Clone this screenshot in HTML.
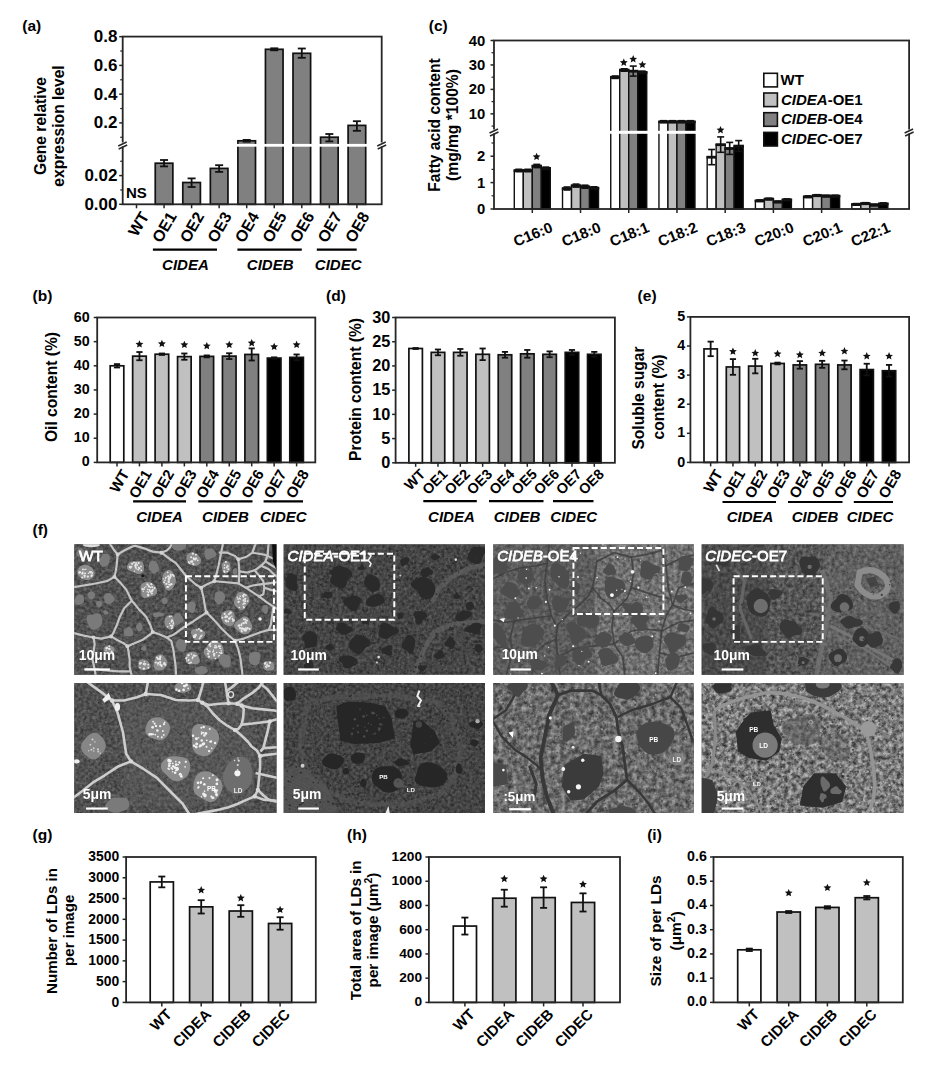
<!DOCTYPE html>
<html><head><meta charset="utf-8"><style>
html,body{margin:0;padding:0;background:#fff;width:934px;height:1067px;overflow:hidden;}
svg{display:block;font-family:"Liberation Sans",sans-serif;}
</style></head><body>
<svg width="934" height="1067" viewBox="0 0 934 1067" font-family="Liberation Sans, sans-serif">
<rect x="0" y="0" width="934" height="1067" fill="#fff"/>
<text x="22.30" y="31.40" font-size="15.5" font-weight="bold" text-anchor="start" fill="#000" >(a)</text>
<rect x="155.25" y="163.20" width="17.60" height="41.10" fill="#808080" stroke="#111" stroke-width="1.7" />
<line x1="164.05" y1="160.00" x2="164.05" y2="166.40" stroke="#111" stroke-width="1.8" />
<line x1="160.05" y1="160.00" x2="168.05" y2="160.00" stroke="#111" stroke-width="1.8" />
<line x1="160.05" y1="166.40" x2="168.05" y2="166.40" stroke="#111" stroke-width="1.8" />
<rect x="182.80" y="182.50" width="17.60" height="21.80" fill="#808080" stroke="#111" stroke-width="1.7" />
<line x1="191.60" y1="178.40" x2="191.60" y2="187.00" stroke="#111" stroke-width="1.8" />
<line x1="187.60" y1="178.40" x2="195.60" y2="178.40" stroke="#111" stroke-width="1.8" />
<line x1="187.60" y1="187.00" x2="195.60" y2="187.00" stroke="#111" stroke-width="1.8" />
<rect x="210.35" y="168.40" width="17.60" height="35.90" fill="#808080" stroke="#111" stroke-width="1.7" />
<line x1="219.15" y1="165.20" x2="219.15" y2="171.90" stroke="#111" stroke-width="1.8" />
<line x1="215.15" y1="165.20" x2="223.15" y2="165.20" stroke="#111" stroke-width="1.8" />
<line x1="215.15" y1="171.90" x2="223.15" y2="171.90" stroke="#111" stroke-width="1.8" />
<rect x="237.90" y="140.80" width="17.60" height="63.50" fill="#808080" stroke="#111" stroke-width="1.7" />
<line x1="246.70" y1="139.90" x2="246.70" y2="141.70" stroke="#111" stroke-width="1.8" />
<line x1="242.70" y1="139.90" x2="250.70" y2="139.90" stroke="#111" stroke-width="1.8" />
<line x1="242.70" y1="141.70" x2="250.70" y2="141.70" stroke="#111" stroke-width="1.8" />
<rect x="265.45" y="49.30" width="17.60" height="155.00" fill="#808080" stroke="#111" stroke-width="1.7" />
<line x1="274.25" y1="48.30" x2="274.25" y2="50.30" stroke="#111" stroke-width="1.8" />
<line x1="270.25" y1="48.30" x2="278.25" y2="48.30" stroke="#111" stroke-width="1.8" />
<line x1="270.25" y1="50.30" x2="278.25" y2="50.30" stroke="#111" stroke-width="1.8" />
<rect x="293.00" y="53.30" width="17.60" height="151.00" fill="#808080" stroke="#111" stroke-width="1.7" />
<line x1="301.80" y1="48.50" x2="301.80" y2="57.80" stroke="#111" stroke-width="1.8" />
<line x1="297.80" y1="48.50" x2="305.80" y2="48.50" stroke="#111" stroke-width="1.8" />
<line x1="297.80" y1="57.80" x2="305.80" y2="57.80" stroke="#111" stroke-width="1.8" />
<rect x="320.55" y="137.20" width="17.60" height="67.10" fill="#808080" stroke="#111" stroke-width="1.7" />
<line x1="329.35" y1="134.00" x2="329.35" y2="141.40" stroke="#111" stroke-width="1.8" />
<line x1="325.35" y1="134.00" x2="333.35" y2="134.00" stroke="#111" stroke-width="1.8" />
<line x1="325.35" y1="141.40" x2="333.35" y2="141.40" stroke="#111" stroke-width="1.8" />
<rect x="348.10" y="125.40" width="17.60" height="78.90" fill="#808080" stroke="#111" stroke-width="1.7" />
<line x1="356.90" y1="121.20" x2="356.90" y2="130.80" stroke="#111" stroke-width="1.8" />
<line x1="352.90" y1="121.20" x2="360.90" y2="121.20" stroke="#111" stroke-width="1.8" />
<line x1="352.90" y1="130.80" x2="360.90" y2="130.80" stroke="#111" stroke-width="1.8" />
<rect x="124.70" y="143.90" width="255.00" height="2.80" fill="#fff" stroke="none" stroke-width="0" />
<rect x="122.70" y="36.60" width="259.00" height="167.70" fill="none" stroke="#262626" stroke-width="1.8" />
<line x1="119.20" y1="36.65" x2="122.70" y2="36.65" stroke="#262626" stroke-width="1.5" />
<text x="117.50" y="36.65" font-size="17" font-weight="bold" text-anchor="end" fill="#000" dominant-baseline="central" >0.8</text>
<line x1="119.20" y1="65.40" x2="122.70" y2="65.40" stroke="#262626" stroke-width="1.5" />
<text x="117.50" y="65.40" font-size="17" font-weight="bold" text-anchor="end" fill="#000" dominant-baseline="central" >0.6</text>
<line x1="119.20" y1="94.15" x2="122.70" y2="94.15" stroke="#262626" stroke-width="1.5" />
<text x="117.50" y="94.15" font-size="17" font-weight="bold" text-anchor="end" fill="#000" dominant-baseline="central" >0.4</text>
<line x1="119.20" y1="122.90" x2="122.70" y2="122.90" stroke="#262626" stroke-width="1.5" />
<text x="117.50" y="122.90" font-size="17" font-weight="bold" text-anchor="end" fill="#000" dominant-baseline="central" >0.2</text>
<line x1="119.20" y1="175.60" x2="122.70" y2="175.60" stroke="#262626" stroke-width="1.5" />
<text x="117.50" y="175.60" font-size="17" font-weight="bold" text-anchor="end" fill="#000" dominant-baseline="central" >0.02</text>
<line x1="119.20" y1="204.30" x2="122.70" y2="204.30" stroke="#262626" stroke-width="1.5" />
<text x="117.50" y="204.30" font-size="17" font-weight="bold" text-anchor="end" fill="#000" dominant-baseline="central" >0.00</text>
<line x1="120.20" y1="51.03" x2="122.70" y2="51.03" stroke="#262626" stroke-width="1.2" />
<line x1="120.20" y1="79.78" x2="122.70" y2="79.78" stroke="#262626" stroke-width="1.2" />
<line x1="120.20" y1="108.53" x2="122.70" y2="108.53" stroke="#262626" stroke-width="1.2" />
<line x1="120.20" y1="137.28" x2="122.70" y2="137.28" stroke="#262626" stroke-width="1.2" />
<line x1="120.20" y1="161.25" x2="122.70" y2="161.25" stroke="#262626" stroke-width="1.2" />
<line x1="120.20" y1="189.95" x2="122.70" y2="189.95" stroke="#262626" stroke-width="1.2" />
<rect x="117.70" y="142.50" width="10" height="4" fill="#fff"/>
<line x1="118.20" y1="146.00" x2="126.70" y2="142.00" stroke="#262626" stroke-width="1.4" />
<line x1="118.70" y1="149.00" x2="127.20" y2="145.00" stroke="#262626" stroke-width="1.4" />
<rect x="376.70" y="142.50" width="10" height="4" fill="#fff"/>
<line x1="377.20" y1="146.00" x2="385.70" y2="142.00" stroke="#262626" stroke-width="1.4" />
<line x1="377.70" y1="149.00" x2="386.20" y2="145.00" stroke="#262626" stroke-width="1.4" />
<line x1="136.50" y1="204.30" x2="136.50" y2="208.30" stroke="#262626" stroke-width="1.5" />
<line x1="164.05" y1="204.30" x2="164.05" y2="208.30" stroke="#262626" stroke-width="1.5" />
<line x1="191.60" y1="204.30" x2="191.60" y2="208.30" stroke="#262626" stroke-width="1.5" />
<line x1="219.15" y1="204.30" x2="219.15" y2="208.30" stroke="#262626" stroke-width="1.5" />
<line x1="246.70" y1="204.30" x2="246.70" y2="208.30" stroke="#262626" stroke-width="1.5" />
<line x1="274.25" y1="204.30" x2="274.25" y2="208.30" stroke="#262626" stroke-width="1.5" />
<line x1="301.80" y1="204.30" x2="301.80" y2="208.30" stroke="#262626" stroke-width="1.5" />
<line x1="329.35" y1="204.30" x2="329.35" y2="208.30" stroke="#262626" stroke-width="1.5" />
<line x1="356.90" y1="204.30" x2="356.90" y2="208.30" stroke="#262626" stroke-width="1.5" />
<text x="126.00" y="197.60" font-size="15" font-weight="bold" text-anchor="start" fill="#000" >NS</text>
<text x="144.80" y="213.30" font-size="16" font-weight="bold" text-anchor="end" fill="#000" dominant-baseline="central" transform="rotate(-60 144.80 213.30)" >WT</text>
<text x="172.35" y="213.30" font-size="16" font-weight="bold" text-anchor="end" fill="#000" dominant-baseline="central" transform="rotate(-60 172.35 213.30)" >OE1</text>
<text x="199.90" y="213.30" font-size="16" font-weight="bold" text-anchor="end" fill="#000" dominant-baseline="central" transform="rotate(-60 199.90 213.30)" >OE2</text>
<text x="227.45" y="213.30" font-size="16" font-weight="bold" text-anchor="end" fill="#000" dominant-baseline="central" transform="rotate(-60 227.45 213.30)" >OE3</text>
<text x="255.00" y="213.30" font-size="16" font-weight="bold" text-anchor="end" fill="#000" dominant-baseline="central" transform="rotate(-60 255.00 213.30)" >OE4</text>
<text x="282.55" y="213.30" font-size="16" font-weight="bold" text-anchor="end" fill="#000" dominant-baseline="central" transform="rotate(-60 282.55 213.30)" >OE5</text>
<text x="310.10" y="213.30" font-size="16" font-weight="bold" text-anchor="end" fill="#000" dominant-baseline="central" transform="rotate(-60 310.10 213.30)" >OE6</text>
<text x="337.65" y="213.30" font-size="16" font-weight="bold" text-anchor="end" fill="#000" dominant-baseline="central" transform="rotate(-60 337.65 213.30)" >OE7</text>
<text x="365.20" y="213.30" font-size="16" font-weight="bold" text-anchor="end" fill="#000" dominant-baseline="central" transform="rotate(-60 365.20 213.30)" >OE8</text>
<line x1="152.90" y1="249.60" x2="217.00" y2="249.60" stroke="#000" stroke-width="2.2" />
<line x1="237.40" y1="249.60" x2="301.80" y2="249.60" stroke="#000" stroke-width="2.2" />
<line x1="316.80" y1="249.60" x2="356.70" y2="249.60" stroke="#000" stroke-width="2.2" />
<text x="185.40" y="270.00" font-size="15" font-weight="bold" font-style="italic" text-anchor="middle" fill="#000" >CIDEA</text>
<text x="270.20" y="270.00" font-size="15" font-weight="bold" font-style="italic" text-anchor="middle" fill="#000" >CIDEB</text>
<text x="338.20" y="270.00" font-size="15" font-weight="bold" font-style="italic" text-anchor="middle" fill="#000" >CIDEC</text>
<text x="40.60" y="126.00" font-size="15.6" font-weight="bold" text-anchor="middle" fill="#000" dominant-baseline="central" transform="rotate(-90 40.60 126.00)" >Gene relative</text>
<text x="58.40" y="126.00" font-size="15.6" font-weight="bold" text-anchor="middle" fill="#000" dominant-baseline="central" transform="rotate(-90 58.40 126.00)" >expression level</text>
<text x="428.80" y="31.20" font-size="15.5" font-weight="bold" text-anchor="start" fill="#000" >(c)</text>
<rect x="514.30" y="170.50" width="9.00" height="38.50" fill="#fff" stroke="#111" stroke-width="1.4" />
<line x1="518.80" y1="169.30" x2="518.80" y2="171.70" stroke="#111" stroke-width="1.6" />
<line x1="515.30" y1="169.30" x2="522.30" y2="169.30" stroke="#111" stroke-width="1.6" />
<line x1="515.30" y1="171.70" x2="522.30" y2="171.70" stroke="#111" stroke-width="1.6" />
<rect x="513.60" y="169.20" width="10.40" height="2.80" fill="#111" stroke="none" stroke-width="0" />
<rect x="523.30" y="170.50" width="9.00" height="38.50" fill="#c0c0c0" stroke="#111" stroke-width="1.4" />
<line x1="527.80" y1="169.30" x2="527.80" y2="171.70" stroke="#111" stroke-width="1.6" />
<line x1="524.30" y1="169.30" x2="531.30" y2="169.30" stroke="#111" stroke-width="1.6" />
<line x1="524.30" y1="171.70" x2="531.30" y2="171.70" stroke="#111" stroke-width="1.6" />
<rect x="522.60" y="169.20" width="10.40" height="2.80" fill="#111" stroke="none" stroke-width="0" />
<rect x="532.30" y="166.00" width="9.00" height="43.00" fill="#808080" stroke="#111" stroke-width="1.4" />
<line x1="536.80" y1="164.40" x2="536.80" y2="167.60" stroke="#111" stroke-width="1.6" />
<line x1="533.30" y1="164.40" x2="540.30" y2="164.40" stroke="#111" stroke-width="1.6" />
<line x1="533.30" y1="167.60" x2="540.30" y2="167.60" stroke="#111" stroke-width="1.6" />
<rect x="531.60" y="164.70" width="10.40" height="2.80" fill="#111" stroke="none" stroke-width="0" />
<rect x="541.30" y="168.30" width="9.00" height="40.70" fill="#000" stroke="#111" stroke-width="1.4" />
<line x1="545.80" y1="167.10" x2="545.80" y2="169.50" stroke="#111" stroke-width="1.6" />
<line x1="542.30" y1="167.10" x2="549.30" y2="167.10" stroke="#111" stroke-width="1.6" />
<line x1="542.30" y1="169.50" x2="549.30" y2="169.50" stroke="#111" stroke-width="1.6" />
<rect x="540.60" y="167.00" width="10.40" height="2.80" fill="#111" stroke="none" stroke-width="0" />
<rect x="562.52" y="188.50" width="9.00" height="20.50" fill="#fff" stroke="#111" stroke-width="1.4" />
<line x1="567.02" y1="187.00" x2="567.02" y2="190.00" stroke="#111" stroke-width="1.6" />
<line x1="563.52" y1="187.00" x2="570.52" y2="187.00" stroke="#111" stroke-width="1.6" />
<line x1="563.52" y1="190.00" x2="570.52" y2="190.00" stroke="#111" stroke-width="1.6" />
<rect x="561.82" y="187.20" width="10.40" height="2.80" fill="#111" stroke="none" stroke-width="0" />
<rect x="571.52" y="185.60" width="9.00" height="23.40" fill="#c0c0c0" stroke="#111" stroke-width="1.4" />
<line x1="576.02" y1="184.10" x2="576.02" y2="187.10" stroke="#111" stroke-width="1.6" />
<line x1="572.52" y1="184.10" x2="579.52" y2="184.10" stroke="#111" stroke-width="1.6" />
<line x1="572.52" y1="187.10" x2="579.52" y2="187.10" stroke="#111" stroke-width="1.6" />
<rect x="570.82" y="184.30" width="10.40" height="2.80" fill="#111" stroke="none" stroke-width="0" />
<rect x="580.52" y="186.70" width="9.00" height="22.30" fill="#808080" stroke="#111" stroke-width="1.4" />
<line x1="585.02" y1="185.20" x2="585.02" y2="188.20" stroke="#111" stroke-width="1.6" />
<line x1="581.52" y1="185.20" x2="588.52" y2="185.20" stroke="#111" stroke-width="1.6" />
<line x1="581.52" y1="188.20" x2="588.52" y2="188.20" stroke="#111" stroke-width="1.6" />
<rect x="579.82" y="185.40" width="10.40" height="2.80" fill="#111" stroke="none" stroke-width="0" />
<rect x="589.52" y="188.00" width="9.00" height="21.00" fill="#000" stroke="#111" stroke-width="1.4" />
<line x1="594.02" y1="186.80" x2="594.02" y2="189.20" stroke="#111" stroke-width="1.6" />
<line x1="590.52" y1="186.80" x2="597.52" y2="186.80" stroke="#111" stroke-width="1.6" />
<line x1="590.52" y1="189.20" x2="597.52" y2="189.20" stroke="#111" stroke-width="1.6" />
<rect x="588.82" y="186.70" width="10.40" height="2.80" fill="#111" stroke="none" stroke-width="0" />
<rect x="610.74" y="77.20" width="9.00" height="131.80" fill="#fff" stroke="#111" stroke-width="1.4" />
<line x1="615.24" y1="76.00" x2="615.24" y2="78.40" stroke="#111" stroke-width="1.6" />
<line x1="611.74" y1="76.00" x2="618.74" y2="76.00" stroke="#111" stroke-width="1.6" />
<line x1="611.74" y1="78.40" x2="618.74" y2="78.40" stroke="#111" stroke-width="1.6" />
<rect x="610.04" y="75.90" width="10.40" height="2.80" fill="#111" stroke="none" stroke-width="0" />
<rect x="619.74" y="70.00" width="9.00" height="139.00" fill="#c0c0c0" stroke="#111" stroke-width="1.4" />
<line x1="624.24" y1="68.80" x2="624.24" y2="71.20" stroke="#111" stroke-width="1.6" />
<line x1="620.74" y1="68.80" x2="627.74" y2="68.80" stroke="#111" stroke-width="1.6" />
<line x1="620.74" y1="71.20" x2="627.74" y2="71.20" stroke="#111" stroke-width="1.6" />
<rect x="619.04" y="68.70" width="10.40" height="2.80" fill="#111" stroke="none" stroke-width="0" />
<rect x="628.74" y="71.10" width="9.00" height="137.90" fill="#808080" stroke="#111" stroke-width="1.4" />
<line x1="633.24" y1="66.10" x2="633.24" y2="76.10" stroke="#111" stroke-width="1.6" />
<line x1="629.74" y1="66.10" x2="636.74" y2="66.10" stroke="#111" stroke-width="1.6" />
<line x1="629.74" y1="76.10" x2="636.74" y2="76.10" stroke="#111" stroke-width="1.6" />
<rect x="628.04" y="69.80" width="10.40" height="2.80" fill="#111" stroke="none" stroke-width="0" />
<rect x="637.74" y="72.30" width="9.00" height="136.70" fill="#000" stroke="#111" stroke-width="1.4" />
<line x1="642.24" y1="71.10" x2="642.24" y2="73.50" stroke="#111" stroke-width="1.6" />
<line x1="638.74" y1="71.10" x2="645.74" y2="71.10" stroke="#111" stroke-width="1.6" />
<line x1="638.74" y1="73.50" x2="645.74" y2="73.50" stroke="#111" stroke-width="1.6" />
<rect x="637.04" y="71.00" width="10.40" height="2.80" fill="#111" stroke="none" stroke-width="0" />
<rect x="658.96" y="121.70" width="9.00" height="87.30" fill="#fff" stroke="#111" stroke-width="1.4" />
<line x1="663.46" y1="120.70" x2="663.46" y2="122.70" stroke="#111" stroke-width="1.6" />
<line x1="659.96" y1="120.70" x2="666.96" y2="120.70" stroke="#111" stroke-width="1.6" />
<line x1="659.96" y1="122.70" x2="666.96" y2="122.70" stroke="#111" stroke-width="1.6" />
<rect x="658.26" y="120.40" width="10.40" height="2.80" fill="#111" stroke="none" stroke-width="0" />
<rect x="667.96" y="121.70" width="9.00" height="87.30" fill="#c0c0c0" stroke="#111" stroke-width="1.4" />
<line x1="672.46" y1="120.70" x2="672.46" y2="122.70" stroke="#111" stroke-width="1.6" />
<line x1="668.96" y1="120.70" x2="675.96" y2="120.70" stroke="#111" stroke-width="1.6" />
<line x1="668.96" y1="122.70" x2="675.96" y2="122.70" stroke="#111" stroke-width="1.6" />
<rect x="667.26" y="120.40" width="10.40" height="2.80" fill="#111" stroke="none" stroke-width="0" />
<rect x="676.96" y="121.70" width="9.00" height="87.30" fill="#808080" stroke="#111" stroke-width="1.4" />
<line x1="681.46" y1="120.70" x2="681.46" y2="122.70" stroke="#111" stroke-width="1.6" />
<line x1="677.96" y1="120.70" x2="684.96" y2="120.70" stroke="#111" stroke-width="1.6" />
<line x1="677.96" y1="122.70" x2="684.96" y2="122.70" stroke="#111" stroke-width="1.6" />
<rect x="676.26" y="120.40" width="10.40" height="2.80" fill="#111" stroke="none" stroke-width="0" />
<rect x="685.96" y="121.70" width="9.00" height="87.30" fill="#000" stroke="#111" stroke-width="1.4" />
<line x1="690.46" y1="120.70" x2="690.46" y2="122.70" stroke="#111" stroke-width="1.6" />
<line x1="686.96" y1="120.70" x2="693.96" y2="120.70" stroke="#111" stroke-width="1.6" />
<line x1="686.96" y1="122.70" x2="693.96" y2="122.70" stroke="#111" stroke-width="1.6" />
<rect x="685.26" y="120.40" width="10.40" height="2.80" fill="#111" stroke="none" stroke-width="0" />
<rect x="707.18" y="157.10" width="9.00" height="51.90" fill="#fff" stroke="#111" stroke-width="1.4" />
<line x1="711.68" y1="149.50" x2="711.68" y2="164.70" stroke="#111" stroke-width="1.6" />
<line x1="708.18" y1="149.50" x2="715.18" y2="149.50" stroke="#111" stroke-width="1.6" />
<line x1="708.18" y1="164.70" x2="715.18" y2="164.70" stroke="#111" stroke-width="1.6" />
<rect x="706.48" y="155.80" width="10.40" height="2.80" fill="#111" stroke="none" stroke-width="0" />
<rect x="716.18" y="144.60" width="9.00" height="64.40" fill="#c0c0c0" stroke="#111" stroke-width="1.4" />
<line x1="720.68" y1="136.90" x2="720.68" y2="152.30" stroke="#111" stroke-width="1.6" />
<line x1="717.18" y1="136.90" x2="724.18" y2="136.90" stroke="#111" stroke-width="1.6" />
<line x1="717.18" y1="152.30" x2="724.18" y2="152.30" stroke="#111" stroke-width="1.6" />
<rect x="715.48" y="143.30" width="10.40" height="2.80" fill="#111" stroke="none" stroke-width="0" />
<rect x="725.18" y="148.40" width="9.00" height="60.60" fill="#808080" stroke="#111" stroke-width="1.4" />
<line x1="729.68" y1="142.40" x2="729.68" y2="154.40" stroke="#111" stroke-width="1.6" />
<line x1="726.18" y1="142.40" x2="733.18" y2="142.40" stroke="#111" stroke-width="1.6" />
<line x1="726.18" y1="154.40" x2="733.18" y2="154.40" stroke="#111" stroke-width="1.6" />
<rect x="724.48" y="147.10" width="10.40" height="2.80" fill="#111" stroke="none" stroke-width="0" />
<rect x="734.18" y="146.00" width="9.00" height="63.00" fill="#000" stroke="#111" stroke-width="1.4" />
<line x1="738.68" y1="140.60" x2="738.68" y2="151.40" stroke="#111" stroke-width="1.6" />
<line x1="735.18" y1="140.60" x2="742.18" y2="140.60" stroke="#111" stroke-width="1.6" />
<line x1="735.18" y1="151.40" x2="742.18" y2="151.40" stroke="#111" stroke-width="1.6" />
<rect x="733.48" y="144.70" width="10.40" height="2.80" fill="#111" stroke="none" stroke-width="0" />
<rect x="755.40" y="200.70" width="9.00" height="8.30" fill="#fff" stroke="#111" stroke-width="1.4" />
<line x1="759.90" y1="199.90" x2="759.90" y2="201.50" stroke="#111" stroke-width="1.6" />
<line x1="756.40" y1="199.90" x2="763.40" y2="199.90" stroke="#111" stroke-width="1.6" />
<line x1="756.40" y1="201.50" x2="763.40" y2="201.50" stroke="#111" stroke-width="1.6" />
<rect x="754.70" y="199.40" width="10.40" height="2.80" fill="#111" stroke="none" stroke-width="0" />
<rect x="764.40" y="199.00" width="9.00" height="10.00" fill="#c0c0c0" stroke="#111" stroke-width="1.4" />
<line x1="768.90" y1="198.20" x2="768.90" y2="199.80" stroke="#111" stroke-width="1.6" />
<line x1="765.40" y1="198.20" x2="772.40" y2="198.20" stroke="#111" stroke-width="1.6" />
<line x1="765.40" y1="199.80" x2="772.40" y2="199.80" stroke="#111" stroke-width="1.6" />
<rect x="763.70" y="197.70" width="10.40" height="2.80" fill="#111" stroke="none" stroke-width="0" />
<rect x="773.40" y="201.80" width="9.00" height="7.20" fill="#808080" stroke="#111" stroke-width="1.4" />
<line x1="777.90" y1="201.00" x2="777.90" y2="202.60" stroke="#111" stroke-width="1.6" />
<line x1="774.40" y1="201.00" x2="781.40" y2="201.00" stroke="#111" stroke-width="1.6" />
<line x1="774.40" y1="202.60" x2="781.40" y2="202.60" stroke="#111" stroke-width="1.6" />
<rect x="772.70" y="200.50" width="10.40" height="2.80" fill="#111" stroke="none" stroke-width="0" />
<rect x="782.40" y="199.70" width="9.00" height="9.30" fill="#000" stroke="#111" stroke-width="1.4" />
<line x1="786.90" y1="198.90" x2="786.90" y2="200.50" stroke="#111" stroke-width="1.6" />
<line x1="783.40" y1="198.90" x2="790.40" y2="198.90" stroke="#111" stroke-width="1.6" />
<line x1="783.40" y1="200.50" x2="790.40" y2="200.50" stroke="#111" stroke-width="1.6" />
<rect x="781.70" y="198.40" width="10.40" height="2.80" fill="#111" stroke="none" stroke-width="0" />
<rect x="803.62" y="196.70" width="9.00" height="12.30" fill="#fff" stroke="#111" stroke-width="1.4" />
<line x1="808.12" y1="195.90" x2="808.12" y2="197.50" stroke="#111" stroke-width="1.6" />
<line x1="804.62" y1="195.90" x2="811.62" y2="195.90" stroke="#111" stroke-width="1.6" />
<line x1="804.62" y1="197.50" x2="811.62" y2="197.50" stroke="#111" stroke-width="1.6" />
<rect x="802.92" y="195.40" width="10.40" height="2.80" fill="#111" stroke="none" stroke-width="0" />
<rect x="812.62" y="195.50" width="9.00" height="13.50" fill="#c0c0c0" stroke="#111" stroke-width="1.4" />
<line x1="817.12" y1="194.70" x2="817.12" y2="196.30" stroke="#111" stroke-width="1.6" />
<line x1="813.62" y1="194.70" x2="820.62" y2="194.70" stroke="#111" stroke-width="1.6" />
<line x1="813.62" y1="196.30" x2="820.62" y2="196.30" stroke="#111" stroke-width="1.6" />
<rect x="811.92" y="194.20" width="10.40" height="2.80" fill="#111" stroke="none" stroke-width="0" />
<rect x="821.62" y="196.00" width="9.00" height="13.00" fill="#808080" stroke="#111" stroke-width="1.4" />
<line x1="826.12" y1="195.20" x2="826.12" y2="196.80" stroke="#111" stroke-width="1.6" />
<line x1="822.62" y1="195.20" x2="829.62" y2="195.20" stroke="#111" stroke-width="1.6" />
<line x1="822.62" y1="196.80" x2="829.62" y2="196.80" stroke="#111" stroke-width="1.6" />
<rect x="820.92" y="194.70" width="10.40" height="2.80" fill="#111" stroke="none" stroke-width="0" />
<rect x="830.62" y="196.00" width="9.00" height="13.00" fill="#000" stroke="#111" stroke-width="1.4" />
<line x1="835.12" y1="195.20" x2="835.12" y2="196.80" stroke="#111" stroke-width="1.6" />
<line x1="831.62" y1="195.20" x2="838.62" y2="195.20" stroke="#111" stroke-width="1.6" />
<line x1="831.62" y1="196.80" x2="838.62" y2="196.80" stroke="#111" stroke-width="1.6" />
<rect x="829.92" y="194.70" width="10.40" height="2.80" fill="#111" stroke="none" stroke-width="0" />
<rect x="851.84" y="204.40" width="9.00" height="4.60" fill="#fff" stroke="#111" stroke-width="1.4" />
<line x1="856.34" y1="203.60" x2="856.34" y2="205.20" stroke="#111" stroke-width="1.6" />
<line x1="852.84" y1="203.60" x2="859.84" y2="203.60" stroke="#111" stroke-width="1.6" />
<line x1="852.84" y1="205.20" x2="859.84" y2="205.20" stroke="#111" stroke-width="1.6" />
<rect x="851.14" y="203.10" width="10.40" height="2.80" fill="#111" stroke="none" stroke-width="0" />
<rect x="860.84" y="203.50" width="9.00" height="5.50" fill="#c0c0c0" stroke="#111" stroke-width="1.4" />
<line x1="865.34" y1="202.70" x2="865.34" y2="204.30" stroke="#111" stroke-width="1.6" />
<line x1="861.84" y1="202.70" x2="868.84" y2="202.70" stroke="#111" stroke-width="1.6" />
<line x1="861.84" y1="204.30" x2="868.84" y2="204.30" stroke="#111" stroke-width="1.6" />
<rect x="860.14" y="202.20" width="10.40" height="2.80" fill="#111" stroke="none" stroke-width="0" />
<rect x="869.84" y="204.90" width="9.00" height="4.10" fill="#808080" stroke="#111" stroke-width="1.4" />
<line x1="874.34" y1="204.10" x2="874.34" y2="205.70" stroke="#111" stroke-width="1.6" />
<line x1="870.84" y1="204.10" x2="877.84" y2="204.10" stroke="#111" stroke-width="1.6" />
<line x1="870.84" y1="205.70" x2="877.84" y2="205.70" stroke="#111" stroke-width="1.6" />
<rect x="869.14" y="203.60" width="10.40" height="2.80" fill="#111" stroke="none" stroke-width="0" />
<rect x="878.84" y="203.70" width="9.00" height="5.30" fill="#000" stroke="#111" stroke-width="1.4" />
<line x1="883.34" y1="202.90" x2="883.34" y2="204.50" stroke="#111" stroke-width="1.6" />
<line x1="879.84" y1="202.90" x2="886.84" y2="202.90" stroke="#111" stroke-width="1.6" />
<line x1="879.84" y1="204.50" x2="886.84" y2="204.50" stroke="#111" stroke-width="1.6" />
<rect x="878.14" y="202.40" width="10.40" height="2.80" fill="#111" stroke="none" stroke-width="0" />
<rect x="496.00" y="130.80" width="411.10" height="3.00" fill="#fff" stroke="none" stroke-width="0" />
<rect x="494.00" y="40.50" width="415.10" height="168.50" fill="none" stroke="#262626" stroke-width="1.8" />
<line x1="490.50" y1="40.50" x2="494.00" y2="40.50" stroke="#262626" stroke-width="1.5" />
<text x="485.20" y="40.50" font-size="14.8" font-weight="bold" text-anchor="end" fill="#000" dominant-baseline="central" >40</text>
<line x1="490.50" y1="64.95" x2="494.00" y2="64.95" stroke="#262626" stroke-width="1.5" />
<text x="485.20" y="64.95" font-size="14.8" font-weight="bold" text-anchor="end" fill="#000" dominant-baseline="central" >30</text>
<line x1="490.50" y1="89.40" x2="494.00" y2="89.40" stroke="#262626" stroke-width="1.5" />
<text x="485.20" y="89.40" font-size="14.8" font-weight="bold" text-anchor="end" fill="#000" dominant-baseline="central" >20</text>
<line x1="490.50" y1="113.85" x2="494.00" y2="113.85" stroke="#262626" stroke-width="1.5" />
<text x="485.20" y="113.85" font-size="14.8" font-weight="bold" text-anchor="end" fill="#000" dominant-baseline="central" >10</text>
<line x1="490.50" y1="156.20" x2="494.00" y2="156.20" stroke="#262626" stroke-width="1.5" />
<text x="485.20" y="156.20" font-size="14.8" font-weight="bold" text-anchor="end" fill="#000" dominant-baseline="central" >2</text>
<line x1="490.50" y1="182.60" x2="494.00" y2="182.60" stroke="#262626" stroke-width="1.5" />
<text x="485.20" y="182.60" font-size="14.8" font-weight="bold" text-anchor="end" fill="#000" dominant-baseline="central" >1</text>
<line x1="490.50" y1="209.00" x2="494.00" y2="209.00" stroke="#262626" stroke-width="1.5" />
<text x="485.20" y="209.00" font-size="14.8" font-weight="bold" text-anchor="end" fill="#000" dominant-baseline="central" >0</text>
<line x1="491.50" y1="52.73" x2="494.00" y2="52.73" stroke="#262626" stroke-width="1.2" />
<line x1="491.50" y1="77.17" x2="494.00" y2="77.17" stroke="#262626" stroke-width="1.2" />
<line x1="491.50" y1="101.62" x2="494.00" y2="101.62" stroke="#262626" stroke-width="1.2" />
<line x1="491.50" y1="126.07" x2="494.00" y2="126.07" stroke="#262626" stroke-width="1.2" />
<line x1="491.50" y1="143.00" x2="494.00" y2="143.00" stroke="#262626" stroke-width="1.2" />
<line x1="491.50" y1="169.40" x2="494.00" y2="169.40" stroke="#262626" stroke-width="1.2" />
<line x1="491.50" y1="195.80" x2="494.00" y2="195.80" stroke="#262626" stroke-width="1.2" />
<rect x="489.00" y="129.50" width="10" height="4" fill="#fff"/>
<line x1="489.50" y1="133.00" x2="498.00" y2="129.00" stroke="#262626" stroke-width="1.4" />
<line x1="490.00" y1="136.00" x2="498.50" y2="132.00" stroke="#262626" stroke-width="1.4" />
<rect x="904.10" y="129.50" width="10" height="4" fill="#fff"/>
<line x1="904.60" y1="133.00" x2="913.10" y2="129.00" stroke="#262626" stroke-width="1.4" />
<line x1="905.10" y1="136.00" x2="913.60" y2="132.00" stroke="#262626" stroke-width="1.4" />
<line x1="532.30" y1="209.00" x2="532.30" y2="213.00" stroke="#262626" stroke-width="1.5" />
<line x1="580.52" y1="209.00" x2="580.52" y2="213.00" stroke="#262626" stroke-width="1.5" />
<line x1="628.74" y1="209.00" x2="628.74" y2="213.00" stroke="#262626" stroke-width="1.5" />
<line x1="676.96" y1="209.00" x2="676.96" y2="213.00" stroke="#262626" stroke-width="1.5" />
<line x1="725.18" y1="209.00" x2="725.18" y2="213.00" stroke="#262626" stroke-width="1.5" />
<line x1="773.40" y1="209.00" x2="773.40" y2="213.00" stroke="#262626" stroke-width="1.5" />
<line x1="821.62" y1="209.00" x2="821.62" y2="213.00" stroke="#262626" stroke-width="1.5" />
<line x1="869.84" y1="209.00" x2="869.84" y2="213.00" stroke="#262626" stroke-width="1.5" />
<polygon points="536.60,152.70 535.48,155.26 532.70,155.53 534.79,157.39 534.19,160.12 536.60,158.70 539.01,160.12 538.41,157.39 540.50,155.53 537.72,155.26" fill="#111"/>
<polygon points="623.80,58.50 622.68,61.06 619.90,61.33 621.99,63.19 621.39,65.92 623.80,64.50 626.21,65.92 625.61,63.19 627.70,61.33 624.92,61.06" fill="#111"/>
<polygon points="633.20,55.10 632.08,57.66 629.30,57.93 631.39,59.79 630.79,62.52 633.20,61.10 635.61,62.52 635.01,59.79 637.10,57.93 634.32,57.66" fill="#111"/>
<polygon points="642.40,60.70 641.28,63.26 638.50,63.53 640.59,65.39 639.99,68.12 642.40,66.70 644.81,68.12 644.21,65.39 646.30,63.53 643.52,63.26" fill="#111"/>
<polygon points="720.50,126.00 719.38,128.56 716.60,128.83 718.69,130.69 718.09,133.42 720.50,132.00 722.91,133.42 722.31,130.69 724.40,128.83 721.62,128.56" fill="#111"/>
<text x="532.80" y="234.00" font-size="15" font-weight="bold" text-anchor="middle" fill="#000" dominant-baseline="central" transform="rotate(-22 532.80 234.00)" >C16:0</text>
<text x="581.02" y="234.00" font-size="15" font-weight="bold" text-anchor="middle" fill="#000" dominant-baseline="central" transform="rotate(-22 581.02 234.00)" >C18:0</text>
<text x="629.24" y="234.00" font-size="15" font-weight="bold" text-anchor="middle" fill="#000" dominant-baseline="central" transform="rotate(-22 629.24 234.00)" >C18:1</text>
<text x="677.46" y="234.00" font-size="15" font-weight="bold" text-anchor="middle" fill="#000" dominant-baseline="central" transform="rotate(-22 677.46 234.00)" >C18:2</text>
<text x="725.68" y="234.00" font-size="15" font-weight="bold" text-anchor="middle" fill="#000" dominant-baseline="central" transform="rotate(-22 725.68 234.00)" >C18:3</text>
<text x="773.90" y="234.00" font-size="15" font-weight="bold" text-anchor="middle" fill="#000" dominant-baseline="central" transform="rotate(-22 773.90 234.00)" >C20:0</text>
<text x="822.12" y="234.00" font-size="15" font-weight="bold" text-anchor="middle" fill="#000" dominant-baseline="central" transform="rotate(-22 822.12 234.00)" >C20:1</text>
<text x="870.34" y="234.00" font-size="15" font-weight="bold" text-anchor="middle" fill="#000" dominant-baseline="central" transform="rotate(-22 870.34 234.00)" >C22:1</text>
<rect x="763.80" y="73.30" width="13.60" height="13.60" fill="#fff" stroke="#111" stroke-width="1.6" />
<text x="780.50" y="85.00" font-size="15" font-weight="bold" text-anchor="start" fill="#000" >WT</text>
<rect x="763.80" y="93.00" width="13.60" height="13.60" fill="#c0c0c0" stroke="#111" stroke-width="1.6" />
<text x="781" y="104.70" font-size="15" font-weight="bold" fill="#000"><tspan font-style="italic">CIDEA</tspan>-OE1</text>
<rect x="763.80" y="112.70" width="13.60" height="13.60" fill="#808080" stroke="#111" stroke-width="1.6" />
<text x="781" y="124.40" font-size="15" font-weight="bold" fill="#000"><tspan font-style="italic">CIDEB</tspan>-OE4</text>
<rect x="763.80" y="132.40" width="13.60" height="13.60" fill="#000" stroke="#111" stroke-width="1.6" />
<text x="781" y="144.10" font-size="15" font-weight="bold" fill="#000"><tspan font-style="italic">CIDEC</tspan>-OE7</text>
<text x="434.40" y="125.00" font-size="15.6" font-weight="bold" text-anchor="middle" fill="#000" dominant-baseline="central" transform="rotate(-90 434.40 125.00)" >Fatty acid content</text>
<text x="452.60" y="125.00" font-size="15.6" font-weight="bold" text-anchor="middle" fill="#000" dominant-baseline="central" transform="rotate(-90 452.60 125.00)" >(mg/mg *100%)</text>
<text x="32.50" y="300.50" font-size="15.5" font-weight="bold" text-anchor="start" fill="#000" >(b)</text>
<rect x="110.20" y="365.80" width="13.60" height="96.60" fill="#fff" stroke="#111" stroke-width="1.7" />
<line x1="117.00" y1="364.11" x2="117.00" y2="367.49" stroke="#111" stroke-width="1.8" />
<line x1="113.90" y1="364.11" x2="120.10" y2="364.11" stroke="#111" stroke-width="1.8" />
<line x1="113.90" y1="367.49" x2="120.10" y2="367.49" stroke="#111" stroke-width="1.8" />
<rect x="132.65" y="356.14" width="13.60" height="106.26" fill="#c0c0c0" stroke="#111" stroke-width="1.7" />
<line x1="139.45" y1="352.03" x2="139.45" y2="360.25" stroke="#111" stroke-width="1.8" />
<line x1="136.35" y1="352.03" x2="142.55" y2="352.03" stroke="#111" stroke-width="1.8" />
<line x1="136.35" y1="360.25" x2="142.55" y2="360.25" stroke="#111" stroke-width="1.8" />
<polygon points="139.45,340.20 138.33,342.76 135.55,343.03 137.64,344.89 137.04,347.62 139.45,346.20 141.86,347.62 141.26,344.89 143.35,343.03 140.57,342.76" fill="#111"/>
<rect x="155.10" y="354.21" width="13.60" height="108.19" fill="#c0c0c0" stroke="#111" stroke-width="1.7" />
<line x1="161.90" y1="353.48" x2="161.90" y2="354.93" stroke="#111" stroke-width="1.8" />
<line x1="158.80" y1="353.48" x2="165.00" y2="353.48" stroke="#111" stroke-width="1.8" />
<line x1="158.80" y1="354.93" x2="165.00" y2="354.93" stroke="#111" stroke-width="1.8" />
<polygon points="161.90,339.70 160.78,342.26 158.00,342.53 160.09,344.39 159.49,347.12 161.90,345.70 164.31,347.12 163.71,344.39 165.80,342.53 163.02,342.26" fill="#111"/>
<rect x="177.55" y="356.62" width="13.60" height="105.78" fill="#c0c0c0" stroke="#111" stroke-width="1.7" />
<line x1="184.35" y1="353.48" x2="184.35" y2="359.76" stroke="#111" stroke-width="1.8" />
<line x1="181.25" y1="353.48" x2="187.45" y2="353.48" stroke="#111" stroke-width="1.8" />
<line x1="181.25" y1="359.76" x2="187.45" y2="359.76" stroke="#111" stroke-width="1.8" />
<polygon points="184.35,340.70 183.23,343.26 180.45,343.53 182.54,345.39 181.94,348.12 184.35,346.70 186.76,348.12 186.16,345.39 188.25,343.53 185.47,343.26" fill="#111"/>
<rect x="200.00" y="356.38" width="13.60" height="106.02" fill="#808080" stroke="#111" stroke-width="1.7" />
<line x1="206.80" y1="355.42" x2="206.80" y2="357.35" stroke="#111" stroke-width="1.8" />
<line x1="203.70" y1="355.42" x2="209.90" y2="355.42" stroke="#111" stroke-width="1.8" />
<line x1="203.70" y1="357.35" x2="209.90" y2="357.35" stroke="#111" stroke-width="1.8" />
<polygon points="206.80,341.90 205.68,344.46 202.90,344.73 204.99,346.59 204.39,349.32 206.80,347.90 209.21,349.32 208.61,346.59 210.70,344.73 207.92,344.46" fill="#111"/>
<rect x="222.45" y="356.14" width="13.60" height="106.26" fill="#808080" stroke="#111" stroke-width="1.7" />
<line x1="229.25" y1="353.24" x2="229.25" y2="359.04" stroke="#111" stroke-width="1.8" />
<line x1="226.15" y1="353.24" x2="232.35" y2="353.24" stroke="#111" stroke-width="1.8" />
<line x1="226.15" y1="359.04" x2="232.35" y2="359.04" stroke="#111" stroke-width="1.8" />
<polygon points="229.25,340.70 228.13,343.26 225.35,343.53 227.44,345.39 226.84,348.12 229.25,346.70 231.66,348.12 231.06,345.39 233.15,343.53 230.37,343.26" fill="#111"/>
<rect x="244.90" y="354.45" width="13.60" height="107.95" fill="#808080" stroke="#111" stroke-width="1.7" />
<line x1="251.70" y1="348.41" x2="251.70" y2="360.49" stroke="#111" stroke-width="1.8" />
<line x1="248.60" y1="348.41" x2="254.80" y2="348.41" stroke="#111" stroke-width="1.8" />
<line x1="248.60" y1="360.49" x2="254.80" y2="360.49" stroke="#111" stroke-width="1.8" />
<polygon points="251.70,339.00 250.58,341.56 247.80,341.83 249.89,343.69 249.29,346.42 251.70,345.00 254.11,346.42 253.51,343.69 255.60,341.83 252.82,341.56" fill="#111"/>
<rect x="267.35" y="358.07" width="13.60" height="104.33" fill="#000" stroke="#111" stroke-width="1.7" />
<line x1="274.15" y1="357.35" x2="274.15" y2="358.80" stroke="#111" stroke-width="1.8" />
<line x1="271.05" y1="357.35" x2="277.25" y2="357.35" stroke="#111" stroke-width="1.8" />
<line x1="271.05" y1="358.80" x2="277.25" y2="358.80" stroke="#111" stroke-width="1.8" />
<polygon points="274.15,342.70 273.03,345.26 270.25,345.53 272.34,347.39 271.74,350.12 274.15,348.70 276.56,350.12 275.96,347.39 278.05,345.53 275.27,345.26" fill="#111"/>
<rect x="289.80" y="357.35" width="13.60" height="105.05" fill="#000" stroke="#111" stroke-width="1.7" />
<line x1="296.60" y1="354.45" x2="296.60" y2="360.25" stroke="#111" stroke-width="1.8" />
<line x1="293.50" y1="354.45" x2="299.70" y2="354.45" stroke="#111" stroke-width="1.8" />
<line x1="293.50" y1="360.25" x2="299.70" y2="360.25" stroke="#111" stroke-width="1.8" />
<polygon points="296.60,340.70 295.48,343.26 292.70,343.53 294.79,345.39 294.19,348.12 296.60,346.70 299.01,348.12 298.41,345.39 300.50,343.53 297.72,343.26" fill="#111"/>
<rect x="97.20" y="317.50" width="218.10" height="144.90" fill="none" stroke="#262626" stroke-width="1.8" />
<line x1="93.70" y1="462.40" x2="97.20" y2="462.40" stroke="#262626" stroke-width="1.5" />
<text x="89.60" y="461.40" font-size="14.3" font-weight="bold" text-anchor="end" fill="#000" dominant-baseline="central" >0</text>
<line x1="93.70" y1="438.25" x2="97.20" y2="438.25" stroke="#262626" stroke-width="1.5" />
<text x="89.60" y="437.25" font-size="14.3" font-weight="bold" text-anchor="end" fill="#000" dominant-baseline="central" >10</text>
<line x1="93.70" y1="414.10" x2="97.20" y2="414.10" stroke="#262626" stroke-width="1.5" />
<text x="89.60" y="413.10" font-size="14.3" font-weight="bold" text-anchor="end" fill="#000" dominant-baseline="central" >20</text>
<line x1="93.70" y1="389.95" x2="97.20" y2="389.95" stroke="#262626" stroke-width="1.5" />
<text x="89.60" y="388.95" font-size="14.3" font-weight="bold" text-anchor="end" fill="#000" dominant-baseline="central" >30</text>
<line x1="93.70" y1="365.80" x2="97.20" y2="365.80" stroke="#262626" stroke-width="1.5" />
<text x="89.60" y="364.80" font-size="14.3" font-weight="bold" text-anchor="end" fill="#000" dominant-baseline="central" >40</text>
<line x1="93.70" y1="341.65" x2="97.20" y2="341.65" stroke="#262626" stroke-width="1.5" />
<text x="89.60" y="340.65" font-size="14.3" font-weight="bold" text-anchor="end" fill="#000" dominant-baseline="central" >50</text>
<line x1="93.70" y1="317.50" x2="97.20" y2="317.50" stroke="#262626" stroke-width="1.5" />
<text x="89.60" y="316.50" font-size="14.3" font-weight="bold" text-anchor="end" fill="#000" dominant-baseline="central" >60</text>
<line x1="117.00" y1="462.40" x2="117.00" y2="466.40" stroke="#262626" stroke-width="1.5" />
<line x1="139.45" y1="462.40" x2="139.45" y2="466.40" stroke="#262626" stroke-width="1.5" />
<line x1="161.90" y1="462.40" x2="161.90" y2="466.40" stroke="#262626" stroke-width="1.5" />
<line x1="184.35" y1="462.40" x2="184.35" y2="466.40" stroke="#262626" stroke-width="1.5" />
<line x1="206.80" y1="462.40" x2="206.80" y2="466.40" stroke="#262626" stroke-width="1.5" />
<line x1="229.25" y1="462.40" x2="229.25" y2="466.40" stroke="#262626" stroke-width="1.5" />
<line x1="251.70" y1="462.40" x2="251.70" y2="466.40" stroke="#262626" stroke-width="1.5" />
<line x1="274.15" y1="462.40" x2="274.15" y2="466.40" stroke="#262626" stroke-width="1.5" />
<line x1="296.60" y1="462.40" x2="296.60" y2="466.40" stroke="#262626" stroke-width="1.5" />
<text x="125.00" y="470.70" font-size="15" font-weight="bold" text-anchor="end" fill="#000" dominant-baseline="central" transform="rotate(-60 125.00 470.70)" >WT</text>
<text x="147.45" y="470.70" font-size="15" font-weight="bold" text-anchor="end" fill="#000" dominant-baseline="central" transform="rotate(-60 147.45 470.70)" >OE1</text>
<text x="169.90" y="470.70" font-size="15" font-weight="bold" text-anchor="end" fill="#000" dominant-baseline="central" transform="rotate(-60 169.90 470.70)" >OE2</text>
<text x="192.35" y="470.70" font-size="15" font-weight="bold" text-anchor="end" fill="#000" dominant-baseline="central" transform="rotate(-60 192.35 470.70)" >OE3</text>
<text x="214.80" y="470.70" font-size="15" font-weight="bold" text-anchor="end" fill="#000" dominant-baseline="central" transform="rotate(-60 214.80 470.70)" >OE4</text>
<text x="237.25" y="470.70" font-size="15" font-weight="bold" text-anchor="end" fill="#000" dominant-baseline="central" transform="rotate(-60 237.25 470.70)" >OE5</text>
<text x="259.70" y="470.70" font-size="15" font-weight="bold" text-anchor="end" fill="#000" dominant-baseline="central" transform="rotate(-60 259.70 470.70)" >OE6</text>
<text x="282.15" y="470.70" font-size="15" font-weight="bold" text-anchor="end" fill="#000" dominant-baseline="central" transform="rotate(-60 282.15 470.70)" >OE7</text>
<text x="304.60" y="470.70" font-size="15" font-weight="bold" text-anchor="end" fill="#000" dominant-baseline="central" transform="rotate(-60 304.60 470.70)" >OE8</text>
<line x1="133.10" y1="501.40" x2="186.00" y2="501.40" stroke="#000" stroke-width="2.2" />
<line x1="198.30" y1="501.40" x2="252.50" y2="501.40" stroke="#000" stroke-width="2.2" />
<line x1="263.60" y1="501.40" x2="303.00" y2="501.40" stroke="#000" stroke-width="2.2" />
<text x="159.50" y="521.70" font-size="15" font-weight="bold" font-style="italic" text-anchor="middle" fill="#000" >CIDEA</text>
<text x="225.40" y="521.70" font-size="15" font-weight="bold" font-style="italic" text-anchor="middle" fill="#000" >CIDEB</text>
<text x="283.30" y="521.70" font-size="15" font-weight="bold" font-style="italic" text-anchor="middle" fill="#000" >CIDEC</text>
<text x="51.70" y="387.00" font-size="15.6" font-weight="bold" text-anchor="middle" fill="#000" dominant-baseline="central" transform="rotate(-90 51.70 387.00)" >Oil content (%)</text>
<text x="326.00" y="300.50" font-size="15.5" font-weight="bold" text-anchor="start" fill="#000" >(d)</text>
<rect x="408.90" y="348.50" width="13.50" height="114.30" fill="#fff" stroke="#111" stroke-width="1.7" />
<line x1="415.65" y1="348.01" x2="415.65" y2="348.98" stroke="#111" stroke-width="1.8" />
<line x1="412.55" y1="348.01" x2="418.75" y2="348.01" stroke="#111" stroke-width="1.8" />
<line x1="412.55" y1="348.98" x2="418.75" y2="348.98" stroke="#111" stroke-width="1.8" />
<rect x="431.23" y="352.37" width="13.50" height="110.43" fill="#c0c0c0" stroke="#111" stroke-width="1.7" />
<line x1="437.98" y1="349.47" x2="437.98" y2="355.28" stroke="#111" stroke-width="1.8" />
<line x1="434.88" y1="349.47" x2="441.08" y2="349.47" stroke="#111" stroke-width="1.8" />
<line x1="434.88" y1="355.28" x2="441.08" y2="355.28" stroke="#111" stroke-width="1.8" />
<rect x="453.56" y="352.37" width="13.50" height="110.43" fill="#c0c0c0" stroke="#111" stroke-width="1.7" />
<line x1="460.31" y1="348.98" x2="460.31" y2="355.76" stroke="#111" stroke-width="1.8" />
<line x1="457.21" y1="348.98" x2="463.41" y2="348.98" stroke="#111" stroke-width="1.8" />
<line x1="457.21" y1="355.76" x2="463.41" y2="355.76" stroke="#111" stroke-width="1.8" />
<rect x="475.89" y="354.31" width="13.50" height="108.49" fill="#c0c0c0" stroke="#111" stroke-width="1.7" />
<line x1="482.64" y1="348.50" x2="482.64" y2="360.12" stroke="#111" stroke-width="1.8" />
<line x1="479.54" y1="348.50" x2="485.74" y2="348.50" stroke="#111" stroke-width="1.8" />
<line x1="479.54" y1="360.12" x2="485.74" y2="360.12" stroke="#111" stroke-width="1.8" />
<rect x="498.22" y="354.79" width="13.50" height="108.01" fill="#808080" stroke="#111" stroke-width="1.7" />
<line x1="504.97" y1="351.89" x2="504.97" y2="357.70" stroke="#111" stroke-width="1.8" />
<line x1="501.87" y1="351.89" x2="508.07" y2="351.89" stroke="#111" stroke-width="1.8" />
<line x1="501.87" y1="357.70" x2="508.07" y2="357.70" stroke="#111" stroke-width="1.8" />
<rect x="520.55" y="353.82" width="13.50" height="108.98" fill="#808080" stroke="#111" stroke-width="1.7" />
<line x1="527.30" y1="349.95" x2="527.30" y2="357.70" stroke="#111" stroke-width="1.8" />
<line x1="524.20" y1="349.95" x2="530.40" y2="349.95" stroke="#111" stroke-width="1.8" />
<line x1="524.20" y1="357.70" x2="530.40" y2="357.70" stroke="#111" stroke-width="1.8" />
<rect x="542.88" y="354.31" width="13.50" height="108.49" fill="#808080" stroke="#111" stroke-width="1.7" />
<line x1="549.63" y1="351.40" x2="549.63" y2="357.22" stroke="#111" stroke-width="1.8" />
<line x1="546.53" y1="351.40" x2="552.73" y2="351.40" stroke="#111" stroke-width="1.8" />
<line x1="546.53" y1="357.22" x2="552.73" y2="357.22" stroke="#111" stroke-width="1.8" />
<rect x="565.21" y="352.37" width="13.50" height="110.43" fill="#000" stroke="#111" stroke-width="1.7" />
<line x1="571.96" y1="349.95" x2="571.96" y2="354.79" stroke="#111" stroke-width="1.8" />
<line x1="568.86" y1="349.95" x2="575.06" y2="349.95" stroke="#111" stroke-width="1.8" />
<line x1="568.86" y1="354.79" x2="575.06" y2="354.79" stroke="#111" stroke-width="1.8" />
<rect x="587.54" y="354.31" width="13.50" height="108.49" fill="#000" stroke="#111" stroke-width="1.7" />
<line x1="594.29" y1="351.89" x2="594.29" y2="356.73" stroke="#111" stroke-width="1.8" />
<line x1="591.19" y1="351.89" x2="597.39" y2="351.89" stroke="#111" stroke-width="1.8" />
<line x1="591.19" y1="356.73" x2="597.39" y2="356.73" stroke="#111" stroke-width="1.8" />
<rect x="395.60" y="317.50" width="219.30" height="145.30" fill="none" stroke="#262626" stroke-width="1.8" />
<line x1="392.10" y1="462.80" x2="395.60" y2="462.80" stroke="#262626" stroke-width="1.5" />
<text x="390.30" y="462.10" font-size="16.3" font-weight="bold" text-anchor="end" fill="#000" dominant-baseline="central" >0</text>
<line x1="392.10" y1="438.58" x2="395.60" y2="438.58" stroke="#262626" stroke-width="1.5" />
<text x="390.30" y="437.88" font-size="16.3" font-weight="bold" text-anchor="end" fill="#000" dominant-baseline="central" >5</text>
<line x1="392.10" y1="414.37" x2="395.60" y2="414.37" stroke="#262626" stroke-width="1.5" />
<text x="390.30" y="413.67" font-size="16.3" font-weight="bold" text-anchor="end" fill="#000" dominant-baseline="central" >10</text>
<line x1="392.10" y1="390.15" x2="395.60" y2="390.15" stroke="#262626" stroke-width="1.5" />
<text x="390.30" y="389.45" font-size="16.3" font-weight="bold" text-anchor="end" fill="#000" dominant-baseline="central" >15</text>
<line x1="392.10" y1="365.93" x2="395.60" y2="365.93" stroke="#262626" stroke-width="1.5" />
<text x="390.30" y="365.23" font-size="16.3" font-weight="bold" text-anchor="end" fill="#000" dominant-baseline="central" >20</text>
<line x1="392.10" y1="341.72" x2="395.60" y2="341.72" stroke="#262626" stroke-width="1.5" />
<text x="390.30" y="341.02" font-size="16.3" font-weight="bold" text-anchor="end" fill="#000" dominant-baseline="central" >25</text>
<line x1="392.10" y1="317.50" x2="395.60" y2="317.50" stroke="#262626" stroke-width="1.5" />
<text x="390.30" y="316.80" font-size="16.3" font-weight="bold" text-anchor="end" fill="#000" dominant-baseline="central" >30</text>
<line x1="415.65" y1="462.80" x2="415.65" y2="466.80" stroke="#262626" stroke-width="1.5" />
<line x1="437.98" y1="462.80" x2="437.98" y2="466.80" stroke="#262626" stroke-width="1.5" />
<line x1="460.31" y1="462.80" x2="460.31" y2="466.80" stroke="#262626" stroke-width="1.5" />
<line x1="482.64" y1="462.80" x2="482.64" y2="466.80" stroke="#262626" stroke-width="1.5" />
<line x1="504.97" y1="462.80" x2="504.97" y2="466.80" stroke="#262626" stroke-width="1.5" />
<line x1="527.30" y1="462.80" x2="527.30" y2="466.80" stroke="#262626" stroke-width="1.5" />
<line x1="549.63" y1="462.80" x2="549.63" y2="466.80" stroke="#262626" stroke-width="1.5" />
<line x1="571.96" y1="462.80" x2="571.96" y2="466.80" stroke="#262626" stroke-width="1.5" />
<line x1="594.29" y1="462.80" x2="594.29" y2="466.80" stroke="#262626" stroke-width="1.5" />
<text x="422.65" y="471.60" font-size="14.4" font-weight="bold" text-anchor="end" fill="#000" dominant-baseline="central" transform="rotate(-45 422.65 471.60)" >WT</text>
<text x="444.98" y="471.60" font-size="14.4" font-weight="bold" text-anchor="end" fill="#000" dominant-baseline="central" transform="rotate(-45 444.98 471.60)" >OE1</text>
<text x="467.31" y="471.60" font-size="14.4" font-weight="bold" text-anchor="end" fill="#000" dominant-baseline="central" transform="rotate(-45 467.31 471.60)" >OE2</text>
<text x="489.64" y="471.60" font-size="14.4" font-weight="bold" text-anchor="end" fill="#000" dominant-baseline="central" transform="rotate(-45 489.64 471.60)" >OE3</text>
<text x="511.97" y="471.60" font-size="14.4" font-weight="bold" text-anchor="end" fill="#000" dominant-baseline="central" transform="rotate(-45 511.97 471.60)" >OE4</text>
<text x="534.30" y="471.60" font-size="14.4" font-weight="bold" text-anchor="end" fill="#000" dominant-baseline="central" transform="rotate(-45 534.30 471.60)" >OE5</text>
<text x="556.63" y="471.60" font-size="14.4" font-weight="bold" text-anchor="end" fill="#000" dominant-baseline="central" transform="rotate(-45 556.63 471.60)" >OE6</text>
<text x="578.96" y="471.60" font-size="14.4" font-weight="bold" text-anchor="end" fill="#000" dominant-baseline="central" transform="rotate(-45 578.96 471.60)" >OE7</text>
<text x="601.29" y="471.60" font-size="14.4" font-weight="bold" text-anchor="end" fill="#000" dominant-baseline="central" transform="rotate(-45 601.29 471.60)" >OE8</text>
<line x1="423.30" y1="501.20" x2="476.80" y2="501.20" stroke="#000" stroke-width="2.2" />
<line x1="489.00" y1="501.20" x2="543.50" y2="501.20" stroke="#000" stroke-width="2.2" />
<line x1="553.00" y1="501.20" x2="593.50" y2="501.20" stroke="#000" stroke-width="2.2" />
<text x="451.40" y="521.50" font-size="15" font-weight="bold" font-style="italic" text-anchor="middle" fill="#000" >CIDEA</text>
<text x="517.00" y="521.50" font-size="15" font-weight="bold" font-style="italic" text-anchor="middle" fill="#000" >CIDEB</text>
<text x="573.70" y="521.50" font-size="15" font-weight="bold" font-style="italic" text-anchor="middle" fill="#000" >CIDEC</text>
<text x="355.40" y="389.50" font-size="15.6" font-weight="bold" text-anchor="middle" fill="#000" dominant-baseline="central" transform="rotate(-90 355.40 389.50)" >Protein content (%)</text>
<text x="637.60" y="300.50" font-size="15.5" font-weight="bold" text-anchor="start" fill="#000" >(e)</text>
<rect x="704.00" y="348.91" width="13.30" height="113.49" fill="#fff" stroke="#111" stroke-width="1.7" />
<line x1="710.65" y1="341.63" x2="710.65" y2="356.18" stroke="#111" stroke-width="1.8" />
<line x1="707.55" y1="341.63" x2="713.75" y2="341.63" stroke="#111" stroke-width="1.8" />
<line x1="707.55" y1="356.18" x2="713.75" y2="356.18" stroke="#111" stroke-width="1.8" />
<rect x="726.30" y="366.95" width="13.30" height="95.45" fill="#c0c0c0" stroke="#111" stroke-width="1.7" />
<line x1="732.95" y1="359.09" x2="732.95" y2="374.81" stroke="#111" stroke-width="1.8" />
<line x1="729.85" y1="359.09" x2="736.05" y2="359.09" stroke="#111" stroke-width="1.8" />
<line x1="729.85" y1="374.81" x2="736.05" y2="374.81" stroke="#111" stroke-width="1.8" />
<polygon points="732.95,347.40 731.83,349.96 729.05,350.23 731.14,352.09 730.54,354.82 732.95,353.40 735.36,354.82 734.76,352.09 736.85,350.23 734.07,349.96" fill="#111"/>
<rect x="748.60" y="366.08" width="13.30" height="96.32" fill="#c0c0c0" stroke="#111" stroke-width="1.7" />
<line x1="755.25" y1="358.80" x2="755.25" y2="373.35" stroke="#111" stroke-width="1.8" />
<line x1="752.15" y1="358.80" x2="758.35" y2="358.80" stroke="#111" stroke-width="1.8" />
<line x1="752.15" y1="373.35" x2="758.35" y2="373.35" stroke="#111" stroke-width="1.8" />
<polygon points="755.25,349.10 754.13,351.66 751.35,351.93 753.44,353.79 752.84,356.52 755.25,355.10 757.66,356.52 757.06,353.79 759.15,351.93 756.37,351.66" fill="#111"/>
<rect x="770.90" y="363.46" width="13.30" height="98.94" fill="#c0c0c0" stroke="#111" stroke-width="1.7" />
<line x1="777.55" y1="362.59" x2="777.55" y2="364.33" stroke="#111" stroke-width="1.8" />
<line x1="774.45" y1="362.59" x2="780.65" y2="362.59" stroke="#111" stroke-width="1.8" />
<line x1="774.45" y1="364.33" x2="780.65" y2="364.33" stroke="#111" stroke-width="1.8" />
<polygon points="777.55,349.80 776.43,352.36 773.65,352.63 775.74,354.49 775.14,357.22 777.55,355.80 779.96,357.22 779.36,354.49 781.45,352.63 778.67,352.36" fill="#111"/>
<rect x="793.20" y="364.91" width="13.30" height="97.49" fill="#808080" stroke="#111" stroke-width="1.7" />
<line x1="799.85" y1="361.13" x2="799.85" y2="368.70" stroke="#111" stroke-width="1.8" />
<line x1="796.75" y1="361.13" x2="802.95" y2="361.13" stroke="#111" stroke-width="1.8" />
<line x1="796.75" y1="368.70" x2="802.95" y2="368.70" stroke="#111" stroke-width="1.8" />
<polygon points="799.85,350.80 798.73,353.36 795.95,353.63 798.04,355.49 797.44,358.22 799.85,356.80 802.26,358.22 801.66,355.49 803.75,353.63 800.97,353.36" fill="#111"/>
<rect x="815.50" y="364.33" width="13.30" height="98.07" fill="#808080" stroke="#111" stroke-width="1.7" />
<line x1="822.15" y1="360.84" x2="822.15" y2="367.82" stroke="#111" stroke-width="1.8" />
<line x1="819.05" y1="360.84" x2="825.25" y2="360.84" stroke="#111" stroke-width="1.8" />
<line x1="819.05" y1="367.82" x2="825.25" y2="367.82" stroke="#111" stroke-width="1.8" />
<polygon points="822.15,349.10 821.03,351.66 818.25,351.93 820.34,353.79 819.74,356.52 822.15,355.10 824.56,356.52 823.96,353.79 826.05,351.93 823.27,351.66" fill="#111"/>
<rect x="837.80" y="364.91" width="13.30" height="97.49" fill="#808080" stroke="#111" stroke-width="1.7" />
<line x1="844.45" y1="360.55" x2="844.45" y2="369.28" stroke="#111" stroke-width="1.8" />
<line x1="841.35" y1="360.55" x2="847.55" y2="360.55" stroke="#111" stroke-width="1.8" />
<line x1="841.35" y1="369.28" x2="847.55" y2="369.28" stroke="#111" stroke-width="1.8" />
<polygon points="844.45,347.10 843.33,349.66 840.55,349.93 842.64,351.79 842.04,354.52 844.45,353.10 846.86,354.52 846.26,351.79 848.35,349.93 845.57,349.66" fill="#111"/>
<rect x="860.10" y="369.57" width="13.30" height="92.83" fill="#000" stroke="#111" stroke-width="1.7" />
<line x1="866.75" y1="363.75" x2="866.75" y2="375.39" stroke="#111" stroke-width="1.8" />
<line x1="863.65" y1="363.75" x2="869.85" y2="363.75" stroke="#111" stroke-width="1.8" />
<line x1="863.65" y1="375.39" x2="869.85" y2="375.39" stroke="#111" stroke-width="1.8" />
<polygon points="866.75,352.10 865.63,354.66 862.85,354.93 864.94,356.79 864.34,359.52 866.75,358.10 869.16,359.52 868.56,356.79 870.65,354.93 867.87,354.66" fill="#111"/>
<rect x="882.40" y="370.73" width="13.30" height="91.67" fill="#000" stroke="#111" stroke-width="1.7" />
<line x1="889.05" y1="364.91" x2="889.05" y2="376.55" stroke="#111" stroke-width="1.8" />
<line x1="885.95" y1="364.91" x2="892.15" y2="364.91" stroke="#111" stroke-width="1.8" />
<line x1="885.95" y1="376.55" x2="892.15" y2="376.55" stroke="#111" stroke-width="1.8" />
<polygon points="889.05,352.10 887.93,354.66 885.15,354.93 887.24,356.79 886.64,359.52 889.05,358.10 891.46,359.52 890.86,356.79 892.95,354.93 890.17,354.66" fill="#111"/>
<rect x="690.40" y="316.90" width="218.70" height="145.50" fill="none" stroke="#262626" stroke-width="1.8" />
<line x1="686.90" y1="462.40" x2="690.40" y2="462.40" stroke="#262626" stroke-width="1.5" />
<text x="685.30" y="461.50" font-size="14.3" font-weight="bold" text-anchor="end" fill="#000" dominant-baseline="central" >0</text>
<line x1="686.90" y1="433.30" x2="690.40" y2="433.30" stroke="#262626" stroke-width="1.5" />
<text x="685.30" y="432.40" font-size="14.3" font-weight="bold" text-anchor="end" fill="#000" dominant-baseline="central" >1</text>
<line x1="686.90" y1="404.20" x2="690.40" y2="404.20" stroke="#262626" stroke-width="1.5" />
<text x="685.30" y="403.30" font-size="14.3" font-weight="bold" text-anchor="end" fill="#000" dominant-baseline="central" >2</text>
<line x1="686.90" y1="375.10" x2="690.40" y2="375.10" stroke="#262626" stroke-width="1.5" />
<text x="685.30" y="374.20" font-size="14.3" font-weight="bold" text-anchor="end" fill="#000" dominant-baseline="central" >3</text>
<line x1="686.90" y1="346.00" x2="690.40" y2="346.00" stroke="#262626" stroke-width="1.5" />
<text x="685.30" y="345.10" font-size="14.3" font-weight="bold" text-anchor="end" fill="#000" dominant-baseline="central" >4</text>
<line x1="686.90" y1="316.90" x2="690.40" y2="316.90" stroke="#262626" stroke-width="1.5" />
<text x="685.30" y="316.00" font-size="14.3" font-weight="bold" text-anchor="end" fill="#000" dominant-baseline="central" >5</text>
<line x1="710.65" y1="462.40" x2="710.65" y2="466.40" stroke="#262626" stroke-width="1.5" />
<line x1="732.95" y1="462.40" x2="732.95" y2="466.40" stroke="#262626" stroke-width="1.5" />
<line x1="755.25" y1="462.40" x2="755.25" y2="466.40" stroke="#262626" stroke-width="1.5" />
<line x1="777.55" y1="462.40" x2="777.55" y2="466.40" stroke="#262626" stroke-width="1.5" />
<line x1="799.85" y1="462.40" x2="799.85" y2="466.40" stroke="#262626" stroke-width="1.5" />
<line x1="822.15" y1="462.40" x2="822.15" y2="466.40" stroke="#262626" stroke-width="1.5" />
<line x1="844.45" y1="462.40" x2="844.45" y2="466.40" stroke="#262626" stroke-width="1.5" />
<line x1="866.75" y1="462.40" x2="866.75" y2="466.40" stroke="#262626" stroke-width="1.5" />
<line x1="889.05" y1="462.40" x2="889.05" y2="466.40" stroke="#262626" stroke-width="1.5" />
<text x="718.65" y="470.70" font-size="15" font-weight="bold" text-anchor="end" fill="#000" dominant-baseline="central" transform="rotate(-60 718.65 470.70)" >WT</text>
<text x="740.95" y="470.70" font-size="15" font-weight="bold" text-anchor="end" fill="#000" dominant-baseline="central" transform="rotate(-60 740.95 470.70)" >OE1</text>
<text x="763.25" y="470.70" font-size="15" font-weight="bold" text-anchor="end" fill="#000" dominant-baseline="central" transform="rotate(-60 763.25 470.70)" >OE2</text>
<text x="785.55" y="470.70" font-size="15" font-weight="bold" text-anchor="end" fill="#000" dominant-baseline="central" transform="rotate(-60 785.55 470.70)" >OE3</text>
<text x="807.85" y="470.70" font-size="15" font-weight="bold" text-anchor="end" fill="#000" dominant-baseline="central" transform="rotate(-60 807.85 470.70)" >OE4</text>
<text x="830.15" y="470.70" font-size="15" font-weight="bold" text-anchor="end" fill="#000" dominant-baseline="central" transform="rotate(-60 830.15 470.70)" >OE5</text>
<text x="852.45" y="470.70" font-size="15" font-weight="bold" text-anchor="end" fill="#000" dominant-baseline="central" transform="rotate(-60 852.45 470.70)" >OE6</text>
<text x="874.75" y="470.70" font-size="15" font-weight="bold" text-anchor="end" fill="#000" dominant-baseline="central" transform="rotate(-60 874.75 470.70)" >OE7</text>
<text x="897.05" y="470.70" font-size="15" font-weight="bold" text-anchor="end" fill="#000" dominant-baseline="central" transform="rotate(-60 897.05 470.70)" >OE8</text>
<line x1="722.50" y1="502.00" x2="776.00" y2="502.00" stroke="#000" stroke-width="2.2" />
<line x1="788.00" y1="502.00" x2="842.50" y2="502.00" stroke="#000" stroke-width="2.2" />
<line x1="853.80" y1="502.00" x2="893.00" y2="502.00" stroke="#000" stroke-width="2.2" />
<text x="750.00" y="522.30" font-size="15" font-weight="bold" font-style="italic" text-anchor="middle" fill="#000" >CIDEA</text>
<text x="815.00" y="522.30" font-size="15" font-weight="bold" font-style="italic" text-anchor="middle" fill="#000" >CIDEB</text>
<text x="870.00" y="522.30" font-size="15" font-weight="bold" font-style="italic" text-anchor="middle" fill="#000" >CIDEC</text>
<text x="638.50" y="398.00" font-size="15.6" font-weight="bold" text-anchor="middle" fill="#000" dominant-baseline="central" transform="rotate(-90 638.50 398.00)" >Soluble sugar</text>
<text x="658.70" y="397.00" font-size="15.6" font-weight="bold" text-anchor="middle" fill="#000" dominant-baseline="central" transform="rotate(-90 658.70 397.00)" >content (%)</text>
<text x="32.50" y="840.00" font-size="15.5" font-weight="bold" text-anchor="start" fill="#000" >(g)</text>
<rect x="150.20" y="881.93" width="23.20" height="120.47" fill="#fff" stroke="#111" stroke-width="1.7" />
<line x1="161.80" y1="876.53" x2="161.80" y2="887.33" stroke="#111" stroke-width="1.8" />
<line x1="158.30" y1="876.53" x2="165.30" y2="876.53" stroke="#111" stroke-width="1.8" />
<line x1="158.30" y1="887.33" x2="165.30" y2="887.33" stroke="#111" stroke-width="1.8" />
<rect x="189.60" y="906.85" width="23.20" height="95.55" fill="#c0c0c0" stroke="#111" stroke-width="1.7" />
<line x1="201.20" y1="900.20" x2="201.20" y2="913.50" stroke="#111" stroke-width="1.8" />
<line x1="197.70" y1="900.20" x2="204.70" y2="900.20" stroke="#111" stroke-width="1.8" />
<line x1="197.70" y1="913.50" x2="204.70" y2="913.50" stroke="#111" stroke-width="1.8" />
<polygon points="201.20,886.10 200.08,888.66 197.30,888.93 199.39,890.79 198.79,893.52 201.20,892.10 203.61,893.52 203.01,890.79 205.10,888.93 202.32,888.66" fill="#111"/>
<rect x="229.20" y="911.01" width="23.20" height="91.39" fill="#c0c0c0" stroke="#111" stroke-width="1.7" />
<line x1="240.80" y1="905.19" x2="240.80" y2="916.82" stroke="#111" stroke-width="1.8" />
<line x1="237.30" y1="905.19" x2="244.30" y2="905.19" stroke="#111" stroke-width="1.8" />
<line x1="237.30" y1="916.82" x2="244.30" y2="916.82" stroke="#111" stroke-width="1.8" />
<polygon points="240.80,894.00 239.68,896.56 236.90,896.83 238.99,898.69 238.39,901.42 240.80,900.00 243.21,901.42 242.61,898.69 244.70,896.83 241.92,896.56" fill="#111"/>
<rect x="268.50" y="923.47" width="23.20" height="78.93" fill="#c0c0c0" stroke="#111" stroke-width="1.7" />
<line x1="280.10" y1="917.24" x2="280.10" y2="929.70" stroke="#111" stroke-width="1.8" />
<line x1="276.60" y1="917.24" x2="283.60" y2="917.24" stroke="#111" stroke-width="1.8" />
<line x1="276.60" y1="929.70" x2="283.60" y2="929.70" stroke="#111" stroke-width="1.8" />
<polygon points="280.10,905.70 278.98,908.26 276.20,908.53 278.29,910.39 277.69,913.12 280.10,911.70 282.51,913.12 281.91,910.39 284.00,908.53 281.22,908.26" fill="#111"/>
<rect x="126.10" y="857.00" width="189.70" height="145.40" fill="none" stroke="#262626" stroke-width="1.8" />
<line x1="122.60" y1="1002.40" x2="126.10" y2="1002.40" stroke="#262626" stroke-width="1.5" />
<text x="119.20" y="1001.80" font-size="13.9" font-weight="bold" text-anchor="end" fill="#000" dominant-baseline="central" >0</text>
<line x1="122.60" y1="981.63" x2="126.10" y2="981.63" stroke="#262626" stroke-width="1.5" />
<text x="119.20" y="981.03" font-size="13.9" font-weight="bold" text-anchor="end" fill="#000" dominant-baseline="central" >500</text>
<line x1="122.60" y1="960.86" x2="126.10" y2="960.86" stroke="#262626" stroke-width="1.5" />
<text x="119.20" y="960.26" font-size="13.9" font-weight="bold" text-anchor="end" fill="#000" dominant-baseline="central" >1000</text>
<line x1="122.60" y1="940.09" x2="126.10" y2="940.09" stroke="#262626" stroke-width="1.5" />
<text x="119.20" y="939.49" font-size="13.9" font-weight="bold" text-anchor="end" fill="#000" dominant-baseline="central" >1500</text>
<line x1="122.60" y1="919.31" x2="126.10" y2="919.31" stroke="#262626" stroke-width="1.5" />
<text x="119.20" y="918.71" font-size="13.9" font-weight="bold" text-anchor="end" fill="#000" dominant-baseline="central" >2000</text>
<line x1="122.60" y1="898.54" x2="126.10" y2="898.54" stroke="#262626" stroke-width="1.5" />
<text x="119.20" y="897.94" font-size="13.9" font-weight="bold" text-anchor="end" fill="#000" dominant-baseline="central" >2500</text>
<line x1="122.60" y1="877.77" x2="126.10" y2="877.77" stroke="#262626" stroke-width="1.5" />
<text x="119.20" y="877.17" font-size="13.9" font-weight="bold" text-anchor="end" fill="#000" dominant-baseline="central" >3000</text>
<line x1="122.60" y1="857.00" x2="126.10" y2="857.00" stroke="#262626" stroke-width="1.5" />
<text x="119.20" y="856.40" font-size="13.9" font-weight="bold" text-anchor="end" fill="#000" dominant-baseline="central" >3500</text>
<line x1="161.80" y1="1002.40" x2="161.80" y2="1006.40" stroke="#262626" stroke-width="1.5" />
<line x1="201.20" y1="1002.40" x2="201.20" y2="1006.40" stroke="#262626" stroke-width="1.5" />
<line x1="240.80" y1="1002.40" x2="240.80" y2="1006.40" stroke="#262626" stroke-width="1.5" />
<line x1="280.10" y1="1002.40" x2="280.10" y2="1006.40" stroke="#262626" stroke-width="1.5" />
<text x="168.80" y="1011.40" font-size="15" font-weight="bold" text-anchor="end" fill="#000" dominant-baseline="central" transform="rotate(-45 168.80 1011.40)" >WT</text>
<text x="208.20" y="1011.40" font-size="15" font-weight="bold" text-anchor="end" fill="#000" dominant-baseline="central" transform="rotate(-45 208.20 1011.40)" >CIDEA</text>
<text x="247.80" y="1011.40" font-size="15" font-weight="bold" text-anchor="end" fill="#000" dominant-baseline="central" transform="rotate(-45 247.80 1011.40)" >CIDEB</text>
<text x="287.10" y="1011.40" font-size="15" font-weight="bold" text-anchor="end" fill="#000" dominant-baseline="central" transform="rotate(-45 287.10 1011.40)" >CIDEC</text>
<text x="51.70" y="931.00" font-size="15.1" font-weight="bold" text-anchor="middle" fill="#000" dominant-baseline="central" transform="rotate(-90 51.70 931.00)" >Number of LDs in</text>
<text x="68.30" y="930.30" font-size="15.1" font-weight="bold" text-anchor="middle" fill="#000" dominant-baseline="central" transform="rotate(-90 68.30 930.30)" >per image</text>
<text x="347.00" y="840.00" font-size="15.5" font-weight="bold" text-anchor="start" fill="#000" >(h)</text>
<rect x="453.30" y="926.07" width="23.20" height="76.33" fill="#fff" stroke="#111" stroke-width="1.7" />
<line x1="464.90" y1="917.58" x2="464.90" y2="934.55" stroke="#111" stroke-width="1.8" />
<line x1="461.40" y1="917.58" x2="468.40" y2="917.58" stroke="#111" stroke-width="1.8" />
<line x1="461.40" y1="934.55" x2="468.40" y2="934.55" stroke="#111" stroke-width="1.8" />
<rect x="492.70" y="898.20" width="23.20" height="104.20" fill="#c0c0c0" stroke="#111" stroke-width="1.7" />
<line x1="504.30" y1="889.72" x2="504.30" y2="906.68" stroke="#111" stroke-width="1.8" />
<line x1="500.80" y1="889.72" x2="507.80" y2="889.72" stroke="#111" stroke-width="1.8" />
<line x1="500.80" y1="906.68" x2="507.80" y2="906.68" stroke="#111" stroke-width="1.8" />
<polygon points="504.30,874.80 503.18,877.36 500.40,877.63 502.49,879.49 501.89,882.22 504.30,880.80 506.71,882.22 506.11,879.49 508.20,877.63 505.42,877.36" fill="#111"/>
<rect x="532.00" y="897.59" width="23.20" height="104.81" fill="#c0c0c0" stroke="#111" stroke-width="1.7" />
<line x1="543.60" y1="887.29" x2="543.60" y2="907.89" stroke="#111" stroke-width="1.8" />
<line x1="540.10" y1="887.29" x2="547.10" y2="887.29" stroke="#111" stroke-width="1.8" />
<line x1="540.10" y1="907.89" x2="547.10" y2="907.89" stroke="#111" stroke-width="1.8" />
<polygon points="543.60,874.80 542.48,877.36 539.70,877.63 541.79,879.49 541.19,882.22 543.60,880.80 546.01,882.22 545.41,879.49 547.50,877.63 544.72,877.36" fill="#111"/>
<rect x="571.40" y="902.44" width="23.20" height="99.96" fill="#c0c0c0" stroke="#111" stroke-width="1.7" />
<line x1="583.00" y1="893.35" x2="583.00" y2="911.52" stroke="#111" stroke-width="1.8" />
<line x1="579.50" y1="893.35" x2="586.50" y2="893.35" stroke="#111" stroke-width="1.8" />
<line x1="579.50" y1="911.52" x2="586.50" y2="911.52" stroke="#111" stroke-width="1.8" />
<polygon points="583.00,880.30 581.88,882.86 579.10,883.13 581.19,884.99 580.59,887.72 583.00,886.30 585.41,887.72 584.81,884.99 586.90,883.13 584.12,882.86" fill="#111"/>
<rect x="428.90" y="857.00" width="191.10" height="145.40" fill="none" stroke="#262626" stroke-width="1.8" />
<line x1="425.40" y1="1002.40" x2="428.90" y2="1002.40" stroke="#262626" stroke-width="1.5" />
<text x="422.00" y="1001.80" font-size="13.7" font-weight="bold" text-anchor="end" fill="#000" dominant-baseline="central" >0</text>
<line x1="425.40" y1="978.17" x2="428.90" y2="978.17" stroke="#262626" stroke-width="1.5" />
<text x="422.00" y="977.57" font-size="13.7" font-weight="bold" text-anchor="end" fill="#000" dominant-baseline="central" >200</text>
<line x1="425.40" y1="953.93" x2="428.90" y2="953.93" stroke="#262626" stroke-width="1.5" />
<text x="422.00" y="953.33" font-size="13.7" font-weight="bold" text-anchor="end" fill="#000" dominant-baseline="central" >400</text>
<line x1="425.40" y1="929.70" x2="428.90" y2="929.70" stroke="#262626" stroke-width="1.5" />
<text x="422.00" y="929.10" font-size="13.7" font-weight="bold" text-anchor="end" fill="#000" dominant-baseline="central" >600</text>
<line x1="425.40" y1="905.47" x2="428.90" y2="905.47" stroke="#262626" stroke-width="1.5" />
<text x="422.00" y="904.87" font-size="13.7" font-weight="bold" text-anchor="end" fill="#000" dominant-baseline="central" >800</text>
<line x1="425.40" y1="881.23" x2="428.90" y2="881.23" stroke="#262626" stroke-width="1.5" />
<text x="422.00" y="880.63" font-size="13.7" font-weight="bold" text-anchor="end" fill="#000" dominant-baseline="central" >1000</text>
<line x1="425.40" y1="857.00" x2="428.90" y2="857.00" stroke="#262626" stroke-width="1.5" />
<text x="422.00" y="856.40" font-size="13.7" font-weight="bold" text-anchor="end" fill="#000" dominant-baseline="central" >1200</text>
<line x1="464.90" y1="1002.40" x2="464.90" y2="1006.40" stroke="#262626" stroke-width="1.5" />
<line x1="504.30" y1="1002.40" x2="504.30" y2="1006.40" stroke="#262626" stroke-width="1.5" />
<line x1="543.60" y1="1002.40" x2="543.60" y2="1006.40" stroke="#262626" stroke-width="1.5" />
<line x1="583.00" y1="1002.40" x2="583.00" y2="1006.40" stroke="#262626" stroke-width="1.5" />
<text x="471.90" y="1011.40" font-size="15" font-weight="bold" text-anchor="end" fill="#000" dominant-baseline="central" transform="rotate(-45 471.90 1011.40)" >WT</text>
<text x="511.30" y="1011.40" font-size="15" font-weight="bold" text-anchor="end" fill="#000" dominant-baseline="central" transform="rotate(-45 511.30 1011.40)" >CIDEA</text>
<text x="550.60" y="1011.40" font-size="15" font-weight="bold" text-anchor="end" fill="#000" dominant-baseline="central" transform="rotate(-45 550.60 1011.40)" >CIDEB</text>
<text x="590.00" y="1011.40" font-size="15" font-weight="bold" text-anchor="end" fill="#000" dominant-baseline="central" transform="rotate(-45 590.00 1011.40)" >CIDEC</text>
<text x="355.90" y="930.30" font-size="15.2" font-weight="bold" text-anchor="middle" fill="#000" dominant-baseline="central" transform="rotate(-90 355.90 930.30)" >Total area of LDs in</text>
<text x="372.30" y="930.00" font-size="15.2" font-weight="bold" text-anchor="middle" fill="#000" dominant-baseline="central" transform="rotate(-90 372.30 930.00)" >per image (μm<tspan dy="-4.6" font-size="10.5">2</tspan><tspan dy="4.6">)</tspan></text>
<text x="647.20" y="840.00" font-size="15.5" font-weight="bold" text-anchor="start" fill="#000" >(i)</text>
<rect x="737.70" y="949.81" width="23.20" height="52.59" fill="#fff" stroke="#111" stroke-width="1.7" />
<line x1="749.30" y1="948.60" x2="749.30" y2="951.03" stroke="#111" stroke-width="1.8" />
<line x1="745.80" y1="948.60" x2="752.80" y2="948.60" stroke="#111" stroke-width="1.8" />
<line x1="745.80" y1="951.03" x2="752.80" y2="951.03" stroke="#111" stroke-width="1.8" />
<rect x="777.10" y="912.01" width="23.20" height="90.39" fill="#c0c0c0" stroke="#111" stroke-width="1.7" />
<line x1="788.70" y1="911.04" x2="788.70" y2="912.98" stroke="#111" stroke-width="1.8" />
<line x1="785.20" y1="911.04" x2="792.20" y2="911.04" stroke="#111" stroke-width="1.8" />
<line x1="785.20" y1="912.98" x2="792.20" y2="912.98" stroke="#111" stroke-width="1.8" />
<polygon points="788.70,888.90 787.58,891.46 784.80,891.73 786.89,893.59 786.29,896.32 788.70,894.90 791.11,896.32 790.51,893.59 792.60,891.73 789.82,891.46" fill="#111"/>
<rect x="815.80" y="907.41" width="23.20" height="94.99" fill="#c0c0c0" stroke="#111" stroke-width="1.7" />
<line x1="827.40" y1="906.19" x2="827.40" y2="908.62" stroke="#111" stroke-width="1.8" />
<line x1="823.90" y1="906.19" x2="830.90" y2="906.19" stroke="#111" stroke-width="1.8" />
<line x1="823.90" y1="908.62" x2="830.90" y2="908.62" stroke="#111" stroke-width="1.8" />
<polygon points="827.40,883.70 826.28,886.26 823.50,886.53 825.59,888.39 824.99,891.12 827.40,889.70 829.81,891.12 829.21,888.39 831.30,886.53 828.52,886.26" fill="#111"/>
<rect x="855.20" y="897.71" width="23.20" height="104.69" fill="#c0c0c0" stroke="#111" stroke-width="1.7" />
<line x1="866.80" y1="896.02" x2="866.80" y2="899.41" stroke="#111" stroke-width="1.8" />
<line x1="863.30" y1="896.02" x2="870.30" y2="896.02" stroke="#111" stroke-width="1.8" />
<line x1="863.30" y1="899.41" x2="870.30" y2="899.41" stroke="#111" stroke-width="1.8" />
<polygon points="866.80,878.60 865.68,881.16 862.90,881.43 864.99,883.29 864.39,886.02 866.80,884.60 869.21,886.02 868.61,883.29 870.70,881.43 867.92,881.16" fill="#111"/>
<rect x="713.50" y="857.00" width="189.30" height="145.40" fill="none" stroke="#262626" stroke-width="1.8" />
<line x1="710.00" y1="1002.40" x2="713.50" y2="1002.40" stroke="#262626" stroke-width="1.5" />
<text x="706.80" y="1001.40" font-size="14.2" font-weight="bold" text-anchor="end" fill="#000" dominant-baseline="central" >0.0</text>
<line x1="710.00" y1="978.17" x2="713.50" y2="978.17" stroke="#262626" stroke-width="1.5" />
<text x="706.80" y="977.17" font-size="14.2" font-weight="bold" text-anchor="end" fill="#000" dominant-baseline="central" >0.1</text>
<line x1="710.00" y1="953.93" x2="713.50" y2="953.93" stroke="#262626" stroke-width="1.5" />
<text x="706.80" y="952.93" font-size="14.2" font-weight="bold" text-anchor="end" fill="#000" dominant-baseline="central" >0.2</text>
<line x1="710.00" y1="929.70" x2="713.50" y2="929.70" stroke="#262626" stroke-width="1.5" />
<text x="706.80" y="928.70" font-size="14.2" font-weight="bold" text-anchor="end" fill="#000" dominant-baseline="central" >0.3</text>
<line x1="710.00" y1="905.47" x2="713.50" y2="905.47" stroke="#262626" stroke-width="1.5" />
<text x="706.80" y="904.47" font-size="14.2" font-weight="bold" text-anchor="end" fill="#000" dominant-baseline="central" >0.4</text>
<line x1="710.00" y1="881.23" x2="713.50" y2="881.23" stroke="#262626" stroke-width="1.5" />
<text x="706.80" y="880.23" font-size="14.2" font-weight="bold" text-anchor="end" fill="#000" dominant-baseline="central" >0.5</text>
<line x1="710.00" y1="857.00" x2="713.50" y2="857.00" stroke="#262626" stroke-width="1.5" />
<text x="706.80" y="856.00" font-size="14.2" font-weight="bold" text-anchor="end" fill="#000" dominant-baseline="central" >0.6</text>
<line x1="749.30" y1="1002.40" x2="749.30" y2="1006.40" stroke="#262626" stroke-width="1.5" />
<line x1="788.70" y1="1002.40" x2="788.70" y2="1006.40" stroke="#262626" stroke-width="1.5" />
<line x1="827.40" y1="1002.40" x2="827.40" y2="1006.40" stroke="#262626" stroke-width="1.5" />
<line x1="866.80" y1="1002.40" x2="866.80" y2="1006.40" stroke="#262626" stroke-width="1.5" />
<text x="756.30" y="1011.40" font-size="15" font-weight="bold" text-anchor="end" fill="#000" dominant-baseline="central" transform="rotate(-45 756.30 1011.40)" >WT</text>
<text x="795.70" y="1011.40" font-size="15" font-weight="bold" text-anchor="end" fill="#000" dominant-baseline="central" transform="rotate(-45 795.70 1011.40)" >CIDEA</text>
<text x="834.40" y="1011.40" font-size="15" font-weight="bold" text-anchor="end" fill="#000" dominant-baseline="central" transform="rotate(-45 834.40 1011.40)" >CIDEB</text>
<text x="873.80" y="1011.40" font-size="15" font-weight="bold" text-anchor="end" fill="#000" dominant-baseline="central" transform="rotate(-45 873.80 1011.40)" >CIDEC</text>
<text x="655.10" y="931.00" font-size="15.4" font-weight="bold" text-anchor="middle" fill="#000" dominant-baseline="central" transform="rotate(-90 655.10 931.00)" >Size of per LDs</text>
<text x="675.70" y="930.80" font-size="15.4" font-weight="bold" text-anchor="middle" fill="#000" dominant-baseline="central" transform="rotate(-90 675.70 930.80)" >(μm<tspan dy="-4.6" font-size="10.5">2</tspan><tspan dy="4.6">)</tspan></text>
<text x="32.50" y="534.70" font-size="15.5" font-weight="bold" text-anchor="start" fill="#000" >(f)</text>
<rect x="74.30" y="544.30" width="202.20" height="130.50" fill="#5e5e5e" stroke="none" stroke-width="0" />
<rect x="74.30" y="683.10" width="202.20" height="129.90" fill="#5a5a5a" stroke="none" stroke-width="0" />
<rect x="283.70" y="544.30" width="201.30" height="130.50" fill="#4a4a4a" stroke="none" stroke-width="0" />
<rect x="283.70" y="683.10" width="201.30" height="129.90" fill="#4c4c4c" stroke="none" stroke-width="0" />
<rect x="493.30" y="544.30" width="200.50" height="130.50" fill="#5a5a5a" stroke="none" stroke-width="0" />
<rect x="493.30" y="683.10" width="200.50" height="129.90" fill="#6a6a6a" stroke="none" stroke-width="0" />
<rect x="701.70" y="544.30" width="201.90" height="130.50" fill="#555" stroke="none" stroke-width="0" />
<rect x="701.70" y="683.10" width="201.90" height="129.90" fill="#6e6e6e" stroke="none" stroke-width="0" />
<defs>
<clipPath id="cl_wt_t"><rect x="74.3" y="544.3" width="202.20" height="130.50"/></clipPath>
<clipPath id="cl_wt_b"><rect x="74.3" y="683.1" width="202.20" height="129.90"/></clipPath>
<clipPath id="cl_a_t"><rect x="283.7" y="544.5" width="201.30" height="130.00"/></clipPath>
<clipPath id="cl_a_b"><rect x="283.7" y="683.1" width="201.30" height="129.90"/></clipPath>
<clipPath id="cl_b_t"><rect x="493.3" y="544.5" width="200.50" height="130.30"/></clipPath>
<clipPath id="cl_b_b"><rect x="493.3" y="683.1" width="200.50" height="129.90"/></clipPath>
<clipPath id="cl_c_t"><rect x="701.7" y="544.5" width="201.90" height="130.30"/></clipPath>
<clipPath id="cl_c_b"><rect x="701.7" y="683.3" width="201.90" height="129.70"/></clipPath>
<filter id="grain" x="0" y="0" width="100%" height="100%"><feTurbulence type="fractalNoise" baseFrequency="0.9" numOctaves="2" seed="3"/><feColorMatrix type="matrix" values="0 0 0 0 0  0 0 0 0 0  0 0 0 0 0  0 0 0 -1.6 0.95"/></filter>
<filter id="grain2" x="0" y="0" width="100%" height="100%"><feTurbulence type="fractalNoise" baseFrequency="0.55" numOctaves="2" seed="9"/><feColorMatrix type="matrix" values="0 0 0 0 0  0 0 0 0 0  0 0 0 0 0  0 0 0 -2.2 1.2"/></filter>
<filter id="soft" x="0" y="0" width="934" height="1067" filterUnits="userSpaceOnUse"><feGaussianBlur stdDeviation="0.55"/></filter>
<filter id="blur1"><feGaussianBlur stdDeviation="1.2"/></filter>
<filter id="blur2"><feGaussianBlur stdDeviation="3"/></filter>
</defs>
<g clip-path="url(#cl_wt_t)"><g filter="url(#soft)">
<g transform="translate(74,544) scale(0.21734,0.21746)">
<filter id="nz1" x="0" y="0" width="934" height="607" filterUnits="userSpaceOnUse" primitiveUnits="userSpaceOnUse" color-interpolation-filters="sRGB"><feTurbulence type="fractalNoise" baseFrequency="0.07" numOctaves="3" seed="11"/><feColorMatrix type="matrix" values="0.32 0 0 0 0.154  0.32 0 0 0 0.154  0.32 0 0 0 0.154  0 0 0 0 1"/></filter>
<rect x="0" y="0" width="934" height="607" filter="url(#nz1)" opacity="1.0"/>
<circle cx="302.5" cy="91.6" r="4.0" fill="#3a3a3a"/>
<circle cx="67.7" cy="325.3" r="3.1" fill="#3a3a3a"/>
<circle cx="54.2" cy="308.0" r="2.1" fill="#3a3a3a"/>
<circle cx="405.0" cy="42.4" r="2.3" fill="#3a3a3a"/>
<circle cx="396.5" cy="501.9" r="2.4" fill="#3a3a3a"/>
<circle cx="208.5" cy="380.9" r="4.8" fill="#3a3a3a"/>
<circle cx="539.0" cy="240.8" r="4.9" fill="#3a3a3a"/>
<circle cx="43.5" cy="521.1" r="2.9" fill="#3a3a3a"/>
<circle cx="134.7" cy="71.5" r="2.9" fill="#3a3a3a"/>
<circle cx="762.3" cy="109.7" r="3.7" fill="#3a3a3a"/>
<circle cx="596.7" cy="226.0" r="3.6" fill="#3a3a3a"/>
<circle cx="58.6" cy="36.2" r="2.6" fill="#3a3a3a"/>
<circle cx="635.5" cy="259.5" r="2.9" fill="#3a3a3a"/>
<circle cx="546.9" cy="275.1" r="2.9" fill="#3a3a3a"/>
<circle cx="742.0" cy="424.3" r="2.7" fill="#3a3a3a"/>
<circle cx="536.5" cy="318.8" r="4.6" fill="#3a3a3a"/>
<circle cx="681.3" cy="174.8" r="4.9" fill="#3a3a3a"/>
<circle cx="110.3" cy="253.8" r="4.3" fill="#3a3a3a"/>
<circle cx="142.0" cy="296.8" r="2.1" fill="#3a3a3a"/>
<circle cx="624.1" cy="464.1" r="3.7" fill="#3a3a3a"/>
<circle cx="817.7" cy="190.4" r="4.1" fill="#3a3a3a"/>
<circle cx="555.1" cy="352.0" r="3.4" fill="#3a3a3a"/>
<circle cx="784.5" cy="573.4" r="3.4" fill="#3a3a3a"/>
<circle cx="620.3" cy="36.8" r="4.1" fill="#3a3a3a"/>
<circle cx="604.4" cy="602.8" r="4.5" fill="#3a3a3a"/>
<circle cx="265.8" cy="234.2" r="4.0" fill="#3a3a3a"/>
<circle cx="21.1" cy="280.2" r="2.5" fill="#3a3a3a"/>
<circle cx="109.4" cy="35.8" r="4.3" fill="#3a3a3a"/>
<circle cx="120.8" cy="150.3" r="3.2" fill="#3a3a3a"/>
<circle cx="813.9" cy="48.9" r="3.3" fill="#3a3a3a"/>
<circle cx="513.2" cy="536.2" r="4.5" fill="#3a3a3a"/>
<circle cx="807.0" cy="169.0" r="3.2" fill="#3a3a3a"/>
<circle cx="335.1" cy="536.7" r="4.9" fill="#3a3a3a"/>
<circle cx="141.0" cy="107.0" r="2.7" fill="#3a3a3a"/>
<circle cx="217.9" cy="294.4" r="3.8" fill="#3a3a3a"/>
<circle cx="245.4" cy="2.5" r="3.3" fill="#3a3a3a"/>
<circle cx="344.9" cy="343.8" r="4.9" fill="#3a3a3a"/>
<circle cx="644.9" cy="312.9" r="3.9" fill="#3a3a3a"/>
<circle cx="631.6" cy="32.8" r="4.7" fill="#3a3a3a"/>
<circle cx="728.5" cy="530.8" r="4.4" fill="#3a3a3a"/>
<circle cx="366.5" cy="242.2" r="2.3" fill="#3a3a3a"/>
<circle cx="592.4" cy="37.8" r="2.2" fill="#3a3a3a"/>
<circle cx="195.0" cy="98.5" r="3.0" fill="#3a3a3a"/>
<circle cx="49.1" cy="0.1" r="2.5" fill="#3a3a3a"/>
<circle cx="94.8" cy="220.7" r="2.1" fill="#3a3a3a"/>
<circle cx="816.6" cy="372.7" r="2.4" fill="#3a3a3a"/>
<circle cx="235.6" cy="210.9" r="3.1" fill="#3a3a3a"/>
<circle cx="114.7" cy="515.3" r="5.0" fill="#3a3a3a"/>
<circle cx="435.2" cy="293.7" r="2.3" fill="#3a3a3a"/>
<circle cx="95.4" cy="208.0" r="2.8" fill="#3a3a3a"/>
<circle cx="774.2" cy="98.0" r="2.1" fill="#3a3a3a"/>
<circle cx="888.2" cy="320.7" r="2.4" fill="#3a3a3a"/>
<circle cx="507.3" cy="16.4" r="3.6" fill="#3a3a3a"/>
<circle cx="913.9" cy="524.0" r="4.1" fill="#3a3a3a"/>
<circle cx="243.9" cy="222.6" r="2.5" fill="#3a3a3a"/>
<circle cx="721.0" cy="323.3" r="4.3" fill="#3a3a3a"/>
<circle cx="307.9" cy="135.4" r="4.4" fill="#3a3a3a"/>
<circle cx="919.9" cy="517.5" r="4.4" fill="#3a3a3a"/>
<circle cx="764.3" cy="449.1" r="2.7" fill="#3a3a3a"/>
<circle cx="483.5" cy="215.8" r="2.1" fill="#3a3a3a"/>
<circle cx="26.1" cy="169.6" r="2.8" fill="#3a3a3a"/>
<circle cx="646.8" cy="580.6" r="3.3" fill="#3a3a3a"/>
<circle cx="875.2" cy="599.7" r="4.9" fill="#3a3a3a"/>
<circle cx="340.6" cy="133.8" r="2.7" fill="#3a3a3a"/>
<circle cx="183.7" cy="124.1" r="3.9" fill="#3a3a3a"/>
<circle cx="840.9" cy="510.1" r="3.4" fill="#3a3a3a"/>
<circle cx="609.9" cy="485.4" r="2.3" fill="#3a3a3a"/>
<circle cx="617.0" cy="552.2" r="4.3" fill="#3a3a3a"/>
<circle cx="700.6" cy="290.2" r="2.5" fill="#3a3a3a"/>
<circle cx="737.1" cy="201.8" r="4.4" fill="#3a3a3a"/>
<circle cx="907.5" cy="240.3" r="3.2" fill="#3a3a3a"/>
<circle cx="884.3" cy="440.0" r="2.5" fill="#3a3a3a"/>
<circle cx="118.7" cy="91.7" r="4.7" fill="#3a3a3a"/>
<circle cx="753.3" cy="88.7" r="4.5" fill="#3a3a3a"/>
<circle cx="915.6" cy="399.0" r="3.1" fill="#3a3a3a"/>
<circle cx="512.4" cy="79.5" r="2.0" fill="#3a3a3a"/>
<circle cx="906.8" cy="394.4" r="3.6" fill="#3a3a3a"/>
<circle cx="872.0" cy="263.3" r="4.6" fill="#3a3a3a"/>
<circle cx="771.6" cy="128.1" r="2.8" fill="#3a3a3a"/>
<circle cx="273.6" cy="146.0" r="3.8" fill="#3a3a3a"/>
<circle cx="242.2" cy="254.3" r="2.4" fill="#3a3a3a"/>
<circle cx="850.0" cy="214.7" r="3.4" fill="#3a3a3a"/>
<circle cx="544.8" cy="548.9" r="3.3" fill="#3a3a3a"/>
<circle cx="857.2" cy="304.5" r="3.6" fill="#3a3a3a"/>
<circle cx="489.0" cy="11.4" r="3.3" fill="#3a3a3a"/>
<circle cx="171.0" cy="2.4" r="4.4" fill="#3a3a3a"/>
<circle cx="161.0" cy="287.4" r="4.2" fill="#3a3a3a"/>
<circle cx="519.7" cy="197.9" r="3.6" fill="#3a3a3a"/>
<circle cx="518.8" cy="476.1" r="2.3" fill="#3a3a3a"/>
<circle cx="523.3" cy="150.8" r="2.8" fill="#3a3a3a"/>
<circle cx="721.3" cy="308.2" r="3.7" fill="#3a3a3a"/>
<circle cx="709.8" cy="553.9" r="3.3" fill="#3a3a3a"/>
<circle cx="572.1" cy="306.9" r="3.5" fill="#3a3a3a"/>
<circle cx="647.0" cy="274.6" r="3.6" fill="#3a3a3a"/>
<circle cx="446.5" cy="571.5" r="4.1" fill="#3a3a3a"/>
<circle cx="818.7" cy="571.9" r="2.8" fill="#3a3a3a"/>
<circle cx="522.6" cy="572.6" r="4.5" fill="#3a3a3a"/>
<circle cx="128.1" cy="73.8" r="3.3" fill="#3a3a3a"/>
<circle cx="67.8" cy="146.1" r="2.2" fill="#3a3a3a"/>
<circle cx="625.3" cy="475.8" r="4.7" fill="#3a3a3a"/>
<circle cx="144.3" cy="434.7" r="4.0" fill="#3a3a3a"/>
<circle cx="133.5" cy="535.9" r="4.9" fill="#3a3a3a"/>
<circle cx="205.1" cy="578.2" r="3.2" fill="#3a3a3a"/>
<circle cx="455.1" cy="600.9" r="4.5" fill="#3a3a3a"/>
<circle cx="150.8" cy="261.9" r="3.5" fill="#3a3a3a"/>
<circle cx="316.7" cy="118.8" r="3.0" fill="#3a3a3a"/>
<circle cx="674.5" cy="11.8" r="3.7" fill="#3a3a3a"/>
<circle cx="411.4" cy="11.0" r="3.0" fill="#3a3a3a"/>
<circle cx="582.7" cy="310.9" r="2.2" fill="#3a3a3a"/>
<circle cx="920.1" cy="478.5" r="4.9" fill="#3a3a3a"/>
<circle cx="97.9" cy="161.2" r="2.1" fill="#3a3a3a"/>
<circle cx="727.6" cy="164.2" r="2.4" fill="#3a3a3a"/>
<circle cx="394.4" cy="553.2" r="4.5" fill="#3a3a3a"/>
<circle cx="241.5" cy="90.7" r="4.8" fill="#3a3a3a"/>
<circle cx="532.9" cy="425.2" r="2.3" fill="#3a3a3a"/>
<circle cx="53.7" cy="417.7" r="3.3" fill="#3a3a3a"/>
<circle cx="67.6" cy="569.6" r="3.9" fill="#3a3a3a"/>
<circle cx="748.7" cy="50.8" r="4.6" fill="#3a3a3a"/>
<circle cx="62.2" cy="523.7" r="3.4" fill="#3a3a3a"/>
<circle cx="316.8" cy="335.7" r="4.8" fill="#3a3a3a"/>
<polyline points="166,0 186,30 201,48 196,100 191,131 186,151 151,171 126,176 75,186 30,193 0,198" fill="none" stroke="#c4c4c4" stroke-width="10" stroke-linejoin="round" stroke-linecap="round" />
<polyline points="201,48 231,30 266,13 281,8 322,20 362,35 402,40 427,30 442,15 450,0" fill="none" stroke="#c4c4c4" stroke-width="10" stroke-linejoin="round" stroke-linecap="round" />
<polyline points="402,40 442,70 469,88 515,146 560,186 585,201 595,241 605,301 610,315" fill="none" stroke="#c4c4c4" stroke-width="10" stroke-linejoin="round" stroke-linecap="round" />
<polyline points="585,201 610,186 645,171 700,176 756,181 791,201 821,221 851,241 891,271 922,291 934,298" fill="none" stroke="#c4c4c4" stroke-width="10" stroke-linejoin="round" stroke-linecap="round" />
<polyline points="645,171 655,141 665,100 675,50 685,0" fill="none" stroke="#c4c4c4" stroke-width="10" stroke-linejoin="round" stroke-linecap="round" />
<polyline points="670,40 705,40 741,55 756,70" fill="none" stroke="#c4c4c4" stroke-width="10" stroke-linejoin="round" stroke-linecap="round" />
<polyline points="756,70 761,126 758,181" fill="none" stroke="#c4c4c4" stroke-width="10" stroke-linejoin="round" stroke-linecap="round" />
<polyline points="756,70 791,60 821,40 831,10 836,0" fill="none" stroke="#c4c4c4" stroke-width="10" stroke-linejoin="round" stroke-linecap="round" />
<polyline points="821,40 851,45 881,50 912,65 934,75" fill="none" stroke="#c4c4c4" stroke-width="10" stroke-linejoin="round" stroke-linecap="round" />
<polyline points="761,126 796,131 831,121 861,100 881,80 891,50 895,0" fill="none" stroke="#c4c4c4" stroke-width="10" stroke-linejoin="round" stroke-linecap="round" />
<polyline points="831,121 856,151 871,171 876,201 871,231 851,241" fill="none" stroke="#c4c4c4" stroke-width="10" stroke-linejoin="round" stroke-linecap="round" />
<polyline points="791,201 821,191 856,186 896,181 934,176" fill="none" stroke="#c4c4c4" stroke-width="10" stroke-linejoin="round" stroke-linecap="round" />
<polyline points="876,201 906,211 934,218" fill="none" stroke="#c4c4c4" stroke-width="10" stroke-linejoin="round" stroke-linecap="round" />
<polyline points="881,80 912,100 934,112" fill="none" stroke="#c4c4c4" stroke-width="10" stroke-linejoin="round" stroke-linecap="round" />
<polyline points="861,100 896,116 922,141 934,150" fill="none" stroke="#c4c4c4" stroke-width="10" stroke-linejoin="round" stroke-linecap="round" />
<polyline points="186,151 216,181 241,211 256,241 266,261 284,282 302,304" fill="none" stroke="#c4c4c4" stroke-width="10" stroke-linejoin="round" stroke-linecap="round" />
<polyline points="266,261 248,278 231,295 211,335 196,375 181,410 171,425" fill="none" stroke="#c4c4c4" stroke-width="10" stroke-linejoin="round" stroke-linecap="round" />
<polyline points="0,410 40,420 90,430 126,435 171,425 196,440 226,455 246,470 251,495 256,531 256,566 266,607" fill="none" stroke="#c4c4c4" stroke-width="10" stroke-linejoin="round" stroke-linecap="round" />
<polyline points="90,430 95,460 90,495 85,531 95,576 100,607" fill="none" stroke="#c4c4c4" stroke-width="10" stroke-linejoin="round" stroke-linecap="round" />
<polyline points="246,470 281,455 317,440 352,415 362,405" fill="none" stroke="#c4c4c4" stroke-width="10" stroke-linejoin="round" stroke-linecap="round" />
<polyline points="302,304 318,320 332,335 352,375 362,405 392,415 427,430 447,445 457,485 462,521 467,556 470,607" fill="none" stroke="#c4c4c4" stroke-width="10" stroke-linejoin="round" stroke-linecap="round" />
<polyline points="50,576 100,576 151,581 201,586 256,586" fill="none" stroke="#c4c4c4" stroke-width="10" stroke-linejoin="round" stroke-linecap="round" />
<polyline points="427,430 452,420 469,410" fill="none" stroke="#c4c4c4" stroke-width="10" stroke-linejoin="round" stroke-linecap="round" />
<polyline points="469,410 509,380 550,355 595,325 610,315" fill="none" stroke="#c4c4c4" stroke-width="10" stroke-linejoin="round" stroke-linecap="round" />
<polyline points="610,315 645,350 680,390 711,420 741,445 756,485 766,526 771,566 776,607" fill="none" stroke="#c4c4c4" stroke-width="10" stroke-linejoin="round" stroke-linecap="round" />
<polyline points="741,445 781,435 821,420 861,405 896,395 906,370 911,335 916,295" fill="none" stroke="#c4c4c4" stroke-width="10" stroke-linejoin="round" stroke-linecap="round" />
<polyline points="896,395 934,395" fill="none" stroke="#c4c4c4" stroke-width="10" stroke-linejoin="round" stroke-linecap="round" />
<circle cx="201" cy="48" r="9" fill="#d2d2d2"/>
<circle cx="186" cy="151" r="9" fill="#d2d2d2"/>
<circle cx="402" cy="40" r="9" fill="#d2d2d2"/>
<circle cx="585" cy="201" r="9" fill="#d2d2d2"/>
<circle cx="645" cy="171" r="9" fill="#d2d2d2"/>
<circle cx="756" cy="70" r="9" fill="#d2d2d2"/>
<circle cx="610" cy="315" r="9" fill="#d2d2d2"/>
<circle cx="741" cy="445" r="9" fill="#d2d2d2"/>
<circle cx="171" cy="425" r="9" fill="#d2d2d2"/>
<circle cx="362" cy="405" r="9" fill="#d2d2d2"/>
<circle cx="246" cy="470" r="9" fill="#d2d2d2"/>
<circle cx="90" cy="430" r="9" fill="#d2d2d2"/>
<path d="M94.3,138.9 Q93.9,145.2 90.4,150.4 Q86.9,155.7 81.5,159.1 Q76.0,162.5 69.7,164.1 Q63.3,165.8 56.6,165.4 Q49.9,165.0 43.5,162.6 Q37.2,160.2 31.5,156.4 Q25.8,152.7 21.6,147.3 Q17.3,142.0 16.0,135.7 Q14.7,129.4 16.3,123.4 Q17.8,117.5 21.0,112.3 Q24.2,107.2 29.0,103.2 Q33.8,99.2 40.2,97.4 Q46.5,95.5 53.4,95.9 Q60.3,96.2 66.8,98.7 Q73.3,101.1 78.5,105.4 Q83.7,109.7 87.2,115.1 Q90.7,120.6 92.7,126.6 Q94.7,132.6 94.3,138.9Z" fill="#8e8e8e" />
<circle cx="47.9" cy="146.2" r="4.9" fill="#e6e6e6"/>
<circle cx="49.0" cy="151.4" r="3.4" fill="#e6e6e6"/>
<circle cx="52.4" cy="134.3" r="3.6" fill="#e6e6e6"/>
<circle cx="84.0" cy="133.5" r="4.4" fill="#e6e6e6"/>
<circle cx="63.7" cy="150.0" r="5.3" fill="#e6e6e6"/>
<circle cx="79.2" cy="147.7" r="4.1" fill="#e6e6e6"/>
<circle cx="24.0" cy="131.9" r="4.0" fill="#e6e6e6"/>
<circle cx="26.8" cy="130.0" r="5.5" fill="#e6e6e6"/>
<circle cx="37.9" cy="153.7" r="4.8" fill="#e6e6e6"/>
<circle cx="40.8" cy="116.7" r="3.9" fill="#e6e6e6"/>
<circle cx="66.5" cy="134.6" r="3.2" fill="#e6e6e6"/>
<circle cx="54.0" cy="116.0" r="3.4" fill="#e6e6e6"/>
<circle cx="81.9" cy="144.8" r="5.2" fill="#e6e6e6"/>
<circle cx="46.4" cy="117.1" r="3.6" fill="#e6e6e6"/>
<circle cx="48.8" cy="150.4" r="3.4" fill="#e6e6e6"/>
<circle cx="38.6" cy="136.1" r="5.4" fill="#e6e6e6"/>
<circle cx="79.8" cy="127.2" r="3.6" fill="#e6e6e6"/>
<circle cx="73.5" cy="127.5" r="3.9" fill="#e6e6e6"/>
<circle cx="76.0" cy="131.1" r="4.2" fill="#e6e6e6"/>
<circle cx="39.8" cy="130.8" r="4.3" fill="#e6e6e6"/>
<circle cx="72.5" cy="131.5" r="3.2" fill="#e6e6e6"/>
<circle cx="49.4" cy="134.6" r="3.1" fill="#e6e6e6"/>
<circle cx="49.5" cy="144.5" r="4.5" fill="#e6e6e6"/>
<path d="M164.3,69.6 Q162.7,75.0 162.2,79.5 Q161.6,84.0 160.7,88.9 Q159.7,93.9 156.5,97.1 Q153.2,100.3 149.2,101.8 Q145.2,103.3 140.8,104.4 Q136.5,105.6 132.0,104.4 Q127.5,103.1 124.1,99.3 Q120.7,95.4 118.3,90.7 Q115.9,85.9 115.3,80.5 Q114.6,75.0 116.9,70.2 Q119.2,65.5 122.1,62.2 Q124.9,58.8 127.3,55.1 Q129.6,51.4 133.2,48.5 Q136.7,45.6 141.1,45.2 Q145.4,44.7 150.2,45.4 Q154.9,46.1 159.3,49.1 Q163.7,52.2 164.7,58.2 Q165.8,64.2 164.3,69.6Z" fill="#7a7a7a" />
<path d="M321.4,100.7 Q322.1,106.0 322.4,111.6 Q322.8,117.3 320.6,123.1 Q318.4,128.9 313.0,133.2 Q307.5,137.4 300.2,138.0 Q292.8,138.5 286.6,135.4 Q280.5,132.3 276.0,129.7 Q271.5,127.1 265.3,126.1 Q259.0,125.1 252.5,121.7 Q246.1,118.2 244.3,112.1 Q242.6,106.0 244.6,100.0 Q246.6,93.9 250.6,88.9 Q254.6,83.8 261.1,81.4 Q267.5,79.1 274.0,79.3 Q280.5,79.6 286.1,78.9 Q291.8,78.2 298.8,77.7 Q305.8,77.1 311.5,80.6 Q317.1,84.0 318.9,89.7 Q320.7,95.4 321.4,100.7Z" fill="#8e8e8e" />
<circle cx="290.6" cy="96.6" r="4.3" fill="#e6e6e6"/>
<circle cx="256.5" cy="105.3" r="5.0" fill="#e6e6e6"/>
<circle cx="297.4" cy="87.6" r="5.2" fill="#e6e6e6"/>
<circle cx="275.0" cy="85.3" r="3.6" fill="#e6e6e6"/>
<circle cx="297.6" cy="107.9" r="3.9" fill="#e6e6e6"/>
<circle cx="309.3" cy="121.2" r="4.4" fill="#e6e6e6"/>
<circle cx="268.2" cy="90.5" r="4.7" fill="#e6e6e6"/>
<circle cx="284.1" cy="106.1" r="5.0" fill="#e6e6e6"/>
<circle cx="285.7" cy="86.7" r="4.3" fill="#e6e6e6"/>
<circle cx="281.5" cy="100.1" r="4.8" fill="#e6e6e6"/>
<circle cx="285.9" cy="113.4" r="3.7" fill="#e6e6e6"/>
<circle cx="284.1" cy="93.8" r="4.8" fill="#e6e6e6"/>
<circle cx="308.4" cy="103.1" r="4.0" fill="#e6e6e6"/>
<circle cx="259.5" cy="109.0" r="4.9" fill="#e6e6e6"/>
<circle cx="266.8" cy="91.4" r="3.2" fill="#e6e6e6"/>
<circle cx="295.8" cy="117.0" r="4.9" fill="#e6e6e6"/>
<circle cx="277.8" cy="125.3" r="3.0" fill="#e6e6e6"/>
<circle cx="301.5" cy="111.2" r="4.7" fill="#e6e6e6"/>
<circle cx="276.6" cy="85.1" r="3.7" fill="#e6e6e6"/>
<circle cx="264.1" cy="104.1" r="4.2" fill="#e6e6e6"/>
<path d="M389.0,100.7 Q391.2,106.0 391.2,112.4 Q391.1,118.8 388.0,123.3 Q384.9,127.9 381.3,130.4 Q377.7,133.0 374.3,135.2 Q370.8,137.3 367.1,136.8 Q363.3,136.2 360.5,132.9 Q357.6,129.6 354.9,126.9 Q352.1,124.1 348.8,120.8 Q345.5,117.4 344.0,111.7 Q342.5,106.0 343.5,100.1 Q344.5,94.1 346.7,89.0 Q348.9,83.9 352.2,80.5 Q355.5,77.1 359.4,76.5 Q363.4,75.9 366.9,76.7 Q370.5,77.5 373.8,79.1 Q377.1,80.6 379.8,83.9 Q382.4,87.1 384.7,91.3 Q386.9,95.5 389.0,100.7Z" fill="#7a7a7a" />
<path d="M468.5,164.2 Q469.6,171.7 467.3,179.5 Q465.0,187.2 460.9,193.5 Q456.8,199.8 451.8,205.2 Q446.8,210.7 440.6,213.2 Q434.5,215.8 429.0,213.0 Q423.4,210.1 420.1,203.9 Q416.9,197.8 414.7,192.0 Q412.6,186.3 410.2,180.6 Q407.9,175.0 406.6,167.7 Q405.3,160.4 406.7,152.3 Q408.1,144.1 412.1,137.1 Q416.0,130.1 421.6,125.5 Q427.1,120.8 433.3,119.5 Q439.4,118.2 444.7,121.0 Q450.1,123.7 453.5,129.1 Q457.0,134.4 459.5,139.8 Q462.1,145.2 464.8,150.9 Q467.5,156.6 468.5,164.2Z" fill="#8e8e8e" />
<circle cx="410.8" cy="160.4" r="3.3" fill="#e6e6e6"/>
<circle cx="445.3" cy="141.3" r="5.2" fill="#e6e6e6"/>
<circle cx="433.2" cy="148.4" r="5.2" fill="#e6e6e6"/>
<circle cx="432.7" cy="166.5" r="3.0" fill="#e6e6e6"/>
<circle cx="418.8" cy="167.3" r="3.8" fill="#e6e6e6"/>
<circle cx="447.1" cy="183.3" r="3.8" fill="#e6e6e6"/>
<circle cx="437.6" cy="164.7" r="4.9" fill="#e6e6e6"/>
<circle cx="442.0" cy="154.8" r="5.3" fill="#e6e6e6"/>
<circle cx="431.1" cy="130.7" r="3.7" fill="#e6e6e6"/>
<circle cx="425.2" cy="183.2" r="5.5" fill="#e6e6e6"/>
<circle cx="423.2" cy="153.8" r="4.1" fill="#e6e6e6"/>
<circle cx="436.1" cy="174.3" r="3.3" fill="#e6e6e6"/>
<circle cx="444.4" cy="148.4" r="5.3" fill="#e6e6e6"/>
<circle cx="437.1" cy="185.7" r="4.3" fill="#e6e6e6"/>
<circle cx="443.1" cy="187.7" r="5.4" fill="#e6e6e6"/>
<circle cx="455.3" cy="143.1" r="4.6" fill="#e6e6e6"/>
<circle cx="459.6" cy="146.8" r="4.4" fill="#e6e6e6"/>
<circle cx="435.8" cy="157.6" r="4.8" fill="#e6e6e6"/>
<circle cx="414.5" cy="176.1" r="4.6" fill="#e6e6e6"/>
<circle cx="435.6" cy="174.2" r="5.3" fill="#e6e6e6"/>
<circle cx="450.0" cy="184.9" r="3.9" fill="#e6e6e6"/>
<circle cx="430.1" cy="197.4" r="5.4" fill="#e6e6e6"/>
<circle cx="435.6" cy="196.9" r="3.8" fill="#e6e6e6"/>
<circle cx="421.0" cy="157.5" r="3.4" fill="#e6e6e6"/>
<path d="M380.4,204.6 Q383.3,211.0 382.9,218.4 Q382.5,225.7 377.6,231.2 Q372.7,236.8 365.7,238.4 Q358.8,240.1 353.1,241.0 Q347.4,241.8 341.4,245.0 Q335.4,248.3 327.6,248.9 Q319.7,249.6 315.0,243.6 Q310.2,237.7 310.1,230.1 Q310.1,222.6 309.4,216.8 Q308.7,211.0 307.1,204.4 Q305.5,197.7 307.8,191.0 Q310.1,184.2 316.0,180.2 Q321.9,176.3 328.7,174.8 Q335.4,173.4 341.9,174.1 Q348.4,174.8 354.0,177.7 Q359.6,180.6 364.2,184.5 Q368.9,188.5 373.1,193.3 Q377.4,198.1 380.4,204.6Z" fill="#8e8e8e" />
<circle cx="351.1" cy="221.9" r="3.2" fill="#e6e6e6"/>
<circle cx="336.7" cy="219.2" r="3.6" fill="#e6e6e6"/>
<circle cx="340.7" cy="235.3" r="5.2" fill="#e6e6e6"/>
<circle cx="342.0" cy="190.2" r="4.0" fill="#e6e6e6"/>
<circle cx="322.4" cy="208.0" r="3.8" fill="#e6e6e6"/>
<circle cx="357.7" cy="217.5" r="5.4" fill="#e6e6e6"/>
<circle cx="358.1" cy="227.3" r="4.6" fill="#e6e6e6"/>
<circle cx="351.8" cy="199.6" r="3.7" fill="#e6e6e6"/>
<circle cx="342.2" cy="231.4" r="4.1" fill="#e6e6e6"/>
<circle cx="370.5" cy="202.5" r="5.2" fill="#e6e6e6"/>
<circle cx="347.7" cy="211.8" r="4.8" fill="#e6e6e6"/>
<circle cx="359.6" cy="197.5" r="4.5" fill="#e6e6e6"/>
<circle cx="362.2" cy="211.0" r="5.3" fill="#e6e6e6"/>
<circle cx="355.7" cy="184.4" r="5.4" fill="#e6e6e6"/>
<circle cx="342.1" cy="221.7" r="3.4" fill="#e6e6e6"/>
<circle cx="315.6" cy="207.3" r="5.4" fill="#e6e6e6"/>
<circle cx="337.4" cy="185.4" r="4.9" fill="#e6e6e6"/>
<circle cx="318.9" cy="217.4" r="3.1" fill="#e6e6e6"/>
<circle cx="345.1" cy="195.7" r="5.3" fill="#e6e6e6"/>
<circle cx="331.1" cy="196.9" r="3.3" fill="#e6e6e6"/>
<circle cx="341.7" cy="236.8" r="4.7" fill="#e6e6e6"/>
<circle cx="348.5" cy="216.5" r="4.3" fill="#e6e6e6"/>
<circle cx="324.5" cy="201.0" r="3.6" fill="#e6e6e6"/>
<circle cx="339.3" cy="209.0" r="3.8" fill="#e6e6e6"/>
<path d="M45.9,251.7 Q46.2,256.0 46.1,260.4 Q46.1,264.7 44.0,268.4 Q41.9,272.1 38.5,274.0 Q35.2,276.0 31.9,277.6 Q28.6,279.2 24.9,280.0 Q21.2,280.8 17.5,279.4 Q13.8,278.0 10.5,275.5 Q7.3,272.9 4.6,269.2 Q2.0,265.5 2.1,260.7 Q2.2,256.0 4.3,252.1 Q6.3,248.3 8.0,244.8 Q9.6,241.3 11.8,237.8 Q14.0,234.4 17.6,233.0 Q21.2,231.7 25.0,231.9 Q28.7,232.1 32.7,232.6 Q36.7,233.1 40.1,235.7 Q43.4,238.4 44.5,242.9 Q45.7,247.5 45.9,251.7Z" fill="#7a7a7a" />
<path d="M97.3,232.9 Q97.5,236.0 96.5,238.8 Q95.6,241.7 94.3,244.3 Q93.0,246.9 90.9,249.1 Q88.8,251.3 86.0,252.8 Q83.2,254.2 79.9,255.0 Q76.5,255.7 73.1,254.8 Q69.7,253.9 67.8,250.8 Q65.9,247.8 65.6,244.6 Q65.3,241.3 64.8,238.7 Q64.2,236.0 63.9,233.0 Q63.6,230.0 64.9,227.3 Q66.3,224.5 68.5,222.3 Q70.8,220.1 73.7,218.4 Q76.6,216.8 80.0,216.9 Q83.4,216.9 86.2,218.7 Q89.0,220.4 91.3,222.5 Q93.5,224.7 95.3,227.2 Q97.0,229.8 97.3,232.9Z" fill="#7a7a7a" />
<path d="M186.2,246.8 Q188.3,251.0 187.0,255.5 Q185.7,260.0 182.8,263.4 Q179.9,266.9 176.6,269.7 Q173.4,272.4 169.3,273.9 Q165.3,275.4 161.0,275.6 Q156.6,275.9 152.2,275.0 Q147.7,274.1 144.5,270.8 Q141.2,267.6 140.6,263.1 Q140.0,258.7 139.6,254.8 Q139.3,251.0 138.4,246.7 Q137.5,242.4 138.8,237.9 Q140.0,233.4 143.7,230.5 Q147.4,227.5 151.9,226.1 Q156.4,224.7 160.9,225.2 Q165.4,225.8 168.9,228.6 Q172.3,231.5 174.8,234.4 Q177.4,237.2 180.8,239.9 Q184.1,242.6 186.2,246.8Z" fill="#7a7a7a" />
<path d="M130.7,273.3 Q130.6,276.0 129.7,278.3 Q128.7,280.6 127.5,282.6 Q126.3,284.6 124.9,286.8 Q123.5,289.0 121.2,290.9 Q119.0,292.8 116.0,292.8 Q113.0,292.9 110.7,291.0 Q108.5,289.1 107.1,286.8 Q105.8,284.6 104.6,282.6 Q103.3,280.6 102.3,278.3 Q101.2,276.0 101.2,273.3 Q101.2,270.6 102.5,268.2 Q103.8,265.8 106.1,264.3 Q108.4,262.9 111.0,262.4 Q113.5,261.9 116.0,261.9 Q118.5,261.8 121.1,262.2 Q123.7,262.6 126.0,264.2 Q128.3,265.7 129.5,268.2 Q130.7,270.6 130.7,273.3Z" fill="#7a7a7a" />
<path d="M431.5,258.4 Q431.9,261.0 431.4,263.5 Q430.9,266.1 429.7,268.4 Q428.6,270.7 426.5,272.3 Q424.5,273.9 422.0,274.6 Q419.5,275.3 416.9,275.8 Q414.3,276.2 411.6,275.7 Q408.8,275.2 407.1,273.0 Q405.4,270.8 404.8,268.2 Q404.3,265.6 403.6,263.3 Q402.9,261.0 402.6,258.3 Q402.4,255.7 403.8,253.4 Q405.2,251.1 407.4,249.6 Q409.6,248.1 412.0,247.0 Q414.3,245.9 417.0,245.8 Q419.7,245.7 422.0,247.0 Q424.4,248.2 426.3,249.9 Q428.2,251.6 429.7,253.7 Q431.1,255.9 431.5,258.4Z" fill="#7a7a7a" />
<path d="M582.0,65.4 Q584.4,70.0 584.5,75.4 Q584.7,80.8 582.1,86.0 Q579.5,91.2 574.4,94.9 Q569.3,98.7 562.9,100.0 Q556.5,101.4 550.2,100.4 Q544.0,99.3 538.8,96.8 Q533.7,94.2 529.8,90.8 Q525.8,87.4 523.0,83.3 Q520.2,79.3 518.5,74.7 Q516.8,70.0 516.5,64.7 Q516.3,59.5 518.4,54.1 Q520.5,48.8 525.4,44.7 Q530.2,40.7 536.8,39.2 Q543.4,37.8 549.7,39.1 Q556.1,40.4 561.0,43.4 Q565.9,46.4 569.5,49.9 Q573.2,53.3 576.4,57.0 Q579.6,60.8 582.0,65.4Z" fill="#8e8e8e" />
<circle cx="527.9" cy="85.0" r="5.2" fill="#e6e6e6"/>
<circle cx="546.8" cy="44.7" r="5.3" fill="#e6e6e6"/>
<circle cx="543.9" cy="79.6" r="5.3" fill="#e6e6e6"/>
<circle cx="549.9" cy="65.4" r="4.7" fill="#e6e6e6"/>
<circle cx="536.8" cy="80.8" r="3.8" fill="#e6e6e6"/>
<circle cx="550.8" cy="71.2" r="3.7" fill="#e6e6e6"/>
<circle cx="532.7" cy="90.0" r="3.3" fill="#e6e6e6"/>
<circle cx="563.2" cy="67.4" r="3.9" fill="#e6e6e6"/>
<circle cx="561.7" cy="49.2" r="4.1" fill="#e6e6e6"/>
<circle cx="569.5" cy="75.3" r="3.9" fill="#e6e6e6"/>
<circle cx="561.4" cy="64.6" r="3.9" fill="#e6e6e6"/>
<circle cx="554.1" cy="67.3" r="4.0" fill="#e6e6e6"/>
<circle cx="559.9" cy="49.3" r="3.1" fill="#e6e6e6"/>
<circle cx="557.3" cy="71.4" r="5.3" fill="#e6e6e6"/>
<circle cx="548.9" cy="92.0" r="5.2" fill="#e6e6e6"/>
<circle cx="541.8" cy="81.3" r="5.4" fill="#e6e6e6"/>
<circle cx="538.7" cy="61.2" r="4.8" fill="#e6e6e6"/>
<path d="M652.5,39.8 Q654.4,45.0 653.1,50.5 Q651.8,55.9 647.5,59.0 Q643.2,62.1 638.9,62.9 Q634.7,63.8 631.6,65.7 Q628.6,67.6 624.6,70.3 Q620.6,73.0 615.8,72.6 Q611.0,72.2 607.8,68.2 Q604.7,64.1 603.2,59.3 Q601.7,54.5 600.5,49.7 Q599.3,45.0 599.4,39.8 Q599.4,34.6 602.2,30.4 Q605.0,26.2 609.2,24.4 Q613.4,22.5 617.3,21.7 Q621.2,20.9 625.1,20.3 Q629.0,19.7 633.1,20.6 Q637.1,21.5 640.7,24.1 Q644.4,26.8 647.5,30.7 Q650.5,34.6 652.5,39.8Z" fill="#7a7a7a" />
<path d="M719.8,100.8 Q720.7,106.0 720.4,111.5 Q720.0,116.9 717.7,121.1 Q715.3,125.3 712.3,127.8 Q709.3,130.2 706.3,132.4 Q703.4,134.5 699.9,135.3 Q696.5,136.0 693.3,133.9 Q690.1,131.8 687.7,128.2 Q685.2,124.6 683.3,120.4 Q681.3,116.2 680.3,111.1 Q679.2,106.0 679.6,100.5 Q680.0,95.1 681.9,90.3 Q683.8,85.6 686.9,83.0 Q690.1,80.4 693.5,79.9 Q696.9,79.4 700.0,79.1 Q703.2,78.8 706.7,79.2 Q710.1,79.6 713.0,82.8 Q715.9,86.0 717.4,90.8 Q719.0,95.7 719.8,100.8Z" fill="#8e8e8e" />
<circle cx="706.5" cy="101.2" r="5.0" fill="#e6e6e6"/>
<circle cx="698.9" cy="82.9" r="4.9" fill="#e6e6e6"/>
<circle cx="692.4" cy="96.9" r="3.8" fill="#e6e6e6"/>
<circle cx="690.3" cy="123.2" r="3.2" fill="#e6e6e6"/>
<circle cx="704.8" cy="126.9" r="3.6" fill="#e6e6e6"/>
<circle cx="702.9" cy="107.9" r="4.4" fill="#e6e6e6"/>
<circle cx="692.3" cy="128.4" r="5.2" fill="#e6e6e6"/>
<circle cx="708.7" cy="105.0" r="3.2" fill="#e6e6e6"/>
<circle cx="709.9" cy="116.3" r="4.8" fill="#e6e6e6"/>
<circle cx="692.2" cy="110.0" r="4.0" fill="#e6e6e6"/>
<path d="M751.7,123.5 Q751.3,126.0 751.3,128.3 Q751.2,130.7 750.7,133.1 Q750.2,135.6 748.6,137.4 Q747.0,139.1 745.1,139.9 Q743.1,140.7 741.0,141.0 Q738.8,141.3 736.6,140.8 Q734.4,140.2 732.8,138.3 Q731.1,136.4 730.4,133.7 Q729.8,131.1 729.9,128.5 Q730.1,126.0 730.4,123.7 Q730.7,121.3 731.3,118.9 Q732.0,116.5 733.5,114.7 Q735.0,112.9 737.0,112.2 Q739.0,111.6 741.0,111.3 Q743.1,111.1 745.4,111.2 Q747.7,111.4 749.6,113.3 Q751.4,115.1 751.7,118.0 Q752.0,121.0 751.7,123.5Z" fill="#7a7a7a" />
<path d="M694.9,240.8 Q696.0,246.0 694.4,251.0 Q692.8,255.9 690.1,259.8 Q687.4,263.6 684.8,267.5 Q682.2,271.4 678.4,274.1 Q674.5,276.8 670.1,276.4 Q665.6,276.1 661.4,274.3 Q657.2,272.6 653.4,269.5 Q649.7,266.5 648.1,261.4 Q646.5,256.2 646.8,251.1 Q647.1,246.0 647.1,241.0 Q647.2,236.0 648.5,230.9 Q649.9,225.7 653.7,222.8 Q657.5,220.0 661.7,219.0 Q665.9,218.0 670.1,217.1 Q674.4,216.3 678.7,217.6 Q683.1,218.9 686.2,222.7 Q689.3,226.5 691.6,231.1 Q693.9,235.6 694.9,240.8Z" fill="#7a7a7a" />
<path d="M806.4,253.8 Q807.0,261.0 804.4,267.4 Q801.8,273.8 797.9,278.5 Q794.1,283.1 790.7,288.3 Q787.4,293.5 782.5,298.6 Q777.6,303.7 771.0,303.8 Q764.4,303.8 758.9,299.8 Q753.5,295.7 748.6,291.5 Q743.7,287.2 739.7,281.4 Q735.8,275.7 736.2,268.3 Q736.6,261.0 739.5,255.0 Q742.3,249.1 744.3,243.1 Q746.2,237.2 749.5,231.0 Q752.8,224.9 758.7,222.3 Q764.6,219.7 770.8,220.7 Q777.1,221.7 782.8,223.9 Q788.6,226.2 793.8,230.2 Q798.9,234.2 802.3,240.4 Q805.8,246.5 806.4,253.8Z" fill="#8e8e8e" />
<circle cx="780.5" cy="260.4" r="4.2" fill="#e6e6e6"/>
<circle cx="782.5" cy="232.7" r="5.3" fill="#e6e6e6"/>
<circle cx="786.6" cy="265.6" r="3.3" fill="#e6e6e6"/>
<circle cx="781.9" cy="292.1" r="4.5" fill="#e6e6e6"/>
<circle cx="787.4" cy="252.2" r="5.2" fill="#e6e6e6"/>
<circle cx="756.6" cy="266.4" r="4.9" fill="#e6e6e6"/>
<circle cx="780.1" cy="257.3" r="4.5" fill="#e6e6e6"/>
<circle cx="760.9" cy="250.1" r="3.9" fill="#e6e6e6"/>
<circle cx="779.5" cy="272.9" r="3.6" fill="#e6e6e6"/>
<circle cx="751.5" cy="245.0" r="3.5" fill="#e6e6e6"/>
<circle cx="788.0" cy="262.4" r="4.7" fill="#e6e6e6"/>
<circle cx="777.6" cy="278.4" r="3.5" fill="#e6e6e6"/>
<circle cx="777.2" cy="236.8" r="3.2" fill="#e6e6e6"/>
<circle cx="786.0" cy="273.7" r="4.4" fill="#e6e6e6"/>
<circle cx="765.2" cy="253.1" r="3.4" fill="#e6e6e6"/>
<circle cx="764.6" cy="240.5" r="3.7" fill="#e6e6e6"/>
<circle cx="760.7" cy="292.0" r="3.8" fill="#e6e6e6"/>
<circle cx="754.7" cy="252.8" r="4.0" fill="#e6e6e6"/>
<circle cx="790.5" cy="235.4" r="3.9" fill="#e6e6e6"/>
<circle cx="779.3" cy="288.4" r="3.5" fill="#e6e6e6"/>
<circle cx="799.2" cy="262.2" r="4.1" fill="#e6e6e6"/>
<circle cx="779.1" cy="241.4" r="5.2" fill="#e6e6e6"/>
<circle cx="759.4" cy="264.3" r="3.0" fill="#e6e6e6"/>
<path d="M516.6,6.6 Q516.4,10.0 515.4,13.2 Q514.5,16.3 511.9,19.2 Q509.3,22.1 505.1,24.4 Q500.9,26.7 495.5,28.3 Q490.1,29.9 483.9,30.4 Q477.6,30.9 471.4,29.7 Q465.3,28.5 460.8,25.9 Q456.3,23.3 453.8,20.0 Q451.3,16.8 450.4,13.4 Q449.4,10.0 450.3,6.6 Q451.1,3.2 454.6,0.4 Q458.1,-2.4 463.1,-4.0 Q468.2,-5.6 473.3,-6.8 Q478.4,-8.0 484.4,-9.3 Q490.3,-10.5 497.2,-10.2 Q504.1,-9.9 509.0,-7.1 Q513.9,-4.3 515.3,-0.6 Q516.7,3.2 516.6,6.6Z" fill="#7a7a7a" />
<path d="M130.2,347.8 Q130.7,355.0 129.4,361.9 Q128.2,368.8 124.5,374.3 Q120.8,379.8 116.1,383.5 Q111.3,387.3 106.1,390.4 Q100.9,393.5 94.8,394.8 Q88.7,396.1 82.8,393.4 Q77.0,390.7 73.3,385.0 Q69.7,379.3 67.3,373.4 Q64.8,367.5 61.8,361.3 Q58.8,355.0 57.6,347.0 Q56.4,338.9 60.5,332.4 Q64.6,325.9 71.8,324.6 Q79.0,323.4 84.6,323.8 Q90.3,324.3 95.3,322.1 Q100.4,320.0 107.1,318.9 Q113.8,317.8 119.4,322.1 Q124.9,326.3 127.3,333.4 Q129.7,340.6 130.2,347.8Z" fill="#7a7a7a" />
<path d="M271.0,401.6 Q272.3,405.0 272.6,409.0 Q272.9,413.0 271.6,417.0 Q270.2,421.1 266.4,423.1 Q262.6,425.2 258.5,424.6 Q254.4,424.1 251.0,423.9 Q247.7,423.8 243.8,424.1 Q239.8,424.4 236.3,422.3 Q232.8,420.3 231.1,416.6 Q229.5,412.8 228.9,408.9 Q228.2,405.0 229.2,401.2 Q230.2,397.4 233.0,394.9 Q235.9,392.3 238.5,390.1 Q241.1,387.8 244.0,384.8 Q246.9,381.8 251.2,380.9 Q255.4,380.1 258.8,382.8 Q262.3,385.5 264.2,388.9 Q266.2,392.3 267.9,395.2 Q269.7,398.2 271.0,401.6Z" fill="#7a7a7a" />
<path d="M314.7,378.8 Q315.3,382.0 315.4,385.5 Q315.5,389.0 314.1,392.0 Q312.7,395.0 310.4,396.8 Q308.2,398.5 305.9,400.2 Q303.6,401.8 300.9,402.6 Q298.2,403.3 295.9,401.3 Q293.5,399.3 292.0,396.5 Q290.5,393.8 288.6,391.4 Q286.7,389.0 285.5,385.5 Q284.3,382.0 285.6,378.6 Q286.9,375.1 289.0,373.0 Q291.0,370.9 292.6,368.4 Q294.1,366.0 296.2,363.7 Q298.3,361.3 301.1,360.9 Q303.8,360.5 306.4,362.1 Q308.9,363.6 310.7,366.4 Q312.5,369.2 313.3,372.4 Q314.1,375.6 314.7,378.8Z" fill="#7a7a7a" />
<path d="M186.9,481.3 Q187.6,485.0 186.1,488.4 Q184.7,491.9 182.6,495.0 Q180.6,498.1 177.1,500.4 Q173.7,502.6 169.4,503.1 Q165.1,503.7 161.0,503.6 Q156.9,503.5 152.8,502.8 Q148.6,502.2 145.2,500.0 Q141.8,497.9 139.7,494.8 Q137.6,491.8 136.3,488.4 Q135.0,485.0 135.6,481.4 Q136.2,477.8 139.0,475.0 Q141.8,472.1 145.2,470.0 Q148.6,467.9 152.6,466.4 Q156.6,464.9 160.9,465.4 Q165.2,465.9 168.7,467.7 Q172.2,469.4 175.9,471.0 Q179.5,472.6 182.9,475.1 Q186.3,477.6 186.9,481.3Z" fill="#8e8e8e" />
<circle cx="164.4" cy="482.9" r="4.4" fill="#e6e6e6"/>
<circle cx="161.2" cy="481.7" r="5.1" fill="#e6e6e6"/>
<circle cx="173.2" cy="493.9" r="4.4" fill="#e6e6e6"/>
<circle cx="152.8" cy="478.3" r="4.1" fill="#e6e6e6"/>
<circle cx="149.0" cy="479.5" r="4.6" fill="#e6e6e6"/>
<circle cx="147.7" cy="488.7" r="3.1" fill="#e6e6e6"/>
<circle cx="150.1" cy="476.9" r="3.6" fill="#e6e6e6"/>
<circle cx="162.6" cy="470.0" r="4.1" fill="#e6e6e6"/>
<path d="M467.2,354.1 Q469.2,360.0 468.3,366.5 Q467.4,373.0 464.2,377.6 Q460.9,382.2 457.4,385.6 Q454.0,389.0 450.1,391.7 Q446.3,394.3 442.0,394.2 Q437.7,394.0 433.9,391.4 Q430.2,388.7 426.9,385.2 Q423.6,381.6 420.9,376.9 Q418.3,372.1 417.1,366.0 Q415.8,360.0 416.3,353.6 Q416.8,347.2 419.3,341.7 Q421.8,336.3 425.8,333.4 Q429.8,330.5 433.9,329.2 Q438.0,327.9 442.1,327.2 Q446.2,326.5 450.3,328.2 Q454.4,330.0 457.4,334.2 Q460.3,338.5 462.8,343.3 Q465.3,348.1 467.2,354.1Z" fill="#8e8e8e" />
<circle cx="458.4" cy="366.0" r="3.2" fill="#e6e6e6"/>
<circle cx="440.1" cy="333.9" r="4.3" fill="#e6e6e6"/>
<circle cx="456.2" cy="367.1" r="3.9" fill="#e6e6e6"/>
<circle cx="449.5" cy="356.7" r="5.1" fill="#e6e6e6"/>
<circle cx="460.2" cy="359.4" r="5.0" fill="#e6e6e6"/>
<circle cx="449.3" cy="387.7" r="4.2" fill="#e6e6e6"/>
<circle cx="461.6" cy="352.3" r="3.4" fill="#e6e6e6"/>
<circle cx="446.9" cy="332.1" r="3.2" fill="#e6e6e6"/>
<circle cx="431.1" cy="380.8" r="3.4" fill="#e6e6e6"/>
<circle cx="450.9" cy="350.6" r="5.0" fill="#e6e6e6"/>
<circle cx="451.3" cy="376.5" r="5.3" fill="#e6e6e6"/>
<circle cx="444.8" cy="374.7" r="4.3" fill="#e6e6e6"/>
<circle cx="440.3" cy="365.2" r="3.5" fill="#e6e6e6"/>
<circle cx="452.9" cy="384.4" r="4.7" fill="#e6e6e6"/>
<path d="M350.0,552.2 Q352.9,556.0 352.9,560.7 Q352.9,565.4 349.3,569.0 Q345.7,572.6 341.3,575.0 Q336.9,577.5 332.1,579.1 Q327.2,580.8 322.0,580.7 Q316.8,580.7 311.7,579.4 Q306.7,578.1 302.3,575.4 Q298.0,572.8 296.4,568.5 Q294.9,564.2 295.8,560.1 Q296.8,556.0 296.5,552.1 Q296.3,548.2 296.4,543.2 Q296.6,538.2 300.7,534.7 Q304.7,531.1 310.6,530.6 Q316.5,530.0 321.9,530.7 Q327.2,531.3 331.9,533.2 Q336.5,535.0 339.4,538.4 Q342.3,541.8 344.8,545.1 Q347.2,548.4 350.0,552.2Z" fill="#8e8e8e" />
<circle cx="303.7" cy="550.5" r="5.2" fill="#e6e6e6"/>
<circle cx="342.1" cy="568.9" r="4.6" fill="#e6e6e6"/>
<circle cx="304.1" cy="567.7" r="3.7" fill="#e6e6e6"/>
<circle cx="341.3" cy="555.0" r="3.9" fill="#e6e6e6"/>
<circle cx="323.6" cy="541.9" r="3.4" fill="#e6e6e6"/>
<circle cx="321.8" cy="551.3" r="5.0" fill="#e6e6e6"/>
<circle cx="321.5" cy="573.0" r="5.5" fill="#e6e6e6"/>
<circle cx="304.2" cy="547.1" r="3.8" fill="#e6e6e6"/>
<circle cx="326.7" cy="556.0" r="3.4" fill="#e6e6e6"/>
<circle cx="309.5" cy="546.7" r="4.3" fill="#e6e6e6"/>
<circle cx="329.3" cy="551.3" r="3.6" fill="#e6e6e6"/>
<circle cx="319.8" cy="553.4" r="3.0" fill="#e6e6e6"/>
<path d="M428.8,538.9 Q431.2,546.0 429.3,553.4 Q427.4,560.7 423.1,565.6 Q418.8,570.4 414.7,573.9 Q410.6,577.3 406.1,579.5 Q401.7,581.6 397.0,581.9 Q392.2,582.2 386.9,581.8 Q381.7,581.4 376.2,578.3 Q370.8,575.3 368.2,568.3 Q365.5,561.3 366.4,553.6 Q367.2,546.0 368.9,539.6 Q370.6,533.2 372.8,527.3 Q375.0,521.4 378.7,516.9 Q382.4,512.4 387.1,509.6 Q391.8,506.9 397.0,506.5 Q402.3,506.2 406.9,509.3 Q411.6,512.4 415.2,517.0 Q418.8,521.6 422.6,526.7 Q426.5,531.7 428.8,538.9Z" fill="#8e8e8e" />
<circle cx="387.8" cy="548.0" r="5.3" fill="#e6e6e6"/>
<circle cx="397.4" cy="559.1" r="3.2" fill="#e6e6e6"/>
<circle cx="381.6" cy="521.8" r="5.0" fill="#e6e6e6"/>
<circle cx="386.3" cy="556.1" r="3.0" fill="#e6e6e6"/>
<circle cx="385.3" cy="525.9" r="3.9" fill="#e6e6e6"/>
<circle cx="386.6" cy="528.1" r="5.3" fill="#e6e6e6"/>
<circle cx="395.7" cy="529.1" r="5.3" fill="#e6e6e6"/>
<circle cx="414.9" cy="552.8" r="4.0" fill="#e6e6e6"/>
<circle cx="397.5" cy="554.2" r="4.9" fill="#e6e6e6"/>
<circle cx="415.9" cy="548.0" r="5.4" fill="#e6e6e6"/>
<circle cx="404.1" cy="557.8" r="4.5" fill="#e6e6e6"/>
<circle cx="376.6" cy="544.8" r="5.0" fill="#e6e6e6"/>
<circle cx="403.5" cy="562.8" r="3.8" fill="#e6e6e6"/>
<circle cx="419.9" cy="555.6" r="5.0" fill="#e6e6e6"/>
<circle cx="396.6" cy="543.4" r="5.1" fill="#e6e6e6"/>
<circle cx="396.5" cy="522.8" r="4.9" fill="#e6e6e6"/>
<circle cx="385.4" cy="550.8" r="3.3" fill="#e6e6e6"/>
<circle cx="397.6" cy="552.7" r="3.8" fill="#e6e6e6"/>
<circle cx="397.0" cy="517.7" r="5.1" fill="#e6e6e6"/>
<circle cx="393.9" cy="529.0" r="4.4" fill="#e6e6e6"/>
<path d="M333.4,477.9 Q333.5,480.0 332.9,481.9 Q332.4,483.8 331.7,485.6 Q331.0,487.5 329.7,489.3 Q328.5,491.2 326.3,491.6 Q324.1,492.0 322.2,491.1 Q320.2,490.3 318.4,489.8 Q316.6,489.4 314.3,488.9 Q312.0,488.4 310.4,486.6 Q308.8,484.8 308.8,482.4 Q308.8,480.0 309.7,477.9 Q310.7,475.9 312.2,474.5 Q313.8,473.1 315.5,472.4 Q317.2,471.7 318.7,470.6 Q320.1,469.4 322.2,468.2 Q324.3,467.0 326.6,467.5 Q329.0,467.9 330.4,469.8 Q331.9,471.7 332.6,473.8 Q333.3,475.9 333.4,477.9Z" fill="#7a7a7a" />
<path d="M158.1,313.3 Q159.0,315.0 158.9,316.9 Q158.8,318.9 157.4,320.4 Q155.9,322.0 153.9,322.7 Q151.8,323.4 149.9,324.0 Q148.0,324.6 145.9,325.0 Q143.8,325.4 141.9,324.5 Q140.0,323.6 139.0,322.1 Q138.0,320.6 137.1,319.3 Q136.1,318.0 135.1,316.5 Q134.2,315.0 134.2,313.2 Q134.3,311.4 135.1,309.7 Q135.9,307.9 137.4,306.3 Q138.9,304.7 141.3,304.4 Q143.7,304.0 145.8,305.1 Q147.9,306.2 149.3,307.3 Q150.7,308.3 152.3,308.9 Q154.0,309.4 155.6,310.5 Q157.2,311.6 158.1,313.3Z" fill="#7a7a7a" />
<path d="M413.3,322.8 Q414.4,325.0 413.8,327.3 Q413.2,329.6 409.8,331.2 Q406.5,332.8 401.9,333.2 Q397.3,333.6 393.8,333.9 Q390.4,334.3 386.5,335.5 Q382.7,336.7 377.5,336.9 Q372.4,337.1 369.1,335.3 Q365.9,333.5 365.1,331.2 Q364.4,329.0 363.5,327.0 Q362.7,325.0 362.5,322.8 Q362.3,320.7 364.7,318.8 Q367.0,316.9 370.9,315.9 Q374.8,314.9 378.9,314.5 Q383.0,314.2 387.0,314.2 Q391.0,314.2 395.0,314.6 Q399.1,315.0 402.9,316.0 Q406.8,317.0 409.5,318.8 Q412.1,320.6 413.3,322.8Z" fill="#7a7a7a" />
<path d="M739.5,334.7 Q739.7,340.0 740.0,345.5 Q740.3,351.0 739.5,357.5 Q738.6,364.0 734.3,369.4 Q730.1,374.8 723.4,376.6 Q716.8,378.3 710.3,376.8 Q703.8,375.4 698.5,372.2 Q693.2,369.1 689.4,364.7 Q685.6,360.4 683.0,355.6 Q680.3,350.8 678.2,345.4 Q676.0,340.0 675.8,333.7 Q675.6,327.5 678.8,322.0 Q682.1,316.6 687.3,313.2 Q692.5,309.7 698.2,307.4 Q703.8,305.0 710.2,304.1 Q716.5,303.1 722.7,305.2 Q728.8,307.4 732.8,312.5 Q736.7,317.6 738.1,323.4 Q739.4,329.3 739.5,334.7Z" fill="#8e8e8e" />
<circle cx="704.0" cy="334.2" r="5.3" fill="#e6e6e6"/>
<circle cx="713.0" cy="343.8" r="3.3" fill="#e6e6e6"/>
<circle cx="725.8" cy="332.5" r="3.4" fill="#e6e6e6"/>
<circle cx="716.0" cy="341.1" r="4.7" fill="#e6e6e6"/>
<circle cx="693.4" cy="321.5" r="4.8" fill="#e6e6e6"/>
<circle cx="730.9" cy="349.2" r="3.9" fill="#e6e6e6"/>
<circle cx="721.1" cy="315.5" r="5.2" fill="#e6e6e6"/>
<circle cx="735.4" cy="351.2" r="5.3" fill="#e6e6e6"/>
<circle cx="719.1" cy="336.7" r="3.5" fill="#e6e6e6"/>
<circle cx="714.2" cy="343.6" r="5.1" fill="#e6e6e6"/>
<circle cx="719.0" cy="318.1" r="5.1" fill="#e6e6e6"/>
<circle cx="699.2" cy="328.3" r="3.2" fill="#e6e6e6"/>
<circle cx="731.1" cy="354.9" r="3.5" fill="#e6e6e6"/>
<circle cx="701.9" cy="357.6" r="3.1" fill="#e6e6e6"/>
<circle cx="709.3" cy="355.8" r="4.8" fill="#e6e6e6"/>
<circle cx="698.6" cy="352.4" r="5.4" fill="#e6e6e6"/>
<circle cx="682.6" cy="339.4" r="4.5" fill="#e6e6e6"/>
<circle cx="728.8" cy="343.7" r="4.1" fill="#e6e6e6"/>
<circle cx="712.5" cy="322.7" r="4.8" fill="#e6e6e6"/>
<circle cx="696.5" cy="336.7" r="5.2" fill="#e6e6e6"/>
<path d="M817.7,368.8 Q820.7,375.0 820.8,382.2 Q820.8,389.5 817.0,395.8 Q813.2,402.0 807.4,406.4 Q801.7,410.8 794.9,413.2 Q788.1,415.5 781.2,414.5 Q774.2,413.4 768.7,409.6 Q763.2,405.9 758.2,402.1 Q753.3,398.3 747.4,393.8 Q741.5,389.4 738.1,382.2 Q734.7,375.0 737.6,367.6 Q740.6,360.3 747.0,356.1 Q753.4,351.8 758.5,348.4 Q763.6,344.9 768.8,340.0 Q774.0,335.1 781.4,332.9 Q788.8,330.7 795.5,334.5 Q802.1,338.4 805.7,344.9 Q809.2,351.3 812.0,357.0 Q814.8,362.7 817.7,368.8Z" fill="#8e8e8e" />
<circle cx="757.2" cy="376.4" r="5.0" fill="#e6e6e6"/>
<circle cx="790.6" cy="396.9" r="3.9" fill="#e6e6e6"/>
<circle cx="789.5" cy="359.9" r="5.4" fill="#e6e6e6"/>
<circle cx="777.7" cy="390.4" r="4.7" fill="#e6e6e6"/>
<circle cx="769.7" cy="375.1" r="4.6" fill="#e6e6e6"/>
<circle cx="807.4" cy="389.7" r="4.7" fill="#e6e6e6"/>
<circle cx="787.2" cy="348.8" r="3.9" fill="#e6e6e6"/>
<circle cx="763.6" cy="387.4" r="5.2" fill="#e6e6e6"/>
<circle cx="808.5" cy="391.5" r="3.1" fill="#e6e6e6"/>
<circle cx="785.7" cy="391.8" r="5.3" fill="#e6e6e6"/>
<circle cx="760.1" cy="374.8" r="5.2" fill="#e6e6e6"/>
<circle cx="783.4" cy="398.0" r="4.3" fill="#e6e6e6"/>
<circle cx="781.8" cy="345.5" r="4.6" fill="#e6e6e6"/>
<circle cx="769.7" cy="390.8" r="3.4" fill="#e6e6e6"/>
<circle cx="796.3" cy="351.9" r="4.9" fill="#e6e6e6"/>
<circle cx="791.9" cy="394.7" r="4.9" fill="#e6e6e6"/>
<circle cx="770.4" cy="369.2" r="4.2" fill="#e6e6e6"/>
<circle cx="793.4" cy="364.0" r="3.5" fill="#e6e6e6"/>
<circle cx="771.9" cy="402.0" r="5.1" fill="#e6e6e6"/>
<circle cx="788.6" cy="386.1" r="3.6" fill="#e6e6e6"/>
<circle cx="769.6" cy="396.8" r="3.4" fill="#e6e6e6"/>
<circle cx="774.0" cy="388.0" r="5.4" fill="#e6e6e6"/>
<circle cx="779.6" cy="364.2" r="5.4" fill="#e6e6e6"/>
<circle cx="797.9" cy="387.6" r="5.5" fill="#e6e6e6"/>
<circle cx="789.1" cy="347.0" r="4.1" fill="#e6e6e6"/>
<circle cx="790.0" cy="400.6" r="3.3" fill="#e6e6e6"/>
<path d="M603.4,409.2 Q605.1,415.0 602.6,420.5 Q600.1,425.9 596.0,429.7 Q592.0,433.4 587.9,436.1 Q583.8,438.9 579.3,440.7 Q574.9,442.5 569.9,443.3 Q564.9,444.1 559.7,442.9 Q554.6,441.6 551.2,437.6 Q547.7,433.7 545.9,429.0 Q544.1,424.4 541.7,419.7 Q539.2,415.0 538.0,409.0 Q536.8,402.9 540.3,398.0 Q543.9,393.1 549.7,391.5 Q555.5,389.9 560.5,389.5 Q565.4,389.0 570.0,389.0 Q574.6,389.0 579.0,390.4 Q583.4,391.8 587.9,394.0 Q592.4,396.2 597.0,399.8 Q601.7,403.5 603.4,409.2Z" fill="#8e8e8e" />
<circle cx="560.7" cy="417.2" r="4.5" fill="#e6e6e6"/>
<circle cx="551.9" cy="427.4" r="5.3" fill="#e6e6e6"/>
<circle cx="552.5" cy="423.2" r="4.9" fill="#e6e6e6"/>
<circle cx="559.3" cy="420.8" r="4.8" fill="#e6e6e6"/>
<circle cx="586.4" cy="399.6" r="4.8" fill="#e6e6e6"/>
<circle cx="582.6" cy="398.2" r="4.6" fill="#e6e6e6"/>
<circle cx="556.3" cy="419.1" r="4.6" fill="#e6e6e6"/>
<circle cx="583.5" cy="424.5" r="5.0" fill="#e6e6e6"/>
<circle cx="565.4" cy="395.3" r="3.6" fill="#e6e6e6"/>
<circle cx="554.7" cy="422.9" r="4.6" fill="#e6e6e6"/>
<circle cx="552.4" cy="426.3" r="5.3" fill="#e6e6e6"/>
<circle cx="578.4" cy="433.8" r="4.9" fill="#e6e6e6"/>
<circle cx="556.3" cy="426.5" r="5.4" fill="#e6e6e6"/>
<circle cx="588.3" cy="419.5" r="3.4" fill="#e6e6e6"/>
<circle cx="574.9" cy="390.8" r="4.3" fill="#e6e6e6"/>
<path d="M519.0,459.3 Q518.1,465.0 516.9,469.7 Q515.7,474.5 514.7,479.7 Q513.8,484.9 510.8,489.4 Q507.9,493.8 503.2,495.1 Q498.6,496.4 494.2,494.8 Q489.8,493.3 486.4,490.6 Q483.0,487.8 480.0,485.0 Q476.9,482.2 473.7,478.7 Q470.5,475.3 468.8,470.1 Q467.0,465.0 467.8,459.5 Q468.7,453.9 471.1,449.2 Q473.6,444.4 477.2,441.0 Q480.8,437.6 485.3,437.2 Q489.9,436.8 493.8,438.5 Q497.7,440.1 501.5,440.7 Q505.4,441.2 510.1,442.6 Q514.9,444.0 517.4,448.8 Q519.9,453.7 519.0,459.3Z" fill="#7a7a7a" />
<path d="M687.4,482.5 Q688.2,490.0 688.7,498.1 Q689.3,506.1 686.0,513.9 Q682.7,521.7 674.8,524.8 Q666.8,527.8 659.3,528.0 Q651.7,528.2 644.7,529.7 Q637.7,531.2 629.8,530.6 Q621.9,530.1 615.1,525.4 Q608.4,520.7 603.3,513.9 Q598.2,507.0 596.7,498.5 Q595.2,490.0 600.1,482.7 Q604.9,475.4 610.8,470.8 Q616.7,466.3 620.5,460.1 Q624.2,454.0 630.4,448.2 Q636.6,442.4 645.0,442.6 Q653.3,442.7 660.5,446.7 Q667.7,450.6 673.8,455.7 Q679.8,460.8 683.1,467.9 Q686.5,474.9 687.4,482.5Z" fill="#8e8e8e" />
<circle cx="639.4" cy="497.2" r="3.7" fill="#e6e6e6"/>
<circle cx="641.4" cy="492.6" r="4.0" fill="#e6e6e6"/>
<circle cx="616.9" cy="505.3" r="3.9" fill="#e6e6e6"/>
<circle cx="643.3" cy="508.0" r="4.9" fill="#e6e6e6"/>
<circle cx="670.8" cy="479.8" r="3.5" fill="#e6e6e6"/>
<circle cx="652.6" cy="467.3" r="3.5" fill="#e6e6e6"/>
<circle cx="668.2" cy="514.5" r="5.0" fill="#e6e6e6"/>
<circle cx="627.6" cy="470.4" r="4.4" fill="#e6e6e6"/>
<circle cx="650.6" cy="527.1" r="3.9" fill="#e6e6e6"/>
<circle cx="622.7" cy="463.5" r="5.0" fill="#e6e6e6"/>
<circle cx="624.7" cy="494.1" r="4.4" fill="#e6e6e6"/>
<circle cx="669.7" cy="514.7" r="3.9" fill="#e6e6e6"/>
<circle cx="656.7" cy="474.0" r="3.9" fill="#e6e6e6"/>
<circle cx="644.4" cy="515.0" r="3.5" fill="#e6e6e6"/>
<circle cx="677.5" cy="490.6" r="3.7" fill="#e6e6e6"/>
<circle cx="645.7" cy="511.0" r="4.2" fill="#e6e6e6"/>
<circle cx="617.5" cy="503.3" r="4.6" fill="#e6e6e6"/>
<circle cx="621.1" cy="518.0" r="5.1" fill="#e6e6e6"/>
<circle cx="677.6" cy="502.2" r="5.3" fill="#e6e6e6"/>
<circle cx="648.0" cy="476.0" r="5.1" fill="#e6e6e6"/>
<circle cx="641.9" cy="486.5" r="3.0" fill="#e6e6e6"/>
<circle cx="674.6" cy="480.7" r="3.6" fill="#e6e6e6"/>
<circle cx="656.6" cy="498.6" r="3.6" fill="#e6e6e6"/>
<circle cx="648.7" cy="467.8" r="3.4" fill="#e6e6e6"/>
<circle cx="673.0" cy="470.7" r="3.4" fill="#e6e6e6"/>
<circle cx="668.1" cy="471.1" r="5.0" fill="#e6e6e6"/>
<circle cx="627.3" cy="458.5" r="5.0" fill="#e6e6e6"/>
<circle cx="654.0" cy="475.6" r="4.7" fill="#e6e6e6"/>
<circle cx="612.7" cy="483.7" r="4.1" fill="#e6e6e6"/>
<circle cx="666.1" cy="470.8" r="3.7" fill="#e6e6e6"/>
<circle cx="646.4" cy="504.2" r="4.2" fill="#e6e6e6"/>
<circle cx="669.4" cy="499.4" r="3.4" fill="#e6e6e6"/>
<circle cx="618.0" cy="491.5" r="4.3" fill="#e6e6e6"/>
<path d="M574.7,521.7 Q576.7,526.0 578.3,531.5 Q580.0,536.9 578.1,542.7 Q576.2,548.4 570.0,551.2 Q563.8,553.9 557.2,553.6 Q550.6,553.3 545.0,553.4 Q539.3,553.6 532.9,553.5 Q526.5,553.5 521.5,550.0 Q516.5,546.5 515.2,541.1 Q514.0,535.7 513.9,530.8 Q513.8,526.0 513.6,521.1 Q513.4,516.2 515.5,511.2 Q517.6,506.3 522.1,502.5 Q526.7,498.8 532.5,496.4 Q538.4,494.0 545.0,493.8 Q551.7,493.6 557.3,496.5 Q562.9,499.4 566.1,504.0 Q569.2,508.6 571.0,513.0 Q572.7,517.4 574.7,521.7Z" fill="#8e8e8e" />
<circle cx="519.6" cy="538.2" r="3.2" fill="#e6e6e6"/>
<circle cx="529.5" cy="510.6" r="3.1" fill="#e6e6e6"/>
<circle cx="526.0" cy="512.6" r="5.3" fill="#e6e6e6"/>
<circle cx="530.7" cy="548.1" r="4.3" fill="#e6e6e6"/>
<circle cx="516.9" cy="528.3" r="3.1" fill="#e6e6e6"/>
<circle cx="540.3" cy="506.2" r="3.8" fill="#e6e6e6"/>
<circle cx="556.6" cy="514.2" r="4.2" fill="#e6e6e6"/>
<circle cx="519.2" cy="522.4" r="3.5" fill="#e6e6e6"/>
<circle cx="527.2" cy="532.6" r="4.4" fill="#e6e6e6"/>
<circle cx="552.5" cy="513.8" r="5.1" fill="#e6e6e6"/>
<circle cx="527.6" cy="536.3" r="3.7" fill="#e6e6e6"/>
<circle cx="515.6" cy="525.0" r="4.6" fill="#e6e6e6"/>
<circle cx="549.5" cy="511.8" r="3.8" fill="#e6e6e6"/>
<circle cx="538.1" cy="544.6" r="4.6" fill="#e6e6e6"/>
<circle cx="546.3" cy="521.0" r="4.8" fill="#e6e6e6"/>
<circle cx="561.5" cy="513.6" r="3.1" fill="#e6e6e6"/>
<circle cx="544.3" cy="527.9" r="3.5" fill="#e6e6e6"/>
<path d="M720.8,531.2 Q720.1,536.0 720.7,540.8 Q721.3,545.6 720.9,551.5 Q720.5,557.4 716.6,562.0 Q712.6,566.5 706.7,567.8 Q700.9,569.2 695.3,567.7 Q689.7,566.3 685.6,562.9 Q681.5,559.4 678.6,555.8 Q675.8,552.1 672.8,548.6 Q669.9,545.2 667.6,540.6 Q665.4,536.0 665.4,530.6 Q665.3,525.2 667.4,519.9 Q669.4,514.5 673.8,510.7 Q678.1,506.8 683.9,506.4 Q689.7,506.0 694.8,507.5 Q699.8,508.9 704.7,509.7 Q709.7,510.6 714.3,513.2 Q718.9,515.9 720.2,521.1 Q721.5,526.4 720.8,531.2Z" fill="#7a7a7a" />
<path d="M857.7,520.9 Q856.4,526.0 855.6,530.3 Q854.7,534.6 854.0,539.7 Q853.3,544.7 850.4,549.6 Q847.4,554.4 842.1,556.4 Q836.7,558.4 831.1,557.7 Q825.5,557.0 820.5,554.9 Q815.5,552.8 811.6,549.2 Q807.6,545.6 805.9,540.7 Q804.2,535.8 804.1,530.9 Q804.0,526.0 804.1,521.1 Q804.3,516.3 805.8,511.2 Q807.4,506.2 811.5,502.7 Q815.6,499.3 820.7,498.2 Q825.9,497.1 831.1,496.7 Q836.2,496.3 841.9,496.8 Q847.5,497.4 852.1,500.9 Q856.7,504.4 857.9,510.1 Q859.0,515.8 857.7,520.9Z" fill="#7a7a7a" />
<path d="M919.7,556.9 Q921.1,561.0 922.1,565.9 Q923.1,570.9 920.5,575.1 Q917.9,579.4 913.0,580.6 Q908.1,581.9 903.9,582.0 Q899.7,582.1 895.9,582.5 Q892.2,582.8 888.0,582.4 Q883.9,581.9 880.0,579.8 Q876.0,577.8 873.4,574.0 Q870.7,570.2 870.6,565.6 Q870.4,561.0 871.5,556.7 Q872.6,552.5 874.1,548.2 Q875.6,543.9 879.2,541.0 Q882.7,538.0 887.3,538.1 Q892.0,538.1 895.9,538.7 Q899.8,539.4 904.0,539.6 Q908.3,539.8 911.9,542.2 Q915.5,544.6 917.0,548.7 Q918.4,552.8 919.7,556.9Z" fill="#8e8e8e" />
<circle cx="886.0" cy="556.9" r="3.8" fill="#e6e6e6"/>
<circle cx="885.4" cy="566.7" r="4.1" fill="#e6e6e6"/>
<circle cx="883.1" cy="545.0" r="3.1" fill="#e6e6e6"/>
<circle cx="892.2" cy="559.3" r="3.3" fill="#e6e6e6"/>
<circle cx="902.0" cy="546.0" r="5.3" fill="#e6e6e6"/>
<circle cx="893.6" cy="561.8" r="4.0" fill="#e6e6e6"/>
<circle cx="878.8" cy="549.8" r="5.5" fill="#e6e6e6"/>
<circle cx="882.5" cy="563.1" r="3.3" fill="#e6e6e6"/>
<circle cx="890.0" cy="553.3" r="3.4" fill="#e6e6e6"/>
<circle cx="897.5" cy="561.1" r="4.7" fill="#e6e6e6"/>
<path d="M613.9,577.7 Q615.9,581.0 615.6,584.7 Q615.3,588.3 611.7,591.2 Q608.2,594.0 603.7,595.6 Q599.1,597.3 594.6,598.8 Q590.1,600.4 584.8,601.0 Q579.6,601.6 574.7,600.0 Q569.9,598.4 566.6,595.8 Q563.4,593.1 560.5,590.4 Q557.6,587.6 555.6,584.3 Q553.6,581.0 554.5,577.4 Q555.3,573.8 558.7,571.0 Q562.1,568.2 566.3,566.3 Q570.6,564.3 575.2,562.9 Q579.8,561.5 585.1,561.2 Q590.3,560.8 595.3,562.1 Q600.2,563.5 603.6,566.1 Q607.0,568.7 609.5,571.6 Q611.9,574.5 613.9,577.7Z" fill="#7a7a7a" />
<path d="M502.4,341.1 Q504.5,345.0 504.3,349.5 Q504.0,354.1 500.8,357.3 Q497.5,360.6 493.8,362.4 Q490.1,364.2 486.7,366.6 Q483.2,369.0 478.6,371.1 Q474.0,373.2 469.1,371.9 Q464.2,370.6 461.7,366.1 Q459.1,361.7 458.7,357.1 Q458.3,352.5 458.2,348.8 Q458.0,345.0 457.9,341.2 Q457.9,337.3 459.0,333.2 Q460.1,329.1 462.8,325.4 Q465.5,321.6 469.8,319.2 Q474.0,316.9 478.9,317.3 Q483.8,317.7 487.6,320.6 Q491.4,323.6 493.6,327.2 Q495.9,330.8 498.1,334.0 Q500.3,337.2 502.4,341.1Z" fill="#7a7a7a" />
<path d="M560.2,285.5 Q559.3,290.0 558.4,293.7 Q557.4,297.5 556.9,301.9 Q556.5,306.3 554.5,311.0 Q552.6,315.7 548.4,317.4 Q544.3,319.1 540.3,317.0 Q536.3,315.0 533.4,312.3 Q530.5,309.5 527.3,307.6 Q524.2,305.7 520.9,302.7 Q517.7,299.6 516.7,294.8 Q515.7,290.0 517.5,285.5 Q519.3,281.1 521.9,277.9 Q524.6,274.7 527.2,272.0 Q529.9,269.3 533.1,267.2 Q536.3,265.1 540.1,264.3 Q544.0,263.5 548.0,264.5 Q552.0,265.4 555.3,268.5 Q558.6,271.6 559.8,276.3 Q561.0,281.0 560.2,285.5Z" fill="#7a7a7a" />
<path d="M892.8,296.5 Q893.2,300.0 893.0,303.7 Q892.9,307.4 891.9,310.8 Q890.8,314.3 889.2,317.4 Q887.6,320.6 885.1,322.4 Q882.7,324.2 880.1,322.9 Q877.6,321.6 875.8,319.0 Q874.0,316.5 872.2,314.6 Q870.4,312.7 868.6,310.1 Q866.8,307.5 866.1,303.8 Q865.4,300.0 865.6,295.9 Q865.8,291.9 867.1,288.2 Q868.3,284.6 870.7,282.9 Q873.1,281.3 875.5,281.1 Q877.9,280.9 880.1,280.0 Q882.3,279.2 885.0,279.2 Q887.6,279.3 889.4,282.2 Q891.2,285.2 891.8,289.1 Q892.4,292.9 892.8,296.5Z" fill="#7a7a7a" />
<path d="M49.9,36.5 Q50.5,40.0 49.8,43.5 Q49.1,46.9 47.3,50.0 Q45.6,53.1 42.5,54.7 Q39.5,56.4 36.2,56.8 Q33.0,57.2 29.9,58.0 Q26.7,58.8 22.8,59.0 Q19.0,59.1 15.9,56.8 Q12.8,54.4 11.4,50.8 Q10.1,47.2 10.0,43.6 Q10.0,40.0 11.4,36.9 Q12.8,33.7 14.8,31.3 Q16.8,28.9 18.6,26.1 Q20.4,23.3 23.3,20.8 Q26.2,18.3 29.9,18.6 Q33.7,18.8 36.7,21.1 Q39.7,23.3 42.3,25.4 Q44.9,27.5 47.1,30.2 Q49.4,32.9 49.9,36.5Z" fill="#7a7a7a" />
<circle cx="856" cy="345" r="8" fill="#f2f2f2"/><circle cx="317" cy="146" r="7" fill="#151515"/>
<polygon points="911,0 934,0 934,125 915,80" fill="#111" />
<ellipse cx="80" cy="5" rx="40" ry="10" fill="#ddd"/>
<rect x="515" y="148" width="405" height="302" fill="none" stroke="#fff" stroke-width="9" stroke-dasharray="28,14"/>
<text x="23" y="79" font-size="71" font-weight="normal" fill="#fff" stroke="#fff" stroke-width="3.5">WT</text>
<text x="22" y="532" font-size="64" font-weight="bold" fill="#fff">10μm</text>
<line x1="50" y1="577" x2="165" y2="577" stroke="#fff" stroke-width="10"/>
</g></g></g>
<g clip-path="url(#cl_wt_b)"><g filter="url(#soft)">
<g transform="translate(74,682) scale(0.21734,0.21746)">
<filter id="nz2" x="0" y="0" width="934" height="607" filterUnits="userSpaceOnUse" primitiveUnits="userSpaceOnUse" color-interpolation-filters="sRGB"><feTurbulence type="fractalNoise" baseFrequency="0.07" numOctaves="3" seed="12"/><feColorMatrix type="matrix" values="0.32 0 0 0 0.154  0.32 0 0 0 0.154  0.32 0 0 0 0.154  0 0 0 0 1"/></filter>
<rect x="0" y="0" width="934" height="607" filter="url(#nz2)" opacity="1.0"/>
<rect x="230" y="90" width="600" height="480" fill="#6a6a6a" opacity="0.25" filter="url(#blur2)"/>
<circle cx="339.3" cy="391.4" r="3.9" fill="#383838"/>
<circle cx="390.4" cy="234.1" r="4.4" fill="#383838"/>
<circle cx="882.6" cy="476.3" r="3.7" fill="#383838"/>
<circle cx="273.1" cy="36.8" r="4.9" fill="#383838"/>
<circle cx="656.9" cy="502.2" r="3.0" fill="#383838"/>
<circle cx="565.8" cy="593.3" r="4.5" fill="#383838"/>
<circle cx="561.5" cy="187.3" r="3.3" fill="#383838"/>
<circle cx="829.5" cy="228.6" r="4.1" fill="#383838"/>
<circle cx="562.1" cy="543.9" r="4.4" fill="#383838"/>
<circle cx="264.6" cy="1.0" r="2.8" fill="#383838"/>
<circle cx="394.6" cy="356.1" r="4.4" fill="#383838"/>
<circle cx="828.9" cy="25.7" r="4.5" fill="#383838"/>
<circle cx="758.2" cy="526.4" r="3.7" fill="#383838"/>
<circle cx="255.8" cy="516.7" r="4.4" fill="#383838"/>
<circle cx="639.5" cy="554.6" r="3.0" fill="#383838"/>
<circle cx="79.4" cy="336.1" r="4.4" fill="#383838"/>
<circle cx="187.2" cy="455.4" r="4.8" fill="#383838"/>
<circle cx="218.6" cy="368.4" r="4.0" fill="#383838"/>
<circle cx="434.6" cy="125.4" r="2.8" fill="#383838"/>
<circle cx="701.6" cy="480.5" r="3.4" fill="#383838"/>
<circle cx="81.9" cy="489.6" r="4.3" fill="#383838"/>
<circle cx="217.5" cy="351.8" r="4.7" fill="#383838"/>
<circle cx="826.7" cy="316.8" r="3.4" fill="#383838"/>
<circle cx="550.4" cy="114.8" r="2.6" fill="#383838"/>
<circle cx="168.8" cy="425.5" r="3.1" fill="#383838"/>
<circle cx="527.2" cy="244.3" r="3.6" fill="#383838"/>
<circle cx="139.2" cy="27.1" r="5.0" fill="#383838"/>
<circle cx="349.4" cy="64.4" r="3.9" fill="#383838"/>
<circle cx="735.4" cy="94.8" r="3.8" fill="#383838"/>
<circle cx="322.2" cy="315.3" r="2.1" fill="#383838"/>
<circle cx="31.4" cy="601.2" r="4.6" fill="#383838"/>
<circle cx="454.2" cy="344.3" r="2.8" fill="#383838"/>
<circle cx="727.8" cy="258.6" r="4.8" fill="#383838"/>
<circle cx="716.6" cy="497.0" r="4.9" fill="#383838"/>
<circle cx="237.2" cy="23.0" r="2.6" fill="#383838"/>
<circle cx="168.8" cy="50.8" r="2.2" fill="#383838"/>
<circle cx="520.6" cy="528.5" r="3.4" fill="#383838"/>
<circle cx="884.7" cy="552.3" r="2.2" fill="#383838"/>
<circle cx="558.6" cy="241.2" r="2.4" fill="#383838"/>
<circle cx="896.0" cy="156.1" r="3.7" fill="#383838"/>
<circle cx="598.4" cy="580.5" r="4.0" fill="#383838"/>
<circle cx="367.2" cy="272.1" r="2.5" fill="#383838"/>
<circle cx="902.0" cy="602.0" r="2.7" fill="#383838"/>
<circle cx="36.1" cy="155.3" r="3.1" fill="#383838"/>
<circle cx="843.2" cy="549.1" r="4.5" fill="#383838"/>
<circle cx="43.9" cy="477.3" r="4.1" fill="#383838"/>
<circle cx="604.0" cy="598.2" r="2.2" fill="#383838"/>
<circle cx="135.2" cy="458.3" r="4.8" fill="#383838"/>
<circle cx="632.2" cy="181.4" r="3.8" fill="#383838"/>
<circle cx="707.9" cy="64.0" r="3.0" fill="#383838"/>
<circle cx="240.0" cy="75.4" r="3.4" fill="#383838"/>
<circle cx="157.5" cy="144.7" r="2.4" fill="#383838"/>
<circle cx="632.9" cy="7.7" r="4.2" fill="#383838"/>
<circle cx="182.2" cy="21.9" r="4.8" fill="#383838"/>
<circle cx="206.0" cy="566.9" r="4.6" fill="#383838"/>
<circle cx="830.1" cy="84.8" r="3.3" fill="#383838"/>
<circle cx="90.6" cy="563.8" r="4.5" fill="#383838"/>
<circle cx="586.9" cy="274.6" r="3.0" fill="#383838"/>
<circle cx="768.7" cy="289.9" r="3.9" fill="#383838"/>
<circle cx="133.3" cy="134.5" r="2.2" fill="#383838"/>
<circle cx="666.6" cy="335.9" r="2.4" fill="#383838"/>
<circle cx="813.3" cy="161.7" r="3.2" fill="#383838"/>
<circle cx="145.4" cy="164.6" r="4.5" fill="#383838"/>
<circle cx="312.4" cy="101.9" r="3.5" fill="#383838"/>
<circle cx="297.1" cy="548.2" r="2.3" fill="#383838"/>
<circle cx="914.0" cy="34.5" r="4.7" fill="#383838"/>
<circle cx="624.2" cy="128.2" r="3.4" fill="#383838"/>
<circle cx="267.3" cy="156.5" r="2.6" fill="#383838"/>
<circle cx="340.2" cy="601.5" r="5.0" fill="#383838"/>
<circle cx="864.0" cy="59.2" r="2.9" fill="#383838"/>
<circle cx="837.1" cy="34.9" r="4.2" fill="#383838"/>
<circle cx="274.2" cy="594.0" r="2.0" fill="#383838"/>
<circle cx="753.8" cy="206.9" r="2.4" fill="#383838"/>
<circle cx="1.8" cy="505.2" r="3.6" fill="#383838"/>
<circle cx="173.6" cy="264.2" r="4.7" fill="#383838"/>
<circle cx="203.9" cy="346.8" r="2.4" fill="#383838"/>
<circle cx="168.2" cy="467.7" r="4.1" fill="#383838"/>
<circle cx="183.7" cy="48.1" r="2.3" fill="#383838"/>
<circle cx="568.4" cy="300.8" r="2.8" fill="#383838"/>
<circle cx="192.4" cy="371.7" r="4.1" fill="#383838"/>
<circle cx="758.0" cy="353.8" r="2.6" fill="#383838"/>
<circle cx="61.4" cy="444.8" r="3.2" fill="#383838"/>
<circle cx="674.0" cy="33.6" r="4.4" fill="#383838"/>
<circle cx="313.1" cy="511.0" r="4.6" fill="#383838"/>
<circle cx="460.5" cy="9.4" r="4.7" fill="#383838"/>
<circle cx="445.2" cy="529.3" r="2.8" fill="#383838"/>
<circle cx="173.8" cy="504.8" r="3.1" fill="#383838"/>
<circle cx="152.7" cy="225.3" r="3.8" fill="#383838"/>
<circle cx="4.3" cy="315.5" r="3.3" fill="#383838"/>
<circle cx="481.6" cy="73.3" r="4.1" fill="#383838"/>
<circle cx="762.6" cy="525.3" r="3.0" fill="#383838"/>
<circle cx="664.2" cy="231.5" r="4.3" fill="#383838"/>
<circle cx="57.2" cy="529.8" r="4.9" fill="#383838"/>
<circle cx="462.1" cy="311.6" r="3.6" fill="#383838"/>
<circle cx="501.9" cy="12.6" r="4.9" fill="#383838"/>
<circle cx="208.9" cy="110.7" r="2.3" fill="#383838"/>
<circle cx="233.9" cy="496.0" r="2.1" fill="#383838"/>
<circle cx="90.1" cy="424.3" r="2.6" fill="#383838"/>
<circle cx="16.5" cy="363.8" r="3.7" fill="#383838"/>
<circle cx="488.4" cy="426.5" r="2.3" fill="#383838"/>
<circle cx="812.1" cy="435.3" r="2.1" fill="#383838"/>
<circle cx="114.9" cy="299.6" r="3.5" fill="#383838"/>
<circle cx="261.2" cy="74.1" r="3.2" fill="#383838"/>
<circle cx="127.9" cy="359.2" r="4.6" fill="#383838"/>
<circle cx="137.5" cy="347.7" r="4.2" fill="#383838"/>
<circle cx="153.5" cy="501.4" r="4.8" fill="#383838"/>
<circle cx="363.1" cy="255.2" r="4.5" fill="#383838"/>
<circle cx="490.9" cy="240.1" r="4.8" fill="#383838"/>
<circle cx="725.6" cy="205.5" r="2.7" fill="#383838"/>
<circle cx="313.0" cy="264.4" r="4.9" fill="#383838"/>
<circle cx="751.3" cy="554.1" r="4.4" fill="#383838"/>
<circle cx="791.7" cy="32.5" r="3.6" fill="#383838"/>
<circle cx="894.6" cy="567.1" r="2.7" fill="#383838"/>
<circle cx="394.3" cy="384.0" r="3.1" fill="#383838"/>
<circle cx="495.8" cy="42.0" r="3.3" fill="#383838"/>
<circle cx="471.5" cy="12.6" r="2.4" fill="#383838"/>
<circle cx="905.7" cy="471.4" r="4.8" fill="#383838"/>
<circle cx="591.4" cy="491.2" r="4.7" fill="#383838"/>
<circle cx="826.3" cy="20.9" r="3.9" fill="#383838"/>
<circle cx="248.2" cy="411.8" r="2.8" fill="#383838"/>
<circle cx="506.5" cy="561.1" r="3.9" fill="#383838"/>
<circle cx="234.0" cy="315.8" r="3.3" fill="#383838"/>
<circle cx="888.1" cy="174.5" r="2.9" fill="#383838"/>
<circle cx="604.8" cy="73.1" r="3.8" fill="#383838"/>
<circle cx="893.0" cy="311.9" r="2.8" fill="#383838"/>
<circle cx="435.6" cy="324.0" r="2.4" fill="#383838"/>
<circle cx="115.7" cy="79.7" r="2.9" fill="#383838"/>
<circle cx="379.7" cy="175.0" r="2.7" fill="#383838"/>
<circle cx="82.0" cy="331.6" r="4.5" fill="#383838"/>
<circle cx="569.7" cy="346.1" r="4.0" fill="#383838"/>
<circle cx="187.9" cy="431.2" r="3.4" fill="#383838"/>
<circle cx="511.9" cy="372.0" r="3.4" fill="#383838"/>
<circle cx="290.0" cy="147.0" r="2.7" fill="#383838"/>
<circle cx="478.6" cy="232.6" r="3.8" fill="#383838"/>
<circle cx="11.1" cy="214.1" r="4.6" fill="#383838"/>
<circle cx="222.8" cy="337.9" r="3.5" fill="#383838"/>
<circle cx="266.0" cy="599.4" r="2.9" fill="#383838"/>
<circle cx="721.2" cy="96.2" r="2.2" fill="#383838"/>
<circle cx="813.8" cy="267.1" r="2.2" fill="#383838"/>
<circle cx="362.3" cy="267.0" r="4.2" fill="#383838"/>
<circle cx="102.0" cy="136.7" r="4.9" fill="#383838"/>
<circle cx="689.9" cy="93.8" r="3.0" fill="#383838"/>
<circle cx="329.2" cy="409.9" r="3.8" fill="#383838"/>
<circle cx="793.9" cy="498.5" r="3.6" fill="#383838"/>
<circle cx="690.0" cy="451.2" r="4.3" fill="#383838"/>
<circle cx="443.9" cy="476.5" r="4.1" fill="#383838"/>
<circle cx="854.3" cy="77.3" r="4.6" fill="#383838"/>
<circle cx="4.0" cy="464.8" r="3.8" fill="#383838"/>
<circle cx="465.0" cy="584.4" r="3.7" fill="#383838"/>
<circle cx="390.3" cy="475.7" r="4.6" fill="#383838"/>
<circle cx="567.2" cy="230.4" r="3.4" fill="#383838"/>
<circle cx="427.7" cy="438.9" r="2.9" fill="#383838"/>
<circle cx="364.9" cy="337.1" r="3.2" fill="#383838"/>
<circle cx="300.7" cy="477.8" r="4.5" fill="#383838"/>
<circle cx="466.6" cy="269.5" r="2.6" fill="#383838"/>
<circle cx="284.0" cy="88.0" r="3.7" fill="#383838"/>
<circle cx="543.2" cy="53.4" r="4.8" fill="#383838"/>
<circle cx="302.5" cy="511.9" r="4.5" fill="#383838"/>
<circle cx="895.5" cy="124.0" r="3.3" fill="#383838"/>
<circle cx="850.5" cy="6.5" r="2.1" fill="#383838"/>
<circle cx="527.6" cy="301.9" r="4.8" fill="#383838"/>
<circle cx="722.4" cy="326.9" r="5.0" fill="#383838"/>
<circle cx="483.3" cy="314.0" r="4.1" fill="#383838"/>
<circle cx="363.8" cy="217.1" r="3.8" fill="#383838"/>
<circle cx="327.9" cy="575.4" r="4.0" fill="#383838"/>
<circle cx="490.6" cy="60.1" r="3.1" fill="#383838"/>
<circle cx="374.4" cy="340.7" r="3.7" fill="#383838"/>
<circle cx="821.8" cy="585.4" r="3.5" fill="#383838"/>
<circle cx="411.1" cy="379.1" r="5.0" fill="#383838"/>
<circle cx="320.6" cy="321.8" r="4.4" fill="#383838"/>
<circle cx="159.5" cy="193.1" r="4.9" fill="#383838"/>
<circle cx="771.5" cy="311.1" r="2.3" fill="#383838"/>
<circle cx="835.5" cy="418.8" r="4.5" fill="#383838"/>
<circle cx="924.9" cy="539.1" r="3.3" fill="#383838"/>
<circle cx="146.1" cy="176.0" r="3.5" fill="#383838"/>
<circle cx="471.6" cy="114.2" r="2.5" fill="#383838"/>
<circle cx="588.5" cy="366.1" r="3.1" fill="#383838"/>
<circle cx="928.2" cy="386.4" r="2.1" fill="#383838"/>
<circle cx="384.3" cy="478.1" r="2.9" fill="#383838"/>
<circle cx="645.1" cy="2.4" r="2.9" fill="#383838"/>
<circle cx="786.6" cy="355.8" r="4.0" fill="#383838"/>
<circle cx="183.7" cy="302.2" r="3.7" fill="#383838"/>
<circle cx="248.5" cy="392.6" r="3.6" fill="#383838"/>
<circle cx="931.3" cy="348.7" r="3.2" fill="#383838"/>
<circle cx="113.5" cy="95.2" r="4.3" fill="#383838"/>
<circle cx="99.6" cy="60.8" r="2.5" fill="#383838"/>
<circle cx="488.0" cy="499.6" r="3.8" fill="#383838"/>
<circle cx="753.4" cy="37.7" r="2.0" fill="#383838"/>
<circle cx="719.7" cy="196.0" r="4.1" fill="#383838"/>
<circle cx="330.5" cy="102.8" r="2.8" fill="#383838"/>
<circle cx="92.9" cy="548.6" r="3.7" fill="#383838"/>
<circle cx="325.9" cy="273.1" r="3.2" fill="#383838"/>
<circle cx="51.1" cy="540.6" r="3.7" fill="#383838"/>
<circle cx="896.3" cy="266.9" r="3.9" fill="#383838"/>
<circle cx="232.9" cy="26.7" r="4.8" fill="#383838"/>
<circle cx="798.3" cy="191.1" r="4.7" fill="#383838"/>
<circle cx="762.0" cy="184.3" r="3.8" fill="#383838"/>
<circle cx="896.7" cy="300.8" r="4.8" fill="#383838"/>
<circle cx="226.9" cy="236.6" r="4.2" fill="#383838"/>
<circle cx="206.8" cy="187.7" r="4.6" fill="#383838"/>
<polyline points="60,0 130,50 175,85 200,140 225,230 240,330 262,365 320,400 380,440 440,500 500,560 530,607" fill="none" stroke="#cdcdcd" stroke-width="12" stroke-linejoin="round" stroke-linecap="round" />
<polyline points="262,365 200,390 140,430 90,460 40,500 0,530" fill="none" stroke="#cdcdcd" stroke-width="12" stroke-linejoin="round" stroke-linecap="round" />
<polyline points="175,85 230,85 290,70 330,55 400,60 469,83 530,85 570,83 590,95 615,115 640,146 670,176 705,201 741,221 771,246 801,276 816,295 841,315 856,340 856,395 851,445 846,496 831,526 796,541 751,561 711,576 670,586 620,596 560,607" fill="none" stroke="#cdcdcd" stroke-width="12" stroke-linejoin="round" stroke-linecap="round" />
<polyline points="330,55 340,0" fill="none" stroke="#cdcdcd" stroke-width="12" stroke-linejoin="round" stroke-linecap="round" />
<polyline points="570,83 580,55 590,20 595,0" fill="none" stroke="#cdcdcd" stroke-width="12" stroke-linejoin="round" stroke-linecap="round" />
<polyline points="590,95 620,106 670,100 711,98 751,100 771,108 781,126 778,166 771,196 756,216 741,221" fill="none" stroke="#cdcdcd" stroke-width="12" stroke-linejoin="round" stroke-linecap="round" />
<polyline points="771,108 821,121 871,126 922,131 934,133" fill="none" stroke="#cdcdcd" stroke-width="12" stroke-linejoin="round" stroke-linecap="round" />
<polyline points="711,98 705,65 700,30 695,0" fill="none" stroke="#cdcdcd" stroke-width="12" stroke-linejoin="round" stroke-linecap="round" />
<polyline points="751,100 781,75 821,50 851,25 861,10 871,0" fill="none" stroke="#cdcdcd" stroke-width="12" stroke-linejoin="round" stroke-linecap="round" />
<polyline points="705,40 731,20 756,0" fill="none" stroke="#cdcdcd" stroke-width="12" stroke-linejoin="round" stroke-linecap="round" />
<polyline points="861,10 891,35 911,60 926,80 934,88" fill="none" stroke="#cdcdcd" stroke-width="12" stroke-linejoin="round" stroke-linecap="round" />
<polyline points="771,196 821,191 861,186 901,181 934,171" fill="none" stroke="#cdcdcd" stroke-width="12" stroke-linejoin="round" stroke-linecap="round" />
<polyline points="901,181 891,226 881,266 871,304 861,315" fill="none" stroke="#cdcdcd" stroke-width="12" stroke-linejoin="round" stroke-linecap="round" />
<polyline points="856,340 886,335 934,330" fill="none" stroke="#cdcdcd" stroke-width="12" stroke-linejoin="round" stroke-linecap="round" />
<polyline points="846,496 871,521 896,541 934,551" fill="none" stroke="#cdcdcd" stroke-width="12" stroke-linejoin="round" stroke-linecap="round" />
<polyline points="831,526 871,541 934,546" fill="none" stroke="#cdcdcd" stroke-width="12" stroke-linejoin="round" stroke-linecap="round" />
<polyline points="871,304 934,300" fill="none" stroke="#cdcdcd" stroke-width="12" stroke-linejoin="round" stroke-linecap="round" />
<polyline points="840,420 934,440" fill="none" stroke="#cdcdcd" stroke-width="12" stroke-linejoin="round" stroke-linecap="round" />
<circle cx="175" cy="85" r="10" fill="#d8d8d8"/>
<circle cx="262" cy="365" r="10" fill="#d8d8d8"/>
<circle cx="330" cy="55" r="10" fill="#d8d8d8"/>
<circle cx="570" cy="83" r="10" fill="#d8d8d8"/>
<circle cx="590" cy="95" r="10" fill="#d8d8d8"/>
<circle cx="741" cy="221" r="10" fill="#d8d8d8"/>
<circle cx="771" cy="108" r="10" fill="#d8d8d8"/>
<circle cx="856" cy="340" r="10" fill="#d8d8d8"/>
<circle cx="846" cy="496" r="10" fill="#d8d8d8"/>
<circle cx="831" cy="526" r="10" fill="#d8d8d8"/>
<circle cx="711" cy="98" r="10" fill="#d8d8d8"/>
<circle cx="751" cy="100" r="10" fill="#d8d8d8"/>
<circle cx="901" cy="181" r="10" fill="#d8d8d8"/>
<path d="M145.2,284.6 Q148.0,295.0 144.6,305.2 Q141.2,315.3 134.9,322.8 Q128.5,330.2 122.4,337.4 Q116.3,344.6 108.1,350.6 Q100.0,356.7 90.0,356.5 Q80.1,356.3 71.6,351.0 Q63.2,345.6 55.9,339.3 Q48.6,332.9 42.1,324.8 Q35.5,316.6 33.4,305.8 Q31.2,295.0 34.9,284.8 Q38.7,274.6 45.2,267.3 Q51.7,259.9 58.2,253.6 Q64.8,247.3 72.6,241.3 Q80.3,235.2 90.3,233.4 Q100.2,231.6 109.3,236.5 Q118.3,241.5 124.7,249.4 Q131.2,257.3 136.8,265.8 Q142.4,274.2 145.2,284.6Z" fill="#868686" />
<circle cx="75.3" cy="288.5" r="4.1" fill="#cfcfcf"/>
<circle cx="67.7" cy="316.3" r="3.1" fill="#cfcfcf"/>
<circle cx="120.4" cy="327.4" r="3.7" fill="#cfcfcf"/>
<circle cx="90.7" cy="317.3" r="3.6" fill="#cfcfcf"/>
<circle cx="90.7" cy="304.5" r="4.3" fill="#cfcfcf"/>
<circle cx="80.0" cy="311.9" r="4.4" fill="#cfcfcf"/>
<circle cx="110.3" cy="309.6" r="4.7" fill="#cfcfcf"/>
<circle cx="111.6" cy="319.4" r="4.7" fill="#cfcfcf"/>
<circle cx="96.3" cy="275.8" r="3.7" fill="#cfcfcf"/>
<circle cx="85.1" cy="264.2" r="4.9" fill="#cfcfcf"/>
<path d="M441.0,205.1 Q442.7,215.0 439.9,224.5 Q437.1,234.0 432.3,242.3 Q427.5,250.7 420.5,257.4 Q413.4,264.2 403.9,266.4 Q394.4,268.6 385.4,266.4 Q376.3,264.1 368.0,261.5 Q359.7,258.9 350.6,255.1 Q341.6,251.4 335.3,243.4 Q329.0,235.4 328.5,225.2 Q328.0,215.0 330.9,205.7 Q333.8,196.4 338.3,187.9 Q342.7,179.5 349.9,173.0 Q357.0,166.5 366.3,164.0 Q375.6,161.4 384.8,162.6 Q394.0,163.7 402.5,166.9 Q410.9,170.1 418.9,175.0 Q426.9,179.9 433.1,187.5 Q439.3,195.2 441.0,205.1Z" fill="#8c8c8c" />
<circle cx="413.9" cy="193.9" r="4.8" fill="#f0f0f0"/>
<circle cx="385.9" cy="251.4" r="4.2" fill="#f0f0f0"/>
<circle cx="396.4" cy="203.2" r="5.3" fill="#f0f0f0"/>
<circle cx="361.6" cy="208.6" r="6.2" fill="#f0f0f0"/>
<circle cx="356.6" cy="240.1" r="5.5" fill="#f0f0f0"/>
<circle cx="374.1" cy="242.1" r="3.8" fill="#f0f0f0"/>
<circle cx="404.1" cy="253.7" r="4.6" fill="#f0f0f0"/>
<circle cx="377.0" cy="201.8" r="5.5" fill="#f0f0f0"/>
<circle cx="363.7" cy="240.3" r="4.5" fill="#f0f0f0"/>
<circle cx="408.9" cy="225.5" r="4.3" fill="#f0f0f0"/>
<circle cx="412.8" cy="243.2" r="4.5" fill="#f0f0f0"/>
<circle cx="348.4" cy="240.4" r="6.2" fill="#f0f0f0"/>
<circle cx="417.1" cy="185.8" r="4.0" fill="#f0f0f0"/>
<circle cx="383.7" cy="222.9" r="5.9" fill="#f0f0f0"/>
<circle cx="370.7" cy="191.3" r="4.9" fill="#f0f0f0"/>
<circle cx="363.9" cy="182.1" r="4.4" fill="#f0f0f0"/>
<path d="M667.4,251.1 Q668.8,265.0 663.6,277.3 Q658.5,289.6 652.0,299.3 Q645.4,309.0 638.7,318.9 Q631.9,328.8 621.9,335.5 Q611.8,342.1 600.1,341.8 Q588.3,341.4 577.3,336.9 Q566.2,332.5 557.2,323.8 Q548.1,315.2 545.2,302.2 Q542.3,289.2 543.2,277.1 Q544.1,265.0 542.6,252.6 Q541.1,240.2 542.2,225.2 Q543.4,210.2 553.5,201.1 Q563.5,192.1 576.3,192.8 Q589.1,193.5 599.6,196.3 Q610.1,199.2 620.3,201.6 Q630.5,204.0 640.7,209.9 Q650.9,215.7 658.5,226.5 Q666.0,237.3 667.4,251.1Z" fill="#8c8c8c" />
<circle cx="610.7" cy="268.2" r="4.1" fill="#f0f0f0"/>
<circle cx="609.7" cy="298.2" r="4.8" fill="#f0f0f0"/>
<circle cx="629.9" cy="273.7" r="5.7" fill="#f0f0f0"/>
<circle cx="621.6" cy="317.8" r="5.5" fill="#f0f0f0"/>
<circle cx="594.2" cy="233.5" r="5.0" fill="#f0f0f0"/>
<circle cx="586.9" cy="230.5" r="3.5" fill="#f0f0f0"/>
<circle cx="624.6" cy="216.5" r="4.5" fill="#f0f0f0"/>
<circle cx="649.2" cy="280.7" r="5.6" fill="#f0f0f0"/>
<circle cx="626.1" cy="274.2" r="3.9" fill="#f0f0f0"/>
<circle cx="606.5" cy="236.8" r="6.7" fill="#f0f0f0"/>
<circle cx="599.9" cy="246.3" r="5.9" fill="#f0f0f0"/>
<circle cx="562.5" cy="299.2" r="6.4" fill="#f0f0f0"/>
<circle cx="596.8" cy="283.8" r="6.8" fill="#f0f0f0"/>
<circle cx="552.7" cy="293.3" r="5.9" fill="#f0f0f0"/>
<circle cx="596.4" cy="207.1" r="5.7" fill="#f0f0f0"/>
<circle cx="587.7" cy="269.3" r="5.9" fill="#f0f0f0"/>
<circle cx="564.4" cy="284.8" r="6.7" fill="#f0f0f0"/>
<circle cx="633.5" cy="305.0" r="3.7" fill="#f0f0f0"/>
<circle cx="585.5" cy="210.3" r="4.4" fill="#f0f0f0"/>
<circle cx="547.9" cy="247.0" r="5.7" fill="#f0f0f0"/>
<circle cx="573.4" cy="256.3" r="3.7" fill="#f0f0f0"/>
<circle cx="577.8" cy="296.9" r="4.2" fill="#f0f0f0"/>
<circle cx="592.4" cy="286.9" r="6.0" fill="#f0f0f0"/>
<circle cx="587.1" cy="237.7" r="4.3" fill="#f0f0f0"/>
<circle cx="563.3" cy="260.9" r="6.8" fill="#f0f0f0"/>
<circle cx="582.0" cy="293.0" r="6.6" fill="#f0f0f0"/>
<path d="M534.7,384.2 Q534.8,395.0 532.7,405.2 Q530.5,415.3 525.3,424.5 Q520.0,433.7 511.5,440.8 Q503.0,447.8 492.4,452.3 Q481.8,456.8 470.1,456.1 Q458.5,455.5 449.4,449.0 Q440.3,442.5 433.6,435.4 Q426.9,428.4 418.6,421.7 Q410.3,415.1 404.2,405.0 Q398.2,395.0 400.1,383.6 Q402.1,372.2 409.7,363.2 Q417.3,354.2 427.4,348.6 Q437.5,343.0 448.6,341.9 Q459.6,340.7 469.8,341.9 Q479.9,343.0 490.7,343.9 Q501.4,344.8 512.3,349.3 Q523.2,353.8 528.9,363.5 Q534.6,373.3 534.7,384.2Z" fill="#8c8c8c" />
<circle cx="439.5" cy="374.9" r="6.2" fill="#f0f0f0"/>
<circle cx="479.1" cy="379.9" r="4.5" fill="#f0f0f0"/>
<circle cx="453.9" cy="412.8" r="3.7" fill="#f0f0f0"/>
<circle cx="465.3" cy="417.2" r="6.0" fill="#f0f0f0"/>
<circle cx="452.4" cy="400.5" r="4.6" fill="#f0f0f0"/>
<circle cx="437.4" cy="401.0" r="4.1" fill="#f0f0f0"/>
<circle cx="475.2" cy="397.3" r="7.0" fill="#f0f0f0"/>
<circle cx="470.0" cy="380.2" r="6.0" fill="#f0f0f0"/>
<circle cx="511.2" cy="390.2" r="3.9" fill="#f0f0f0"/>
<circle cx="433.7" cy="397.4" r="4.2" fill="#f0f0f0"/>
<circle cx="465.1" cy="393.8" r="6.7" fill="#f0f0f0"/>
<circle cx="443.1" cy="363.2" r="6.8" fill="#f0f0f0"/>
<circle cx="454.1" cy="374.1" r="4.4" fill="#f0f0f0"/>
<circle cx="475.9" cy="401.5" r="6.2" fill="#f0f0f0"/>
<circle cx="486.0" cy="371.5" r="4.2" fill="#f0f0f0"/>
<circle cx="437.1" cy="359.2" r="6.7" fill="#f0f0f0"/>
<circle cx="494.0" cy="434.4" r="6.4" fill="#f0f0f0"/>
<circle cx="468.5" cy="365.9" r="4.1" fill="#f0f0f0"/>
<circle cx="484.2" cy="369.3" r="4.8" fill="#f0f0f0"/>
<circle cx="438.1" cy="385.2" r="6.4" fill="#f0f0f0"/>
<circle cx="470.7" cy="405.3" r="5.5" fill="#f0f0f0"/>
<circle cx="435.3" cy="361.7" r="6.0" fill="#f0f0f0"/>
<circle cx="514.5" cy="367.2" r="5.2" fill="#f0f0f0"/>
<circle cx="448.1" cy="395.1" r="4.5" fill="#f0f0f0"/>
<circle cx="456.3" cy="388.0" r="5.9" fill="#f0f0f0"/>
<circle cx="489.0" cy="424.1" r="6.9" fill="#f0f0f0"/>
<path d="M681.6,467.4 Q685.8,480.0 681.9,492.7 Q678.1,505.4 671.4,515.8 Q664.8,526.2 657.3,536.5 Q649.8,546.7 638.4,551.0 Q627.0,555.2 615.9,549.9 Q604.7,544.6 596.0,538.8 Q587.3,533.1 577.0,529.0 Q566.7,524.9 558.5,515.5 Q550.4,506.0 549.4,493.0 Q548.3,480.0 550.6,467.5 Q552.8,454.9 557.3,442.8 Q561.9,430.6 571.2,422.3 Q580.6,413.9 592.2,411.6 Q603.7,409.3 614.7,411.2 Q625.7,413.1 635.0,418.3 Q644.4,423.6 652.6,430.5 Q660.8,437.5 669.1,446.2 Q677.4,454.8 681.6,467.4Z" fill="#8c8c8c" />
<circle cx="623.3" cy="441.1" r="4.5" fill="#f0f0f0"/>
<circle cx="594.1" cy="442.7" r="5.0" fill="#f0f0f0"/>
<circle cx="595.7" cy="514.4" r="5.8" fill="#f0f0f0"/>
<circle cx="639.2" cy="428.3" r="4.1" fill="#f0f0f0"/>
<circle cx="604.6" cy="519.1" r="5.5" fill="#f0f0f0"/>
<circle cx="600.9" cy="502.1" r="3.8" fill="#f0f0f0"/>
<circle cx="598.3" cy="517.2" r="6.9" fill="#f0f0f0"/>
<circle cx="658.2" cy="449.1" r="6.9" fill="#f0f0f0"/>
<circle cx="657.3" cy="468.5" r="6.3" fill="#f0f0f0"/>
<circle cx="657.2" cy="498.5" r="5.6" fill="#f0f0f0"/>
<circle cx="602.8" cy="524.2" r="6.8" fill="#f0f0f0"/>
<circle cx="570.9" cy="486.0" r="4.5" fill="#f0f0f0"/>
<circle cx="586.2" cy="527.9" r="3.6" fill="#f0f0f0"/>
<circle cx="632.1" cy="526.7" r="5.1" fill="#f0f0f0"/>
<circle cx="653.6" cy="505.4" r="4.8" fill="#f0f0f0"/>
<circle cx="583.8" cy="460.8" r="5.4" fill="#f0f0f0"/>
<circle cx="583.1" cy="464.7" r="3.9" fill="#f0f0f0"/>
<circle cx="637.0" cy="532.3" r="5.4" fill="#f0f0f0"/>
<circle cx="654.1" cy="516.8" r="4.4" fill="#f0f0f0"/>
<circle cx="648.3" cy="505.1" r="4.4" fill="#f0f0f0"/>
<circle cx="574.0" cy="483.1" r="4.3" fill="#f0f0f0"/>
<circle cx="598.3" cy="470.9" r="5.3" fill="#f0f0f0"/>
<circle cx="601.7" cy="470.9" r="4.9" fill="#f0f0f0"/>
<circle cx="647.8" cy="498.1" r="6.5" fill="#f0f0f0"/>
<circle cx="570.6" cy="463.8" r="6.1" fill="#f0f0f0"/>
<circle cx="656.3" cy="520.2" r="6.0" fill="#f0f0f0"/>
<circle cx="655.3" cy="513.4" r="4.9" fill="#f0f0f0"/>
<circle cx="640.7" cy="532.8" r="5.5" fill="#f0f0f0"/>
<path d="M538.1,20.9 Q540.5,25.0 539.8,29.4 Q539.1,33.9 534.7,37.4 Q530.4,40.9 524.9,43.5 Q519.4,46.0 513.2,47.9 Q507.0,49.8 500.0,50.0 Q492.9,50.1 486.3,48.5 Q479.7,46.9 474.1,44.2 Q468.5,41.5 465.3,37.6 Q462.0,33.6 462.2,29.3 Q462.4,25.0 463.8,21.0 Q465.1,17.1 467.1,12.9 Q469.1,8.8 474.0,5.4 Q478.8,2.1 485.8,0.8 Q492.8,-0.5 499.9,-0.3 Q507.1,-0.1 513.6,1.6 Q520.1,3.3 524.7,6.4 Q529.3,9.6 532.5,13.2 Q535.7,16.9 538.1,20.9Z" fill="#8c8c8c" />
<circle cx="504.3" cy="36.3" r="6.0" fill="#f0f0f0"/>
<circle cx="471.4" cy="34.0" r="5.7" fill="#f0f0f0"/>
<circle cx="517.7" cy="13.5" r="6.7" fill="#f0f0f0"/>
<circle cx="509.6" cy="18.7" r="6.1" fill="#f0f0f0"/>
<circle cx="483.9" cy="40.6" r="5.9" fill="#f0f0f0"/>
<circle cx="505.4" cy="18.4" r="4.8" fill="#f0f0f0"/>
<circle cx="497.3" cy="4.4" r="6.0" fill="#f0f0f0"/>
<circle cx="525.4" cy="29.5" r="3.8" fill="#f0f0f0"/>
<path d="M820.8,415.7 Q821.9,430.0 820.2,444.0 Q818.5,458.1 812.2,470.0 Q806.0,481.9 797.1,490.9 Q788.2,499.9 777.7,507.1 Q767.2,514.2 754.7,516.1 Q742.2,517.9 730.5,512.1 Q718.7,506.3 709.2,496.3 Q699.7,486.4 692.7,473.5 Q685.8,460.6 684.7,445.3 Q683.6,430.0 688.4,416.3 Q693.1,402.7 699.7,391.5 Q706.3,380.4 714.3,370.7 Q722.2,361.0 732.6,354.1 Q743.0,347.3 755.4,344.5 Q767.8,341.7 780.7,345.2 Q793.6,348.8 802.9,360.2 Q812.2,371.7 816.0,386.5 Q819.8,401.4 820.8,415.7Z" fill="#6e6e6e" />
<circle cx="755.2" cy="358.0" r="3.2" fill="#e0e0e0"/>
<circle cx="753.4" cy="381.5" r="4.6" fill="#e0e0e0"/>
<circle cx="752.5" cy="403.2" r="3.6" fill="#e0e0e0"/>
<circle cx="738.9" cy="360.6" r="3.3" fill="#e0e0e0"/>
<circle cx="758.3" cy="362.4" r="4.4" fill="#e0e0e0"/>
<circle cx="753.9" cy="349.1" r="3.0" fill="#e0e0e0"/>
<circle cx="752" cy="420" r="14" fill="#f4f4f4"/>
<path d="M253.6,557.3 Q254.2,565.0 252.4,572.4 Q250.5,579.7 243.7,584.7 Q236.9,589.8 228.8,591.7 Q220.7,593.6 214.1,596.3 Q207.5,598.9 199.6,600.8 Q191.7,602.8 183.6,600.9 Q175.5,599.0 167.5,595.6 Q159.5,592.2 151.6,586.8 Q143.8,581.4 143.0,573.2 Q142.1,565.0 148.3,558.4 Q154.5,551.8 159.8,546.7 Q165.1,541.6 170.7,536.8 Q176.2,532.1 184.3,531.1 Q192.3,530.2 199.8,531.0 Q207.3,531.8 216.2,531.1 Q225.0,530.3 234.6,532.8 Q244.2,535.3 248.6,542.5 Q253.0,549.6 253.6,557.3Z" fill="#7a7a7a" />
<text x="612" y="500" font-size="30" font-weight="bold" fill="#fff">PB</text>
<text x="735" y="512" font-size="30" font-weight="bold" fill="#f0f0f0">LD</text>
<path d="M130,80 L160,50 L170,75 L140,95 Z" fill="#eee"/>
<ellipse cx="200" cy="115" rx="12" ry="18" fill="#eee"/>
<ellipse cx="12" cy="365" rx="14" ry="10" fill="#eee"/>
<ellipse cx="722" cy="58" rx="12" ry="14" fill="none" stroke="#ddd" stroke-width="6"/>
<text x="40" y="540" font-size="64" font-weight="bold" fill="#fff">5μm</text>
<line x1="55" y1="582" x2="155" y2="582" stroke="#fff" stroke-width="10"/>
</g></g></g>
<g clip-path="url(#cl_a_t)"><g filter="url(#soft)">
<g transform="translate(283,544) scale(0.21734,0.21746)">
<filter id="nz3" x="0" y="0" width="934" height="607" filterUnits="userSpaceOnUse" primitiveUnits="userSpaceOnUse" color-interpolation-filters="sRGB"><feTurbulence type="fractalNoise" baseFrequency="0.07" numOctaves="3" seed="13"/><feColorMatrix type="matrix" values="0.3 0 0 0 0.125  0.3 0 0 0 0.125  0.3 0 0 0 0.125  0 0 0 0 1"/></filter>
<rect x="0" y="0" width="934" height="607" filter="url(#nz3)" opacity="1.0"/>
<polyline points="600,607 650,480 700,400 780,370 870,360 934,355" fill="none" stroke="#606060" stroke-width="22" stroke-linejoin="round" stroke-linecap="round" filter="url(#blur1)" opacity="0.7"/>
<polyline points="690,260 720,200 780,150 860,110 934,95" fill="none" stroke="#606060" stroke-width="22" stroke-linejoin="round" stroke-linecap="round" filter="url(#blur1)" opacity="0.7"/>
<path d="M319.2,141.6 Q317.2,150.0 309.2,155.4 Q301.2,160.8 297.8,165.5 Q294.5,170.2 294.1,180.5 Q293.8,190.8 285.6,199.3 Q277.4,207.7 265.5,205.3 Q253.6,203.0 244.8,197.0 Q236.1,191.0 227.9,186.0 Q219.8,181.0 216.8,173.1 Q213.9,165.2 218.8,157.6 Q223.7,150.0 225.7,144.4 Q227.7,138.9 225.8,130.3 Q223.9,121.8 228.5,113.3 Q233.1,104.7 243.6,102.3 Q254.2,99.8 264.6,101.5 Q275.1,103.2 284.3,106.4 Q293.6,109.5 301.9,114.3 Q310.1,119.0 315.6,126.1 Q321.2,133.3 319.2,141.6Z" fill="#2c2c2c" />
<path d="M444.5,173.1 Q447.5,180.0 447.7,188.3 Q448.0,196.6 443.8,203.2 Q439.7,209.9 433.7,213.4 Q427.8,216.9 421.9,219.1 Q416.1,221.3 410.1,220.6 Q404.1,219.9 399.5,215.6 Q394.9,211.3 391.1,207.1 Q387.3,202.9 382.5,198.5 Q377.6,194.1 374.7,187.1 Q371.8,180.0 372.8,172.1 Q373.8,164.2 377.1,157.2 Q380.4,150.2 385.6,145.2 Q390.8,140.2 397.4,139.5 Q403.9,138.8 409.7,141.1 Q415.4,143.4 420.3,145.9 Q425.2,148.5 429.7,152.1 Q434.2,155.7 437.8,161.0 Q441.5,166.2 444.5,173.1Z" fill="#2c2c2c" />
<path d="M360.2,263.4 Q358.8,270.0 355.3,275.0 Q351.7,280.1 349.5,285.1 Q347.3,290.1 344.4,296.3 Q341.5,302.6 334.8,306.5 Q328.1,310.3 320.4,308.6 Q312.6,306.8 307.3,302.0 Q302.0,297.2 297.8,293.3 Q293.6,289.4 288.6,285.5 Q283.5,281.6 280.0,275.8 Q276.5,270.0 277.6,263.4 Q278.7,256.8 283.6,251.8 Q288.5,246.8 294.7,244.0 Q300.9,241.1 307.3,239.8 Q313.6,238.5 320.1,238.1 Q326.5,237.8 333.4,238.5 Q340.3,239.2 347.2,242.1 Q354.1,245.0 357.9,250.9 Q361.6,256.7 360.2,263.4Z" fill="#2c2c2c" />
<path d="M467.4,254.9 Q470.2,260.0 468.2,265.3 Q466.1,270.7 459.7,273.8 Q453.3,277.0 447.8,279.2 Q442.3,281.4 436.9,283.9 Q431.5,286.5 424.7,287.7 Q417.9,289.0 410.0,288.6 Q402.2,288.2 394.3,285.6 Q386.4,283.1 382.5,277.6 Q378.6,272.1 380.4,266.0 Q382.3,260.0 385.8,255.4 Q389.4,250.7 393.4,247.1 Q397.5,243.5 402.6,241.1 Q407.7,238.6 413.0,235.9 Q418.4,233.2 425.7,230.2 Q433.1,227.3 441.4,228.4 Q449.7,229.5 454.3,234.6 Q458.9,239.7 461.7,244.7 Q464.5,249.7 467.4,254.9Z" fill="#2c2c2c" />
<path d="M228.0,230.9 Q228.7,235.0 227.6,238.9 Q226.5,242.8 223.4,245.3 Q220.3,247.8 217.1,249.1 Q213.8,250.3 210.9,251.1 Q208.0,252.0 205.1,251.4 Q202.2,250.8 199.6,249.8 Q197.0,248.8 193.0,248.6 Q189.0,248.4 184.7,246.2 Q180.5,243.9 180.5,239.5 Q180.5,235.0 183.1,231.5 Q185.8,228.0 187.6,225.0 Q189.4,221.9 192.2,219.7 Q194.9,217.5 198.6,218.5 Q202.3,219.4 204.8,220.5 Q207.4,221.5 210.7,220.5 Q214.0,219.4 218.2,219.9 Q222.4,220.4 224.9,223.6 Q227.4,226.9 228.0,230.9Z" fill="#2c2c2c" />
<path d="M65.3,168.2 Q62.4,175.0 63.1,180.8 Q63.9,186.6 65.8,196.3 Q67.7,206.0 63.2,212.2 Q58.8,218.4 52.0,216.5 Q45.2,214.6 40.3,212.6 Q35.3,210.6 30.4,209.6 Q25.4,208.6 21.5,204.3 Q17.6,200.0 15.4,194.0 Q13.1,188.1 11.8,181.5 Q10.5,175.0 11.6,168.4 Q12.6,161.7 15.0,155.7 Q17.4,149.7 20.4,143.3 Q23.5,136.9 28.9,134.0 Q34.2,131.2 39.6,134.2 Q45.0,137.3 49.6,139.7 Q54.2,142.2 59.6,144.6 Q65.1,146.9 66.6,154.1 Q68.1,161.4 65.3,168.2Z" fill="#2c2c2c" />
<path d="M700.4,201.9 Q700.6,208.9 699.6,216.2 Q698.6,223.5 695.4,231.5 Q692.3,239.5 684.6,246.5 Q676.8,253.4 664.8,255.2 Q652.8,257.1 642.0,250.8 Q631.3,244.6 627.4,234.7 Q623.6,224.9 620.8,219.3 Q618.1,213.6 608.5,209.4 Q599.0,205.2 591.7,196.8 Q584.3,188.4 588.6,180.4 Q592.9,172.4 601.8,167.8 Q610.7,163.2 618.8,158.6 Q626.9,153.9 637.2,151.6 Q647.5,149.2 657.9,153.0 Q668.2,156.7 675.4,162.9 Q682.7,169.2 688.2,175.3 Q693.8,181.4 697.0,188.1 Q700.1,194.9 700.4,201.9Z" fill="#2c2c2c" />
<path d="M664.2,328.8 Q664.5,335.0 659.7,339.5 Q654.9,344.1 650.4,346.2 Q645.9,348.3 643.9,352.0 Q642.0,355.7 638.8,361.4 Q635.6,367.0 629.5,370.0 Q623.3,373.0 617.4,370.0 Q611.5,367.0 609.8,360.2 Q608.0,353.4 608.5,348.0 Q609.0,342.6 606.7,338.8 Q604.4,335.0 601.4,329.3 Q598.5,323.5 600.8,318.0 Q603.2,312.5 609.2,311.0 Q615.3,309.5 620.4,309.4 Q625.5,309.2 630.1,308.6 Q634.8,308.0 639.8,308.7 Q644.8,309.4 649.9,311.7 Q654.9,314.1 659.4,318.4 Q663.9,322.7 664.2,328.8Z" fill="#2c2c2c" />
<path d="M531.7,393.5 Q537.2,400.0 532.0,406.6 Q526.8,413.2 517.6,415.9 Q508.5,418.6 503.3,421.5 Q498.2,424.5 492.9,429.2 Q487.7,434.0 479.6,435.7 Q471.5,437.5 463.4,435.4 Q455.3,433.3 448.7,429.0 Q442.2,424.7 440.1,418.3 Q437.9,411.9 440.3,406.0 Q442.7,400.0 443.5,394.9 Q444.3,389.9 443.9,383.0 Q443.5,376.2 448.2,369.8 Q452.9,363.5 462.0,362.3 Q471.2,361.0 479.3,364.3 Q487.3,367.6 492.6,371.8 Q497.8,376.0 503.3,378.6 Q508.8,381.2 517.5,384.0 Q526.2,386.9 531.7,393.5Z" fill="#2c2c2c" />
<path d="M399.8,444.3 Q406.1,450.1 403.7,457.9 Q401.3,465.6 392.3,470.2 Q383.3,474.7 378.7,479.1 Q374.1,483.4 370.3,491.7 Q366.5,499.9 357.2,504.2 Q347.9,508.6 338.9,505.1 Q329.9,501.6 323.7,496.4 Q317.5,491.2 312.2,486.2 Q306.9,481.2 304.5,474.8 Q302.1,468.4 303.0,461.7 Q303.9,455.0 306.8,448.5 Q309.6,442.1 314.9,436.6 Q320.2,431.1 327.3,426.7 Q334.5,422.4 343.2,419.5 Q351.8,416.6 360.7,418.1 Q369.5,419.7 375.4,424.8 Q381.4,429.8 387.4,434.2 Q393.5,438.6 399.8,444.3Z" fill="#2c2c2c" />
<path d="M158.5,433.0 Q158.1,440.0 158.0,446.8 Q157.8,453.6 156.2,461.0 Q154.6,468.4 148.4,471.3 Q142.3,474.2 136.3,474.1 Q130.2,473.9 124.5,477.4 Q118.7,480.8 111.5,480.9 Q104.2,481.1 101.5,473.1 Q98.8,465.1 98.8,458.0 Q98.8,450.9 95.0,445.4 Q91.1,440.0 89.4,432.2 Q87.7,424.5 92.4,418.9 Q97.1,413.2 102.6,409.9 Q108.1,406.5 113.4,403.2 Q118.8,399.8 124.9,400.3 Q131.1,400.7 136.3,404.0 Q141.6,407.2 146.8,410.6 Q152.1,414.0 155.5,420.0 Q158.8,425.9 158.5,433.0Z" fill="#2c2c2c" />
<path d="M608.9,452.5 Q608.2,460.0 606.6,466.4 Q605.0,472.7 603.8,479.7 Q602.7,486.6 599.8,493.9 Q597.0,501.3 591.5,504.0 Q585.9,506.7 580.5,502.4 Q575.2,498.1 571.8,493.1 Q568.4,488.1 563.4,486.7 Q558.4,485.3 552.2,481.3 Q545.9,477.4 545.2,468.7 Q544.4,460.0 549.1,453.3 Q553.9,446.7 557.4,442.1 Q560.9,437.6 563.2,431.1 Q565.4,424.7 570.0,420.5 Q574.5,416.2 579.9,417.3 Q585.2,418.4 590.1,421.1 Q594.9,423.8 599.6,427.6 Q604.4,431.4 607.0,438.2 Q609.6,444.9 608.9,452.5Z" fill="#2c2c2c" />
<path d="M865.0,312.4 Q870.3,315.3 870.2,320.8 Q870.2,326.2 865.6,331.1 Q860.9,336.0 855.9,339.3 Q850.8,342.5 846.3,345.1 Q841.8,347.6 837.1,349.6 Q832.3,351.6 827.0,353.0 Q821.6,354.5 815.5,354.9 Q809.4,355.3 803.7,353.7 Q798.0,352.0 794.7,348.1 Q791.3,344.1 791.9,338.8 Q792.5,333.6 796.4,328.9 Q800.4,324.3 804.9,320.9 Q809.3,317.6 813.3,314.3 Q817.3,311.0 822.3,308.4 Q827.4,305.8 832.9,305.6 Q838.4,305.5 843.3,306.6 Q848.1,307.7 854.0,308.6 Q859.8,309.4 865.0,312.4Z" fill="#2c2c2c" />
<path d="M909.7,391.6 Q907.0,394.8 908.2,398.6 Q909.4,402.4 909.7,407.7 Q909.9,413.1 904.3,416.1 Q898.7,419.0 890.6,417.2 Q882.6,415.3 876.5,412.5 Q870.5,409.6 863.7,408.6 Q856.9,407.6 848.1,405.3 Q839.4,402.9 835.7,397.7 Q832.0,392.4 836.4,387.7 Q840.9,383.1 847.3,381.0 Q853.6,378.9 857.1,377.0 Q860.7,375.1 863.6,372.0 Q866.5,369.0 871.9,365.9 Q877.3,362.9 885.6,362.0 Q894.0,361.0 902.4,363.7 Q910.9,366.5 914.2,372.3 Q917.6,378.0 915.0,383.2 Q912.3,388.4 909.7,391.6Z" fill="#2c2c2c" />
<path d="M793.1,451.2 Q795.4,455.0 794.4,459.3 Q793.4,463.5 790.9,466.9 Q788.3,470.4 786.1,474.7 Q783.9,479.0 779.5,481.6 Q775.1,484.1 770.5,481.1 Q765.9,478.2 763.2,474.9 Q760.4,471.6 755.9,471.1 Q751.5,470.5 746.7,467.9 Q741.9,465.2 742.2,460.1 Q742.5,455.0 746.0,451.3 Q749.4,447.5 751.7,444.6 Q754.0,441.6 756.0,437.8 Q757.9,434.1 761.5,430.6 Q765.1,427.2 770.1,426.5 Q775.2,425.7 779.1,429.1 Q783.0,432.5 784.6,436.9 Q786.3,441.3 788.5,444.4 Q790.7,447.5 793.1,451.2Z" fill="#2c2c2c" />
<path d="M319.3,385.9 Q322.8,390.0 321.5,394.6 Q320.2,399.1 315.8,402.8 Q311.5,406.5 306.1,409.5 Q300.8,412.5 294.2,414.9 Q287.7,417.3 280.0,417.2 Q272.4,417.1 266.7,413.8 Q261.0,410.6 257.7,407.0 Q254.3,403.5 250.4,400.5 Q246.5,397.6 244.1,393.8 Q241.8,390.0 243.3,386.0 Q244.8,382.0 246.8,377.8 Q248.7,373.6 252.0,368.4 Q255.2,363.1 263.2,360.8 Q271.1,358.5 279.1,361.9 Q287.0,365.2 291.0,369.5 Q294.9,373.8 299.3,375.7 Q303.6,377.6 309.7,379.7 Q315.8,381.9 319.3,385.9Z" fill="#2c2c2c" />
<path d="M341.2,534.7 Q343.5,540.0 342.0,545.5 Q340.5,551.0 335.4,555.1 Q330.3,559.1 324.4,561.5 Q318.4,563.9 312.7,566.7 Q306.9,569.5 299.5,571.4 Q292.2,573.3 285.5,570.4 Q278.8,567.5 276.7,561.7 Q274.7,556.0 272.7,552.0 Q270.8,548.0 265.2,544.0 Q259.7,540.0 257.1,533.8 Q254.6,527.6 259.4,522.6 Q264.3,517.5 271.9,515.5 Q279.6,513.5 286.5,512.9 Q293.5,512.3 299.9,512.8 Q306.3,513.2 312.2,514.9 Q318.1,516.5 323.6,519.1 Q329.2,521.6 334.0,525.5 Q338.8,529.4 341.2,534.7Z" fill="#2c2c2c" />
<path d="M580.7,76.1 Q579.8,80.0 578.6,83.2 Q577.4,86.3 575.7,89.0 Q574.0,91.7 570.9,92.7 Q567.9,93.6 565.2,94.1 Q562.6,94.5 559.5,97.3 Q556.5,100.0 551.7,101.3 Q547.0,102.6 544.0,99.2 Q541.1,95.9 540.7,91.5 Q540.4,87.1 539.8,83.6 Q539.3,80.0 540.1,76.5 Q541.0,73.1 544.3,71.4 Q547.7,69.6 550.3,68.7 Q552.9,67.7 554.9,65.2 Q557.0,62.8 560.3,60.8 Q563.7,58.9 567.7,59.3 Q571.8,59.6 575.2,62.0 Q578.7,64.3 580.1,68.2 Q581.6,72.1 580.7,76.1Z" fill="#2c2c2c" />
<path d="M688.7,125.4 Q691.9,130.0 689.8,135.0 Q687.6,140.0 682.0,141.9 Q676.4,143.8 672.8,144.9 Q669.3,146.1 666.6,148.9 Q663.8,151.7 659.8,152.9 Q655.8,154.1 651.8,152.6 Q647.8,151.2 643.9,149.0 Q640.1,146.7 636.4,143.3 Q632.8,139.9 631.4,135.0 Q630.1,130.0 632.1,125.3 Q634.2,120.6 638.4,118.0 Q642.6,115.4 646.4,114.3 Q650.3,113.2 653.3,111.2 Q656.3,109.2 660.4,107.1 Q664.4,105.1 668.6,106.4 Q672.8,107.8 675.6,111.2 Q678.4,114.5 682.0,117.6 Q685.5,120.7 688.7,125.4Z" fill="#2c2c2c" />
<path d="M930.0,41.8 Q925.1,50.0 921.0,54.9 Q916.9,59.8 916.5,65.9 Q916.2,72.0 913.5,79.0 Q910.8,86.0 904.1,89.1 Q897.4,92.1 890.1,91.4 Q882.8,90.6 876.0,88.4 Q869.1,86.2 862.7,82.2 Q856.4,78.2 852.6,71.6 Q848.9,65.0 849.6,57.5 Q850.3,50.0 853.6,44.0 Q857.0,38.0 860.0,32.7 Q863.0,27.4 866.9,22.0 Q870.8,16.7 877.0,14.3 Q883.3,11.8 889.9,12.2 Q896.6,12.6 904.1,12.6 Q911.6,12.5 920.3,14.9 Q928.9,17.3 931.9,25.5 Q934.8,33.7 930.0,41.8Z" fill="#2c2c2c" />
<path d="M499.5,487.4 Q497.5,490.0 499.2,492.5 Q500.9,495.1 503.0,499.6 Q505.1,504.1 502.3,508.3 Q499.5,512.5 492.9,513.0 Q486.2,513.5 480.5,511.4 Q474.9,509.4 470.4,507.8 Q465.9,506.2 461.5,504.5 Q457.1,502.8 454.5,499.8 Q451.9,496.8 451.4,493.4 Q451.0,490.0 452.1,486.7 Q453.2,483.5 456.4,481.1 Q459.6,478.6 463.6,477.1 Q467.5,475.5 471.2,473.1 Q474.9,470.6 480.8,467.7 Q486.6,464.9 493.6,465.5 Q500.6,466.2 503.3,470.8 Q506.0,475.5 503.7,480.1 Q501.5,484.8 499.5,487.4Z" fill="#2c2c2c" />
<path d="M742.3,507.2 Q745.2,510.0 745.8,513.8 Q746.4,517.7 742.6,520.1 Q738.7,522.6 734.7,523.6 Q730.6,524.7 727.3,526.4 Q724.0,528.2 719.8,529.2 Q715.5,530.3 711.3,529.1 Q707.0,528.0 703.1,526.0 Q699.2,524.0 695.8,521.0 Q692.4,518.0 692.3,514.0 Q692.2,510.0 695.8,507.0 Q699.3,504.0 702.8,502.4 Q706.2,500.8 708.2,498.5 Q710.1,496.2 712.7,492.7 Q715.4,489.1 720.5,487.0 Q725.5,484.9 730.3,487.0 Q735.0,489.2 736.3,493.7 Q737.7,498.1 738.5,501.2 Q739.4,504.4 742.3,507.2Z" fill="#2c2c2c" />
<path d="M879.5,281.7 Q880.9,285.0 880.3,288.6 Q879.8,292.2 877.3,294.8 Q874.8,297.4 872.2,299.5 Q869.6,301.6 866.6,303.4 Q863.5,305.1 860.0,305.0 Q856.5,304.9 853.3,303.5 Q850.2,302.0 847.2,300.1 Q844.2,298.2 842.5,295.1 Q840.8,292.0 841.0,288.5 Q841.2,285.0 841.7,281.7 Q842.1,278.5 842.9,274.9 Q843.8,271.4 846.6,269.0 Q849.4,266.7 853.0,266.3 Q856.6,265.9 860.0,265.8 Q863.4,265.8 866.8,266.6 Q870.1,267.4 872.5,270.0 Q874.9,272.5 876.5,275.4 Q878.1,278.4 879.5,281.7Z" fill="#2c2c2c" />
<path d="M554.6,327.5 Q555.7,330.0 555.1,332.6 Q554.4,335.2 552.9,337.4 Q551.4,339.5 549.3,341.0 Q547.2,342.5 544.8,342.8 Q542.3,343.2 539.9,343.8 Q537.5,344.4 534.3,344.9 Q531.1,345.3 529.0,343.2 Q526.9,341.0 527.3,337.7 Q527.7,334.5 527.4,332.2 Q527.1,330.0 525.9,327.2 Q524.7,324.4 526.2,322.0 Q527.7,319.6 530.5,319.1 Q533.4,318.6 535.5,317.4 Q537.6,316.2 540.3,314.8 Q542.9,313.3 545.5,314.7 Q548.1,316.0 549.3,318.6 Q550.6,321.1 552.1,323.1 Q553.6,325.1 554.6,327.5Z" fill="#2c2c2c" />
<path d="M35.3,307.6 Q37.3,310.0 37.9,313.4 Q38.5,316.7 36.6,319.5 Q34.7,322.4 31.2,322.9 Q27.7,323.4 24.8,322.0 Q21.9,320.5 20.1,319.9 Q18.4,319.3 15.9,320.3 Q13.5,321.3 10.3,321.1 Q7.1,320.8 5.6,318.3 Q4.1,315.8 4.2,312.9 Q4.2,310.0 4.3,307.1 Q4.3,304.3 5.4,301.5 Q6.5,298.7 9.4,297.6 Q12.2,296.5 15.0,296.8 Q17.7,297.1 20.0,297.3 Q22.2,297.6 24.3,298.2 Q26.5,298.8 28.2,300.3 Q29.9,301.7 31.6,303.4 Q33.4,305.1 35.3,307.6Z" fill="#2c2c2c" />
<path d="M237.1,127.7 Q236.9,130.0 236.2,131.9 Q235.4,133.8 234.1,135.2 Q232.8,136.6 231.7,138.1 Q230.5,139.6 229.0,141.6 Q227.4,143.6 224.9,144.1 Q222.4,144.6 220.7,142.5 Q218.9,140.5 218.2,138.4 Q217.5,136.3 216.3,134.9 Q215.2,133.6 214.2,131.8 Q213.3,130.0 213.2,127.8 Q213.2,125.7 213.9,123.5 Q214.6,121.2 216.4,119.8 Q218.3,118.4 220.7,118.8 Q223.1,119.2 224.9,119.8 Q226.7,120.4 228.8,120.1 Q230.9,119.8 233.2,120.5 Q235.5,121.2 236.5,123.3 Q237.4,125.5 237.1,127.7Z" fill="#2c2c2c" />
<path d="M372.9,108.3 Q373.9,110.0 374.7,112.3 Q375.6,114.5 374.5,116.8 Q373.4,119.0 370.3,119.5 Q367.3,120.1 364.7,119.8 Q362.1,119.4 359.9,119.9 Q357.7,120.4 355.0,120.5 Q352.4,120.6 350.2,119.3 Q348.1,118.0 346.2,116.3 Q344.2,114.6 342.6,112.3 Q340.9,110.0 342.5,107.7 Q344.2,105.4 348.0,105.0 Q351.9,104.6 353.7,104.2 Q355.5,103.8 356.5,101.1 Q357.5,98.5 360.4,96.6 Q363.4,94.7 366.2,96.1 Q369.1,97.4 370.1,100.0 Q371.1,102.6 371.5,104.6 Q371.9,106.5 372.9,108.3Z" fill="#2c2c2c" />
<path d="M722.8,57.1 Q724.4,60.0 721.8,62.6 Q719.2,65.2 716.4,66.9 Q713.7,68.6 711.6,70.5 Q709.5,72.3 706.5,73.6 Q703.5,74.8 700.0,74.7 Q696.5,74.7 693.3,73.8 Q690.1,72.8 687.6,71.1 Q685.1,69.4 683.3,67.2 Q681.4,65.1 679.9,62.5 Q678.3,60.0 679.0,57.2 Q679.6,54.4 682.5,52.6 Q685.5,50.9 688.1,49.4 Q690.7,48.0 693.5,46.0 Q696.3,44.1 700.0,44.3 Q703.6,44.5 706.0,46.8 Q708.3,49.2 710.7,50.5 Q713.0,51.8 717.1,53.0 Q721.2,54.2 722.8,57.1Z" fill="#2c2c2c" />
<path d="M814.7,237.7 Q816.9,240.0 816.9,243.1 Q817.0,246.2 814.7,248.3 Q812.4,250.4 809.7,251.2 Q806.9,251.9 804.6,252.3 Q802.2,252.6 799.9,253.0 Q797.7,253.3 795.2,253.0 Q792.7,252.6 790.3,251.4 Q787.8,250.2 785.6,248.1 Q783.5,246.0 783.0,243.0 Q782.6,240.0 784.8,237.6 Q787.0,235.3 789.4,234.2 Q791.8,233.1 792.6,230.9 Q793.4,228.6 795.1,225.3 Q796.8,222.0 800.0,221.8 Q803.3,221.6 805.2,224.7 Q807.1,227.8 807.8,230.3 Q808.5,232.8 810.5,234.2 Q812.4,235.5 814.7,237.7Z" fill="#2c2c2c" />
<path d="M139.1,557.3 Q139.8,560.0 140.1,563.0 Q140.4,565.9 140.6,569.9 Q140.8,573.9 138.4,578.0 Q135.9,582.1 130.5,582.4 Q125.0,582.7 120.6,580.1 Q116.1,577.6 112.7,576.2 Q109.2,574.9 105.0,573.9 Q100.7,573.0 97.8,570.1 Q94.9,567.3 94.5,563.7 Q94.1,560.0 95.6,556.7 Q97.2,553.4 100.6,551.3 Q104.0,549.2 106.9,547.5 Q109.7,545.8 112.5,542.2 Q115.3,538.6 120.5,536.2 Q125.8,533.7 130.5,536.3 Q135.2,539.0 136.4,543.6 Q137.5,548.2 138.0,551.4 Q138.4,554.6 139.1,557.3Z" fill="#2c2c2c" />
<path d="M660.8,567.0 Q659.2,570.0 657.5,572.1 Q655.7,574.3 654.0,576.0 Q652.3,577.7 650.7,579.7 Q649.0,581.8 646.5,584.4 Q644.0,587.0 639.8,587.7 Q635.7,588.5 632.5,586.1 Q629.4,583.7 628.0,581.1 Q626.6,578.4 624.9,576.5 Q623.2,574.6 622.2,572.3 Q621.2,570.0 621.3,567.5 Q621.5,564.9 622.1,562.0 Q622.7,559.1 625.6,557.1 Q628.5,555.0 632.7,555.9 Q636.9,556.8 639.7,558.0 Q642.6,559.1 646.2,558.2 Q649.9,557.2 654.6,557.5 Q659.3,557.8 660.8,560.9 Q662.3,563.9 660.8,567.0Z" fill="#2c2c2c" />
<path d="M917.3,477.1 Q918.8,480.0 919.6,483.7 Q920.4,487.4 918.0,490.3 Q915.6,493.1 912.7,495.0 Q909.8,496.9 906.8,499.3 Q903.8,501.6 900.0,501.5 Q896.2,501.4 893.4,498.8 Q890.7,496.2 888.2,494.1 Q885.8,491.9 883.4,489.4 Q881.1,486.9 881.2,483.4 Q881.3,480.0 882.1,476.9 Q882.9,473.8 883.2,470.0 Q883.5,466.2 886.1,463.2 Q888.6,460.3 892.6,460.3 Q896.5,460.3 900.0,460.6 Q903.4,460.9 907.0,461.2 Q910.7,461.5 912.9,464.4 Q915.1,467.4 915.4,470.8 Q915.8,474.3 917.3,477.1Z" fill="#2c2c2c" />
<path d="M234.0,472.7 Q235.9,475.0 235.8,477.8 Q235.6,480.6 233.1,482.7 Q230.6,484.8 227.5,486.1 Q224.5,487.4 221.5,488.6 Q218.5,489.8 214.9,490.2 Q211.4,490.5 208.3,489.1 Q205.3,487.7 203.2,485.7 Q201.2,483.7 198.8,481.9 Q196.5,480.0 194.7,477.5 Q193.0,475.0 194.0,472.3 Q195.1,469.6 197.9,467.8 Q200.8,466.1 203.3,464.6 Q205.8,463.1 208.6,461.3 Q211.3,459.5 215.1,459.0 Q218.9,458.6 222.0,460.3 Q225.0,461.9 226.8,464.2 Q228.5,466.5 230.3,468.4 Q232.2,470.3 234.0,472.7Z" fill="#2c2c2c" />
<path d="M396.5,357.6 Q396.5,360.0 396.1,362.3 Q395.7,364.6 393.5,366.1 Q391.2,367.5 388.5,367.8 Q385.7,368.0 383.9,368.5 Q382.0,369.0 379.8,369.8 Q377.6,370.7 375.1,370.5 Q372.5,370.3 369.9,369.5 Q367.2,368.6 364.7,366.9 Q362.2,365.2 362.1,362.6 Q362.0,360.0 364.0,358.0 Q366.0,355.9 367.8,354.5 Q369.5,353.0 371.4,351.8 Q373.3,350.7 375.6,350.8 Q378.0,350.8 380.0,350.8 Q382.0,350.8 384.9,350.0 Q387.8,349.2 391.0,349.8 Q394.2,350.5 395.3,352.9 Q396.4,355.2 396.5,357.6Z" fill="#2c2c2c" />
<circle cx="644.0" cy="23.0" r="4.3" fill="#2e2e2e"/>
<circle cx="216.3" cy="261.3" r="2.9" fill="#2e2e2e"/>
<circle cx="18.6" cy="601.4" r="3.6" fill="#2e2e2e"/>
<circle cx="820.6" cy="73.1" r="4.2" fill="#2e2e2e"/>
<circle cx="126.8" cy="260.1" r="3.1" fill="#2e2e2e"/>
<circle cx="640.2" cy="89.8" r="5.1" fill="#2e2e2e"/>
<circle cx="467.7" cy="68.2" r="3.7" fill="#2e2e2e"/>
<circle cx="463.5" cy="557.6" r="3.7" fill="#2e2e2e"/>
<circle cx="200.9" cy="587.3" r="5.6" fill="#2e2e2e"/>
<circle cx="683.1" cy="165.7" r="3.1" fill="#2e2e2e"/>
<circle cx="247.2" cy="41.8" r="2.7" fill="#2e2e2e"/>
<circle cx="475.2" cy="247.7" r="4.4" fill="#2e2e2e"/>
<circle cx="338.7" cy="6.4" r="4.9" fill="#2e2e2e"/>
<circle cx="610.0" cy="330.2" r="4.4" fill="#2e2e2e"/>
<circle cx="644.7" cy="596.3" r="5.6" fill="#2e2e2e"/>
<circle cx="670.4" cy="242.4" r="3.6" fill="#2e2e2e"/>
<circle cx="391.5" cy="590.6" r="3.9" fill="#2e2e2e"/>
<circle cx="360.0" cy="248.9" r="3.0" fill="#2e2e2e"/>
<circle cx="932.5" cy="3.2" r="4.6" fill="#2e2e2e"/>
<circle cx="865.1" cy="154.6" r="4.6" fill="#2e2e2e"/>
<circle cx="352.1" cy="146.1" r="3.2" fill="#2e2e2e"/>
<circle cx="108.5" cy="511.7" r="5.2" fill="#2e2e2e"/>
<circle cx="848.6" cy="30.1" r="4.9" fill="#2e2e2e"/>
<circle cx="303.0" cy="392.3" r="4.4" fill="#2e2e2e"/>
<circle cx="294.8" cy="589.8" r="2.5" fill="#2e2e2e"/>
<circle cx="697.0" cy="518.1" r="4.3" fill="#2e2e2e"/>
<circle cx="553.2" cy="603.8" r="3.3" fill="#2e2e2e"/>
<circle cx="588.0" cy="451.2" r="3.8" fill="#2e2e2e"/>
<circle cx="665.2" cy="238.9" r="4.3" fill="#2e2e2e"/>
<circle cx="572.4" cy="411.1" r="3.6" fill="#2e2e2e"/>
<circle cx="587.4" cy="329.6" r="3.3" fill="#2e2e2e"/>
<circle cx="572.1" cy="160.8" r="5.7" fill="#2e2e2e"/>
<circle cx="442.0" cy="438.0" r="4.3" fill="#2e2e2e"/>
<circle cx="445.2" cy="134.3" r="3.0" fill="#2e2e2e"/>
<circle cx="866.1" cy="321.0" r="4.3" fill="#2e2e2e"/>
<circle cx="492.7" cy="493.7" r="3.3" fill="#2e2e2e"/>
<circle cx="161.0" cy="498.9" r="4.1" fill="#2e2e2e"/>
<circle cx="598.3" cy="502.3" r="5.6" fill="#2e2e2e"/>
<circle cx="810.5" cy="26.3" r="3.8" fill="#2e2e2e"/>
<circle cx="777.2" cy="496.4" r="2.9" fill="#2e2e2e"/>
<circle cx="143.7" cy="152.6" r="2.9" fill="#2e2e2e"/>
<circle cx="333.1" cy="487.6" r="4.3" fill="#2e2e2e"/>
<circle cx="422.9" cy="53.4" r="3.9" fill="#2e2e2e"/>
<circle cx="931.2" cy="421.9" r="4.1" fill="#2e2e2e"/>
<circle cx="446.8" cy="484.6" r="5.2" fill="#2e2e2e"/>
<circle cx="140.0" cy="412.9" r="3.8" fill="#2e2e2e"/>
<circle cx="486.3" cy="144.2" r="3.8" fill="#2e2e2e"/>
<circle cx="317.6" cy="231.3" r="2.6" fill="#2e2e2e"/>
<circle cx="187.6" cy="346.3" r="2.7" fill="#2e2e2e"/>
<circle cx="166.7" cy="435.9" r="3.5" fill="#2e2e2e"/>
<circle cx="302.6" cy="146.8" r="5.4" fill="#2e2e2e"/>
<circle cx="85.3" cy="386.1" r="5.5" fill="#2e2e2e"/>
<circle cx="188.4" cy="256.8" r="5.3" fill="#2e2e2e"/>
<circle cx="577.1" cy="225.6" r="2.7" fill="#2e2e2e"/>
<circle cx="413.3" cy="222.9" r="5.0" fill="#2e2e2e"/>
<circle cx="275.8" cy="247.6" r="4.8" fill="#2e2e2e"/>
<circle cx="757.3" cy="213.9" r="3.8" fill="#2e2e2e"/>
<circle cx="540.5" cy="561.4" r="3.2" fill="#2e2e2e"/>
<circle cx="907.3" cy="432.1" r="3.8" fill="#2e2e2e"/>
<circle cx="621.7" cy="200.0" r="2.7" fill="#2e2e2e"/>
<circle cx="706.1" cy="230.3" r="4.3" fill="#2e2e2e"/>
<circle cx="463.8" cy="547.1" r="5.1" fill="#2e2e2e"/>
<circle cx="23.9" cy="359.8" r="4.1" fill="#2e2e2e"/>
<circle cx="431.7" cy="509.6" r="4.0" fill="#2e2e2e"/>
<circle cx="442.3" cy="540.4" r="4.0" fill="#2e2e2e"/>
<circle cx="458.8" cy="310.7" r="5.4" fill="#2e2e2e"/>
<circle cx="626.1" cy="449.5" r="3.9" fill="#2e2e2e"/>
<circle cx="37.9" cy="412.7" r="4.4" fill="#2e2e2e"/>
<circle cx="718.5" cy="467.3" r="2.9" fill="#2e2e2e"/>
<circle cx="206.1" cy="46.8" r="5.4" fill="#2e2e2e"/>
<circle cx="95.0" cy="53.6" r="5.1" fill="#2e2e2e"/>
<circle cx="527.2" cy="33.4" r="4.9" fill="#2e2e2e"/>
<circle cx="664.1" cy="293.1" r="2.7" fill="#2e2e2e"/>
<circle cx="645.4" cy="253.7" r="4.5" fill="#2e2e2e"/>
<circle cx="932.2" cy="495.8" r="5.6" fill="#2e2e2e"/>
<circle cx="135.9" cy="202.9" r="4.3" fill="#2e2e2e"/>
<circle cx="5.6" cy="600.1" r="3.5" fill="#2e2e2e"/>
<circle cx="245.0" cy="190.0" r="3.4" fill="#2e2e2e"/>
<circle cx="802.2" cy="337.3" r="4.3" fill="#2e2e2e"/>
<circle cx="392.5" cy="31.0" r="3.6" fill="#2e2e2e"/>
<circle cx="809.6" cy="486.8" r="5.5" fill="#2e2e2e"/>
<circle cx="240.1" cy="122.6" r="2.7" fill="#2e2e2e"/>
<circle cx="501.4" cy="226.9" r="4.1" fill="#2e2e2e"/>
<circle cx="456.7" cy="354.4" r="3.8" fill="#2e2e2e"/>
<circle cx="748.6" cy="121.6" r="5.7" fill="#2e2e2e"/>
<circle cx="519.4" cy="31.1" r="3.6" fill="#2e2e2e"/>
<circle cx="497.9" cy="248.2" r="4.5" fill="#2e2e2e"/>
<circle cx="302.2" cy="166.0" r="5.3" fill="#2e2e2e"/>
<circle cx="272.3" cy="431.3" r="5.3" fill="#2e2e2e"/>
<circle cx="553.0" cy="276.0" r="5.8" fill="#2e2e2e"/>
<circle cx="415.5" cy="533.0" r="2.7" fill="#2e2e2e"/>
<circle cx="405.1" cy="388.0" r="2.7" fill="#2e2e2e"/>
<circle cx="805.7" cy="43.7" r="4.6" fill="#2e2e2e"/>
<circle cx="168.3" cy="559.9" r="4.5" fill="#2e2e2e"/>
<circle cx="747.9" cy="302.4" r="4.9" fill="#2e2e2e"/>
<circle cx="630.4" cy="179.0" r="3.2" fill="#2e2e2e"/>
<circle cx="783.0" cy="88.5" r="5.7" fill="#2e2e2e"/>
<circle cx="193.3" cy="61.2" r="2.8" fill="#2e2e2e"/>
<circle cx="732.5" cy="577.2" r="4.0" fill="#2e2e2e"/>
<circle cx="615.4" cy="156.4" r="5.7" fill="#2e2e2e"/>
<circle cx="640.6" cy="94.0" r="2.7" fill="#2e2e2e"/>
<circle cx="649.8" cy="25.3" r="5.4" fill="#2e2e2e"/>
<circle cx="274.3" cy="141.2" r="4.5" fill="#2e2e2e"/>
<circle cx="297.7" cy="340.3" r="3.0" fill="#2e2e2e"/>
<circle cx="851.7" cy="196.9" r="5.4" fill="#2e2e2e"/>
<circle cx="141.9" cy="485.2" r="5.9" fill="#2e2e2e"/>
<circle cx="365.7" cy="20.0" r="3.8" fill="#2e2e2e"/>
<circle cx="598.5" cy="135.6" r="4.4" fill="#2e2e2e"/>
<circle cx="87.4" cy="281.9" r="5.0" fill="#2e2e2e"/>
<circle cx="401.5" cy="412.1" r="2.9" fill="#2e2e2e"/>
<circle cx="773.8" cy="74.1" r="5.7" fill="#2e2e2e"/>
<circle cx="930.4" cy="570.2" r="4.3" fill="#2e2e2e"/>
<circle cx="271.6" cy="211.2" r="5.1" fill="#2e2e2e"/>
<circle cx="463.8" cy="564.4" r="2.8" fill="#2e2e2e"/>
<circle cx="452.8" cy="524.4" r="4.6" fill="#2e2e2e"/>
<circle cx="505.0" cy="53.7" r="3.0" fill="#2e2e2e"/>
<circle cx="253.3" cy="542.1" r="5.5" fill="#2e2e2e"/>
<circle cx="212.2" cy="561.2" r="2.6" fill="#2e2e2e"/>
<circle cx="559.3" cy="587.2" r="3.7" fill="#2e2e2e"/>
<circle cx="882.1" cy="398.5" r="2.7" fill="#2e2e2e"/>
<circle cx="311.1" cy="272.9" r="3.4" fill="#2e2e2e"/>
<circle cx="693.4" cy="108.6" r="5.3" fill="#2e2e2e"/>
<circle cx="278.5" cy="42.1" r="4.5" fill="#2e2e2e"/>
<circle cx="89.4" cy="334.8" r="5.3" fill="#2e2e2e"/>
<circle cx="556.3" cy="280.1" r="2.6" fill="#2e2e2e"/>
<circle cx="479.5" cy="59.0" r="4.8" fill="#2e2e2e"/>
<circle cx="123.3" cy="350.8" r="3.7" fill="#2e2e2e"/>
<circle cx="350.0" cy="402.5" r="3.1" fill="#2e2e2e"/>
<circle cx="158.5" cy="571.5" r="3.7" fill="#2e2e2e"/>
<circle cx="786.7" cy="530.2" r="4.2" fill="#2e2e2e"/>
<circle cx="139.2" cy="57.1" r="5.6" fill="#2e2e2e"/>
<circle cx="109.3" cy="301.2" r="4.4" fill="#2e2e2e"/>
<circle cx="109.8" cy="284.0" r="3.1" fill="#2e2e2e"/>
<circle cx="500.1" cy="307.6" r="3.8" fill="#2e2e2e"/>
<circle cx="184.7" cy="245.1" r="3.2" fill="#2e2e2e"/>
<circle cx="118.7" cy="145.6" r="5.6" fill="#2e2e2e"/>
<circle cx="468.7" cy="540.6" r="2.6" fill="#2e2e2e"/>
<circle cx="881.1" cy="296.5" r="5.3" fill="#2e2e2e"/>
<circle cx="532.8" cy="418.2" r="3.3" fill="#2e2e2e"/>
<circle cx="700.5" cy="93.3" r="3.4" fill="#2e2e2e"/>
<circle cx="28.9" cy="238.7" r="4.3" fill="#2e2e2e"/>
<circle cx="272.7" cy="540.5" r="2.8" fill="#2e2e2e"/>
<circle cx="540.3" cy="142.0" r="4.6" fill="#2e2e2e"/>
<circle cx="732.3" cy="431.4" r="2.7" fill="#2e2e2e"/>
<circle cx="229.5" cy="363.7" r="5.9" fill="#2e2e2e"/>
<circle cx="38.5" cy="375.3" r="4.9" fill="#2e2e2e"/>
<circle cx="760.9" cy="207.6" r="5.3" fill="#2e2e2e"/>
<circle cx="431.3" cy="559.0" r="2.5" fill="#2e2e2e"/>
<circle cx="878.2" cy="250.1" r="3.9" fill="#2e2e2e"/>
<circle cx="82.2" cy="148.6" r="5.1" fill="#2e2e2e"/>
<circle cx="634.0" cy="91.8" r="3.7" fill="#2e2e2e"/>
<circle cx="131.1" cy="120.3" r="3.3" fill="#2e2e2e"/>
<circle cx="309.2" cy="592.4" r="6.0" fill="#2e2e2e"/>
<circle cx="739.3" cy="291.2" r="4.2" fill="#2e2e2e"/>
<circle cx="727.8" cy="551.2" r="5.1" fill="#2e2e2e"/>
<circle cx="594.4" cy="120.8" r="4.7" fill="#2e2e2e"/>
<circle cx="789.9" cy="477.5" r="2.8" fill="#2e2e2e"/>
<circle cx="670.1" cy="212.0" r="3.1" fill="#2e2e2e"/>
<circle cx="902.0" cy="408.3" r="5.1" fill="#2e2e2e"/>
<circle cx="126.0" cy="502.9" r="5.8" fill="#2e2e2e"/>
<circle cx="845.1" cy="452.2" r="5.4" fill="#2e2e2e"/>
<circle cx="749.2" cy="358.4" r="4.0" fill="#2e2e2e"/>
<circle cx="770.7" cy="476.1" r="5.5" fill="#2e2e2e"/>
<circle cx="279.2" cy="583.3" r="4.4" fill="#2e2e2e"/>
<circle cx="883.5" cy="70.3" r="5.9" fill="#2e2e2e"/>
<circle cx="735.5" cy="153.0" r="5.4" fill="#2e2e2e"/>
<circle cx="216.8" cy="120.2" r="4.1" fill="#2e2e2e"/>
<circle cx="221.0" cy="299.0" r="5.7" fill="#2e2e2e"/>
<circle cx="640.1" cy="431.2" r="3.9" fill="#2e2e2e"/>
<circle cx="732.1" cy="481.7" r="4.9" fill="#2e2e2e"/>
<circle cx="879.6" cy="501.2" r="3.9" fill="#2e2e2e"/>
<circle cx="81.3" cy="396.1" r="5.4" fill="#2e2e2e"/>
<circle cx="317.2" cy="361.1" r="5.4" fill="#2e2e2e"/>
<circle cx="740.6" cy="2.7" r="4.2" fill="#2e2e2e"/>
<circle cx="15.3" cy="67.1" r="5.3" fill="#2e2e2e"/>
<circle cx="391.0" cy="367.1" r="4.1" fill="#2e2e2e"/>
<circle cx="313.3" cy="129.7" r="3.7" fill="#2e2e2e"/>
<circle cx="788.8" cy="375.9" r="3.5" fill="#2e2e2e"/>
<circle cx="82.2" cy="164.5" r="5.0" fill="#2e2e2e"/>
<circle cx="412.9" cy="401.2" r="5.3" fill="#2e2e2e"/>
<circle cx="112.7" cy="414.6" r="2.6" fill="#2e2e2e"/>
<circle cx="768.6" cy="111.8" r="3.5" fill="#2e2e2e"/>
<circle cx="894.5" cy="220.0" r="3.3" fill="#2e2e2e"/>
<circle cx="831.1" cy="370.4" r="5.6" fill="#2e2e2e"/>
<circle cx="368.3" cy="303.3" r="5.8" fill="#2e2e2e"/>
<circle cx="473.3" cy="600.1" r="3.2" fill="#2e2e2e"/>
<circle cx="775.8" cy="98.5" r="4.3" fill="#2e2e2e"/>
<circle cx="0.3" cy="106.4" r="5.8" fill="#2e2e2e"/>
<circle cx="424.6" cy="491.3" r="3.4" fill="#2e2e2e"/>
<circle cx="329.1" cy="61.3" r="4.4" fill="#2e2e2e"/>
<circle cx="805.3" cy="311.9" r="3.8" fill="#2e2e2e"/>
<circle cx="867.3" cy="542.5" r="4.8" fill="#2e2e2e"/>
<circle cx="70.9" cy="378.8" r="4.1" fill="#2e2e2e"/>
<circle cx="894.6" cy="219.6" r="4.8" fill="#2e2e2e"/>
<circle cx="590.2" cy="228.1" r="4.3" fill="#2e2e2e"/>
<circle cx="631.9" cy="550.7" r="4.2" fill="#2e2e2e"/>
<circle cx="339.7" cy="592.6" r="2.7" fill="#2e2e2e"/>
<circle cx="779.7" cy="414.9" r="4.5" fill="#2e2e2e"/>
<circle cx="418.2" cy="455.9" r="5.6" fill="#2e2e2e"/>
<circle cx="680.8" cy="455.1" r="2.6" fill="#2e2e2e"/>
<circle cx="303.7" cy="83.2" r="5.8" fill="#2e2e2e"/>
<circle cx="832.6" cy="87.7" r="4.6" fill="#2e2e2e"/>
<circle cx="538.7" cy="28.3" r="3.9" fill="#2e2e2e"/>
<circle cx="698.0" cy="389.4" r="3.5" fill="#2e2e2e"/>
<circle cx="712.1" cy="176.7" r="4.4" fill="#2e2e2e"/>
<circle cx="392.9" cy="593.7" r="4.8" fill="#2e2e2e"/>
<circle cx="751.8" cy="410.6" r="3.8" fill="#2e2e2e"/>
<circle cx="899.5" cy="430.8" r="4.9" fill="#2e2e2e"/>
<circle cx="259.2" cy="98.3" r="4.5" fill="#2e2e2e"/>
<circle cx="771.4" cy="481.8" r="3.7" fill="#2e2e2e"/>
<circle cx="130.7" cy="313.2" r="5.6" fill="#2e2e2e"/>
<circle cx="151.4" cy="448.2" r="3.1" fill="#2e2e2e"/>
<circle cx="291.4" cy="32.5" r="3.5" fill="#2e2e2e"/>
<circle cx="357.7" cy="586.9" r="5.9" fill="#2e2e2e"/>
<circle cx="174.8" cy="187.8" r="5.8" fill="#2e2e2e"/>
<circle cx="184.3" cy="194.8" r="4.0" fill="#2e2e2e"/>
<circle cx="101.3" cy="157.9" r="3.9" fill="#2e2e2e"/>
<circle cx="360.1" cy="584.9" r="3.4" fill="#2e2e2e"/>
<circle cx="190.5" cy="551.6" r="4.1" fill="#2e2e2e"/>
<circle cx="781.9" cy="386.7" r="5.2" fill="#2e2e2e"/>
<circle cx="294.0" cy="92.3" r="5.1" fill="#2e2e2e"/>
<circle cx="439.2" cy="339.2" r="4.8" fill="#2e2e2e"/>
<circle cx="703.0" cy="167.2" r="3.8" fill="#2e2e2e"/>
<circle cx="856.9" cy="321.3" r="3.5" fill="#2e2e2e"/>
<circle cx="588.6" cy="157.7" r="5.2" fill="#2e2e2e"/>
<circle cx="38.6" cy="501.8" r="4.5" fill="#2e2e2e"/>
<circle cx="330.3" cy="570.5" r="3.4" fill="#2e2e2e"/>
<circle cx="227.3" cy="42.4" r="4.4" fill="#2e2e2e"/>
<circle cx="704.0" cy="411.6" r="3.9" fill="#2e2e2e"/>
<circle cx="754.4" cy="67.5" r="3.6" fill="#2e2e2e"/>
<circle cx="602.2" cy="587.1" r="4.7" fill="#2e2e2e"/>
<circle cx="646.3" cy="470.2" r="3.9" fill="#2e2e2e"/>
<circle cx="878.3" cy="450.7" r="3.7" fill="#2e2e2e"/>
<circle cx="366.7" cy="489.1" r="3.7" fill="#2e2e2e"/>
<circle cx="173.5" cy="529.1" r="4.4" fill="#2e2e2e"/>
<circle cx="486.8" cy="406.3" r="5.7" fill="#2e2e2e"/>
<circle cx="124.7" cy="205.6" r="2.7" fill="#2e2e2e"/>
<circle cx="385.9" cy="304.8" r="5.5" fill="#2e2e2e"/>
<circle cx="623.7" cy="350.7" r="3.9" fill="#2e2e2e"/>
<circle cx="535.9" cy="166.2" r="5.5" fill="#2e2e2e"/>
<circle cx="736.4" cy="508.9" r="3.0" fill="#2e2e2e"/>
<circle cx="627.2" cy="457.7" r="4.3" fill="#2e2e2e"/>
<circle cx="839.0" cy="545.6" r="5.1" fill="#2e2e2e"/>
<circle cx="766.8" cy="393.8" r="5.6" fill="#2e2e2e"/>
<circle cx="122.6" cy="427.4" r="5.0" fill="#2e2e2e"/>
<circle cx="571.9" cy="167.0" r="2.7" fill="#2e2e2e"/>
<circle cx="563.5" cy="500.3" r="3.5" fill="#2e2e2e"/>
<circle cx="199.0" cy="135.9" r="2.8" fill="#2e2e2e"/>
<circle cx="631.4" cy="591.7" r="5.3" fill="#2e2e2e"/>
<circle cx="336.0" cy="424.6" r="2.8" fill="#2e2e2e"/>
<circle cx="783.2" cy="197.4" r="2.5" fill="#2e2e2e"/>
<circle cx="587.7" cy="84.2" r="3.5" fill="#2e2e2e"/>
<circle cx="55.2" cy="270.5" r="4.4" fill="#2e2e2e"/>
<circle cx="754.1" cy="24.0" r="5.4" fill="#2e2e2e"/>
<circle cx="103.2" cy="136.3" r="4.7" fill="#2e2e2e"/>
<circle cx="317.7" cy="200.9" r="4.5" fill="#2e2e2e"/>
<circle cx="203.5" cy="481.6" r="3.2" fill="#2e2e2e"/>
<circle cx="784.0" cy="490.9" r="4.4" fill="#2e2e2e"/>
<circle cx="28.5" cy="472.3" r="2.6" fill="#2e2e2e"/>
<circle cx="471.4" cy="257.3" r="2.7" fill="#2e2e2e"/>
<circle cx="588.4" cy="439.8" r="4.5" fill="#2e2e2e"/>
<circle cx="373.7" cy="310.8" r="4.6" fill="#2e2e2e"/>
<circle cx="211.3" cy="526.7" r="6.0" fill="#2e2e2e"/>
<circle cx="751.1" cy="583.5" r="3.7" fill="#2e2e2e"/>
<circle cx="921.2" cy="43.3" r="4.2" fill="#2e2e2e"/>
<circle cx="124.9" cy="275.6" r="4.9" fill="#2e2e2e"/>
<circle cx="661.7" cy="276.0" r="3.7" fill="#2e2e2e"/>
<circle cx="177.4" cy="244.5" r="3.5" fill="#2e2e2e"/>
<circle cx="181.4" cy="446.7" r="4.3" fill="#2e2e2e"/>
<circle cx="409.7" cy="120.0" r="5.0" fill="#2e2e2e"/>
<circle cx="183.7" cy="161.2" r="4.5" fill="#2e2e2e"/>
<circle cx="654.9" cy="590.6" r="5.1" fill="#2e2e2e"/>
<circle cx="885.7" cy="558.4" r="5.0" fill="#2e2e2e"/>
<circle cx="672.0" cy="38.1" r="3.2" fill="#2e2e2e"/>
<circle cx="12.2" cy="524.2" r="5.0" fill="#2e2e2e"/>
<circle cx="588.6" cy="160.1" r="3.7" fill="#2e2e2e"/>
<circle cx="152.8" cy="383.8" r="6.0" fill="#2e2e2e"/>
<circle cx="285.6" cy="26.9" r="3.1" fill="#2e2e2e"/>
<circle cx="331.8" cy="545.7" r="5.3" fill="#2e2e2e"/>
<circle cx="425.0" cy="62.0" r="2.9" fill="#2e2e2e"/>
<circle cx="143.7" cy="471.9" r="4.1" fill="#2e2e2e"/>
<circle cx="925.2" cy="553.4" r="5.3" fill="#2e2e2e"/>
<circle cx="444.8" cy="498.9" r="2.9" fill="#2e2e2e"/>
<circle cx="101.7" cy="342.0" r="4.3" fill="#2e2e2e"/>
<circle cx="195.5" cy="152.9" r="2.6" fill="#2e2e2e"/>
<circle cx="848.9" cy="431.1" r="5.8" fill="#2e2e2e"/>
<circle cx="915.8" cy="265.1" r="5.1" fill="#2e2e2e"/>
<circle cx="358.8" cy="492.8" r="5.4" fill="#2e2e2e"/>
<circle cx="125.0" cy="7.8" r="3.2" fill="#2e2e2e"/>
<circle cx="546.7" cy="230.0" r="2.5" fill="#2e2e2e"/>
<circle cx="775.5" cy="477.1" r="4.1" fill="#2e2e2e"/>
<circle cx="40.4" cy="539.6" r="4.4" fill="#2e2e2e"/>
<circle cx="66.3" cy="196.3" r="4.7" fill="#2e2e2e"/>
<circle cx="826.9" cy="294.1" r="4.7" fill="#2e2e2e"/>
<circle cx="192.1" cy="147.8" r="5.7" fill="#2e2e2e"/>
<circle cx="357.4" cy="63.1" r="4.6" fill="#2e2e2e"/>
<circle cx="117.9" cy="121.3" r="4.1" fill="#2e2e2e"/>
<circle cx="546.9" cy="386.3" r="5.0" fill="#2e2e2e"/>
<circle cx="410.6" cy="41.0" r="5.0" fill="#2e2e2e"/>
<circle cx="50.2" cy="285.7" r="3.9" fill="#2e2e2e"/>
<circle cx="628.5" cy="433.2" r="3.3" fill="#2e2e2e"/>
<circle cx="606.7" cy="420.1" r="4.2" fill="#2e2e2e"/>
<circle cx="132.4" cy="551.8" r="4.6" fill="#2e2e2e"/>
<circle cx="58.6" cy="144.8" r="6.0" fill="#2e2e2e"/>
<circle cx="213.6" cy="238.1" r="5.3" fill="#2e2e2e"/>
<circle cx="769.5" cy="384.8" r="5.1" fill="#2e2e2e"/>
<circle cx="35.8" cy="56.9" r="5.9" fill="#2e2e2e"/>
<circle cx="749.7" cy="23.1" r="2.7" fill="#2e2e2e"/>
<circle cx="224.6" cy="564.9" r="3.3" fill="#2e2e2e"/>
<circle cx="627.5" cy="564.7" r="4.7" fill="#2e2e2e"/>
<circle cx="858.6" cy="159.6" r="3.0" fill="#2e2e2e"/>
<circle cx="17.0" cy="459.6" r="2.9" fill="#2e2e2e"/>
<circle cx="908.9" cy="431.0" r="3.2" fill="#2e2e2e"/>
<circle cx="753.8" cy="98.8" r="4.3" fill="#2e2e2e"/>
<circle cx="98.8" cy="477.7" r="5.6" fill="#2e2e2e"/>
<circle cx="855.9" cy="1.4" r="5.5" fill="#2e2e2e"/>
<circle cx="519.2" cy="498.6" r="4.3" fill="#2e2e2e"/>
<circle cx="578.9" cy="360.9" r="5.3" fill="#2e2e2e"/>
<circle cx="72.5" cy="32.9" r="4.4" fill="#2e2e2e"/>
<circle cx="271.8" cy="241.0" r="2.5" fill="#2e2e2e"/>
<circle cx="695.8" cy="14.6" r="5.4" fill="#2e2e2e"/>
<circle cx="758.0" cy="278.0" r="2.9" fill="#2e2e2e"/>
<circle cx="607.2" cy="125.7" r="4.0" fill="#2e2e2e"/>
<circle cx="103.1" cy="592.7" r="4.4" fill="#2e2e2e"/>
<circle cx="329.3" cy="57.1" r="5.1" fill="#2e2e2e"/>
<circle cx="793.6" cy="514.9" r="2.9" fill="#2e2e2e"/>
<circle cx="343.3" cy="183.8" r="5.2" fill="#2e2e2e"/>
<circle cx="138.1" cy="368.1" r="5.9" fill="#2e2e2e"/>
<circle cx="718.0" cy="4.2" r="2.8" fill="#2e2e2e"/>
<circle cx="106.2" cy="420.3" r="4.6" fill="#2e2e2e"/>
<circle cx="485.8" cy="276.6" r="3.9" fill="#2e2e2e"/>
<circle cx="570.7" cy="393.7" r="5.7" fill="#2e2e2e"/>
<circle cx="684.3" cy="483.5" r="5.7" fill="#2e2e2e"/>
<circle cx="781.9" cy="435.0" r="2.6" fill="#2e2e2e"/>
<circle cx="635.9" cy="515.9" r="4.0" fill="#2e2e2e"/>
<circle cx="820.2" cy="109.1" r="5.8" fill="#2e2e2e"/>
<circle cx="412.6" cy="428.8" r="3.4" fill="#2e2e2e"/>
<circle cx="280.7" cy="211.5" r="3.6" fill="#2e2e2e"/>
<circle cx="88.5" cy="268.8" r="5.9" fill="#2e2e2e"/>
<circle cx="610.9" cy="565.8" r="5.2" fill="#2e2e2e"/>
<circle cx="781.6" cy="603.5" r="5.1" fill="#2e2e2e"/>
<circle cx="256.1" cy="151.6" r="3.9" fill="#2e2e2e"/>
<circle cx="19.5" cy="140.1" r="5.6" fill="#2e2e2e"/>
<circle cx="860.1" cy="199.5" r="5.2" fill="#2e2e2e"/>
<circle cx="723.8" cy="540.1" r="5.3" fill="#2e2e2e"/>
<circle cx="496.9" cy="63.6" r="5.4" fill="#2e2e2e"/>
<circle cx="293.0" cy="380.6" r="3.8" fill="#2e2e2e"/>
<circle cx="501.8" cy="586.1" r="3.1" fill="#2e2e2e"/>
<circle cx="495.9" cy="394.5" r="4.4" fill="#2e2e2e"/>
<circle cx="876.0" cy="247.4" r="5.7" fill="#2e2e2e"/>
<circle cx="644.3" cy="587.2" r="2.8" fill="#2e2e2e"/>
<circle cx="198.4" cy="174.4" r="5.7" fill="#2e2e2e"/>
<circle cx="12.7" cy="157.9" r="5.0" fill="#2e2e2e"/>
<circle cx="924.4" cy="107.0" r="4.0" fill="#2e2e2e"/>
<circle cx="641.5" cy="419.2" r="5.1" fill="#2e2e2e"/>
<circle cx="703.4" cy="150.8" r="3.4" fill="#2e2e2e"/>
<circle cx="25.8" cy="419.5" r="3.2" fill="#2e2e2e"/>
<circle cx="242.4" cy="585.3" r="4.8" fill="#2e2e2e"/>
<circle cx="552.1" cy="398.3" r="4.6" fill="#2e2e2e"/>
<circle cx="649.1" cy="184.5" r="2.7" fill="#2e2e2e"/>
<circle cx="62.5" cy="8.8" r="3.8" fill="#2e2e2e"/>
<circle cx="132.8" cy="68.5" r="4.2" fill="#2e2e2e"/>
<circle cx="905.6" cy="417.3" r="3.5" fill="#2e2e2e"/>
<circle cx="718.7" cy="108.0" r="2.9" fill="#2e2e2e"/>
<circle cx="283.2" cy="248.2" r="4.9" fill="#2e2e2e"/>
<circle cx="415.6" cy="442.1" r="2.8" fill="#2e2e2e"/>
<circle cx="870.8" cy="207.8" r="5.4" fill="#2e2e2e"/>
<circle cx="28.7" cy="503.1" r="3.3" fill="#2e2e2e"/>
<circle cx="798.6" cy="487.3" r="4.8" fill="#2e2e2e"/>
<circle cx="259.3" cy="6.0" r="3.2" fill="#2e2e2e"/>
<circle cx="845.2" cy="95.9" r="4.8" fill="#2e2e2e"/>
<circle cx="548.2" cy="401.4" r="3.1" fill="#2e2e2e"/>
<circle cx="134.2" cy="58.9" r="5.9" fill="#2e2e2e"/>
<circle cx="357.7" cy="395.9" r="4.5" fill="#2e2e2e"/>
<circle cx="208.5" cy="39.3" r="2.6" fill="#2e2e2e"/>
<circle cx="796.3" cy="79.0" r="5.9" fill="#2e2e2e"/>
<circle cx="339.6" cy="438.6" r="3.0" fill="#2e2e2e"/>
<circle cx="736.0" cy="152.7" r="3.8" fill="#2e2e2e"/>
<circle cx="488.5" cy="67.7" r="3.4" fill="#2e2e2e"/>
<circle cx="743.4" cy="173.2" r="3.8" fill="#2e2e2e"/>
<circle cx="714.3" cy="136.0" r="3.2" fill="#2e2e2e"/>
<circle cx="204.6" cy="233.2" r="3.8" fill="#2e2e2e"/>
<circle cx="599.1" cy="286.4" r="5.5" fill="#2e2e2e"/>
<circle cx="47.2" cy="402.8" r="5.4" fill="#2e2e2e"/>
<circle cx="219.3" cy="17.8" r="4.0" fill="#2e2e2e"/>
<circle cx="108.2" cy="279.2" r="5.0" fill="#2e2e2e"/>
<circle cx="87.5" cy="71.5" r="4.2" fill="#2e2e2e"/>
<circle cx="162.3" cy="140.1" r="4.0" fill="#2e2e2e"/>
<circle cx="110.5" cy="41.2" r="3.8" fill="#2e2e2e"/>
<circle cx="438.2" cy="568.5" r="4.4" fill="#2e2e2e"/>
<circle cx="66.8" cy="135.0" r="5.1" fill="#2e2e2e"/>
<circle cx="525.7" cy="528.2" r="5.9" fill="#2e2e2e"/>
<circle cx="801.3" cy="66.8" r="5.8" fill="#2e2e2e"/>
<circle cx="490.2" cy="145.5" r="3.1" fill="#2e2e2e"/>
<circle cx="807.6" cy="128.9" r="2.8" fill="#2e2e2e"/>
<circle cx="247.8" cy="560.9" r="4.1" fill="#2e2e2e"/>
<circle cx="683.1" cy="45.2" r="4.1" fill="#2e2e2e"/>
<circle cx="296.8" cy="124.6" r="4.8" fill="#2e2e2e"/>
<circle cx="337.4" cy="72.7" r="5.9" fill="#2e2e2e"/>
<circle cx="449.8" cy="109.2" r="2.5" fill="#2e2e2e"/>
<circle cx="609.9" cy="312.4" r="2.6" fill="#2e2e2e"/>
<circle cx="439.3" cy="449.5" r="4.4" fill="#2e2e2e"/>
<circle cx="218.6" cy="302.9" r="4.6" fill="#2e2e2e"/>
<circle cx="608.2" cy="88.0" r="5.3" fill="#2e2e2e"/>
<circle cx="883.2" cy="449.4" r="5.5" fill="#2e2e2e"/>
<circle cx="343.5" cy="548.0" r="3.1" fill="#2e2e2e"/>
<circle cx="211.9" cy="363.0" r="5.7" fill="#2e2e2e"/>
<circle cx="76.6" cy="131.7" r="2.6" fill="#2e2e2e"/>
<circle cx="410.0" cy="85.3" r="3.2" fill="#2e2e2e"/>
<circle cx="699.5" cy="354.1" r="5.8" fill="#2e2e2e"/>
<circle cx="375.5" cy="412.2" r="2.5" fill="#2e2e2e"/>
<circle cx="885.8" cy="141.5" r="4.2" fill="#2e2e2e"/>
<circle cx="477.9" cy="575.6" r="4.2" fill="#2e2e2e"/>
<circle cx="926.4" cy="377.1" r="3.3" fill="#2e2e2e"/>
<circle cx="778.9" cy="122.6" r="6.0" fill="#2e2e2e"/>
<circle cx="426.4" cy="137.4" r="5.9" fill="#2e2e2e"/>
<circle cx="300.5" cy="247.0" r="3.7" fill="#2e2e2e"/>
<circle cx="624.5" cy="13.9" r="3.8" fill="#2e2e2e"/>
<circle cx="151.4" cy="502.6" r="2.5" fill="#2e2e2e"/>
<circle cx="567.4" cy="156.5" r="4.1" fill="#2e2e2e"/>
<circle cx="524.8" cy="432.0" r="3.0" fill="#2e2e2e"/>
<circle cx="224.6" cy="73.2" r="5.9" fill="#2e2e2e"/>
<circle cx="139.3" cy="83.2" r="4.3" fill="#2e2e2e"/>
<circle cx="543.0" cy="538.1" r="2.7" fill="#2e2e2e"/>
<circle cx="218.8" cy="101.7" r="4.5" fill="#2e2e2e"/>
<circle cx="422.6" cy="248.2" r="5.6" fill="#2e2e2e"/>
<circle cx="618.0" cy="522.2" r="5.8" fill="#2e2e2e"/>
<circle cx="251.2" cy="571.8" r="3.9" fill="#2e2e2e"/>
<circle cx="48.2" cy="555.3" r="2.9" fill="#2e2e2e"/>
<circle cx="16.4" cy="175.8" r="3.5" fill="#2e2e2e"/>
<circle cx="903.1" cy="528.4" r="4.0" fill="#2e2e2e"/>
<circle cx="494.4" cy="515.2" r="5.3" fill="#2e2e2e"/>
<circle cx="610.3" cy="311.3" r="2.9" fill="#2e2e2e"/>
<circle cx="227.7" cy="399.5" r="4.6" fill="#2e2e2e"/>
<circle cx="748.2" cy="545.6" r="5.9" fill="#2e2e2e"/>
<circle cx="180.0" cy="46.1" r="5.6" fill="#2e2e2e"/>
<circle cx="532.7" cy="110.2" r="4.9" fill="#2e2e2e"/>
<circle cx="238.8" cy="143.6" r="3.8" fill="#2e2e2e"/>
<circle cx="489.3" cy="411.2" r="2.8" fill="#2e2e2e"/>
<circle cx="692.4" cy="378.9" r="4.2" fill="#2e2e2e"/>
<circle cx="627.7" cy="485.4" r="2.5" fill="#2e2e2e"/>
<circle cx="444.0" cy="411.5" r="5.0" fill="#2e2e2e"/>
<circle cx="604.8" cy="109.4" r="5.9" fill="#2e2e2e"/>
<circle cx="733.8" cy="141.4" r="4.0" fill="#2e2e2e"/>
<circle cx="894.7" cy="125.7" r="3.9" fill="#2e2e2e"/>
<circle cx="898.1" cy="546.4" r="3.3" fill="#2e2e2e"/>
<circle cx="686.7" cy="218.3" r="4.8" fill="#2e2e2e"/>
<circle cx="716.3" cy="77.4" r="3.3" fill="#2e2e2e"/>
<circle cx="200.8" cy="161.5" r="2.6" fill="#2e2e2e"/>
<circle cx="127.0" cy="246.5" r="4.0" fill="#2e2e2e"/>
<path d="M390,40 L405,55 L392,75 L405,90 L398,105" stroke="#eee" stroke-width="7" fill="none"/>
<circle cx="795" cy="72" r="6" fill="#ddd"/><circle cx="540" cy="145" r="5" fill="#ccc"/><circle cx="440" cy="520" r="6" fill="#ddd"/><circle cx="432" cy="545" r="5" fill="#ccc"/>
<rect x="100" y="45" width="412" height="303" fill="none" stroke="#fff" stroke-width="9" stroke-dasharray="28,14"/>
<text x="21" y="79" font-size="69" font-weight="normal" fill="#fff" stroke="#fff" stroke-width="3.5"><tspan font-style="italic">CIDEA</tspan>-OE1</text>
<text x="35" y="535" font-size="64" font-weight="bold" fill="#fff">10μm</text>
<line x1="70" y1="577" x2="165" y2="577" stroke="#fff" stroke-width="10"/>
</g></g></g>
<g clip-path="url(#cl_a_b)"><g filter="url(#soft)">
<g transform="translate(283,682) scale(0.21734,0.21746)">
<filter id="nz4" x="0" y="0" width="934" height="607" filterUnits="userSpaceOnUse" primitiveUnits="userSpaceOnUse" color-interpolation-filters="sRGB"><feTurbulence type="fractalNoise" baseFrequency="0.07" numOctaves="3" seed="14"/><feColorMatrix type="matrix" values="0.3 0 0 0 0.117  0.3 0 0 0 0.117  0.3 0 0 0 0.117  0 0 0 0 1"/></filter>
<rect x="0" y="0" width="934" height="607" filter="url(#nz4)" opacity="1.0"/>
<polyline points="110,100 230,70 500,62 700,90 780,170 820,300 800,420 720,520 550,565 350,560 200,500 110,420 80,300 110,100" fill="none" stroke="#555" stroke-width="26" stroke-linejoin="round" stroke-linecap="round" filter="url(#blur1)" opacity="0.6"/>
<polygon points="0,400 60,380 200,480 260,600 0,607" fill="#545454" opacity="0.8"/>
<polyline points="0,420 120,480" fill="none" stroke="#5e5e5e" stroke-width="3" stroke-linejoin="round" stroke-linecap="round" opacity="0.7"/>
<polyline points="0,436 125,496" fill="none" stroke="#5e5e5e" stroke-width="3" stroke-linejoin="round" stroke-linecap="round" opacity="0.7"/>
<polyline points="0,452 130,512" fill="none" stroke="#5e5e5e" stroke-width="3" stroke-linejoin="round" stroke-linecap="round" opacity="0.7"/>
<polyline points="0,468 135,528" fill="none" stroke="#5e5e5e" stroke-width="3" stroke-linejoin="round" stroke-linecap="round" opacity="0.7"/>
<polyline points="0,484 140,544" fill="none" stroke="#5e5e5e" stroke-width="3" stroke-linejoin="round" stroke-linecap="round" opacity="0.7"/>
<polyline points="0,500 145,560" fill="none" stroke="#5e5e5e" stroke-width="3" stroke-linejoin="round" stroke-linecap="round" opacity="0.7"/>
<polyline points="0,516 150,576" fill="none" stroke="#5e5e5e" stroke-width="3" stroke-linejoin="round" stroke-linecap="round" opacity="0.7"/>
<polyline points="0,532 155,592" fill="none" stroke="#5e5e5e" stroke-width="3" stroke-linejoin="round" stroke-linecap="round" opacity="0.7"/>
<polyline points="0,548 160,608" fill="none" stroke="#5e5e5e" stroke-width="3" stroke-linejoin="round" stroke-linecap="round" opacity="0.7"/>
<polyline points="0,564 165,624" fill="none" stroke="#5e5e5e" stroke-width="3" stroke-linejoin="round" stroke-linecap="round" opacity="0.7"/>
<polyline points="0,580 170,640" fill="none" stroke="#5e5e5e" stroke-width="3" stroke-linejoin="round" stroke-linecap="round" opacity="0.7"/>
<polyline points="0,596 175,656" fill="none" stroke="#5e5e5e" stroke-width="3" stroke-linejoin="round" stroke-linecap="round" opacity="0.7"/>
<polygon points="245,110 300,90 400,95 470,110 500,170 515,260 440,280 330,285 265,270 255,200" fill="#262626" />
<circle cx="443.0" cy="214.4" r="6.8" fill="#4a4a4a"/>
<circle cx="330.6" cy="171.1" r="5.8" fill="#4a4a4a"/>
<circle cx="343.8" cy="200.9" r="4.9" fill="#4a4a4a"/>
<circle cx="456.4" cy="196.2" r="3.6" fill="#4a4a4a"/>
<circle cx="317.3" cy="238.7" r="6.1" fill="#4a4a4a"/>
<circle cx="418.3" cy="143.2" r="5.5" fill="#4a4a4a"/>
<circle cx="354.3" cy="125.8" r="3.8" fill="#4a4a4a"/>
<circle cx="385.2" cy="152.9" r="4.0" fill="#4a4a4a"/>
<circle cx="411.5" cy="142.5" r="6.4" fill="#4a4a4a"/>
<circle cx="430.8" cy="153.1" r="3.8" fill="#4a4a4a"/>
<circle cx="448.1" cy="194.7" r="5.9" fill="#4a4a4a"/>
<circle cx="376.5" cy="207.8" r="3.0" fill="#4a4a4a"/>
<circle cx="416.2" cy="240.3" r="3.0" fill="#4a4a4a"/>
<circle cx="386.0" cy="224.7" r="5.8" fill="#4a4a4a"/>
<circle cx="393.0" cy="189.2" r="3.5" fill="#4a4a4a"/>
<circle cx="464.4" cy="163.2" r="3.6" fill="#4a4a4a"/>
<circle cx="345.5" cy="232.2" r="4.3" fill="#4a4a4a"/>
<circle cx="323.8" cy="213.3" r="4.0" fill="#4a4a4a"/>
<circle cx="405.5" cy="196.7" r="3.6" fill="#4a4a4a"/>
<circle cx="442.0" cy="219.2" r="5.8" fill="#4a4a4a"/>
<circle cx="373.2" cy="250.3" r="5.9" fill="#4a4a4a"/>
<circle cx="344.3" cy="230.0" r="3.8" fill="#4a4a4a"/>
<circle cx="443.1" cy="168.0" r="3.2" fill="#4a4a4a"/>
<circle cx="424.2" cy="236.6" r="4.5" fill="#4a4a4a"/>
<circle cx="370.8" cy="158.1" r="6.2" fill="#4a4a4a"/>
<polygon points="600,180 640,175 700,230 722,280 680,320 600,332 585,290 595,230" fill="#262626" />
<circle cx="625" cy="195" r="15" fill="#454545"/>
<path d="M753.4,421.3 Q757.0,430.0 756.1,439.4 Q755.2,448.8 749.7,457.9 Q744.1,467.0 733.2,473.7 Q722.3,480.4 708.1,482.4 Q694.0,484.5 680.3,483.5 Q666.5,482.6 652.7,480.8 Q638.9,479.0 626.0,473.8 Q613.2,468.5 608.6,458.8 Q604.1,449.0 607.8,439.5 Q611.6,430.0 614.3,422.1 Q617.1,414.3 618.1,404.6 Q619.1,394.9 626.7,385.2 Q634.2,375.5 649.1,371.6 Q664.0,367.7 679.3,370.4 Q694.6,373.1 706.4,378.9 Q718.1,384.6 727.1,391.1 Q736.1,397.6 743.0,405.1 Q749.9,412.5 753.4,421.3Z" fill="#262626" />
<path d="M549.6,446.6 Q549.6,457.3 545.6,467.1 Q541.6,477.0 534.4,485.3 Q527.1,493.6 517.3,500.3 Q507.4,507.0 494.6,509.0 Q481.8,511.0 469.7,506.4 Q457.5,501.8 448.1,494.9 Q438.7,488.0 429.9,480.8 Q421.1,473.5 414.8,463.9 Q408.5,454.3 407.7,443.2 Q406.9,432.1 410.7,421.6 Q414.5,411.1 422.7,402.8 Q431.0,394.5 442.7,390.9 Q454.5,387.3 466.5,387.0 Q478.4,386.6 490.5,387.3 Q502.6,387.9 514.6,392.2 Q526.6,396.5 534.6,405.6 Q542.7,414.6 546.1,425.3 Q549.5,436.0 549.6,446.6Z" fill="#262626" />
<circle cx="530" cy="465" r="22" fill="#555"/>
<path d="M280.1,357.1 Q281.3,365.0 277.3,372.0 Q273.4,379.0 268.6,384.6 Q263.8,390.2 258.1,394.8 Q252.3,399.3 244.9,400.8 Q237.4,402.3 230.3,401.0 Q223.1,399.6 216.5,397.8 Q209.9,395.9 202.6,393.4 Q195.2,390.9 188.8,385.7 Q182.4,380.4 180.6,372.7 Q178.8,365.0 182.3,357.8 Q185.8,350.7 191.1,345.3 Q196.5,340.0 202.2,335.5 Q207.9,331.0 215.2,328.8 Q222.4,326.7 229.7,328.4 Q236.9,330.1 243.1,332.7 Q249.3,335.3 256.9,337.3 Q264.5,339.3 271.7,344.2 Q278.9,349.2 280.1,357.1Z" fill="#262626" />
<path d="M377.3,344.0 Q376.6,350.0 375.1,355.2 Q373.5,360.4 371.2,365.2 Q368.9,370.0 364.2,372.5 Q359.4,375.0 354.4,374.9 Q349.4,374.9 344.9,375.3 Q340.5,375.7 335.4,375.6 Q330.2,375.6 325.7,372.8 Q321.1,370.1 317.7,365.6 Q314.3,361.2 312.3,355.6 Q310.4,350.0 311.9,344.3 Q313.5,338.5 318.0,334.8 Q322.5,331.1 327.1,329.0 Q331.6,326.9 336.1,325.7 Q340.5,324.5 345.0,324.6 Q349.5,324.7 354.4,325.0 Q359.3,325.2 365.1,326.7 Q370.9,328.3 374.4,333.1 Q377.9,338.0 377.3,344.0Z" fill="#262626" />
<path d="M579.3,366.2 Q582.5,370.0 581.1,374.2 Q579.6,378.4 573.6,380.5 Q567.7,382.7 562.0,382.9 Q556.4,383.1 552.8,384.5 Q549.2,386.0 544.5,387.8 Q539.8,389.6 534.7,388.6 Q529.7,387.7 525.9,385.2 Q522.1,382.8 518.0,380.2 Q513.8,377.6 511.9,373.8 Q510.0,370.0 513.3,366.6 Q516.6,363.1 520.6,360.8 Q524.6,358.6 527.3,355.7 Q530.1,352.7 534.8,350.9 Q539.4,349.0 544.6,350.4 Q549.8,351.8 553.5,353.9 Q557.1,356.0 561.3,357.3 Q565.6,358.5 570.8,360.5 Q576.0,362.5 579.3,366.2Z" fill="#262626" />
<path d="M576.6,140.4 Q578.1,145.0 576.6,149.6 Q575.2,154.2 571.1,157.2 Q566.9,160.3 562.7,162.4 Q558.5,164.5 554.2,166.2 Q549.9,167.9 545.0,168.1 Q540.1,168.4 535.3,167.2 Q530.5,166.0 525.6,164.0 Q520.8,161.9 517.3,158.2 Q513.8,154.5 513.5,149.7 Q513.3,145.0 514.8,140.7 Q516.4,136.3 519.0,132.5 Q521.6,128.7 526.1,126.4 Q530.5,124.1 535.5,123.7 Q540.4,123.3 545.1,123.0 Q549.7,122.7 554.9,123.0 Q560.1,123.2 564.6,125.7 Q569.1,128.1 572.1,132.0 Q575.1,135.9 576.6,140.4Z" fill="#262626" />
<path d="M58.7,49.1 Q59.8,55.0 59.5,61.2 Q59.2,67.4 57.0,73.4 Q54.9,79.4 50.2,82.8 Q45.4,86.2 40.1,86.3 Q34.8,86.5 30.0,86.7 Q25.2,86.9 19.8,86.6 Q14.5,86.3 10.4,82.3 Q6.2,78.3 4.6,72.4 Q3.0,66.5 1.6,60.7 Q0.2,55.0 -0.1,48.6 Q-0.4,42.1 2.9,36.8 Q6.1,31.6 10.9,28.8 Q15.7,26.1 20.3,24.0 Q25.0,21.8 30.1,21.0 Q35.3,20.1 40.1,22.4 Q45.0,24.6 48.8,28.8 Q52.5,33.0 55.1,38.1 Q57.6,43.3 58.7,49.1Z" fill="#262626" />
<path d="M384.6,461.4 Q384.5,465.0 384.1,468.3 Q383.7,471.6 382.7,474.8 Q381.7,478.0 379.6,480.3 Q377.6,482.5 375.1,483.5 Q372.6,484.5 370.0,484.5 Q367.4,484.4 365.1,483.2 Q362.7,481.9 360.6,479.8 Q358.6,477.8 356.9,475.0 Q355.2,472.2 354.8,468.6 Q354.3,465.0 355.4,461.7 Q356.4,458.4 357.7,455.5 Q359.0,452.7 360.7,450.0 Q362.3,447.2 364.8,446.1 Q367.4,445.0 369.9,445.7 Q372.5,446.4 374.9,447.3 Q377.3,448.1 379.8,449.7 Q382.2,451.3 383.5,454.6 Q384.7,457.8 384.6,461.4Z" fill="#262626" />
<path d="M920.9,191.4 Q922.0,195.0 919.7,198.3 Q917.4,201.7 914.5,204.3 Q911.5,207.0 908.5,209.9 Q905.4,212.8 900.5,214.5 Q895.6,216.2 890.3,215.2 Q884.9,214.1 881.1,211.9 Q877.3,209.7 873.6,208.0 Q869.9,206.3 865.1,204.2 Q860.4,202.2 857.0,198.6 Q853.6,195.0 855.1,191.0 Q856.7,186.9 862.2,184.7 Q867.8,182.6 872.8,181.8 Q877.9,181.0 881.7,179.4 Q885.4,177.8 890.4,176.4 Q895.3,175.0 900.4,176.0 Q905.6,177.0 909.4,179.5 Q913.3,182.0 916.6,184.9 Q919.9,187.8 920.9,191.4Z" fill="#262626" />
<path d="M303.4,407.7 Q304.1,410.0 304.6,412.7 Q305.1,415.5 303.9,418.1 Q302.7,420.7 300.1,421.7 Q297.4,422.8 294.8,422.9 Q292.3,423.1 289.9,423.5 Q287.5,424.0 284.8,423.9 Q282.1,423.7 280.0,421.9 Q277.9,420.1 276.8,417.7 Q275.7,415.2 275.2,412.6 Q274.6,410.0 275.2,407.4 Q275.7,404.8 277.4,402.9 Q279.2,400.9 281.1,399.5 Q283.1,398.1 285.3,396.7 Q287.4,395.3 290.1,394.7 Q292.8,394.0 295.5,395.0 Q298.1,396.0 299.7,398.2 Q301.3,400.5 302.0,402.9 Q302.7,405.4 303.4,407.7Z" fill="#262626" />
<path d="M823.5,396.3 Q824.9,400.0 825.6,404.9 Q826.2,409.9 824.9,414.4 Q823.5,418.8 820.7,420.8 Q817.9,422.7 815.1,422.6 Q812.4,422.5 810.0,422.0 Q807.7,421.6 805.3,421.1 Q802.9,420.5 800.6,418.4 Q798.3,416.4 796.9,412.6 Q795.4,408.8 795.1,404.4 Q794.9,400.0 795.4,395.7 Q795.9,391.5 797.2,387.6 Q798.4,383.8 800.3,380.8 Q802.3,377.7 804.8,375.9 Q807.3,374.1 810.0,374.1 Q812.7,374.1 815.0,376.5 Q817.3,378.9 818.6,382.5 Q819.9,386.1 821.0,389.4 Q822.1,392.7 823.5,396.3Z" fill="#262626" />
<path d="M899.3,277.4 Q899.2,280.0 897.9,282.3 Q896.5,284.5 895.4,286.8 Q894.4,289.0 892.7,291.6 Q890.9,294.2 887.5,295.5 Q884.0,296.9 880.2,296.0 Q876.5,295.1 873.6,293.6 Q870.7,292.0 867.9,290.7 Q865.0,289.5 862.6,287.4 Q860.3,285.4 860.3,282.7 Q860.3,280.0 861.8,277.7 Q863.4,275.5 864.6,273.3 Q865.8,271.1 867.6,268.6 Q869.3,266.1 872.7,264.7 Q876.1,263.4 879.8,264.0 Q883.6,264.7 886.6,266.1 Q889.6,267.5 892.4,269.0 Q895.2,270.5 897.2,272.6 Q899.3,274.7 899.3,277.4Z" fill="#262626" />
<circle cx="269.0" cy="466.1" r="2.4" fill="#2c2c2c"/>
<circle cx="99.5" cy="42.9" r="2.5" fill="#2c2c2c"/>
<circle cx="496.8" cy="505.7" r="2.5" fill="#2c2c2c"/>
<circle cx="162.2" cy="464.3" r="3.3" fill="#2c2c2c"/>
<circle cx="315.7" cy="74.8" r="2.7" fill="#2c2c2c"/>
<circle cx="907.6" cy="71.0" r="2.8" fill="#2c2c2c"/>
<circle cx="691.8" cy="541.3" r="4.7" fill="#2c2c2c"/>
<circle cx="441.6" cy="580.5" r="3.8" fill="#2c2c2c"/>
<circle cx="269.7" cy="282.4" r="4.1" fill="#2c2c2c"/>
<circle cx="685.5" cy="78.7" r="2.6" fill="#2c2c2c"/>
<circle cx="895.0" cy="64.9" r="4.4" fill="#2c2c2c"/>
<circle cx="316.5" cy="150.5" r="2.8" fill="#2c2c2c"/>
<circle cx="438.2" cy="601.3" r="2.4" fill="#2c2c2c"/>
<circle cx="798.1" cy="195.0" r="2.5" fill="#2c2c2c"/>
<circle cx="695.6" cy="207.4" r="2.6" fill="#2c2c2c"/>
<circle cx="390.8" cy="498.8" r="4.6" fill="#2c2c2c"/>
<circle cx="536.9" cy="6.3" r="4.3" fill="#2c2c2c"/>
<circle cx="566.5" cy="545.9" r="4.9" fill="#2c2c2c"/>
<circle cx="305.5" cy="515.0" r="4.5" fill="#2c2c2c"/>
<circle cx="248.4" cy="222.1" r="3.1" fill="#2c2c2c"/>
<circle cx="329.6" cy="229.6" r="2.3" fill="#2c2c2c"/>
<circle cx="212.2" cy="552.1" r="3.2" fill="#2c2c2c"/>
<circle cx="593.8" cy="538.6" r="4.3" fill="#2c2c2c"/>
<circle cx="228.2" cy="558.2" r="4.4" fill="#2c2c2c"/>
<circle cx="925.3" cy="441.9" r="4.3" fill="#2c2c2c"/>
<circle cx="759.4" cy="153.7" r="4.0" fill="#2c2c2c"/>
<circle cx="355.5" cy="509.7" r="2.4" fill="#2c2c2c"/>
<circle cx="503.5" cy="204.2" r="4.5" fill="#2c2c2c"/>
<circle cx="322.5" cy="512.2" r="4.5" fill="#2c2c2c"/>
<circle cx="820.8" cy="84.4" r="4.8" fill="#2c2c2c"/>
<circle cx="695.1" cy="410.9" r="4.0" fill="#2c2c2c"/>
<circle cx="44.8" cy="528.2" r="3.6" fill="#2c2c2c"/>
<circle cx="425.6" cy="206.0" r="4.3" fill="#2c2c2c"/>
<circle cx="730.6" cy="528.0" r="2.6" fill="#2c2c2c"/>
<circle cx="318.0" cy="151.4" r="2.3" fill="#2c2c2c"/>
<circle cx="305.5" cy="15.8" r="4.4" fill="#2c2c2c"/>
<circle cx="212.1" cy="42.9" r="2.2" fill="#2c2c2c"/>
<circle cx="692.2" cy="120.5" r="3.4" fill="#2c2c2c"/>
<circle cx="375.3" cy="487.1" r="4.9" fill="#2c2c2c"/>
<circle cx="289.4" cy="383.8" r="4.7" fill="#2c2c2c"/>
<circle cx="439.4" cy="546.1" r="4.2" fill="#2c2c2c"/>
<circle cx="291.0" cy="530.5" r="3.7" fill="#2c2c2c"/>
<circle cx="98.9" cy="356.6" r="4.5" fill="#2c2c2c"/>
<circle cx="484.3" cy="293.8" r="3.2" fill="#2c2c2c"/>
<circle cx="822.4" cy="404.0" r="2.6" fill="#2c2c2c"/>
<circle cx="338.4" cy="220.5" r="4.9" fill="#2c2c2c"/>
<circle cx="650.0" cy="75.8" r="4.7" fill="#2c2c2c"/>
<circle cx="32.6" cy="358.7" r="3.3" fill="#2c2c2c"/>
<circle cx="670.1" cy="260.6" r="2.3" fill="#2c2c2c"/>
<circle cx="489.1" cy="498.0" r="4.4" fill="#2c2c2c"/>
<circle cx="333.1" cy="135.0" r="4.2" fill="#2c2c2c"/>
<circle cx="748.8" cy="132.9" r="4.6" fill="#2c2c2c"/>
<circle cx="926.9" cy="263.1" r="3.1" fill="#2c2c2c"/>
<circle cx="663.0" cy="564.4" r="2.6" fill="#2c2c2c"/>
<circle cx="281.8" cy="199.7" r="4.2" fill="#2c2c2c"/>
<circle cx="174.5" cy="331.9" r="3.5" fill="#2c2c2c"/>
<circle cx="624.3" cy="87.0" r="4.9" fill="#2c2c2c"/>
<circle cx="934.0" cy="340.6" r="4.4" fill="#2c2c2c"/>
<circle cx="171.2" cy="552.5" r="3.7" fill="#2c2c2c"/>
<circle cx="709.4" cy="527.2" r="3.1" fill="#2c2c2c"/>
<circle cx="863.0" cy="125.9" r="2.1" fill="#2c2c2c"/>
<circle cx="469.2" cy="545.5" r="4.7" fill="#2c2c2c"/>
<circle cx="891.9" cy="310.1" r="4.8" fill="#2c2c2c"/>
<circle cx="523.0" cy="87.2" r="3.9" fill="#2c2c2c"/>
<circle cx="750.4" cy="257.3" r="3.8" fill="#2c2c2c"/>
<circle cx="242.0" cy="167.5" r="3.3" fill="#2c2c2c"/>
<circle cx="479.4" cy="284.3" r="2.3" fill="#2c2c2c"/>
<circle cx="5.3" cy="206.5" r="4.2" fill="#2c2c2c"/>
<circle cx="699.0" cy="143.9" r="2.8" fill="#2c2c2c"/>
<circle cx="482.6" cy="106.5" r="3.8" fill="#2c2c2c"/>
<circle cx="844.5" cy="122.6" r="3.8" fill="#2c2c2c"/>
<circle cx="673.2" cy="454.8" r="4.1" fill="#2c2c2c"/>
<circle cx="663.7" cy="165.4" r="4.5" fill="#2c2c2c"/>
<circle cx="864.0" cy="31.9" r="4.8" fill="#2c2c2c"/>
<circle cx="413.4" cy="52.4" r="2.2" fill="#2c2c2c"/>
<circle cx="744.3" cy="411.3" r="2.4" fill="#2c2c2c"/>
<circle cx="429.6" cy="387.7" r="5.0" fill="#2c2c2c"/>
<circle cx="313.9" cy="465.3" r="2.7" fill="#2c2c2c"/>
<circle cx="185.7" cy="97.9" r="3.2" fill="#2c2c2c"/>
<circle cx="577.4" cy="184.0" r="2.5" fill="#2c2c2c"/>
<circle cx="204.1" cy="51.6" r="2.6" fill="#2c2c2c"/>
<circle cx="294.9" cy="306.3" r="2.6" fill="#2c2c2c"/>
<circle cx="448.1" cy="267.0" r="4.9" fill="#2c2c2c"/>
<circle cx="454.2" cy="573.5" r="3.4" fill="#2c2c2c"/>
<circle cx="184.9" cy="359.3" r="2.4" fill="#2c2c2c"/>
<circle cx="158.0" cy="44.5" r="4.1" fill="#2c2c2c"/>
<circle cx="903.2" cy="244.9" r="3.1" fill="#2c2c2c"/>
<circle cx="397.1" cy="213.7" r="4.1" fill="#2c2c2c"/>
<circle cx="366.0" cy="92.5" r="4.6" fill="#2c2c2c"/>
<circle cx="534.8" cy="3.9" r="4.5" fill="#2c2c2c"/>
<circle cx="680.4" cy="215.2" r="3.9" fill="#2c2c2c"/>
<circle cx="859.5" cy="243.8" r="3.3" fill="#2c2c2c"/>
<circle cx="278.5" cy="336.4" r="4.0" fill="#2c2c2c"/>
<circle cx="686.5" cy="576.2" r="2.4" fill="#2c2c2c"/>
<circle cx="341.7" cy="516.9" r="4.4" fill="#2c2c2c"/>
<circle cx="551.1" cy="411.1" r="3.0" fill="#2c2c2c"/>
<circle cx="882.5" cy="333.5" r="3.2" fill="#2c2c2c"/>
<circle cx="170.4" cy="70.1" r="4.7" fill="#2c2c2c"/>
<circle cx="747.7" cy="16.2" r="3.0" fill="#2c2c2c"/>
<circle cx="448.0" cy="300.9" r="3.1" fill="#2c2c2c"/>
<circle cx="836.1" cy="212.4" r="3.6" fill="#2c2c2c"/>
<circle cx="868.0" cy="388.0" r="3.4" fill="#2c2c2c"/>
<circle cx="310.7" cy="235.0" r="3.8" fill="#2c2c2c"/>
<circle cx="734.1" cy="158.2" r="3.1" fill="#2c2c2c"/>
<circle cx="362.1" cy="220.3" r="4.7" fill="#2c2c2c"/>
<circle cx="503.4" cy="167.4" r="3.0" fill="#2c2c2c"/>
<circle cx="767.2" cy="97.3" r="4.1" fill="#2c2c2c"/>
<circle cx="20.3" cy="117.2" r="2.2" fill="#2c2c2c"/>
<circle cx="752.4" cy="89.2" r="2.7" fill="#2c2c2c"/>
<circle cx="53.8" cy="160.1" r="4.2" fill="#2c2c2c"/>
<circle cx="672.6" cy="552.6" r="4.8" fill="#2c2c2c"/>
<circle cx="514.5" cy="559.6" r="2.3" fill="#2c2c2c"/>
<circle cx="864.0" cy="263.5" r="2.6" fill="#2c2c2c"/>
<circle cx="698.7" cy="521.2" r="3.2" fill="#2c2c2c"/>
<circle cx="87.0" cy="529.9" r="4.3" fill="#2c2c2c"/>
<circle cx="557.6" cy="592.9" r="2.1" fill="#2c2c2c"/>
<circle cx="52.3" cy="75.4" r="2.1" fill="#2c2c2c"/>
<circle cx="661.5" cy="382.5" r="2.3" fill="#2c2c2c"/>
<circle cx="151.3" cy="109.8" r="3.8" fill="#2c2c2c"/>
<circle cx="628.1" cy="588.5" r="3.1" fill="#2c2c2c"/>
<circle cx="914.4" cy="263.7" r="3.2" fill="#2c2c2c"/>
<circle cx="236.6" cy="141.2" r="4.9" fill="#2c2c2c"/>
<circle cx="929.2" cy="428.5" r="2.5" fill="#2c2c2c"/>
<circle cx="168.0" cy="92.4" r="3.1" fill="#2c2c2c"/>
<circle cx="688.5" cy="35.8" r="3.6" fill="#2c2c2c"/>
<circle cx="635.8" cy="20.4" r="3.3" fill="#2c2c2c"/>
<circle cx="738.7" cy="349.4" r="3.4" fill="#2c2c2c"/>
<circle cx="823.2" cy="364.8" r="3.0" fill="#2c2c2c"/>
<circle cx="369.8" cy="572.6" r="4.6" fill="#2c2c2c"/>
<circle cx="854.5" cy="340.4" r="2.4" fill="#2c2c2c"/>
<circle cx="163.5" cy="232.7" r="4.1" fill="#2c2c2c"/>
<circle cx="4.3" cy="486.9" r="4.4" fill="#2c2c2c"/>
<circle cx="480.9" cy="3.4" r="4.4" fill="#2c2c2c"/>
<circle cx="386.8" cy="406.3" r="3.7" fill="#2c2c2c"/>
<circle cx="680.3" cy="248.1" r="4.9" fill="#2c2c2c"/>
<circle cx="892.4" cy="563.9" r="3.8" fill="#2c2c2c"/>
<circle cx="295.5" cy="228.6" r="2.8" fill="#2c2c2c"/>
<circle cx="844.1" cy="480.9" r="4.4" fill="#2c2c2c"/>
<circle cx="767.0" cy="601.4" r="4.1" fill="#2c2c2c"/>
<circle cx="297.3" cy="459.8" r="2.8" fill="#2c2c2c"/>
<circle cx="570.6" cy="96.2" r="4.6" fill="#2c2c2c"/>
<circle cx="456.5" cy="167.0" r="4.8" fill="#2c2c2c"/>
<circle cx="77.5" cy="564.6" r="4.3" fill="#2c2c2c"/>
<circle cx="139.2" cy="462.0" r="3.7" fill="#2c2c2c"/>
<circle cx="847.3" cy="356.0" r="3.3" fill="#2c2c2c"/>
<circle cx="871.8" cy="53.0" r="4.3" fill="#2c2c2c"/>
<circle cx="96.1" cy="167.9" r="2.3" fill="#2c2c2c"/>
<circle cx="813.8" cy="268.2" r="4.2" fill="#2c2c2c"/>
<circle cx="239.7" cy="443.3" r="3.9" fill="#2c2c2c"/>
<circle cx="91.1" cy="299.8" r="4.2" fill="#2c2c2c"/>
<circle cx="200.3" cy="397.2" r="2.8" fill="#2c2c2c"/>
<circle cx="346.1" cy="558.4" r="4.8" fill="#2c2c2c"/>
<circle cx="932.0" cy="259.0" r="3.7" fill="#2c2c2c"/>
<circle cx="755.1" cy="460.4" r="3.4" fill="#2c2c2c"/>
<circle cx="806.6" cy="243.6" r="4.9" fill="#2c2c2c"/>
<circle cx="441.6" cy="72.0" r="4.2" fill="#2c2c2c"/>
<circle cx="135.3" cy="412.5" r="2.2" fill="#2c2c2c"/>
<circle cx="923.1" cy="328.4" r="4.2" fill="#2c2c2c"/>
<circle cx="122.5" cy="386.6" r="3.1" fill="#2c2c2c"/>
<circle cx="232.7" cy="494.7" r="2.1" fill="#2c2c2c"/>
<circle cx="446.4" cy="52.7" r="4.6" fill="#2c2c2c"/>
<circle cx="834.3" cy="20.9" r="3.4" fill="#2c2c2c"/>
<circle cx="438.1" cy="436.2" r="4.2" fill="#2c2c2c"/>
<circle cx="320.6" cy="566.2" r="2.6" fill="#2c2c2c"/>
<circle cx="127.6" cy="494.5" r="2.4" fill="#2c2c2c"/>
<circle cx="173.7" cy="303.6" r="3.0" fill="#2c2c2c"/>
<circle cx="153.0" cy="564.5" r="3.4" fill="#2c2c2c"/>
<circle cx="734.0" cy="151.9" r="4.7" fill="#2c2c2c"/>
<circle cx="206.6" cy="550.2" r="3.8" fill="#2c2c2c"/>
<circle cx="907.0" cy="468.1" r="3.9" fill="#2c2c2c"/>
<circle cx="497.8" cy="518.9" r="3.3" fill="#2c2c2c"/>
<circle cx="91.8" cy="554.6" r="4.4" fill="#2c2c2c"/>
<circle cx="637.0" cy="452.0" r="2.7" fill="#2c2c2c"/>
<circle cx="432.7" cy="499.5" r="4.9" fill="#2c2c2c"/>
<circle cx="862.3" cy="97.4" r="4.1" fill="#2c2c2c"/>
<circle cx="517.5" cy="245.9" r="2.5" fill="#2c2c2c"/>
<circle cx="128.0" cy="285.5" r="3.5" fill="#2c2c2c"/>
<circle cx="250.2" cy="223.2" r="3.7" fill="#2c2c2c"/>
<circle cx="711.6" cy="357.8" r="2.5" fill="#2c2c2c"/>
<circle cx="827.6" cy="223.2" r="4.9" fill="#2c2c2c"/>
<circle cx="916.9" cy="85.2" r="3.7" fill="#2c2c2c"/>
<circle cx="903.0" cy="233.7" r="3.6" fill="#2c2c2c"/>
<circle cx="293.1" cy="17.4" r="2.6" fill="#2c2c2c"/>
<circle cx="115.8" cy="172.5" r="3.9" fill="#2c2c2c"/>
<circle cx="525.9" cy="575.6" r="4.1" fill="#2c2c2c"/>
<circle cx="338.4" cy="576.3" r="3.9" fill="#2c2c2c"/>
<circle cx="507.4" cy="523.6" r="4.0" fill="#2c2c2c"/>
<circle cx="336.6" cy="367.1" r="2.9" fill="#2c2c2c"/>
<circle cx="905.3" cy="148.2" r="4.9" fill="#2c2c2c"/>
<circle cx="60.1" cy="6.0" r="3.7" fill="#2c2c2c"/>
<circle cx="192.2" cy="308.0" r="2.4" fill="#2c2c2c"/>
<circle cx="781.6" cy="406.1" r="4.1" fill="#2c2c2c"/>
<circle cx="865.5" cy="602.2" r="4.0" fill="#2c2c2c"/>
<circle cx="666.1" cy="1.1" r="2.1" fill="#2c2c2c"/>
<circle cx="398.4" cy="588.2" r="2.9" fill="#2c2c2c"/>
<circle cx="531.0" cy="5.4" r="3.2" fill="#2c2c2c"/>
<circle cx="843.0" cy="357.8" r="4.5" fill="#2c2c2c"/>
<circle cx="12.2" cy="123.1" r="2.5" fill="#2c2c2c"/>
<circle cx="777.4" cy="61.7" r="4.8" fill="#2c2c2c"/>
<circle cx="249.8" cy="534.5" r="3.5" fill="#2c2c2c"/>
<circle cx="302.1" cy="586.6" r="3.2" fill="#2c2c2c"/>
<circle cx="651.4" cy="40.8" r="4.5" fill="#2c2c2c"/>
<circle cx="916.5" cy="67.1" r="4.2" fill="#2c2c2c"/>
<circle cx="252.6" cy="89.8" r="3.1" fill="#2c2c2c"/>
<circle cx="618.1" cy="578.8" r="5.0" fill="#2c2c2c"/>
<circle cx="928.0" cy="378.3" r="4.0" fill="#2c2c2c"/>
<circle cx="150.5" cy="440.7" r="3.7" fill="#2c2c2c"/>
<circle cx="335.3" cy="546.4" r="2.8" fill="#2c2c2c"/>
<circle cx="132.3" cy="96.0" r="2.4" fill="#2c2c2c"/>
<circle cx="549.7" cy="486.1" r="2.5" fill="#2c2c2c"/>
<circle cx="469.6" cy="348.7" r="3.7" fill="#2c2c2c"/>
<circle cx="385.5" cy="330.0" r="2.0" fill="#2c2c2c"/>
<circle cx="54.3" cy="256.6" r="2.7" fill="#2c2c2c"/>
<circle cx="706.9" cy="146.8" r="4.5" fill="#2c2c2c"/>
<circle cx="225.5" cy="56.2" r="3.4" fill="#2c2c2c"/>
<circle cx="361.9" cy="203.7" r="4.3" fill="#2c2c2c"/>
<circle cx="207.6" cy="406.7" r="4.5" fill="#2c2c2c"/>
<circle cx="422.8" cy="305.4" r="4.8" fill="#2c2c2c"/>
<circle cx="564.2" cy="109.8" r="2.2" fill="#2c2c2c"/>
<circle cx="76.7" cy="201.3" r="2.3" fill="#2c2c2c"/>
<circle cx="606.0" cy="257.1" r="2.9" fill="#2c2c2c"/>
<circle cx="478.4" cy="568.5" r="2.7" fill="#2c2c2c"/>
<circle cx="144.5" cy="185.3" r="3.0" fill="#2c2c2c"/>
<circle cx="849.9" cy="428.7" r="3.3" fill="#2c2c2c"/>
<circle cx="155.0" cy="27.6" r="2.4" fill="#2c2c2c"/>
<circle cx="791.6" cy="393.4" r="2.5" fill="#2c2c2c"/>
<circle cx="583.9" cy="35.4" r="3.5" fill="#2c2c2c"/>
<circle cx="313.2" cy="62.2" r="4.2" fill="#2c2c2c"/>
<circle cx="669.5" cy="310.0" r="2.5" fill="#2c2c2c"/>
<circle cx="625.4" cy="263.0" r="4.0" fill="#2c2c2c"/>
<circle cx="85.4" cy="547.9" r="2.0" fill="#2c2c2c"/>
<circle cx="208.0" cy="241.8" r="2.6" fill="#2c2c2c"/>
<circle cx="82.0" cy="417.3" r="5.0" fill="#2c2c2c"/>
<circle cx="312.9" cy="161.6" r="4.0" fill="#2c2c2c"/>
<circle cx="207.9" cy="243.3" r="4.1" fill="#2c2c2c"/>
<circle cx="402.3" cy="94.5" r="2.2" fill="#2c2c2c"/>
<circle cx="507.2" cy="601.3" r="4.8" fill="#2c2c2c"/>
<circle cx="93.3" cy="304.9" r="3.5" fill="#2c2c2c"/>
<circle cx="181.2" cy="406.6" r="3.5" fill="#2c2c2c"/>
<circle cx="755.4" cy="177.2" r="4.8" fill="#2c2c2c"/>
<circle cx="760.8" cy="287.4" r="2.4" fill="#2c2c2c"/>
<circle cx="451.8" cy="77.1" r="4.1" fill="#2c2c2c"/>
<circle cx="651.4" cy="350.9" r="4.9" fill="#2c2c2c"/>
<circle cx="42.2" cy="434.2" r="4.4" fill="#2c2c2c"/>
<circle cx="105.4" cy="195.5" r="2.2" fill="#2c2c2c"/>
<circle cx="544.5" cy="438.9" r="3.0" fill="#2c2c2c"/>
<circle cx="649.6" cy="222.6" r="4.1" fill="#2c2c2c"/>
<circle cx="258.6" cy="593.7" r="3.3" fill="#2c2c2c"/>
<circle cx="3.4" cy="55.5" r="4.2" fill="#2c2c2c"/>
<circle cx="807.6" cy="386.5" r="2.5" fill="#2c2c2c"/>
<circle cx="814.5" cy="435.1" r="2.3" fill="#2c2c2c"/>
<circle cx="355.5" cy="407.6" r="2.0" fill="#2c2c2c"/>
<circle cx="39.5" cy="214.7" r="4.6" fill="#2c2c2c"/>
<circle cx="930.6" cy="193.2" r="4.7" fill="#2c2c2c"/>
<circle cx="734.2" cy="525.1" r="3.8" fill="#2c2c2c"/>
<circle cx="905.4" cy="391.0" r="4.8" fill="#2c2c2c"/>
<circle cx="528.5" cy="119.3" r="3.6" fill="#2c2c2c"/>
<circle cx="451.1" cy="204.8" r="3.1" fill="#2c2c2c"/>
<circle cx="476.8" cy="356.9" r="2.7" fill="#2c2c2c"/>
<circle cx="259.1" cy="305.3" r="3.5" fill="#2c2c2c"/>
<circle cx="391.1" cy="403.1" r="2.6" fill="#2c2c2c"/>
<circle cx="496.7" cy="167.4" r="4.3" fill="#2c2c2c"/>
<circle cx="657.2" cy="474.1" r="3.6" fill="#2c2c2c"/>
<circle cx="232.5" cy="561.8" r="3.5" fill="#2c2c2c"/>
<circle cx="350.4" cy="176.3" r="3.2" fill="#2c2c2c"/>
<circle cx="661.9" cy="496.9" r="3.4" fill="#2c2c2c"/>
<circle cx="682.9" cy="129.2" r="3.4" fill="#2c2c2c"/>
<circle cx="334.3" cy="186.0" r="3.1" fill="#2c2c2c"/>
<circle cx="704.9" cy="445.2" r="2.6" fill="#2c2c2c"/>
<circle cx="218.4" cy="476.1" r="4.0" fill="#2c2c2c"/>
<circle cx="631.5" cy="385.6" r="4.1" fill="#2c2c2c"/>
<circle cx="254.8" cy="36.9" r="3.1" fill="#2c2c2c"/>
<circle cx="30.2" cy="583.9" r="3.6" fill="#2c2c2c"/>
<circle cx="626.0" cy="586.7" r="4.4" fill="#2c2c2c"/>
<circle cx="214.2" cy="204.5" r="2.3" fill="#2c2c2c"/>
<circle cx="743.1" cy="447.4" r="3.5" fill="#2c2c2c"/>
<circle cx="344.9" cy="163.8" r="3.5" fill="#2c2c2c"/>
<circle cx="665.1" cy="543.5" r="4.5" fill="#2c2c2c"/>
<circle cx="810.4" cy="266.6" r="3.3" fill="#2c2c2c"/>
<circle cx="293.3" cy="591.3" r="2.6" fill="#2c2c2c"/>
<circle cx="147.4" cy="170.5" r="4.8" fill="#2c2c2c"/>
<circle cx="796.5" cy="201.2" r="4.6" fill="#2c2c2c"/>
<circle cx="831.9" cy="259.3" r="2.6" fill="#2c2c2c"/>
<circle cx="721.7" cy="227.4" r="2.4" fill="#2c2c2c"/>
<circle cx="843.2" cy="266.8" r="3.2" fill="#2c2c2c"/>
<circle cx="556.0" cy="155.0" r="2.1" fill="#2c2c2c"/>
<circle cx="364.3" cy="230.2" r="2.0" fill="#2c2c2c"/>
<circle cx="347.2" cy="462.1" r="3.0" fill="#2c2c2c"/>
<circle cx="634.7" cy="379.1" r="2.6" fill="#2c2c2c"/>
<circle cx="19.0" cy="409.3" r="3.8" fill="#2c2c2c"/>
<circle cx="274.4" cy="121.5" r="4.6" fill="#2c2c2c"/>
<circle cx="849.3" cy="141.6" r="3.8" fill="#2c2c2c"/>
<circle cx="536.7" cy="195.5" r="2.1" fill="#2c2c2c"/>
<circle cx="303.9" cy="391.1" r="3.8" fill="#2c2c2c"/>
<circle cx="476.4" cy="74.3" r="2.6" fill="#2c2c2c"/>
<circle cx="290.8" cy="252.8" r="3.1" fill="#2c2c2c"/>
<circle cx="842.8" cy="70.4" r="5.0" fill="#2c2c2c"/>
<circle cx="224.5" cy="519.9" r="2.7" fill="#2c2c2c"/>
<circle cx="548.5" cy="229.0" r="2.1" fill="#2c2c2c"/>
<circle cx="743.8" cy="491.9" r="2.8" fill="#2c2c2c"/>
<circle cx="724.9" cy="290.8" r="5.0" fill="#2c2c2c"/>
<circle cx="50.8" cy="230.9" r="2.7" fill="#2c2c2c"/>
<circle cx="583.7" cy="472.2" r="4.5" fill="#2c2c2c"/>
<circle cx="512.2" cy="235.1" r="4.4" fill="#2c2c2c"/>
<circle cx="97.7" cy="157.8" r="4.3" fill="#2c2c2c"/>
<circle cx="411.4" cy="602.7" r="2.3" fill="#2c2c2c"/>
<circle cx="431.4" cy="129.0" r="2.0" fill="#2c2c2c"/>
<circle cx="87.3" cy="55.2" r="3.1" fill="#2c2c2c"/>
<circle cx="404.0" cy="308.2" r="2.9" fill="#2c2c2c"/>
<circle cx="655.6" cy="313.3" r="4.9" fill="#2c2c2c"/>
<circle cx="158.1" cy="309.9" r="3.5" fill="#2c2c2c"/>
<circle cx="347.3" cy="522.7" r="2.6" fill="#2c2c2c"/>
<circle cx="819.7" cy="217.2" r="3.0" fill="#2c2c2c"/>
<circle cx="574.2" cy="342.0" r="2.9" fill="#2c2c2c"/>
<circle cx="78.9" cy="579.8" r="3.1" fill="#2c2c2c"/>
<circle cx="106.8" cy="398.5" r="3.6" fill="#2c2c2c"/>
<circle cx="305.9" cy="199.4" r="4.5" fill="#2c2c2c"/>
<circle cx="316.3" cy="253.4" r="4.9" fill="#2c2c2c"/>
<circle cx="337.0" cy="244.0" r="2.5" fill="#2c2c2c"/>
<circle cx="618.8" cy="403.5" r="3.3" fill="#2c2c2c"/>
<circle cx="379.1" cy="141.3" r="4.4" fill="#2c2c2c"/>
<circle cx="427.1" cy="505.0" r="3.1" fill="#2c2c2c"/>
<circle cx="685.1" cy="17.5" r="2.7" fill="#2c2c2c"/>
<circle cx="897.2" cy="414.2" r="4.0" fill="#2c2c2c"/>
<circle cx="464.2" cy="286.7" r="2.6" fill="#2c2c2c"/>
<circle cx="161.6" cy="391.7" r="4.1" fill="#2c2c2c"/>
<circle cx="241.6" cy="391.3" r="2.4" fill="#2c2c2c"/>
<circle cx="572.6" cy="104.2" r="3.5" fill="#2c2c2c"/>
<circle cx="293.3" cy="334.2" r="2.4" fill="#2c2c2c"/>
<circle cx="451.5" cy="374.3" r="2.4" fill="#2c2c2c"/>
<circle cx="288.3" cy="411.9" r="3.6" fill="#2c2c2c"/>
<circle cx="576.0" cy="473.4" r="3.7" fill="#2c2c2c"/>
<circle cx="207.5" cy="268.6" r="4.5" fill="#2c2c2c"/>
<circle cx="529.3" cy="457.1" r="3.1" fill="#2c2c2c"/>
<circle cx="418.9" cy="588.7" r="4.5" fill="#2c2c2c"/>
<circle cx="609.7" cy="64.6" r="3.8" fill="#2c2c2c"/>
<circle cx="31.0" cy="566.9" r="4.9" fill="#2c2c2c"/>
<circle cx="680.0" cy="162.4" r="4.5" fill="#2c2c2c"/>
<circle cx="165.5" cy="502.5" r="3.6" fill="#2c2c2c"/>
<circle cx="14.7" cy="540.4" r="3.3" fill="#2c2c2c"/>
<circle cx="775.4" cy="417.9" r="3.6" fill="#2c2c2c"/>
<circle cx="805.5" cy="123.2" r="4.7" fill="#2c2c2c"/>
<circle cx="316.5" cy="15.8" r="3.0" fill="#2c2c2c"/>
<circle cx="61.7" cy="43.8" r="3.9" fill="#2c2c2c"/>
<circle cx="112.8" cy="96.9" r="2.9" fill="#2c2c2c"/>
<circle cx="260.3" cy="558.5" r="4.7" fill="#2c2c2c"/>
<circle cx="812.6" cy="600.8" r="3.3" fill="#2c2c2c"/>
<circle cx="743.3" cy="170.5" r="4.8" fill="#2c2c2c"/>
<circle cx="757.2" cy="444.4" r="2.7" fill="#2c2c2c"/>
<circle cx="85.4" cy="561.5" r="3.7" fill="#2c2c2c"/>
<circle cx="571.9" cy="523.2" r="2.4" fill="#2c2c2c"/>
<circle cx="653.2" cy="281.6" r="4.4" fill="#2c2c2c"/>
<circle cx="425.8" cy="119.4" r="4.9" fill="#2c2c2c"/>
<circle cx="262.6" cy="452.1" r="4.5" fill="#2c2c2c"/>
<circle cx="231.4" cy="421.9" r="3.2" fill="#2c2c2c"/>
<circle cx="209.3" cy="131.9" r="4.9" fill="#2c2c2c"/>
<circle cx="343.9" cy="309.5" r="3.5" fill="#2c2c2c"/>
<circle cx="24.8" cy="457.4" r="4.2" fill="#2c2c2c"/>
<circle cx="818.1" cy="216.7" r="2.6" fill="#2c2c2c"/>
<circle cx="324.5" cy="444.4" r="4.0" fill="#2c2c2c"/>
<circle cx="379.3" cy="318.5" r="2.5" fill="#2c2c2c"/>
<circle cx="857.9" cy="286.4" r="3.5" fill="#2c2c2c"/>
<circle cx="735.0" cy="120.1" r="4.2" fill="#2c2c2c"/>
<circle cx="330.0" cy="493.2" r="2.3" fill="#2c2c2c"/>
<circle cx="257.8" cy="385.8" r="3.4" fill="#2c2c2c"/>
<circle cx="352.0" cy="351.2" r="2.7" fill="#2c2c2c"/>
<circle cx="408.5" cy="1.2" r="4.4" fill="#2c2c2c"/>
<circle cx="237.2" cy="504.2" r="3.7" fill="#2c2c2c"/>
<circle cx="561.8" cy="380.0" r="2.4" fill="#2c2c2c"/>
<circle cx="725.9" cy="177.3" r="4.6" fill="#2c2c2c"/>
<circle cx="734.5" cy="411.6" r="4.4" fill="#2c2c2c"/>
<circle cx="407.9" cy="408.7" r="4.9" fill="#2c2c2c"/>
<circle cx="176.6" cy="61.1" r="3.2" fill="#2c2c2c"/>
<circle cx="475.9" cy="90.5" r="2.7" fill="#2c2c2c"/>
<circle cx="809.4" cy="235.5" r="2.4" fill="#2c2c2c"/>
<circle cx="170.9" cy="350.5" r="2.6" fill="#2c2c2c"/>
<circle cx="443.7" cy="326.4" r="3.3" fill="#2c2c2c"/>
<circle cx="470.5" cy="507.9" r="2.1" fill="#2c2c2c"/>
<circle cx="868.6" cy="120.9" r="2.1" fill="#2c2c2c"/>
<circle cx="716.9" cy="346.0" r="3.6" fill="#2c2c2c"/>
<circle cx="203.3" cy="474.1" r="2.9" fill="#2c2c2c"/>
<circle cx="679.0" cy="138.6" r="3.7" fill="#2c2c2c"/>
<circle cx="605.4" cy="225.6" r="3.4" fill="#2c2c2c"/>
<circle cx="60.9" cy="390.5" r="4.1" fill="#2c2c2c"/>
<circle cx="143.3" cy="334.3" r="4.2" fill="#2c2c2c"/>
<circle cx="94.4" cy="509.2" r="4.6" fill="#2c2c2c"/>
<circle cx="47.2" cy="150.8" r="2.3" fill="#2c2c2c"/>
<circle cx="236.0" cy="52.4" r="3.5" fill="#2c2c2c"/>
<circle cx="233.8" cy="182.2" r="3.4" fill="#2c2c2c"/>
<circle cx="347.0" cy="478.6" r="4.2" fill="#2c2c2c"/>
<circle cx="106.6" cy="135.6" r="2.0" fill="#2c2c2c"/>
<circle cx="307.6" cy="65.6" r="4.1" fill="#2c2c2c"/>
<circle cx="728.8" cy="604.4" r="2.6" fill="#2c2c2c"/>
<circle cx="34.2" cy="459.4" r="3.2" fill="#2c2c2c"/>
<circle cx="869.6" cy="238.2" r="2.9" fill="#2c2c2c"/>
<circle cx="67.9" cy="575.4" r="3.5" fill="#2c2c2c"/>
<circle cx="411.6" cy="265.3" r="4.3" fill="#2c2c2c"/>
<circle cx="776.0" cy="288.9" r="2.5" fill="#2c2c2c"/>
<circle cx="379.5" cy="541.0" r="3.2" fill="#2c2c2c"/>
<circle cx="617.3" cy="339.7" r="3.4" fill="#2c2c2c"/>
<circle cx="536.9" cy="148.8" r="3.7" fill="#2c2c2c"/>
<circle cx="807.7" cy="48.5" r="3.1" fill="#2c2c2c"/>
<circle cx="822.5" cy="593.8" r="2.0" fill="#2c2c2c"/>
<circle cx="585.7" cy="383.6" r="4.5" fill="#2c2c2c"/>
<circle cx="439.0" cy="79.5" r="2.9" fill="#2c2c2c"/>
<circle cx="665.7" cy="442.1" r="2.6" fill="#2c2c2c"/>
<circle cx="600.2" cy="398.6" r="4.0" fill="#2c2c2c"/>
<circle cx="20.5" cy="268.1" r="3.0" fill="#2c2c2c"/>
<circle cx="557.8" cy="204.4" r="2.4" fill="#2c2c2c"/>
<circle cx="626.1" cy="174.2" r="4.4" fill="#2c2c2c"/>
<circle cx="285.5" cy="331.3" r="4.4" fill="#2c2c2c"/>
<circle cx="107.9" cy="443.8" r="2.2" fill="#2c2c2c"/>
<circle cx="874.5" cy="15.3" r="4.2" fill="#2c2c2c"/>
<circle cx="344.4" cy="109.1" r="3.2" fill="#2c2c2c"/>
<circle cx="468.2" cy="251.9" r="2.4" fill="#2c2c2c"/>
<circle cx="488.3" cy="182.2" r="4.9" fill="#2c2c2c"/>
<circle cx="357.8" cy="264.2" r="2.7" fill="#2c2c2c"/>
<circle cx="904.9" cy="195.3" r="3.9" fill="#2c2c2c"/>
<circle cx="777.6" cy="238.7" r="4.3" fill="#2c2c2c"/>
<circle cx="260.4" cy="66.5" r="2.1" fill="#2c2c2c"/>
<path d="M628,40 L618,65 L635,85 L622,110 L632,112" stroke="#f2f2f2" stroke-width="9" fill="none"/>
<circle cx="90" cy="385" r="9" fill="#ccc"/><circle cx="895" cy="180" r="10" fill="#aaa"/><path d="M470,607 L485,570 L492,607 Z" fill="#eee"/>
<text x="443" y="446" font-size="28" font-weight="bold" fill="#fff">PB</text>
<text x="570" y="508" font-size="28" font-weight="bold" fill="#eee">LD</text>
<text x="45" y="540" font-size="64" font-weight="bold" fill="#fff">5μm</text>
<line x1="70" y1="582" x2="165" y2="582" stroke="#fff" stroke-width="10"/>
</g></g></g>
<g clip-path="url(#cl_b_t)"><g filter="url(#soft)">
<g transform="translate(493,544) scale(0.21627,0.21746)">
<filter id="nz5" x="0" y="0" width="934" height="607" filterUnits="userSpaceOnUse" primitiveUnits="userSpaceOnUse" color-interpolation-filters="sRGB"><feTurbulence type="fractalNoise" baseFrequency="0.06" numOctaves="3" seed="15"/><feColorMatrix type="matrix" values="0.45 0 0 0 0.214  0.45 0 0 0 0.214  0.45 0 0 0 0.214  0 0 0 0 1"/></filter>
<rect x="0" y="0" width="934" height="607" filter="url(#nz5)" opacity="1.0"/>
<rect x="0" y="0" width="470" height="607" fill="#3a3a3a" opacity="0.35" filter="url(#blur2)"/>
<polyline points="480,80 470,150 460,200 440,240 400,280 340,330 300,370 290,440 300,520 310,607" fill="none" stroke="#404040" stroke-width="8" stroke-linejoin="round" stroke-linecap="round" opacity="0.85"/>
<polyline points="460,200 500,250 540,280 560,310" fill="none" stroke="#404040" stroke-width="8" stroke-linejoin="round" stroke-linecap="round" opacity="0.85"/>
<polyline points="640,60 650,130 640,200 620,250 580,290 560,310" fill="none" stroke="#404040" stroke-width="8" stroke-linejoin="round" stroke-linecap="round" opacity="0.85"/>
<polyline points="480,80 560,40 640,60 700,50 780,30" fill="none" stroke="#404040" stroke-width="8" stroke-linejoin="round" stroke-linecap="round" opacity="0.85"/>
<polyline points="780,30 800,100 810,200 830,280 800,330 780,400 770,500 760,607" fill="none" stroke="#404040" stroke-width="8" stroke-linejoin="round" stroke-linecap="round" opacity="0.85"/>
<polyline points="830,280 880,300 934,310" fill="none" stroke="#404040" stroke-width="8" stroke-linejoin="round" stroke-linecap="round" opacity="0.85"/>
<polyline points="560,310 550,380 560,460 600,520 610,607" fill="none" stroke="#404040" stroke-width="8" stroke-linejoin="round" stroke-linecap="round" opacity="0.85"/>
<polyline points="0,160 60,130 130,110 200,100 250,90 260,0" fill="none" stroke="#404040" stroke-width="8" stroke-linejoin="round" stroke-linecap="round" opacity="0.85"/>
<polyline points="250,90 240,170 250,250 270,330 290,370" fill="none" stroke="#404040" stroke-width="8" stroke-linejoin="round" stroke-linecap="round" opacity="0.85"/>
<polyline points="0,350 60,360 120,350 200,340 270,330" fill="none" stroke="#404040" stroke-width="8" stroke-linejoin="round" stroke-linecap="round" opacity="0.85"/>
<polyline points="100,350 80,430 90,500 60,607" fill="none" stroke="#404040" stroke-width="8" stroke-linejoin="round" stroke-linecap="round" opacity="0.85"/>
<polyline points="640,200 700,220 760,240 810,250" fill="none" stroke="#404040" stroke-width="8" stroke-linejoin="round" stroke-linecap="round" opacity="0.85"/>
<polyline points="560,460 640,400 700,390 780,400" fill="none" stroke="#404040" stroke-width="8" stroke-linejoin="round" stroke-linecap="round" opacity="0.85"/>
<polyline points="300,520 380,480 460,470 560,460" fill="none" stroke="#404040" stroke-width="8" stroke-linejoin="round" stroke-linecap="round" opacity="0.85"/>
<polyline points="780,400 860,360 934,350" fill="none" stroke="#404040" stroke-width="8" stroke-linejoin="round" stroke-linecap="round" opacity="0.85"/>
<polyline points="770,500 850,520 934,500" fill="none" stroke="#404040" stroke-width="8" stroke-linejoin="round" stroke-linecap="round" opacity="0.85"/>
<polyline points="830,280 860,200 934,180" fill="none" stroke="#404040" stroke-width="8" stroke-linejoin="round" stroke-linecap="round" opacity="0.85"/>
<polyline points="800,100 880,60 934,50" fill="none" stroke="#404040" stroke-width="8" stroke-linejoin="round" stroke-linecap="round" opacity="0.85"/>
<polyline points="180,607 200,500 240,460 290,440" fill="none" stroke="#404040" stroke-width="8" stroke-linejoin="round" stroke-linecap="round" opacity="0.85"/>
<polyline points="0,480 60,470 90,500" fill="none" stroke="#404040" stroke-width="8" stroke-linejoin="round" stroke-linecap="round" opacity="0.85"/>
<path d="M188.3,141.9 Q189.1,147.9 188.1,153.8 Q187.1,159.7 184.7,165.4 Q182.3,171.1 177.4,175.8 Q172.5,180.5 165.9,183.3 Q159.3,186.0 152.0,186.1 Q144.7,186.1 138.5,183.2 Q132.2,180.3 127.3,176.5 Q122.3,172.7 117.8,168.3 Q113.3,163.9 111.9,158.0 Q110.5,152.1 112.9,146.5 Q115.2,140.9 117.3,135.4 Q119.3,129.9 122.3,123.3 Q125.4,116.7 132.6,113.7 Q139.9,110.8 147.4,113.5 Q154.9,116.3 160.5,119.3 Q166.2,122.4 172.2,124.6 Q178.3,126.8 182.9,131.3 Q187.5,135.8 188.3,141.9Z" fill="#4e4e4e" />
<path d="M126.0,230.1 Q122.6,236.1 116.3,239.1 Q110.0,242.1 105.1,245.7 Q100.2,249.2 93.6,251.6 Q87.1,254.0 79.5,251.5 Q71.8,248.9 65.7,244.6 Q59.5,240.3 52.4,236.5 Q45.4,232.7 39.5,226.6 Q33.6,220.6 34.5,213.7 Q35.5,206.8 40.5,202.4 Q45.5,198.0 48.7,193.7 Q51.8,189.5 54.9,183.6 Q58.0,177.7 65.0,174.5 Q72.1,171.2 80.6,174.3 Q89.1,177.4 94.4,184.0 Q99.8,190.6 103.8,195.7 Q107.9,200.7 114.3,205.4 Q120.8,210.1 125.1,217.1 Q129.4,224.2 126.0,230.1Z" fill="#4e4e4e" />
<path d="M136.2,307.9 Q140.5,314.1 140.4,321.7 Q140.3,329.3 134.3,334.6 Q128.2,339.8 120.8,342.2 Q113.3,344.7 106.1,346.0 Q99.0,347.3 91.5,347.4 Q84.0,347.5 75.8,346.1 Q67.7,344.7 60.1,340.4 Q52.6,336.0 50.5,328.3 Q48.4,320.6 52.3,313.5 Q56.2,306.5 59.5,301.4 Q62.9,296.3 64.3,290.0 Q65.7,283.7 69.9,277.1 Q74.2,270.5 82.1,267.1 Q90.1,263.7 99.0,264.7 Q108.0,265.8 114.5,271.4 Q121.0,276.9 123.6,283.9 Q126.3,290.8 129.0,296.2 Q131.8,301.7 136.2,307.9Z" fill="#4e4e4e" />
<path d="M220.1,252.2 Q224.4,255.8 224.8,261.3 Q225.2,266.9 222.8,272.0 Q220.4,277.2 217.9,282.1 Q215.5,286.9 211.3,291.2 Q207.2,295.4 201.4,297.3 Q195.6,299.2 189.7,299.8 Q183.8,300.4 177.8,299.9 Q171.8,299.3 167.2,296.0 Q162.7,292.7 160.5,287.9 Q158.3,283.1 157.1,278.0 Q156.0,273.0 156.9,267.7 Q157.9,262.4 161.6,258.0 Q165.2,253.5 169.3,249.5 Q173.5,245.5 178.7,242.0 Q184.0,238.4 190.3,238.2 Q196.5,238.1 201.5,240.8 Q206.4,243.6 211.1,246.1 Q215.8,248.6 220.1,252.2Z" fill="#4e4e4e" />
<path d="M343.8,122.8 Q349.7,129.1 351.6,137.9 Q353.4,146.7 353.0,155.3 Q352.6,163.9 352.4,174.1 Q352.2,184.2 348.1,194.2 Q344.1,204.1 334.7,206.2 Q325.3,208.2 316.1,202.1 Q306.9,195.9 300.7,189.2 Q294.5,182.5 288.6,177.8 Q282.7,173.1 277.0,166.8 Q271.3,160.4 268.7,151.9 Q266.0,143.3 265.9,134.4 Q265.9,125.4 266.8,115.5 Q267.7,105.7 272.1,96.3 Q276.5,86.9 285.7,84.5 Q294.8,82.2 304.0,88.2 Q313.1,94.2 319.3,101.0 Q325.4,107.8 331.6,112.1 Q337.8,116.4 343.8,122.8Z" fill="#4e4e4e" />
<path d="M345.4,285.4 Q342.4,291.3 339.1,296.8 Q335.7,302.2 330.4,306.1 Q325.1,309.9 318.7,313.0 Q312.4,316.2 304.8,316.9 Q297.2,317.7 291.1,313.1 Q285.0,308.6 281.9,302.1 Q278.7,295.6 276.4,289.5 Q274.0,283.5 273.1,277.0 Q272.2,270.6 273.2,263.8 Q274.3,257.1 276.6,249.5 Q278.9,242.0 285.2,237.2 Q291.6,232.3 299.7,235.3 Q307.9,238.4 313.1,242.8 Q318.3,247.2 325.2,246.3 Q332.1,245.4 341.2,246.9 Q350.4,248.4 353.0,256.3 Q355.5,264.2 351.9,271.9 Q348.3,279.5 345.4,285.4Z" fill="#4e4e4e" />
<path d="M235.9,396.9 Q240.0,405.8 235.1,415.1 Q230.3,424.4 224.8,430.9 Q219.3,437.5 216.1,444.8 Q212.9,452.1 206.5,458.2 Q200.1,464.4 191.0,467.0 Q182.0,469.6 171.7,471.6 Q161.4,473.6 150.4,471.7 Q139.3,469.7 134.1,460.6 Q129.0,451.4 130.2,441.5 Q131.3,431.5 132.1,423.7 Q132.8,415.9 134.3,408.1 Q135.8,400.3 140.6,393.3 Q145.5,386.4 152.4,380.3 Q159.3,374.2 168.6,370.4 Q177.8,366.6 187.5,368.4 Q197.3,370.1 205.7,374.2 Q214.1,378.4 223.0,383.2 Q231.8,388.1 235.9,396.9Z" fill="#4e4e4e" />
<path d="M52.0,398.8 Q57.5,407.2 59.3,416.7 Q61.0,426.1 60.8,433.5 Q60.5,440.9 63.2,451.1 Q65.9,461.3 66.8,473.4 Q67.7,485.6 61.3,487.4 Q55.0,489.2 46.4,480.3 Q37.9,471.4 32.1,463.4 Q26.3,455.4 21.0,450.6 Q15.7,445.8 9.7,439.0 Q3.7,432.2 -0.9,422.6 Q-5.6,413.0 -7.3,403.1 Q-9.0,393.3 -7.9,385.5 Q-6.7,377.7 -3.8,372.0 Q-0.9,366.3 3.8,363.4 Q8.6,360.6 15.1,363.2 Q21.6,365.8 28.0,371.9 Q34.4,377.9 40.4,384.2 Q46.5,390.4 52.0,398.8Z" fill="#4e4e4e" />
<path d="M425.1,399.7 Q430.6,405.8 433.1,414.5 Q435.5,423.3 429.6,430.1 Q423.8,436.9 416.3,440.3 Q408.9,443.8 403.3,450.3 Q397.8,456.9 389.1,461.7 Q380.3,466.6 372.1,461.2 Q363.9,455.7 361.3,446.2 Q358.6,436.6 357.6,430.0 Q356.5,423.5 354.5,418.2 Q352.4,413.0 349.0,406.3 Q345.5,399.6 342.3,388.9 Q339.1,378.2 343.6,368.0 Q348.1,357.8 359.3,357.5 Q370.6,357.3 379.5,363.5 Q388.3,369.7 394.1,373.6 Q399.9,377.6 405.2,380.9 Q410.5,384.2 415.1,389.0 Q419.6,393.7 425.1,399.7Z" fill="#4e4e4e" />
<path d="M491.4,348.5 Q490.2,355.9 488.7,363.0 Q487.2,370.0 483.4,377.0 Q479.6,383.9 470.8,386.7 Q462.0,389.5 452.7,387.1 Q443.5,384.8 436.6,382.3 Q429.6,379.9 421.7,379.2 Q413.8,378.6 404.6,375.7 Q395.4,372.9 390.6,366.0 Q385.7,359.1 387.1,351.5 Q388.5,343.9 391.6,337.4 Q394.7,330.8 398.4,324.2 Q402.1,317.5 409.8,313.6 Q417.6,309.7 427.0,311.6 Q436.4,313.6 443.4,316.8 Q450.4,320.1 458.3,320.8 Q466.1,321.5 475.4,324.3 Q484.6,327.1 488.6,334.1 Q492.7,341.2 491.4,348.5Z" fill="#4e4e4e" />
<path d="M607.7,178.4 Q612.2,186.6 612.7,195.9 Q613.2,205.2 609.0,213.3 Q604.8,221.4 597.6,226.2 Q590.4,231.0 584.3,235.6 Q578.3,240.1 571.2,246.4 Q564.1,252.7 554.3,254.2 Q544.5,255.7 536.5,249.9 Q528.5,244.1 524.2,235.8 Q519.8,227.6 518.0,219.4 Q516.3,211.3 516.5,203.5 Q516.7,195.8 516.7,187.5 Q516.6,179.3 518.4,169.3 Q520.1,159.4 528.1,153.5 Q536.1,147.5 546.2,149.7 Q556.3,151.8 563.9,155.3 Q571.5,158.7 579.5,160.2 Q587.4,161.6 595.3,166.0 Q603.3,170.3 607.7,178.4Z" fill="#4e4e4e" />
<path d="M566.8,120.6 Q569.0,124.6 568.9,129.3 Q568.8,134.0 564.3,136.5 Q559.8,139.0 555.0,140.2 Q550.3,141.3 545.8,143.5 Q541.3,145.7 535.7,145.8 Q530.1,146.0 525.6,142.9 Q521.1,139.8 517.7,136.2 Q514.2,132.6 511.6,128.4 Q508.9,124.3 510.2,119.9 Q511.5,115.5 515.0,112.5 Q518.5,109.6 520.5,106.3 Q522.4,103.1 525.2,99.1 Q528.0,95.1 533.2,93.2 Q538.5,91.4 544.4,92.4 Q550.2,93.3 554.9,96.4 Q559.5,99.6 561.4,104.1 Q563.2,108.7 563.9,112.6 Q564.7,116.6 566.8,120.6Z" fill="#4e4e4e" />
<path d="M772.0,123.9 Q764.6,131.5 755.7,134.2 Q746.7,136.9 744.4,142.2 Q742.1,147.5 738.0,154.4 Q733.9,161.2 725.7,162.4 Q717.6,163.6 709.3,161.4 Q701.1,159.3 693.3,155.5 Q685.5,151.7 682.2,144.3 Q678.9,136.9 680.9,129.6 Q683.0,122.3 683.7,116.6 Q684.4,110.8 683.6,103.6 Q682.8,96.4 686.0,89.0 Q689.1,81.6 696.8,77.9 Q704.6,74.2 713.4,76.7 Q722.3,79.3 727.9,85.6 Q733.5,91.9 739.0,94.7 Q744.4,97.6 755.3,99.3 Q766.3,101.0 772.8,108.7 Q779.3,116.4 772.0,123.9Z" fill="#4e4e4e" />
<path d="M688.4,315.1 Q685.3,320.0 682.7,325.2 Q680.0,330.4 674.5,333.7 Q669.1,336.9 661.7,336.0 Q654.3,335.0 647.4,333.3 Q640.5,331.6 633.5,328.7 Q626.6,325.7 622.1,320.0 Q617.6,314.3 613.5,308.4 Q609.4,302.5 602.5,294.6 Q595.6,286.7 596.2,278.2 Q596.8,269.8 608.9,270.2 Q620.9,270.6 630.3,275.4 Q639.7,280.1 643.3,277.3 Q646.8,274.4 653.8,269.3 Q660.8,264.2 669.8,266.2 Q678.9,268.3 684.8,275.1 Q690.8,282.0 693.1,289.6 Q695.4,297.2 693.5,303.7 Q691.6,310.2 688.4,315.1Z" fill="#4e4e4e" />
<path d="M722.9,337.6 Q723.8,344.1 717.5,350.1 Q711.2,356.0 709.7,360.4 Q708.2,364.8 710.5,373.4 Q712.7,381.9 707.4,390.5 Q702.1,399.0 691.5,399.7 Q680.9,400.4 673.2,395.2 Q665.4,389.9 661.8,384.2 Q658.1,378.5 655.2,374.7 Q652.3,370.8 647.1,367.6 Q641.9,364.5 637.7,359.0 Q633.6,353.5 635.6,346.9 Q637.6,340.2 643.2,334.8 Q648.8,329.3 655.5,324.5 Q662.2,319.7 670.7,318.3 Q679.2,317.0 686.4,319.8 Q693.5,322.7 700.0,324.6 Q706.4,326.6 714.2,328.8 Q721.9,331.1 722.9,337.6Z" fill="#4e4e4e" />
<path d="M546.8,420.2 Q551.5,425.1 550.7,431.8 Q549.9,438.5 546.6,444.2 Q543.3,449.9 540.8,455.5 Q538.2,461.1 533.9,466.7 Q529.6,472.4 522.5,474.6 Q515.4,476.8 508.7,475.1 Q501.9,473.3 496.5,470.8 Q491.1,468.2 485.2,465.8 Q479.4,463.4 474.1,459.1 Q468.7,454.9 467.7,448.2 Q466.7,441.6 470.7,435.6 Q474.6,429.5 479.0,424.8 Q483.4,420.1 487.6,415.0 Q491.8,409.8 498.2,406.5 Q504.6,403.2 511.4,404.5 Q518.3,405.8 523.9,408.4 Q529.5,411.0 535.8,413.2 Q542.1,415.4 546.8,420.2Z" fill="#4e4e4e" />
<path d="M657.6,448.3 Q657.5,454.3 652.5,457.9 Q647.4,461.6 641.9,463.2 Q636.3,464.8 631.5,466.8 Q626.7,468.8 620.9,469.1 Q615.2,469.5 609.9,466.8 Q604.7,464.1 600.2,460.6 Q595.8,457.0 591.3,452.9 Q586.9,448.8 584.4,443.2 Q581.9,437.6 583.1,432.0 Q584.3,426.4 588.2,422.2 Q592.1,418.1 597.5,416.0 Q602.8,413.9 608.2,413.2 Q613.6,412.5 619.1,412.1 Q624.6,411.7 630.4,413.1 Q636.2,414.5 640.6,418.5 Q644.9,422.5 648.1,427.1 Q651.2,431.7 654.5,437.0 Q657.8,442.3 657.6,448.3Z" fill="#4e4e4e" />
<path d="M734.6,432.8 Q739.2,438.0 741.2,444.7 Q743.1,451.4 742.3,458.4 Q741.5,465.5 739.0,472.3 Q736.4,479.2 732.0,485.7 Q727.6,492.3 720.5,496.8 Q713.4,501.2 705.3,501.7 Q697.2,502.2 690.3,499.7 Q683.4,497.2 678.0,493.4 Q672.5,489.7 668.0,485.1 Q663.4,480.5 659.9,474.6 Q656.4,468.7 655.3,461.4 Q654.2,454.0 657.3,446.6 Q660.4,439.2 666.8,433.9 Q673.3,428.7 680.6,425.8 Q688.0,423.0 695.3,421.6 Q702.6,420.2 709.9,420.8 Q717.2,421.5 723.6,424.5 Q730.0,427.6 734.6,432.8Z" fill="#4e4e4e" />
<path d="M458.7,513.0 Q457.9,520.7 448.3,523.8 Q438.7,526.9 432.5,528.0 Q426.4,529.0 424.6,536.7 Q422.8,544.5 415.8,551.9 Q408.8,559.3 399.4,557.5 Q389.9,555.6 383.5,548.9 Q377.1,542.2 373.1,535.3 Q369.1,528.3 367.7,521.2 Q366.4,514.1 367.2,507.4 Q368.0,500.6 371.1,494.8 Q374.2,488.9 380.5,485.9 Q386.7,483.0 392.7,481.2 Q398.6,479.4 404.8,474.4 Q411.0,469.3 420.5,466.9 Q430.1,464.4 437.2,470.5 Q444.2,476.5 447.4,484.2 Q450.5,491.9 455.0,498.6 Q459.6,505.4 458.7,513.0Z" fill="#4e4e4e" />
<path d="M559.7,501.9 Q563.0,506.3 569.4,511.3 Q575.8,516.3 578.7,524.7 Q581.6,533.0 575.7,540.2 Q569.8,547.4 560.7,549.9 Q551.6,552.4 544.4,554.2 Q537.2,556.1 529.7,559.0 Q522.3,561.8 514.2,561.0 Q506.1,560.2 501.8,553.9 Q497.6,547.6 497.4,540.6 Q497.2,533.6 495.5,528.3 Q493.8,522.9 490.1,516.0 Q486.5,509.0 487.5,500.3 Q488.5,491.5 496.0,486.0 Q503.6,480.4 512.6,479.2 Q521.6,478.0 529.5,478.7 Q537.5,479.5 543.7,482.9 Q550.0,486.4 553.2,492.0 Q556.3,497.5 559.7,501.9Z" fill="#4e4e4e" />
<path d="M894.6,441.5 Q895.3,452.3 889.5,461.1 Q883.7,469.8 875.8,474.1 Q868.0,478.3 861.9,481.2 Q855.9,484.0 850.7,490.4 Q845.4,496.8 837.0,501.5 Q828.7,506.2 821.4,500.7 Q814.1,495.2 811.8,485.7 Q809.5,476.2 805.3,470.0 Q801.1,463.9 795.0,455.9 Q788.8,447.9 789.8,437.8 Q790.7,427.6 797.8,421.1 Q804.9,414.5 812.4,410.6 Q819.8,406.7 827.3,405.9 Q834.8,405.1 841.3,408.4 Q847.7,411.6 853.8,413.6 Q859.8,415.5 868.8,416.5 Q877.8,417.6 885.9,424.2 Q893.9,430.8 894.6,441.5Z" fill="#4e4e4e" />
<path d="M861.1,547.8 Q859.5,554.0 856.6,560.0 Q853.6,566.1 848.2,569.9 Q842.8,573.7 836.9,576.4 Q831.0,579.1 824.0,581.5 Q817.0,583.8 810.8,580.6 Q804.7,577.4 803.0,569.9 Q801.3,562.3 800.3,556.3 Q799.3,550.3 797.1,544.3 Q794.9,538.3 796.6,531.7 Q798.4,525.0 803.2,520.4 Q808.0,515.7 812.5,510.8 Q817.0,505.9 822.9,501.5 Q828.9,497.1 835.6,497.9 Q842.2,498.8 847.4,502.8 Q852.5,506.8 856.8,511.3 Q861.1,515.8 863.1,522.0 Q865.0,528.3 863.9,534.9 Q862.7,541.6 861.1,547.8Z" fill="#4e4e4e" />
<path d="M918.0,97.6 Q914.9,102.1 913.6,107.5 Q912.3,113.0 908.4,117.7 Q904.5,122.4 898.5,123.6 Q892.5,124.7 886.3,124.7 Q880.1,124.7 873.4,123.5 Q866.7,122.2 862.4,116.9 Q858.1,111.6 858.1,104.8 Q858.1,98.0 858.6,92.4 Q859.0,86.8 858.8,80.8 Q858.6,74.8 861.4,69.1 Q864.2,63.4 870.1,61.1 Q876.0,58.8 881.9,59.2 Q887.8,59.6 893.2,59.6 Q898.6,59.6 905.5,59.4 Q912.3,59.2 919.2,62.4 Q926.0,65.6 927.5,72.9 Q929.1,80.2 925.1,86.7 Q921.1,93.2 918.0,97.6Z" fill="#4e4e4e" />
<path d="M917.3,144.8 Q918.0,150.1 918.7,154.3 Q919.3,158.5 920.0,163.1 Q920.7,167.7 919.4,172.4 Q918.1,177.2 915.2,181.7 Q912.3,186.3 907.7,190.2 Q903.1,194.1 897.0,194.6 Q891.0,195.0 885.9,191.7 Q880.8,188.4 877.1,184.4 Q873.4,180.4 871.1,175.9 Q868.7,171.4 869.3,166.4 Q869.9,161.5 871.3,157.4 Q872.7,153.4 872.8,148.5 Q872.8,143.5 874.7,137.8 Q876.6,132.0 881.7,128.9 Q886.8,125.7 892.9,125.6 Q899.0,125.5 904.5,127.7 Q910.1,129.8 913.4,134.7 Q916.7,139.5 917.3,144.8Z" fill="#4e4e4e" />
<path d="M907.5,376.8 Q909.1,379.9 908.8,383.4 Q908.4,386.8 907.6,390.6 Q906.8,394.4 904.0,398.3 Q901.1,402.2 895.4,404.2 Q889.7,406.1 884.1,405.1 Q878.4,404.0 874.5,402.4 Q870.5,400.8 866.2,400.3 Q861.8,399.8 857.1,398.4 Q852.4,397.1 851.2,393.7 Q850.0,390.2 851.9,386.8 Q853.7,383.3 854.5,379.8 Q855.3,376.3 856.9,371.9 Q858.5,367.5 864.1,365.0 Q869.6,362.5 875.7,363.9 Q881.7,365.2 885.5,367.3 Q889.4,369.3 893.5,370.0 Q897.6,370.7 901.8,372.2 Q905.9,373.7 907.5,376.8Z" fill="#4e4e4e" />
<path d="M338.1,519.6 Q340.1,525.7 337.7,531.6 Q335.3,537.6 334.8,542.0 Q334.3,546.3 333.9,551.2 Q333.4,556.1 329.3,558.8 Q325.2,561.4 320.9,562.7 Q316.6,564.0 312.0,568.0 Q307.4,572.1 300.4,574.3 Q293.3,576.5 288.2,571.9 Q283.0,567.4 282.6,560.3 Q282.2,553.2 284.0,547.8 Q285.8,542.3 287.3,538.4 Q288.8,534.5 289.0,530.1 Q289.2,525.7 290.5,520.1 Q291.8,514.5 296.6,511.6 Q301.4,508.8 306.9,509.5 Q312.4,510.2 318.0,510.2 Q323.6,510.3 329.9,511.9 Q336.1,513.4 338.1,519.6Z" fill="#4e4e4e" />
<path d="M252.8,552.5 Q253.8,559.0 248.5,563.9 Q243.2,568.7 238.1,571.9 Q233.1,575.0 228.6,577.8 Q224.0,580.5 218.5,581.1 Q213.0,581.6 207.7,581.1 Q202.3,580.5 196.2,580.0 Q190.1,579.4 184.7,576.3 Q179.2,573.2 177.4,567.8 Q175.6,562.4 175.3,557.1 Q174.9,551.8 175.1,546.2 Q175.2,540.6 178.8,535.8 Q182.3,531.0 188.4,529.0 Q194.6,526.9 200.7,527.0 Q206.9,527.2 212.0,529.2 Q217.2,531.2 221.3,533.7 Q225.4,536.1 231.4,537.4 Q237.4,538.8 244.6,542.4 Q251.8,546.0 252.8,552.5Z" fill="#4e4e4e" />
<path d="M67.8,114.3 Q68.9,122.3 64.3,128.7 Q59.7,135.1 51.1,134.7 Q42.6,134.3 36.4,133.3 Q30.1,132.4 23.4,134.8 Q16.6,137.2 8.7,136.1 Q0.8,135.0 -3.4,128.5 Q-7.7,122.0 -7.9,114.4 Q-8.2,106.9 -6.5,100.4 Q-4.9,94.0 -3.3,87.9 Q-1.7,81.8 0.3,74.6 Q2.3,67.3 8.2,62.0 Q14.1,56.8 22.0,58.3 Q29.9,59.8 35.9,63.4 Q41.9,67.0 48.5,68.4 Q55.1,69.9 60.8,74.3 Q66.6,78.7 66.9,86.0 Q67.2,93.3 67.0,99.8 Q66.7,106.3 67.8,114.3Z" fill="#4e4e4e" />
<path d="M402.0,206.8 Q399.3,210.2 396.8,213.1 Q394.4,215.9 391.9,219.7 Q389.5,223.4 385.3,226.3 Q381.0,229.1 376.1,228.2 Q371.2,227.2 367.8,223.5 Q364.5,219.8 362.4,216.1 Q360.3,212.3 358.5,208.6 Q356.7,205.0 356.5,200.8 Q356.2,196.7 357.9,192.9 Q359.6,189.2 361.8,185.7 Q364.1,182.3 367.0,178.8 Q370.0,175.3 374.5,173.7 Q379.0,172.0 383.5,173.7 Q388.0,175.4 391.3,178.3 Q394.6,181.3 397.8,184.1 Q401.0,186.9 403.5,190.7 Q405.9,194.5 405.4,199.0 Q404.8,203.5 402.0,206.8Z" fill="#4e4e4e" />
<path d="M900.4,246.7 Q898.9,251.3 894.1,253.9 Q889.3,256.6 886.2,258.1 Q883.1,259.7 881.7,262.7 Q880.3,265.7 877.0,268.6 Q873.7,271.5 869.1,271.2 Q864.4,270.9 860.8,268.6 Q857.2,266.2 854.0,263.9 Q850.9,261.6 847.6,258.9 Q844.4,256.2 843.1,252.5 Q841.8,248.7 843.3,245.1 Q844.8,241.4 848.0,238.8 Q851.3,236.2 855.4,235.1 Q859.4,233.9 863.3,234.1 Q867.3,234.2 870.7,234.4 Q874.1,234.6 878.5,234.2 Q882.8,233.8 888.6,234.5 Q894.3,235.2 898.1,238.7 Q902.0,242.2 900.4,246.7Z" fill="#4e4e4e" />
<circle cx="559.6" cy="528.7" r="5.0" fill="#505050"/>
<circle cx="708.4" cy="27.8" r="4.6" fill="#505050"/>
<circle cx="621.1" cy="167.9" r="4.8" fill="#505050"/>
<circle cx="771.6" cy="543.3" r="2.7" fill="#505050"/>
<circle cx="538.9" cy="230.0" r="2.9" fill="#505050"/>
<circle cx="711.0" cy="374.2" r="3.0" fill="#505050"/>
<circle cx="507.2" cy="563.5" r="3.7" fill="#505050"/>
<circle cx="853.2" cy="343.6" r="5.0" fill="#505050"/>
<circle cx="27.2" cy="279.2" r="3.7" fill="#505050"/>
<circle cx="678.8" cy="588.0" r="3.9" fill="#505050"/>
<circle cx="446.5" cy="385.0" r="3.6" fill="#505050"/>
<circle cx="658.4" cy="574.8" r="2.0" fill="#505050"/>
<circle cx="299.2" cy="532.0" r="2.2" fill="#505050"/>
<circle cx="738.1" cy="18.7" r="3.9" fill="#505050"/>
<circle cx="747.5" cy="144.5" r="3.1" fill="#505050"/>
<circle cx="211.5" cy="427.8" r="3.6" fill="#505050"/>
<circle cx="565.6" cy="197.6" r="3.8" fill="#505050"/>
<circle cx="891.5" cy="473.0" r="4.9" fill="#505050"/>
<circle cx="230.9" cy="313.2" r="3.2" fill="#505050"/>
<circle cx="323.2" cy="487.7" r="2.5" fill="#505050"/>
<circle cx="521.7" cy="469.9" r="4.8" fill="#505050"/>
<circle cx="17.4" cy="164.3" r="3.5" fill="#505050"/>
<circle cx="874.6" cy="99.0" r="4.5" fill="#505050"/>
<circle cx="371.0" cy="332.5" r="4.8" fill="#505050"/>
<circle cx="60.0" cy="200.0" r="2.5" fill="#505050"/>
<circle cx="125.0" cy="184.3" r="4.1" fill="#505050"/>
<circle cx="542.1" cy="73.9" r="4.4" fill="#505050"/>
<circle cx="473.8" cy="86.9" r="4.5" fill="#505050"/>
<circle cx="766.6" cy="131.6" r="4.8" fill="#505050"/>
<circle cx="756.9" cy="139.1" r="2.0" fill="#505050"/>
<circle cx="810.1" cy="501.4" r="2.3" fill="#505050"/>
<circle cx="715.9" cy="469.3" r="3.9" fill="#505050"/>
<circle cx="777.6" cy="597.8" r="3.0" fill="#505050"/>
<circle cx="778.9" cy="559.0" r="2.9" fill="#505050"/>
<circle cx="638.4" cy="415.4" r="4.5" fill="#505050"/>
<circle cx="529.5" cy="167.3" r="2.8" fill="#505050"/>
<circle cx="507.0" cy="82.2" r="4.6" fill="#505050"/>
<circle cx="830.5" cy="147.1" r="4.1" fill="#505050"/>
<circle cx="628.8" cy="74.0" r="4.3" fill="#505050"/>
<circle cx="715.7" cy="185.9" r="2.3" fill="#505050"/>
<circle cx="263.2" cy="468.4" r="3.4" fill="#505050"/>
<circle cx="761.5" cy="96.9" r="2.3" fill="#505050"/>
<circle cx="326.0" cy="534.1" r="2.5" fill="#505050"/>
<circle cx="68.6" cy="457.0" r="2.3" fill="#505050"/>
<circle cx="623.7" cy="50.7" r="2.7" fill="#505050"/>
<circle cx="619.8" cy="530.3" r="3.2" fill="#505050"/>
<circle cx="419.9" cy="18.9" r="3.0" fill="#505050"/>
<circle cx="226.1" cy="478.7" r="4.1" fill="#505050"/>
<circle cx="732.6" cy="322.8" r="4.1" fill="#505050"/>
<circle cx="118.8" cy="233.7" r="2.9" fill="#505050"/>
<circle cx="263.6" cy="448.7" r="2.6" fill="#505050"/>
<circle cx="303.9" cy="171.4" r="4.6" fill="#505050"/>
<circle cx="596.3" cy="291.7" r="3.1" fill="#505050"/>
<circle cx="860.8" cy="570.2" r="3.3" fill="#505050"/>
<circle cx="529.4" cy="523.5" r="2.8" fill="#505050"/>
<circle cx="241.6" cy="62.6" r="3.5" fill="#505050"/>
<circle cx="717.7" cy="95.0" r="3.3" fill="#505050"/>
<circle cx="925.3" cy="292.1" r="3.1" fill="#505050"/>
<circle cx="784.0" cy="541.5" r="3.1" fill="#505050"/>
<circle cx="115.4" cy="386.4" r="4.2" fill="#505050"/>
<circle cx="862.3" cy="400.7" r="2.9" fill="#505050"/>
<circle cx="481.0" cy="174.7" r="3.3" fill="#505050"/>
<circle cx="437.2" cy="553.7" r="4.7" fill="#505050"/>
<circle cx="865.2" cy="290.2" r="4.9" fill="#505050"/>
<circle cx="129.8" cy="559.1" r="3.9" fill="#505050"/>
<circle cx="814.9" cy="250.9" r="5.0" fill="#505050"/>
<circle cx="23.4" cy="514.6" r="4.5" fill="#505050"/>
<circle cx="349.5" cy="503.0" r="2.6" fill="#505050"/>
<circle cx="702.8" cy="284.3" r="3.2" fill="#505050"/>
<circle cx="183.6" cy="485.6" r="4.2" fill="#505050"/>
<circle cx="83.1" cy="593.7" r="2.7" fill="#505050"/>
<circle cx="350.5" cy="251.7" r="3.7" fill="#505050"/>
<circle cx="831.5" cy="573.7" r="3.9" fill="#505050"/>
<circle cx="341.4" cy="65.2" r="2.2" fill="#505050"/>
<circle cx="484.6" cy="354.0" r="3.3" fill="#505050"/>
<circle cx="917.6" cy="251.1" r="3.1" fill="#505050"/>
<circle cx="390.5" cy="104.3" r="4.8" fill="#505050"/>
<circle cx="552.0" cy="329.5" r="3.3" fill="#505050"/>
<circle cx="233.5" cy="191.5" r="3.5" fill="#505050"/>
<circle cx="416.8" cy="594.4" r="3.7" fill="#505050"/>
<circle cx="193.3" cy="32.6" r="2.5" fill="#505050"/>
<circle cx="323.0" cy="475.0" r="4.7" fill="#505050"/>
<circle cx="220.8" cy="473.6" r="3.3" fill="#505050"/>
<circle cx="502.0" cy="323.5" r="2.1" fill="#505050"/>
<circle cx="61.8" cy="405.2" r="4.1" fill="#505050"/>
<circle cx="355.2" cy="557.9" r="4.5" fill="#505050"/>
<circle cx="282.0" cy="40.6" r="3.7" fill="#505050"/>
<circle cx="611.1" cy="136.2" r="2.1" fill="#505050"/>
<circle cx="454.9" cy="20.7" r="4.2" fill="#505050"/>
<circle cx="584.2" cy="169.5" r="3.3" fill="#505050"/>
<circle cx="217.6" cy="112.9" r="2.5" fill="#505050"/>
<circle cx="761.8" cy="275.2" r="4.1" fill="#505050"/>
<circle cx="324.6" cy="489.8" r="3.8" fill="#505050"/>
<circle cx="610.9" cy="238.4" r="3.7" fill="#505050"/>
<circle cx="178.1" cy="591.1" r="4.0" fill="#505050"/>
<circle cx="497.3" cy="387.7" r="2.3" fill="#505050"/>
<circle cx="312.4" cy="140.0" r="4.5" fill="#505050"/>
<circle cx="12.0" cy="269.9" r="4.6" fill="#505050"/>
<circle cx="730.9" cy="436.3" r="2.9" fill="#505050"/>
<circle cx="217.0" cy="427.5" r="2.9" fill="#505050"/>
<circle cx="675.4" cy="212.4" r="4.3" fill="#505050"/>
<circle cx="535.2" cy="495.0" r="5.0" fill="#505050"/>
<circle cx="353.6" cy="598.8" r="2.0" fill="#505050"/>
<circle cx="819.4" cy="18.1" r="3.6" fill="#505050"/>
<circle cx="362.6" cy="467.3" r="2.9" fill="#505050"/>
<circle cx="194.5" cy="475.9" r="3.7" fill="#505050"/>
<circle cx="705.8" cy="297.0" r="2.1" fill="#505050"/>
<circle cx="720.3" cy="132.4" r="3.4" fill="#505050"/>
<circle cx="0.5" cy="157.2" r="4.0" fill="#505050"/>
<circle cx="713.7" cy="386.3" r="3.3" fill="#505050"/>
<circle cx="684.4" cy="406.0" r="2.6" fill="#505050"/>
<circle cx="499.8" cy="362.9" r="4.2" fill="#505050"/>
<circle cx="184.7" cy="188.6" r="3.0" fill="#505050"/>
<circle cx="89.6" cy="211.5" r="4.2" fill="#505050"/>
<circle cx="539.5" cy="105.0" r="4.2" fill="#505050"/>
<circle cx="109.1" cy="456.0" r="2.4" fill="#505050"/>
<circle cx="90.1" cy="152.8" r="3.5" fill="#505050"/>
<circle cx="252.2" cy="536.6" r="4.8" fill="#505050"/>
<circle cx="264.7" cy="455.2" r="4.1" fill="#505050"/>
<circle cx="524.1" cy="154.7" r="4.8" fill="#505050"/>
<circle cx="893.4" cy="8.0" r="3.0" fill="#505050"/>
<circle cx="299.8" cy="120.5" r="3.3" fill="#505050"/>
<circle cx="838.9" cy="14.5" r="4.5" fill="#505050"/>
<circle cx="288.6" cy="8.2" r="4.7" fill="#505050"/>
<circle cx="254.3" cy="128.8" r="2.4" fill="#505050"/>
<circle cx="343.0" cy="72.6" r="2.5" fill="#505050"/>
<circle cx="233.6" cy="351.0" r="3.3" fill="#505050"/>
<circle cx="284.9" cy="319.2" r="4.3" fill="#505050"/>
<circle cx="676.3" cy="208.5" r="4.8" fill="#505050"/>
<circle cx="739.0" cy="341.0" r="3.4" fill="#505050"/>
<circle cx="307.8" cy="81.4" r="4.7" fill="#505050"/>
<circle cx="568.2" cy="59.9" r="4.8" fill="#505050"/>
<circle cx="828.5" cy="20.4" r="4.1" fill="#505050"/>
<circle cx="222.5" cy="325.1" r="4.5" fill="#505050"/>
<circle cx="327.4" cy="302.5" r="4.0" fill="#505050"/>
<circle cx="179.6" cy="380.3" r="3.3" fill="#505050"/>
<circle cx="917.7" cy="113.9" r="4.1" fill="#505050"/>
<circle cx="38.5" cy="166.4" r="2.4" fill="#505050"/>
<circle cx="139.1" cy="320.6" r="2.5" fill="#505050"/>
<circle cx="742.3" cy="58.5" r="3.9" fill="#505050"/>
<circle cx="804.2" cy="76.8" r="2.7" fill="#505050"/>
<circle cx="714.4" cy="285.4" r="4.8" fill="#505050"/>
<circle cx="315.6" cy="241.6" r="4.9" fill="#505050"/>
<circle cx="321.2" cy="586.6" r="4.7" fill="#505050"/>
<circle cx="187.1" cy="331.3" r="4.8" fill="#505050"/>
<circle cx="109.6" cy="515.2" r="4.3" fill="#505050"/>
<circle cx="699.9" cy="364.7" r="2.3" fill="#505050"/>
<circle cx="895.1" cy="62.1" r="4.4" fill="#505050"/>
<circle cx="675.5" cy="192.7" r="4.1" fill="#505050"/>
<circle cx="383.5" cy="455.7" r="2.1" fill="#505050"/>
<circle cx="871.8" cy="233.4" r="4.4" fill="#505050"/>
<circle cx="440.5" cy="493.1" r="2.9" fill="#505050"/>
<circle cx="509.1" cy="15.3" r="3.5" fill="#505050"/>
<circle cx="74.0" cy="521.5" r="4.0" fill="#505050"/>
<circle cx="397.0" cy="591.4" r="4.8" fill="#505050"/>
<circle cx="893.6" cy="50.0" r="4.1" fill="#505050"/>
<circle cx="679.5" cy="367.8" r="2.0" fill="#505050"/>
<circle cx="862.9" cy="266.2" r="3.8" fill="#505050"/>
<circle cx="760.9" cy="167.1" r="2.1" fill="#505050"/>
<circle cx="862.4" cy="164.2" r="2.1" fill="#505050"/>
<circle cx="127.7" cy="603.9" r="4.2" fill="#505050"/>
<circle cx="196.0" cy="88.9" r="4.7" fill="#505050"/>
<circle cx="620.9" cy="353.9" r="2.4" fill="#505050"/>
<circle cx="386.0" cy="574.5" r="2.0" fill="#505050"/>
<circle cx="391.5" cy="34.6" r="5.0" fill="#505050"/>
<circle cx="97.5" cy="578.9" r="4.5" fill="#505050"/>
<circle cx="683.4" cy="25.7" r="4.1" fill="#505050"/>
<circle cx="460.4" cy="298.2" r="2.4" fill="#505050"/>
<circle cx="478.4" cy="486.8" r="2.4" fill="#505050"/>
<circle cx="818.3" cy="254.9" r="2.8" fill="#505050"/>
<circle cx="223.4" cy="279.1" r="3.9" fill="#505050"/>
<circle cx="532.2" cy="540.3" r="3.5" fill="#505050"/>
<circle cx="478.8" cy="600.3" r="2.6" fill="#505050"/>
<circle cx="15.5" cy="199.4" r="2.9" fill="#505050"/>
<circle cx="115.8" cy="253.8" r="2.1" fill="#505050"/>
<circle cx="860.1" cy="294.0" r="4.6" fill="#505050"/>
<circle cx="651.5" cy="443.0" r="4.3" fill="#505050"/>
<circle cx="281.7" cy="442.6" r="2.6" fill="#505050"/>
<circle cx="518.2" cy="361.4" r="4.3" fill="#505050"/>
<circle cx="156.7" cy="208.9" r="4.5" fill="#505050"/>
<circle cx="751.5" cy="593.6" r="2.4" fill="#505050"/>
<circle cx="196.3" cy="64.7" r="4.2" fill="#505050"/>
<circle cx="696.2" cy="393.4" r="4.3" fill="#505050"/>
<circle cx="481.9" cy="341.3" r="4.8" fill="#505050"/>
<circle cx="605.5" cy="398.2" r="3.8" fill="#505050"/>
<circle cx="461.3" cy="459.4" r="3.7" fill="#505050"/>
<circle cx="120.5" cy="258.5" r="3.3" fill="#505050"/>
<circle cx="403.7" cy="340.5" r="3.1" fill="#505050"/>
<circle cx="365.3" cy="259.1" r="3.1" fill="#505050"/>
<circle cx="907.7" cy="54.8" r="2.1" fill="#505050"/>
<circle cx="673.9" cy="239.9" r="3.3" fill="#505050"/>
<circle cx="552.8" cy="222.8" r="2.7" fill="#505050"/>
<circle cx="14.3" cy="530.4" r="4.8" fill="#505050"/>
<circle cx="267.0" cy="282.4" r="3.0" fill="#505050"/>
<circle cx="54.5" cy="541.8" r="4.5" fill="#505050"/>
<circle cx="225.2" cy="154.7" r="4.1" fill="#505050"/>
<circle cx="744.1" cy="285.1" r="3.2" fill="#505050"/>
<circle cx="218.1" cy="484.5" r="4.6" fill="#505050"/>
<circle cx="801.3" cy="69.4" r="3.8" fill="#505050"/>
<circle cx="920.2" cy="434.1" r="3.4" fill="#505050"/>
<circle cx="135.5" cy="36.7" r="4.3" fill="#f0f0f0"/>
<circle cx="64.1" cy="491.0" r="4.2" fill="#f0f0f0"/>
<circle cx="442.2" cy="541.2" r="4.8" fill="#f0f0f0"/>
<circle cx="575.9" cy="60.5" r="4.0" fill="#f0f0f0"/>
<circle cx="393.2" cy="151.5" r="4.8" fill="#f0f0f0"/>
<circle cx="682.1" cy="73.9" r="3.1" fill="#f0f0f0"/>
<circle cx="320.0" cy="347.8" r="3.3" fill="#f0f0f0"/>
<circle cx="410.6" cy="493.7" r="3.0" fill="#f0f0f0"/>
<circle cx="672.6" cy="200.7" r="4.9" fill="#f0f0f0"/>
<circle cx="889.0" cy="198.8" r="4.0" fill="#f0f0f0"/>
<circle cx="103.5" cy="249.1" r="4.1" fill="#f0f0f0"/>
<circle cx="596.0" cy="207.9" r="2.6" fill="#f0f0f0"/>
<circle cx="116.0" cy="340.2" r="2.9" fill="#f0f0f0"/>
<circle cx="285.9" cy="375.4" r="4.8" fill="#f0f0f0"/>
<circle cx="481.3" cy="154.6" r="4.0" fill="#f0f0f0"/>
<circle cx="257.5" cy="474.9" r="2.9" fill="#f0f0f0"/>
<circle cx="244.7" cy="266.3" r="4.8" fill="#f0f0f0"/>
<circle cx="154.5" cy="116.8" r="2.8" fill="#f0f0f0"/>
<circle cx="199.6" cy="201.7" r="3.5" fill="#f0f0f0"/>
<circle cx="709.5" cy="245.1" r="3.7" fill="#f0f0f0"/>
<circle cx="370.3" cy="469.9" r="4.8" fill="#f0f0f0"/>
<circle cx="397.4" cy="559.2" r="3.1" fill="#f0f0f0"/>
<circle cx="913.3" cy="318.9" r="4.2" fill="#f0f0f0"/>
<circle cx="356.2" cy="164.8" r="2.8" fill="#f0f0f0"/>
<circle cx="826.9" cy="218.3" r="4.2" fill="#f0f0f0"/>
<circle cx="430.3" cy="319.7" r="3.0" fill="#f0f0f0"/>
<circle cx="165.4" cy="204.1" r="4.2" fill="#f0f0f0"/>
<circle cx="507.5" cy="1.4" r="4.3" fill="#f0f0f0"/>
<circle cx="404.5" cy="41.8" r="3.1" fill="#f0f0f0"/>
<circle cx="197.7" cy="499.5" r="3.9" fill="#f0f0f0"/>
<circle cx="305.2" cy="150.9" r="3.2" fill="#f0f0f0"/>
<circle cx="261.6" cy="210.2" r="4.5" fill="#f0f0f0"/>
<circle cx="736.5" cy="423.8" r="4.7" fill="#f0f0f0"/>
<circle cx="610.8" cy="68.9" r="2.6" fill="#f0f0f0"/>
<circle cx="153.5" cy="156.7" r="3.8" fill="#f0f0f0"/>
<circle cx="767.8" cy="355.5" r="3.6" fill="#f0f0f0"/>
<circle cx="226.2" cy="595.9" r="4.4" fill="#f0f0f0"/>
<circle cx="318.7" cy="27.9" r="5.0" fill="#f0f0f0"/>
<circle cx="239.2" cy="514.5" r="2.8" fill="#f0f0f0"/>
<circle cx="610.0" cy="216.3" r="4.7" fill="#f0f0f0"/>
<circle cx="277.5" cy="61.2" r="3.0" fill="#f0f0f0"/>
<circle cx="752.5" cy="594.0" r="4.1" fill="#f0f0f0"/>
<circle cx="636.8" cy="171.2" r="3.2" fill="#f0f0f0"/>
<circle cx="81.0" cy="597.8" r="2.6" fill="#f0f0f0"/>
<circle cx="572.0" cy="212.4" r="3.0" fill="#f0f0f0"/>
<circle cx="550" cy="235" r="9" fill="#fff"/><circle cx="645" cy="128" r="9" fill="#eee"/><path d="M30,345 L55,340 L50,360 Z" fill="#fff"/>
<rect x="372" y="18" width="416" height="304" fill="none" stroke="#fff" stroke-width="9" stroke-dasharray="28,14"/>
<text x="20" y="79" font-size="69" font-weight="normal" fill="#fff" stroke="#fff" stroke-width="3.5"><tspan font-style="italic">CIDEB</tspan>-OE4</text>
<text x="40" y="530" font-size="64" font-weight="bold" fill="#fff">10μm</text>
<line x1="80" y1="577" x2="175" y2="577" stroke="#fff" stroke-width="10"/>
</g></g></g>
<g clip-path="url(#cl_b_b)"><g filter="url(#soft)">
<g transform="translate(493,682) scale(0.21627,0.21746)">
<filter id="nz6" x="0" y="0" width="934" height="607" filterUnits="userSpaceOnUse" primitiveUnits="userSpaceOnUse" color-interpolation-filters="sRGB"><feTurbulence type="fractalNoise" baseFrequency="0.045" numOctaves="4" seed="16"/><feColorMatrix type="matrix" values="0.6 0 0 0 0.124  0.6 0 0 0 0.124  0.6 0 0 0 0.124  0 0 0 0 1"/></filter>
<rect x="0" y="0" width="934" height="607" filter="url(#nz6)" opacity="1.0"/>
<circle cx="407.2" cy="565.0" r="2.7" fill="#4a4a4a"/>
<circle cx="153.7" cy="382.1" r="4.0" fill="#4a4a4a"/>
<circle cx="476.9" cy="109.0" r="4.6" fill="#4a4a4a"/>
<circle cx="103.5" cy="105.7" r="2.7" fill="#4a4a4a"/>
<circle cx="479.9" cy="289.1" r="3.7" fill="#4a4a4a"/>
<circle cx="679.0" cy="542.7" r="3.4" fill="#4a4a4a"/>
<circle cx="39.2" cy="504.3" r="2.1" fill="#4a4a4a"/>
<circle cx="297.0" cy="86.9" r="3.8" fill="#4a4a4a"/>
<circle cx="730.3" cy="78.2" r="2.9" fill="#4a4a4a"/>
<circle cx="794.9" cy="418.3" r="2.3" fill="#4a4a4a"/>
<circle cx="641.1" cy="482.0" r="3.2" fill="#4a4a4a"/>
<circle cx="145.0" cy="400.0" r="3.0" fill="#4a4a4a"/>
<circle cx="125.0" cy="100.0" r="3.2" fill="#4a4a4a"/>
<circle cx="118.5" cy="233.8" r="3.7" fill="#4a4a4a"/>
<circle cx="515.7" cy="245.1" r="4.4" fill="#4a4a4a"/>
<circle cx="82.0" cy="200.2" r="4.8" fill="#4a4a4a"/>
<circle cx="807.3" cy="558.9" r="4.3" fill="#4a4a4a"/>
<circle cx="500.4" cy="478.0" r="3.7" fill="#4a4a4a"/>
<circle cx="109.8" cy="155.0" r="2.3" fill="#4a4a4a"/>
<circle cx="817.4" cy="195.5" r="3.2" fill="#4a4a4a"/>
<circle cx="502.7" cy="61.2" r="4.1" fill="#4a4a4a"/>
<circle cx="743.1" cy="483.2" r="4.6" fill="#4a4a4a"/>
<circle cx="296.4" cy="88.3" r="4.3" fill="#4a4a4a"/>
<circle cx="647.4" cy="225.5" r="3.0" fill="#4a4a4a"/>
<circle cx="143.5" cy="505.0" r="3.4" fill="#4a4a4a"/>
<circle cx="758.5" cy="206.2" r="3.0" fill="#4a4a4a"/>
<circle cx="479.4" cy="452.6" r="4.6" fill="#4a4a4a"/>
<circle cx="329.9" cy="420.9" r="3.2" fill="#4a4a4a"/>
<circle cx="804.6" cy="461.4" r="3.7" fill="#4a4a4a"/>
<circle cx="338.6" cy="166.2" r="4.7" fill="#4a4a4a"/>
<circle cx="748.0" cy="185.2" r="2.3" fill="#4a4a4a"/>
<circle cx="182.2" cy="585.3" r="2.1" fill="#4a4a4a"/>
<circle cx="756.5" cy="321.1" r="3.7" fill="#4a4a4a"/>
<circle cx="503.9" cy="249.0" r="3.7" fill="#4a4a4a"/>
<circle cx="84.1" cy="558.3" r="2.3" fill="#4a4a4a"/>
<circle cx="129.6" cy="408.2" r="3.9" fill="#4a4a4a"/>
<circle cx="753.5" cy="420.4" r="4.8" fill="#4a4a4a"/>
<circle cx="48.3" cy="6.5" r="2.7" fill="#4a4a4a"/>
<circle cx="727.5" cy="92.7" r="3.6" fill="#4a4a4a"/>
<circle cx="719.5" cy="94.8" r="3.6" fill="#4a4a4a"/>
<circle cx="841.3" cy="453.7" r="3.2" fill="#4a4a4a"/>
<circle cx="447.3" cy="168.7" r="4.9" fill="#4a4a4a"/>
<circle cx="731.0" cy="413.0" r="2.9" fill="#4a4a4a"/>
<circle cx="683.5" cy="295.5" r="4.4" fill="#4a4a4a"/>
<circle cx="339.8" cy="535.1" r="4.1" fill="#4a4a4a"/>
<circle cx="420.9" cy="341.6" r="4.4" fill="#4a4a4a"/>
<circle cx="494.2" cy="582.9" r="2.0" fill="#4a4a4a"/>
<circle cx="838.0" cy="433.5" r="3.5" fill="#4a4a4a"/>
<circle cx="793.8" cy="90.3" r="3.0" fill="#4a4a4a"/>
<circle cx="666.8" cy="499.8" r="3.1" fill="#4a4a4a"/>
<circle cx="928.5" cy="393.7" r="2.1" fill="#4a4a4a"/>
<circle cx="115.0" cy="46.3" r="3.7" fill="#4a4a4a"/>
<circle cx="300.6" cy="158.5" r="3.3" fill="#4a4a4a"/>
<circle cx="73.0" cy="551.7" r="4.5" fill="#4a4a4a"/>
<circle cx="521.8" cy="269.8" r="2.9" fill="#4a4a4a"/>
<circle cx="563.0" cy="210.5" r="4.9" fill="#4a4a4a"/>
<circle cx="893.0" cy="441.1" r="4.5" fill="#4a4a4a"/>
<circle cx="70.3" cy="75.1" r="3.0" fill="#4a4a4a"/>
<circle cx="117.8" cy="256.5" r="5.0" fill="#4a4a4a"/>
<circle cx="779.4" cy="581.9" r="2.7" fill="#4a4a4a"/>
<circle cx="207.2" cy="14.2" r="2.8" fill="#4a4a4a"/>
<circle cx="52.8" cy="320.6" r="2.9" fill="#4a4a4a"/>
<circle cx="629.3" cy="340.6" r="3.8" fill="#4a4a4a"/>
<circle cx="280.1" cy="446.0" r="4.1" fill="#4a4a4a"/>
<circle cx="667.1" cy="286.0" r="3.4" fill="#4a4a4a"/>
<circle cx="267.1" cy="24.3" r="3.4" fill="#4a4a4a"/>
<circle cx="575.5" cy="113.0" r="4.6" fill="#4a4a4a"/>
<circle cx="821.0" cy="518.1" r="4.4" fill="#4a4a4a"/>
<circle cx="456.1" cy="106.7" r="2.8" fill="#4a4a4a"/>
<circle cx="688.9" cy="597.7" r="2.3" fill="#4a4a4a"/>
<circle cx="5.8" cy="214.4" r="3.0" fill="#4a4a4a"/>
<circle cx="558.2" cy="68.2" r="4.5" fill="#4a4a4a"/>
<circle cx="315.7" cy="551.5" r="3.0" fill="#4a4a4a"/>
<circle cx="285.2" cy="106.7" r="4.9" fill="#4a4a4a"/>
<circle cx="550.6" cy="501.1" r="2.2" fill="#4a4a4a"/>
<circle cx="507.1" cy="445.0" r="5.0" fill="#4a4a4a"/>
<circle cx="874.8" cy="63.1" r="3.1" fill="#4a4a4a"/>
<circle cx="932.8" cy="324.7" r="4.9" fill="#4a4a4a"/>
<circle cx="236.7" cy="15.5" r="4.8" fill="#4a4a4a"/>
<circle cx="246.4" cy="340.3" r="3.1" fill="#4a4a4a"/>
<circle cx="539.4" cy="566.8" r="4.8" fill="#4a4a4a"/>
<circle cx="819.2" cy="155.8" r="4.5" fill="#4a4a4a"/>
<circle cx="17.2" cy="252.7" r="4.8" fill="#4a4a4a"/>
<circle cx="237.8" cy="222.9" r="3.7" fill="#4a4a4a"/>
<circle cx="221.0" cy="430.0" r="4.0" fill="#4a4a4a"/>
<circle cx="88.8" cy="558.5" r="2.2" fill="#4a4a4a"/>
<circle cx="650.6" cy="211.5" r="2.4" fill="#4a4a4a"/>
<circle cx="72.8" cy="605.6" r="4.4" fill="#4a4a4a"/>
<circle cx="428.5" cy="482.3" r="4.9" fill="#4a4a4a"/>
<circle cx="865.3" cy="323.2" r="2.8" fill="#4a4a4a"/>
<circle cx="484.3" cy="595.7" r="4.2" fill="#4a4a4a"/>
<circle cx="625.6" cy="511.7" r="3.2" fill="#4a4a4a"/>
<circle cx="522.0" cy="515.2" r="2.6" fill="#4a4a4a"/>
<circle cx="802.2" cy="14.9" r="3.6" fill="#4a4a4a"/>
<circle cx="536.9" cy="88.8" r="4.8" fill="#4a4a4a"/>
<circle cx="410.4" cy="112.3" r="3.2" fill="#4a4a4a"/>
<circle cx="552.4" cy="260.4" r="2.0" fill="#4a4a4a"/>
<circle cx="86.3" cy="432.9" r="2.4" fill="#4a4a4a"/>
<circle cx="238.6" cy="490.2" r="4.6" fill="#4a4a4a"/>
<circle cx="823.4" cy="105.9" r="2.0" fill="#4a4a4a"/>
<circle cx="704.5" cy="363.5" r="3.1" fill="#4a4a4a"/>
<circle cx="17.3" cy="261.9" r="2.7" fill="#4a4a4a"/>
<circle cx="549.2" cy="595.3" r="2.6" fill="#4a4a4a"/>
<circle cx="70.1" cy="421.6" r="2.3" fill="#4a4a4a"/>
<circle cx="208.2" cy="266.6" r="5.0" fill="#4a4a4a"/>
<circle cx="302.9" cy="191.7" r="3.4" fill="#4a4a4a"/>
<circle cx="151.6" cy="244.2" r="4.1" fill="#4a4a4a"/>
<circle cx="302.6" cy="483.4" r="2.6" fill="#4a4a4a"/>
<circle cx="94.8" cy="380.7" r="3.4" fill="#4a4a4a"/>
<circle cx="857.5" cy="63.8" r="4.2" fill="#4a4a4a"/>
<circle cx="625.6" cy="224.8" r="2.4" fill="#4a4a4a"/>
<circle cx="571.5" cy="460.3" r="3.4" fill="#4a4a4a"/>
<circle cx="441.3" cy="416.2" r="3.8" fill="#4a4a4a"/>
<circle cx="395.4" cy="113.0" r="3.4" fill="#4a4a4a"/>
<circle cx="513.5" cy="544.2" r="5.0" fill="#4a4a4a"/>
<circle cx="520.0" cy="199.4" r="2.7" fill="#4a4a4a"/>
<circle cx="588.9" cy="448.2" r="2.7" fill="#4a4a4a"/>
<circle cx="644.8" cy="606.5" r="3.2" fill="#4a4a4a"/>
<circle cx="876.9" cy="265.0" r="4.0" fill="#4a4a4a"/>
<circle cx="809.4" cy="123.4" r="3.0" fill="#4a4a4a"/>
<circle cx="919.2" cy="39.6" r="2.9" fill="#4a4a4a"/>
<circle cx="445.0" cy="452.1" r="3.9" fill="#4a4a4a"/>
<circle cx="868.5" cy="406.5" r="2.0" fill="#4a4a4a"/>
<circle cx="66.6" cy="22.2" r="3.3" fill="#4a4a4a"/>
<circle cx="25.2" cy="319.3" r="3.9" fill="#4a4a4a"/>
<circle cx="188.9" cy="519.7" r="3.2" fill="#4a4a4a"/>
<circle cx="896.6" cy="217.2" r="3.9" fill="#4a4a4a"/>
<circle cx="506.1" cy="159.6" r="4.3" fill="#4a4a4a"/>
<circle cx="3.8" cy="151.5" r="3.0" fill="#4a4a4a"/>
<circle cx="823.9" cy="303.9" r="2.1" fill="#4a4a4a"/>
<circle cx="279.3" cy="370.0" r="4.4" fill="#4a4a4a"/>
<circle cx="101.9" cy="473.0" r="3.2" fill="#4a4a4a"/>
<circle cx="489.5" cy="255.6" r="3.3" fill="#4a4a4a"/>
<circle cx="925.1" cy="557.9" r="4.8" fill="#4a4a4a"/>
<circle cx="687.2" cy="425.0" r="2.4" fill="#4a4a4a"/>
<circle cx="32.9" cy="504.3" r="4.0" fill="#4a4a4a"/>
<circle cx="589.0" cy="189.8" r="2.8" fill="#4a4a4a"/>
<circle cx="860.1" cy="323.0" r="2.1" fill="#4a4a4a"/>
<circle cx="318.0" cy="211.8" r="2.2" fill="#4a4a4a"/>
<circle cx="913.5" cy="548.1" r="4.4" fill="#4a4a4a"/>
<circle cx="4.0" cy="253.4" r="2.3" fill="#4a4a4a"/>
<circle cx="677.9" cy="491.3" r="4.4" fill="#4a4a4a"/>
<circle cx="739.5" cy="73.3" r="2.0" fill="#4a4a4a"/>
<circle cx="86.7" cy="511.3" r="4.5" fill="#4a4a4a"/>
<circle cx="482.1" cy="142.4" r="4.6" fill="#4a4a4a"/>
<circle cx="112.4" cy="197.2" r="2.0" fill="#4a4a4a"/>
<circle cx="918.0" cy="251.9" r="4.3" fill="#4a4a4a"/>
<circle cx="748.6" cy="352.7" r="5.0" fill="#4a4a4a"/>
<circle cx="723.4" cy="562.7" r="4.9" fill="#4a4a4a"/>
<circle cx="76.7" cy="455.6" r="2.7" fill="#4a4a4a"/>
<circle cx="303.2" cy="207.3" r="5.0" fill="#4a4a4a"/>
<circle cx="56.3" cy="264.0" r="2.4" fill="#4a4a4a"/>
<circle cx="931.6" cy="301.1" r="4.1" fill="#4a4a4a"/>
<circle cx="485.8" cy="465.7" r="3.0" fill="#4a4a4a"/>
<circle cx="386.1" cy="451.9" r="4.1" fill="#4a4a4a"/>
<circle cx="829.1" cy="187.7" r="4.5" fill="#4a4a4a"/>
<circle cx="688.5" cy="348.0" r="3.2" fill="#4a4a4a"/>
<circle cx="529.6" cy="46.6" r="2.3" fill="#4a4a4a"/>
<circle cx="290.8" cy="74.9" r="2.1" fill="#4a4a4a"/>
<circle cx="669.5" cy="443.9" r="3.8" fill="#4a4a4a"/>
<circle cx="192.3" cy="438.3" r="4.5" fill="#4a4a4a"/>
<circle cx="578.3" cy="138.1" r="3.7" fill="#4a4a4a"/>
<circle cx="368.7" cy="163.3" r="2.4" fill="#4a4a4a"/>
<circle cx="807.8" cy="383.8" r="4.8" fill="#4a4a4a"/>
<circle cx="160.7" cy="160.4" r="3.5" fill="#4a4a4a"/>
<circle cx="55.2" cy="183.5" r="3.6" fill="#4a4a4a"/>
<circle cx="450.0" cy="552.1" r="3.7" fill="#4a4a4a"/>
<circle cx="595.4" cy="355.2" r="4.4" fill="#4a4a4a"/>
<circle cx="342.2" cy="0.4" r="4.9" fill="#4a4a4a"/>
<circle cx="740.1" cy="76.9" r="2.3" fill="#4a4a4a"/>
<circle cx="207.6" cy="399.4" r="2.4" fill="#4a4a4a"/>
<circle cx="18.7" cy="299.9" r="2.0" fill="#4a4a4a"/>
<circle cx="241.8" cy="232.0" r="2.6" fill="#4a4a4a"/>
<circle cx="2.3" cy="157.8" r="2.7" fill="#4a4a4a"/>
<circle cx="302.8" cy="251.6" r="3.1" fill="#4a4a4a"/>
<circle cx="302.7" cy="11.6" r="4.5" fill="#4a4a4a"/>
<circle cx="689.5" cy="299.2" r="2.0" fill="#4a4a4a"/>
<circle cx="217.9" cy="546.7" r="3.4" fill="#4a4a4a"/>
<circle cx="191.8" cy="497.7" r="4.7" fill="#4a4a4a"/>
<circle cx="114.1" cy="304.1" r="3.7" fill="#4a4a4a"/>
<circle cx="109.6" cy="193.8" r="3.9" fill="#4a4a4a"/>
<circle cx="629.1" cy="381.5" r="3.9" fill="#4a4a4a"/>
<circle cx="353.0" cy="41.8" r="2.0" fill="#4a4a4a"/>
<circle cx="782.3" cy="525.0" r="4.7" fill="#4a4a4a"/>
<circle cx="71.0" cy="467.0" r="2.5" fill="#4a4a4a"/>
<circle cx="323.4" cy="121.6" r="4.6" fill="#4a4a4a"/>
<circle cx="765.0" cy="505.4" r="3.1" fill="#4a4a4a"/>
<circle cx="874.3" cy="157.9" r="3.7" fill="#4a4a4a"/>
<circle cx="628.9" cy="141.8" r="3.1" fill="#4a4a4a"/>
<circle cx="93.6" cy="483.6" r="2.6" fill="#4a4a4a"/>
<circle cx="127.0" cy="168.7" r="3.9" fill="#4a4a4a"/>
<circle cx="595.1" cy="318.5" r="4.6" fill="#4a4a4a"/>
<circle cx="702.8" cy="127.3" r="3.6" fill="#4a4a4a"/>
<circle cx="158.2" cy="146.8" r="2.4" fill="#4a4a4a"/>
<circle cx="71.9" cy="212.6" r="4.7" fill="#4a4a4a"/>
<circle cx="612.8" cy="53.2" r="2.7" fill="#4a4a4a"/>
<circle cx="552.5" cy="321.6" r="2.1" fill="#4a4a4a"/>
<circle cx="87.8" cy="343.5" r="3.8" fill="#4a4a4a"/>
<circle cx="75.1" cy="469.1" r="2.7" fill="#4a4a4a"/>
<circle cx="550.4" cy="321.5" r="3.0" fill="#4a4a4a"/>
<circle cx="883.9" cy="240.1" r="3.3" fill="#4a4a4a"/>
<circle cx="504.6" cy="509.7" r="5.0" fill="#4a4a4a"/>
<circle cx="718.8" cy="327.0" r="4.2" fill="#4a4a4a"/>
<circle cx="596.0" cy="582.3" r="4.9" fill="#4a4a4a"/>
<circle cx="709.8" cy="131.4" r="3.7" fill="#4a4a4a"/>
<circle cx="410.5" cy="140.4" r="4.3" fill="#4a4a4a"/>
<circle cx="206.6" cy="430.8" r="3.5" fill="#4a4a4a"/>
<circle cx="398.7" cy="429.0" r="4.2" fill="#4a4a4a"/>
<circle cx="924.3" cy="606.3" r="4.4" fill="#4a4a4a"/>
<circle cx="246.5" cy="406.2" r="3.5" fill="#4a4a4a"/>
<circle cx="878.4" cy="271.4" r="3.1" fill="#4a4a4a"/>
<circle cx="24.2" cy="285.4" r="3.6" fill="#4a4a4a"/>
<circle cx="287.9" cy="63.9" r="3.5" fill="#4a4a4a"/>
<circle cx="65.9" cy="104.2" r="3.3" fill="#4a4a4a"/>
<circle cx="325.2" cy="303.6" r="3.6" fill="#4a4a4a"/>
<circle cx="362.8" cy="81.1" r="2.1" fill="#4a4a4a"/>
<circle cx="522.5" cy="588.9" r="2.8" fill="#4a4a4a"/>
<circle cx="328.5" cy="193.9" r="4.2" fill="#4a4a4a"/>
<circle cx="460.7" cy="483.1" r="2.0" fill="#4a4a4a"/>
<circle cx="123.9" cy="125.1" r="3.1" fill="#4a4a4a"/>
<circle cx="373.1" cy="233.9" r="4.9" fill="#4a4a4a"/>
<circle cx="410.2" cy="349.4" r="4.9" fill="#4a4a4a"/>
<circle cx="599.5" cy="361.0" r="4.5" fill="#4a4a4a"/>
<circle cx="312.3" cy="21.8" r="4.9" fill="#4a4a4a"/>
<circle cx="499.1" cy="353.3" r="2.2" fill="#4a4a4a"/>
<circle cx="695.8" cy="226.9" r="3.9" fill="#4a4a4a"/>
<circle cx="264.9" cy="557.3" r="3.1" fill="#4a4a4a"/>
<circle cx="257.4" cy="542.6" r="2.7" fill="#4a4a4a"/>
<circle cx="253.0" cy="295.6" r="4.9" fill="#4a4a4a"/>
<circle cx="107.9" cy="127.7" r="4.4" fill="#4a4a4a"/>
<circle cx="70.2" cy="251.5" r="4.3" fill="#4a4a4a"/>
<circle cx="665.7" cy="481.4" r="2.4" fill="#4a4a4a"/>
<circle cx="831.1" cy="216.7" r="4.4" fill="#4a4a4a"/>
<circle cx="440.5" cy="541.1" r="3.4" fill="#4a4a4a"/>
<circle cx="240.8" cy="91.5" r="3.5" fill="#4a4a4a"/>
<circle cx="46.5" cy="99.6" r="4.6" fill="#4a4a4a"/>
<circle cx="535.9" cy="523.9" r="2.5" fill="#4a4a4a"/>
<circle cx="448.6" cy="284.4" r="2.3" fill="#4a4a4a"/>
<circle cx="246.1" cy="559.6" r="4.2" fill="#4a4a4a"/>
<circle cx="475.4" cy="370.0" r="4.6" fill="#4a4a4a"/>
<circle cx="890.9" cy="360.9" r="2.2" fill="#4a4a4a"/>
<circle cx="814.3" cy="100.0" r="2.7" fill="#4a4a4a"/>
<circle cx="128.0" cy="310.9" r="3.7" fill="#4a4a4a"/>
<circle cx="429.8" cy="285.3" r="2.4" fill="#4a4a4a"/>
<circle cx="670.7" cy="326.3" r="2.9" fill="#4a4a4a"/>
<circle cx="778.6" cy="570.0" r="4.8" fill="#4a4a4a"/>
<circle cx="919.9" cy="41.8" r="3.2" fill="#4a4a4a"/>
<circle cx="420.2" cy="155.8" r="4.2" fill="#4a4a4a"/>
<circle cx="845.3" cy="84.1" r="3.5" fill="#4a4a4a"/>
<circle cx="903.6" cy="539.5" r="3.4" fill="#4a4a4a"/>
<circle cx="97.8" cy="277.0" r="3.6" fill="#4a4a4a"/>
<circle cx="733.8" cy="112.9" r="2.8" fill="#4a4a4a"/>
<circle cx="919.7" cy="7.1" r="3.8" fill="#4a4a4a"/>
<circle cx="88.7" cy="455.6" r="3.3" fill="#4a4a4a"/>
<circle cx="864.3" cy="135.6" r="4.6" fill="#4a4a4a"/>
<circle cx="212.5" cy="28.9" r="2.3" fill="#4a4a4a"/>
<circle cx="71.1" cy="235.9" r="4.9" fill="#4a4a4a"/>
<circle cx="331.4" cy="435.1" r="2.1" fill="#4a4a4a"/>
<circle cx="481.8" cy="327.4" r="2.3" fill="#4a4a4a"/>
<circle cx="541.6" cy="270.8" r="3.0" fill="#4a4a4a"/>
<circle cx="775.6" cy="419.7" r="2.4" fill="#4a4a4a"/>
<circle cx="99.1" cy="31.8" r="2.8" fill="#4a4a4a"/>
<circle cx="594.6" cy="587.8" r="4.9" fill="#4a4a4a"/>
<circle cx="807.4" cy="75.5" r="4.4" fill="#4a4a4a"/>
<circle cx="711.9" cy="286.9" r="5.0" fill="#4a4a4a"/>
<circle cx="559.5" cy="71.8" r="2.6" fill="#4a4a4a"/>
<circle cx="121.1" cy="370.6" r="3.9" fill="#4a4a4a"/>
<circle cx="801.2" cy="6.2" r="2.0" fill="#4a4a4a"/>
<circle cx="908.5" cy="159.1" r="2.8" fill="#4a4a4a"/>
<circle cx="809.5" cy="67.6" r="4.4" fill="#4a4a4a"/>
<circle cx="837.5" cy="341.3" r="3.8" fill="#4a4a4a"/>
<circle cx="5.5" cy="368.2" r="3.8" fill="#4a4a4a"/>
<circle cx="720.1" cy="314.0" r="2.3" fill="#4a4a4a"/>
<circle cx="207.9" cy="396.4" r="2.2" fill="#4a4a4a"/>
<circle cx="99.8" cy="152.3" r="4.4" fill="#4a4a4a"/>
<circle cx="510.4" cy="216.6" r="4.9" fill="#4a4a4a"/>
<circle cx="542.7" cy="144.8" r="3.7" fill="#4a4a4a"/>
<circle cx="799.0" cy="223.7" r="3.3" fill="#4a4a4a"/>
<circle cx="539.3" cy="599.2" r="3.9" fill="#4a4a4a"/>
<circle cx="169.2" cy="353.3" r="3.0" fill="#4a4a4a"/>
<circle cx="442.1" cy="432.8" r="2.1" fill="#4a4a4a"/>
<circle cx="474.1" cy="190.7" r="3.8" fill="#4a4a4a"/>
<circle cx="766.5" cy="283.6" r="3.9" fill="#4a4a4a"/>
<circle cx="269.7" cy="155.4" r="3.5" fill="#4a4a4a"/>
<circle cx="497.4" cy="135.6" r="4.3" fill="#4a4a4a"/>
<circle cx="466.6" cy="215.8" r="2.8" fill="#4a4a4a"/>
<circle cx="781.6" cy="547.5" r="4.8" fill="#4a4a4a"/>
<circle cx="231.6" cy="43.2" r="3.9" fill="#4a4a4a"/>
<circle cx="23.1" cy="519.8" r="4.0" fill="#4a4a4a"/>
<circle cx="314.7" cy="267.9" r="4.0" fill="#4a4a4a"/>
<circle cx="149.6" cy="221.6" r="4.4" fill="#4a4a4a"/>
<circle cx="635.8" cy="355.3" r="2.3" fill="#4a4a4a"/>
<circle cx="202.8" cy="155.7" r="2.1" fill="#4a4a4a"/>
<circle cx="597.7" cy="347.7" r="4.8" fill="#4a4a4a"/>
<circle cx="517.8" cy="557.5" r="3.4" fill="#4a4a4a"/>
<circle cx="483.4" cy="170.8" r="3.4" fill="#4a4a4a"/>
<circle cx="875.0" cy="296.1" r="2.0" fill="#4a4a4a"/>
<circle cx="330.3" cy="120.1" r="3.9" fill="#4a4a4a"/>
<circle cx="475.6" cy="288.7" r="4.8" fill="#4a4a4a"/>
<circle cx="712.1" cy="53.0" r="2.1" fill="#4a4a4a"/>
<circle cx="654.5" cy="362.2" r="4.0" fill="#4a4a4a"/>
<circle cx="467.4" cy="21.7" r="3.4" fill="#4a4a4a"/>
<circle cx="780.3" cy="365.4" r="2.1" fill="#4a4a4a"/>
<circle cx="116.2" cy="549.2" r="3.6" fill="#4a4a4a"/>
<circle cx="153.7" cy="428.9" r="4.8" fill="#4a4a4a"/>
<circle cx="808.0" cy="391.7" r="4.4" fill="#4a4a4a"/>
<circle cx="81.8" cy="281.3" r="4.4" fill="#4a4a4a"/>
<circle cx="318.9" cy="87.3" r="4.6" fill="#4a4a4a"/>
<circle cx="658.1" cy="4.5" r="2.2" fill="#4a4a4a"/>
<circle cx="520.5" cy="579.0" r="3.9" fill="#4a4a4a"/>
<circle cx="818.3" cy="63.8" r="3.7" fill="#4a4a4a"/>
<circle cx="169.7" cy="201.5" r="2.4" fill="#4a4a4a"/>
<circle cx="433.2" cy="28.0" r="4.0" fill="#4a4a4a"/>
<circle cx="603.7" cy="549.2" r="4.3" fill="#4a4a4a"/>
<circle cx="70.6" cy="527.4" r="3.6" fill="#4a4a4a"/>
<circle cx="874.4" cy="298.7" r="2.2" fill="#4a4a4a"/>
<circle cx="657.6" cy="105.1" r="5.0" fill="#4a4a4a"/>
<circle cx="503.6" cy="547.7" r="3.5" fill="#4a4a4a"/>
<circle cx="304.9" cy="402.0" r="4.1" fill="#4a4a4a"/>
<circle cx="429.7" cy="167.3" r="3.3" fill="#4a4a4a"/>
<circle cx="667.6" cy="138.7" r="2.5" fill="#4a4a4a"/>
<circle cx="452.0" cy="399.4" r="2.2" fill="#4a4a4a"/>
<circle cx="253.6" cy="589.7" r="2.8" fill="#4a4a4a"/>
<circle cx="720.9" cy="185.5" r="2.3" fill="#4a4a4a"/>
<circle cx="454.1" cy="527.8" r="4.3" fill="#4a4a4a"/>
<circle cx="44.9" cy="427.0" r="3.9" fill="#4a4a4a"/>
<circle cx="450.5" cy="403.5" r="3.6" fill="#4a4a4a"/>
<circle cx="170.9" cy="422.2" r="2.4" fill="#4a4a4a"/>
<circle cx="289.4" cy="516.9" r="3.7" fill="#4a4a4a"/>
<circle cx="477.4" cy="430.9" r="3.5" fill="#4a4a4a"/>
<circle cx="358.7" cy="335.2" r="2.1" fill="#4a4a4a"/>
<circle cx="328.3" cy="23.9" r="5.0" fill="#4a4a4a"/>
<circle cx="848.0" cy="396.9" r="2.5" fill="#4a4a4a"/>
<circle cx="798.7" cy="171.8" r="4.4" fill="#4a4a4a"/>
<circle cx="608.1" cy="367.2" r="4.2" fill="#4a4a4a"/>
<circle cx="249.8" cy="506.4" r="3.6" fill="#4a4a4a"/>
<circle cx="707.1" cy="509.7" r="2.8" fill="#4a4a4a"/>
<circle cx="383.6" cy="219.5" r="2.2" fill="#4a4a4a"/>
<circle cx="817.8" cy="416.2" r="3.5" fill="#4a4a4a"/>
<circle cx="509.3" cy="534.0" r="2.2" fill="#4a4a4a"/>
<circle cx="334.2" cy="416.6" r="3.6" fill="#4a4a4a"/>
<circle cx="464.5" cy="157.0" r="2.7" fill="#4a4a4a"/>
<circle cx="626.0" cy="207.0" r="4.8" fill="#4a4a4a"/>
<circle cx="842.4" cy="588.9" r="2.8" fill="#4a4a4a"/>
<circle cx="480.5" cy="63.3" r="3.1" fill="#4a4a4a"/>
<circle cx="69.6" cy="304.5" r="4.9" fill="#4a4a4a"/>
<circle cx="712.1" cy="220.8" r="2.8" fill="#4a4a4a"/>
<circle cx="870.0" cy="32.0" r="4.5" fill="#4a4a4a"/>
<circle cx="799.5" cy="41.8" r="4.9" fill="#4a4a4a"/>
<circle cx="603.5" cy="236.1" r="3.3" fill="#4a4a4a"/>
<circle cx="568.3" cy="319.8" r="4.6" fill="#4a4a4a"/>
<circle cx="836.1" cy="198.2" r="2.0" fill="#4a4a4a"/>
<circle cx="727.3" cy="393.1" r="4.0" fill="#4a4a4a"/>
<circle cx="69.4" cy="46.0" r="4.7" fill="#4a4a4a"/>
<circle cx="339.9" cy="287.0" r="4.9" fill="#4a4a4a"/>
<circle cx="182.2" cy="385.5" r="2.2" fill="#4a4a4a"/>
<circle cx="524.1" cy="448.4" r="2.5" fill="#4a4a4a"/>
<circle cx="709.6" cy="588.0" r="4.5" fill="#4a4a4a"/>
<circle cx="738.4" cy="575.0" r="4.2" fill="#4a4a4a"/>
<circle cx="511.4" cy="500.4" r="4.4" fill="#4a4a4a"/>
<circle cx="587.6" cy="406.0" r="2.5" fill="#4a4a4a"/>
<circle cx="316.0" cy="197.5" r="4.6" fill="#4a4a4a"/>
<circle cx="729.9" cy="176.4" r="5.0" fill="#4a4a4a"/>
<circle cx="55.2" cy="37.4" r="3.0" fill="#4a4a4a"/>
<circle cx="72.1" cy="576.6" r="3.1" fill="#4a4a4a"/>
<circle cx="362.6" cy="518.9" r="3.6" fill="#4a4a4a"/>
<circle cx="588.9" cy="267.0" r="3.4" fill="#4a4a4a"/>
<circle cx="894.0" cy="168.3" r="3.6" fill="#4a4a4a"/>
<circle cx="447.0" cy="85.7" r="2.4" fill="#4a4a4a"/>
<circle cx="473.2" cy="484.8" r="3.3" fill="#4a4a4a"/>
<circle cx="55.2" cy="567.6" r="2.4" fill="#4a4a4a"/>
<circle cx="826.0" cy="27.4" r="3.9" fill="#4a4a4a"/>
<circle cx="136.4" cy="158.0" r="3.3" fill="#4a4a4a"/>
<circle cx="705.6" cy="264.2" r="3.3" fill="#4a4a4a"/>
<circle cx="375.8" cy="316.1" r="2.8" fill="#4a4a4a"/>
<circle cx="890.2" cy="115.6" r="2.4" fill="#4a4a4a"/>
<circle cx="512.4" cy="213.2" r="4.2" fill="#4a4a4a"/>
<circle cx="36.9" cy="410.7" r="3.1" fill="#4a4a4a"/>
<circle cx="866.0" cy="182.2" r="3.3" fill="#4a4a4a"/>
<circle cx="296.5" cy="323.8" r="2.8" fill="#4a4a4a"/>
<circle cx="625.4" cy="249.9" r="4.1" fill="#4a4a4a"/>
<circle cx="272.3" cy="277.1" r="3.7" fill="#4a4a4a"/>
<circle cx="671.1" cy="396.0" r="3.3" fill="#4a4a4a"/>
<circle cx="80.2" cy="68.1" r="2.4" fill="#4a4a4a"/>
<circle cx="171.7" cy="111.3" r="4.0" fill="#4a4a4a"/>
<circle cx="318.4" cy="551.2" r="2.7" fill="#4a4a4a"/>
<circle cx="229.5" cy="111.0" r="2.4" fill="#4a4a4a"/>
<circle cx="637.1" cy="351.1" r="2.8" fill="#4a4a4a"/>
<circle cx="756.9" cy="410.1" r="3.3" fill="#4a4a4a"/>
<circle cx="567.7" cy="398.6" r="3.3" fill="#4a4a4a"/>
<circle cx="85.6" cy="221.3" r="4.8" fill="#4a4a4a"/>
<circle cx="348.8" cy="387.8" r="2.3" fill="#4a4a4a"/>
<circle cx="722.9" cy="524.6" r="3.1" fill="#4a4a4a"/>
<circle cx="347.5" cy="311.3" r="2.8" fill="#4a4a4a"/>
<circle cx="196.0" cy="78.0" r="4.1" fill="#4a4a4a"/>
<circle cx="475.7" cy="580.4" r="4.9" fill="#4a4a4a"/>
<circle cx="816.5" cy="573.3" r="4.5" fill="#4a4a4a"/>
<circle cx="22.9" cy="78.7" r="4.9" fill="#4a4a4a"/>
<circle cx="816.1" cy="373.8" r="3.9" fill="#4a4a4a"/>
<circle cx="407.5" cy="257.9" r="2.4" fill="#4a4a4a"/>
<circle cx="511.9" cy="166.8" r="2.4" fill="#4a4a4a"/>
<circle cx="812.9" cy="348.8" r="4.6" fill="#4a4a4a"/>
<circle cx="274.6" cy="350.1" r="2.8" fill="#4a4a4a"/>
<circle cx="775.9" cy="126.9" r="3.9" fill="#4a4a4a"/>
<circle cx="518.3" cy="197.7" r="2.2" fill="#4a4a4a"/>
<circle cx="454.6" cy="317.5" r="4.5" fill="#4a4a4a"/>
<circle cx="189.7" cy="112.5" r="2.9" fill="#4a4a4a"/>
<circle cx="749.5" cy="140.9" r="3.9" fill="#4a4a4a"/>
<circle cx="30.0" cy="49.9" r="4.1" fill="#4a4a4a"/>
<circle cx="464.1" cy="68.4" r="3.4" fill="#4a4a4a"/>
<circle cx="878.4" cy="237.4" r="3.7" fill="#4a4a4a"/>
<circle cx="392.6" cy="306.8" r="2.1" fill="#4a4a4a"/>
<circle cx="824.6" cy="351.8" r="3.0" fill="#4a4a4a"/>
<circle cx="265.6" cy="113.5" r="4.8" fill="#4a4a4a"/>
<circle cx="785.5" cy="229.7" r="3.8" fill="#4a4a4a"/>
<circle cx="516.0" cy="121.5" r="2.1" fill="#4a4a4a"/>
<circle cx="686.8" cy="98.8" r="3.7" fill="#4a4a4a"/>
<circle cx="16.0" cy="13.3" r="2.5" fill="#4a4a4a"/>
<circle cx="610.5" cy="372.0" r="5.0" fill="#4a4a4a"/>
<circle cx="616.5" cy="316.9" r="2.0" fill="#4a4a4a"/>
<circle cx="894.8" cy="296.7" r="4.6" fill="#4a4a4a"/>
<circle cx="39.2" cy="506.9" r="3.4" fill="#4a4a4a"/>
<circle cx="202.5" cy="246.5" r="2.2" fill="#4a4a4a"/>
<circle cx="542.6" cy="133.0" r="4.1" fill="#4a4a4a"/>
<circle cx="162.2" cy="418.7" r="3.9" fill="#4a4a4a"/>
<circle cx="664.8" cy="576.9" r="2.9" fill="#4a4a4a"/>
<circle cx="637.9" cy="241.1" r="4.7" fill="#4a4a4a"/>
<circle cx="770.8" cy="463.5" r="3.8" fill="#4a4a4a"/>
<circle cx="244.3" cy="551.1" r="4.9" fill="#4a4a4a"/>
<circle cx="887.2" cy="205.3" r="4.5" fill="#4a4a4a"/>
<circle cx="634.1" cy="509.7" r="4.4" fill="#4a4a4a"/>
<circle cx="424.5" cy="239.9" r="4.4" fill="#4a4a4a"/>
<circle cx="611.4" cy="327.5" r="4.6" fill="#4a4a4a"/>
<circle cx="29.7" cy="8.1" r="3.4" fill="#4a4a4a"/>
<circle cx="90.9" cy="511.2" r="2.3" fill="#4a4a4a"/>
<circle cx="823.9" cy="136.6" r="2.4" fill="#4a4a4a"/>
<circle cx="704.0" cy="411.3" r="3.2" fill="#4a4a4a"/>
<circle cx="556.9" cy="335.7" r="4.8" fill="#4a4a4a"/>
<circle cx="474.1" cy="327.6" r="3.4" fill="#4a4a4a"/>
<circle cx="384.6" cy="418.8" r="2.3" fill="#4a4a4a"/>
<circle cx="646.6" cy="563.7" r="4.3" fill="#4a4a4a"/>
<circle cx="507.2" cy="214.5" r="2.3" fill="#4a4a4a"/>
<circle cx="86.2" cy="327.3" r="4.6" fill="#4a4a4a"/>
<circle cx="808.9" cy="111.3" r="4.2" fill="#4a4a4a"/>
<circle cx="753.9" cy="291.3" r="4.6" fill="#4a4a4a"/>
<circle cx="174.4" cy="203.7" r="3.5" fill="#4a4a4a"/>
<circle cx="678.8" cy="272.4" r="2.9" fill="#4a4a4a"/>
<circle cx="809.7" cy="237.9" r="3.3" fill="#4a4a4a"/>
<circle cx="208.9" cy="293.2" r="4.1" fill="#4a4a4a"/>
<circle cx="337.9" cy="401.9" r="3.5" fill="#4a4a4a"/>
<circle cx="11.1" cy="584.1" r="2.9" fill="#4a4a4a"/>
<circle cx="509.7" cy="582.0" r="2.6" fill="#4a4a4a"/>
<circle cx="59.7" cy="124.7" r="2.5" fill="#4a4a4a"/>
<circle cx="795.0" cy="314.0" r="2.1" fill="#4a4a4a"/>
<circle cx="253.7" cy="310.2" r="2.5" fill="#4a4a4a"/>
<circle cx="286.2" cy="549.1" r="3.3" fill="#4a4a4a"/>
<circle cx="217.8" cy="362.7" r="2.3" fill="#4a4a4a"/>
<circle cx="485.6" cy="393.3" r="2.3" fill="#4a4a4a"/>
<circle cx="512.3" cy="187.8" r="4.2" fill="#4a4a4a"/>
<circle cx="575.2" cy="552.1" r="3.8" fill="#4a4a4a"/>
<circle cx="170.9" cy="112.6" r="4.1" fill="#4a4a4a"/>
<circle cx="756.9" cy="38.0" r="3.3" fill="#4a4a4a"/>
<circle cx="264.2" cy="283.7" r="4.6" fill="#4a4a4a"/>
<circle cx="522.8" cy="451.7" r="4.3" fill="#4a4a4a"/>
<circle cx="259.3" cy="375.6" r="3.1" fill="#4a4a4a"/>
<circle cx="442.9" cy="322.0" r="4.0" fill="#4a4a4a"/>
<circle cx="157.3" cy="508.9" r="2.5" fill="#4a4a4a"/>
<circle cx="292.4" cy="515.5" r="5.0" fill="#4a4a4a"/>
<circle cx="342.5" cy="577.9" r="2.1" fill="#4a4a4a"/>
<circle cx="892.2" cy="122.0" r="2.1" fill="#4a4a4a"/>
<circle cx="711.7" cy="98.0" r="4.3" fill="#4a4a4a"/>
<circle cx="6.6" cy="75.2" r="3.1" fill="#4a4a4a"/>
<circle cx="78.9" cy="286.0" r="3.0" fill="#4a4a4a"/>
<circle cx="689.8" cy="299.2" r="4.9" fill="#4a4a4a"/>
<circle cx="787.9" cy="103.9" r="4.8" fill="#4a4a4a"/>
<circle cx="835.7" cy="342.9" r="3.6" fill="#4a4a4a"/>
<circle cx="158.7" cy="194.8" r="2.7" fill="#4a4a4a"/>
<circle cx="183.1" cy="372.8" r="3.0" fill="#4a4a4a"/>
<circle cx="717.0" cy="347.9" r="4.5" fill="#4a4a4a"/>
<circle cx="81.7" cy="514.2" r="3.5" fill="#4a4a4a"/>
<circle cx="590.4" cy="144.7" r="4.1" fill="#4a4a4a"/>
<circle cx="379.3" cy="438.0" r="3.8" fill="#4a4a4a"/>
<circle cx="130.9" cy="182.5" r="4.3" fill="#4a4a4a"/>
<circle cx="14.9" cy="383.5" r="3.6" fill="#4a4a4a"/>
<circle cx="667.6" cy="199.7" r="3.4" fill="#4a4a4a"/>
<circle cx="445.4" cy="454.8" r="2.2" fill="#4a4a4a"/>
<circle cx="476.5" cy="157.6" r="3.8" fill="#4a4a4a"/>
<circle cx="242.3" cy="125.1" r="2.7" fill="#4a4a4a"/>
<circle cx="835.8" cy="220.7" r="4.6" fill="#4a4a4a"/>
<circle cx="686.9" cy="163.2" r="3.7" fill="#4a4a4a"/>
<circle cx="8.1" cy="566.2" r="3.9" fill="#4a4a4a"/>
<circle cx="105.1" cy="315.0" r="3.5" fill="#4a4a4a"/>
<circle cx="626.4" cy="175.6" r="4.7" fill="#4a4a4a"/>
<circle cx="581.5" cy="44.1" r="4.5" fill="#4a4a4a"/>
<circle cx="826.2" cy="184.7" r="4.1" fill="#4a4a4a"/>
<circle cx="803.4" cy="535.3" r="2.2" fill="#4a4a4a"/>
<circle cx="781.6" cy="150.7" r="4.4" fill="#4a4a4a"/>
<circle cx="641.3" cy="282.7" r="4.7" fill="#4a4a4a"/>
<circle cx="750.3" cy="603.6" r="4.9" fill="#4a4a4a"/>
<circle cx="535.4" cy="446.1" r="4.0" fill="#4a4a4a"/>
<circle cx="373.8" cy="302.8" r="3.5" fill="#9a9a9a"/>
<circle cx="201.5" cy="158.5" r="4.5" fill="#9a9a9a"/>
<circle cx="790.3" cy="423.3" r="4.1" fill="#9a9a9a"/>
<circle cx="476.4" cy="347.9" r="4.0" fill="#9a9a9a"/>
<circle cx="6.8" cy="269.3" r="4.9" fill="#9a9a9a"/>
<circle cx="192.1" cy="283.8" r="2.2" fill="#9a9a9a"/>
<circle cx="238.2" cy="500.2" r="2.1" fill="#9a9a9a"/>
<circle cx="746.1" cy="484.4" r="4.6" fill="#9a9a9a"/>
<circle cx="240.2" cy="565.4" r="3.1" fill="#9a9a9a"/>
<circle cx="420.6" cy="577.1" r="3.6" fill="#9a9a9a"/>
<circle cx="635.9" cy="67.0" r="2.0" fill="#9a9a9a"/>
<circle cx="247.1" cy="64.2" r="4.5" fill="#9a9a9a"/>
<circle cx="233.2" cy="581.3" r="4.0" fill="#9a9a9a"/>
<circle cx="179.1" cy="431.4" r="3.0" fill="#9a9a9a"/>
<circle cx="492.2" cy="46.1" r="4.5" fill="#9a9a9a"/>
<circle cx="735.3" cy="352.6" r="4.1" fill="#9a9a9a"/>
<circle cx="317.5" cy="77.5" r="3.0" fill="#9a9a9a"/>
<circle cx="691.1" cy="341.8" r="2.4" fill="#9a9a9a"/>
<circle cx="224.9" cy="288.3" r="2.0" fill="#9a9a9a"/>
<circle cx="41.8" cy="273.0" r="2.4" fill="#9a9a9a"/>
<circle cx="830.2" cy="78.1" r="4.2" fill="#9a9a9a"/>
<circle cx="742.2" cy="191.5" r="3.6" fill="#9a9a9a"/>
<circle cx="926.6" cy="374.6" r="3.2" fill="#9a9a9a"/>
<circle cx="911.5" cy="157.6" r="4.9" fill="#9a9a9a"/>
<circle cx="289.5" cy="255.9" r="2.9" fill="#9a9a9a"/>
<circle cx="608.9" cy="535.6" r="4.1" fill="#9a9a9a"/>
<circle cx="170.0" cy="601.1" r="4.2" fill="#9a9a9a"/>
<circle cx="472.8" cy="515.7" r="2.3" fill="#9a9a9a"/>
<circle cx="558.6" cy="477.0" r="4.3" fill="#9a9a9a"/>
<circle cx="628.5" cy="38.0" r="3.4" fill="#9a9a9a"/>
<circle cx="251.0" cy="369.0" r="3.2" fill="#9a9a9a"/>
<circle cx="425.8" cy="326.5" r="3.8" fill="#9a9a9a"/>
<circle cx="831.6" cy="171.3" r="2.8" fill="#9a9a9a"/>
<circle cx="172.3" cy="68.3" r="4.5" fill="#9a9a9a"/>
<circle cx="858.8" cy="76.4" r="3.1" fill="#9a9a9a"/>
<circle cx="844.5" cy="524.4" r="4.9" fill="#9a9a9a"/>
<circle cx="927.0" cy="184.3" r="2.2" fill="#9a9a9a"/>
<circle cx="233.2" cy="305.0" r="2.0" fill="#9a9a9a"/>
<circle cx="236.9" cy="287.1" r="4.0" fill="#9a9a9a"/>
<circle cx="144.4" cy="74.8" r="3.0" fill="#9a9a9a"/>
<circle cx="84.9" cy="74.2" r="2.3" fill="#9a9a9a"/>
<circle cx="746.9" cy="533.7" r="2.1" fill="#9a9a9a"/>
<circle cx="751.3" cy="512.0" r="4.0" fill="#9a9a9a"/>
<circle cx="280.1" cy="497.8" r="2.2" fill="#9a9a9a"/>
<circle cx="43.5" cy="579.5" r="2.7" fill="#9a9a9a"/>
<circle cx="854.9" cy="457.8" r="2.1" fill="#9a9a9a"/>
<circle cx="88.2" cy="392.3" r="2.4" fill="#9a9a9a"/>
<circle cx="622.1" cy="408.2" r="2.7" fill="#9a9a9a"/>
<circle cx="445.1" cy="128.7" r="4.6" fill="#9a9a9a"/>
<circle cx="589.0" cy="419.5" r="3.9" fill="#9a9a9a"/>
<circle cx="56.9" cy="537.9" r="4.3" fill="#9a9a9a"/>
<circle cx="481.0" cy="358.4" r="3.5" fill="#9a9a9a"/>
<circle cx="705.6" cy="323.6" r="2.8" fill="#9a9a9a"/>
<circle cx="482.2" cy="129.7" r="2.0" fill="#9a9a9a"/>
<circle cx="486.4" cy="528.4" r="4.2" fill="#9a9a9a"/>
<circle cx="195.4" cy="308.5" r="3.8" fill="#9a9a9a"/>
<circle cx="541.1" cy="279.2" r="3.5" fill="#9a9a9a"/>
<circle cx="642.9" cy="534.9" r="3.5" fill="#9a9a9a"/>
<circle cx="732.4" cy="412.8" r="2.4" fill="#9a9a9a"/>
<circle cx="242.0" cy="190.3" r="3.1" fill="#9a9a9a"/>
<circle cx="458.7" cy="178.8" r="5.0" fill="#9a9a9a"/>
<circle cx="685.6" cy="225.3" r="4.1" fill="#9a9a9a"/>
<circle cx="863.6" cy="96.9" r="3.9" fill="#9a9a9a"/>
<circle cx="895.5" cy="227.8" r="4.6" fill="#9a9a9a"/>
<circle cx="750.7" cy="194.2" r="2.4" fill="#9a9a9a"/>
<circle cx="753.2" cy="252.2" r="3.1" fill="#9a9a9a"/>
<circle cx="433.2" cy="442.0" r="4.7" fill="#9a9a9a"/>
<circle cx="856.1" cy="465.2" r="2.5" fill="#9a9a9a"/>
<circle cx="344.9" cy="4.2" r="2.6" fill="#9a9a9a"/>
<circle cx="317.8" cy="107.6" r="3.4" fill="#9a9a9a"/>
<circle cx="123.1" cy="396.4" r="3.2" fill="#9a9a9a"/>
<circle cx="230.7" cy="416.3" r="3.0" fill="#9a9a9a"/>
<circle cx="22.3" cy="508.9" r="4.3" fill="#9a9a9a"/>
<circle cx="820.3" cy="178.4" r="2.8" fill="#9a9a9a"/>
<circle cx="650.4" cy="88.8" r="4.9" fill="#9a9a9a"/>
<circle cx="610.2" cy="332.9" r="2.2" fill="#9a9a9a"/>
<circle cx="264.6" cy="257.0" r="4.9" fill="#9a9a9a"/>
<circle cx="135.3" cy="359.2" r="2.2" fill="#9a9a9a"/>
<circle cx="907.1" cy="453.5" r="4.4" fill="#9a9a9a"/>
<circle cx="699.8" cy="109.1" r="2.7" fill="#9a9a9a"/>
<circle cx="36.7" cy="334.7" r="2.2" fill="#9a9a9a"/>
<circle cx="175.9" cy="105.7" r="4.8" fill="#9a9a9a"/>
<circle cx="737.5" cy="173.4" r="4.9" fill="#9a9a9a"/>
<circle cx="148.9" cy="85.3" r="3.1" fill="#9a9a9a"/>
<circle cx="752.4" cy="59.9" r="4.4" fill="#9a9a9a"/>
<circle cx="508.2" cy="484.7" r="3.0" fill="#9a9a9a"/>
<circle cx="39.3" cy="60.1" r="4.2" fill="#9a9a9a"/>
<circle cx="473.6" cy="463.6" r="2.6" fill="#9a9a9a"/>
<circle cx="260.9" cy="128.4" r="4.6" fill="#9a9a9a"/>
<circle cx="656.8" cy="94.0" r="4.2" fill="#9a9a9a"/>
<circle cx="36.2" cy="283.1" r="2.8" fill="#9a9a9a"/>
<circle cx="714.1" cy="436.2" r="4.1" fill="#9a9a9a"/>
<circle cx="184.3" cy="26.0" r="3.9" fill="#9a9a9a"/>
<circle cx="648.7" cy="5.6" r="4.5" fill="#9a9a9a"/>
<circle cx="838.1" cy="219.3" r="3.6" fill="#9a9a9a"/>
<circle cx="608.0" cy="561.9" r="3.9" fill="#9a9a9a"/>
<circle cx="481.6" cy="466.7" r="3.5" fill="#9a9a9a"/>
<circle cx="30.7" cy="332.2" r="3.2" fill="#9a9a9a"/>
<circle cx="313.0" cy="239.3" r="2.7" fill="#9a9a9a"/>
<circle cx="291.3" cy="453.5" r="4.7" fill="#9a9a9a"/>
<circle cx="426.3" cy="513.3" r="2.4" fill="#9a9a9a"/>
<circle cx="481.7" cy="451.9" r="4.3" fill="#9a9a9a"/>
<circle cx="361.7" cy="101.9" r="4.9" fill="#9a9a9a"/>
<circle cx="569.1" cy="396.5" r="3.0" fill="#9a9a9a"/>
<circle cx="105.6" cy="346.2" r="3.2" fill="#9a9a9a"/>
<circle cx="831.3" cy="402.6" r="4.3" fill="#9a9a9a"/>
<circle cx="532.1" cy="457.0" r="2.4" fill="#9a9a9a"/>
<circle cx="930.5" cy="352.5" r="3.8" fill="#9a9a9a"/>
<circle cx="177.2" cy="55.3" r="4.1" fill="#9a9a9a"/>
<circle cx="678.3" cy="404.7" r="2.8" fill="#9a9a9a"/>
<circle cx="454.7" cy="466.2" r="3.9" fill="#9a9a9a"/>
<circle cx="849.6" cy="54.2" r="4.3" fill="#9a9a9a"/>
<circle cx="12.4" cy="379.4" r="3.6" fill="#9a9a9a"/>
<circle cx="69.2" cy="254.3" r="4.0" fill="#9a9a9a"/>
<circle cx="810.1" cy="46.8" r="3.5" fill="#9a9a9a"/>
<circle cx="742.8" cy="70.9" r="4.7" fill="#9a9a9a"/>
<circle cx="876.9" cy="207.9" r="2.6" fill="#9a9a9a"/>
<circle cx="135.8" cy="133.3" r="3.3" fill="#9a9a9a"/>
<circle cx="660.4" cy="568.7" r="3.7" fill="#9a9a9a"/>
<circle cx="890.3" cy="259.1" r="4.0" fill="#9a9a9a"/>
<circle cx="0.1" cy="254.1" r="2.1" fill="#9a9a9a"/>
<circle cx="123.4" cy="490.9" r="2.3" fill="#9a9a9a"/>
<circle cx="279.9" cy="319.3" r="3.6" fill="#9a9a9a"/>
<circle cx="28.5" cy="67.1" r="4.0" fill="#9a9a9a"/>
<circle cx="378.1" cy="56.0" r="3.4" fill="#9a9a9a"/>
<circle cx="347.9" cy="606.7" r="2.1" fill="#9a9a9a"/>
<circle cx="168.3" cy="45.3" r="3.7" fill="#9a9a9a"/>
<circle cx="897.1" cy="472.0" r="2.3" fill="#9a9a9a"/>
<circle cx="504.0" cy="217.3" r="4.9" fill="#9a9a9a"/>
<circle cx="660.4" cy="366.7" r="2.8" fill="#9a9a9a"/>
<circle cx="407.8" cy="319.7" r="3.1" fill="#9a9a9a"/>
<circle cx="527.0" cy="54.7" r="3.3" fill="#9a9a9a"/>
<circle cx="921.7" cy="242.3" r="3.5" fill="#9a9a9a"/>
<circle cx="703.8" cy="493.1" r="4.2" fill="#9a9a9a"/>
<circle cx="356.1" cy="432.0" r="2.6" fill="#9a9a9a"/>
<circle cx="576.3" cy="9.7" r="2.6" fill="#9a9a9a"/>
<circle cx="163.5" cy="213.7" r="4.2" fill="#9a9a9a"/>
<circle cx="19.5" cy="531.9" r="2.3" fill="#9a9a9a"/>
<circle cx="887.7" cy="576.0" r="3.8" fill="#9a9a9a"/>
<circle cx="785.0" cy="571.1" r="3.3" fill="#9a9a9a"/>
<circle cx="799.4" cy="21.1" r="4.3" fill="#9a9a9a"/>
<circle cx="605.4" cy="471.4" r="2.4" fill="#9a9a9a"/>
<circle cx="77.8" cy="317.5" r="3.8" fill="#9a9a9a"/>
<circle cx="642.0" cy="108.7" r="3.7" fill="#9a9a9a"/>
<circle cx="904.9" cy="153.6" r="4.5" fill="#9a9a9a"/>
<circle cx="897.4" cy="408.4" r="3.3" fill="#9a9a9a"/>
<circle cx="390.7" cy="283.8" r="2.4" fill="#9a9a9a"/>
<circle cx="69.7" cy="169.8" r="2.5" fill="#9a9a9a"/>
<circle cx="840.1" cy="219.8" r="4.6" fill="#9a9a9a"/>
<circle cx="525.9" cy="545.1" r="4.7" fill="#9a9a9a"/>
<polyline points="270,0 300,60 260,150 240,250 220,350 230,450 250,530 280,607" fill="none" stroke="#383838" stroke-width="18" stroke-linejoin="round" stroke-linecap="round" />
<polyline points="300,60 360,40 460,40 500,60 540,100 570,160 580,230 600,300 610,380 620,450 560,500 480,550 430,607" fill="none" stroke="#383838" stroke-width="13" stroke-linejoin="round" stroke-linecap="round" />
<polyline points="490,0 500,60" fill="none" stroke="#383838" stroke-width="12" stroke-linejoin="round" stroke-linecap="round" />
<polyline points="580,160 640,130 740,100 820,70 850,0" fill="none" stroke="#383838" stroke-width="11" stroke-linejoin="round" stroke-linecap="round" />
<polyline points="820,70 870,120 900,200 920,260 934,280" fill="none" stroke="#383838" stroke-width="11" stroke-linejoin="round" stroke-linecap="round" />
<polyline points="620,450 680,510 720,560 750,607" fill="none" stroke="#383838" stroke-width="11" stroke-linejoin="round" stroke-linecap="round" />
<polyline points="0,180 40,250 100,310 160,350 200,380 220,400" fill="none" stroke="#383838" stroke-width="11" stroke-linejoin="round" stroke-linecap="round" />
<polyline points="120,0 100,60 60,130 0,170" fill="none" stroke="#383838" stroke-width="11" stroke-linejoin="round" stroke-linecap="round" />
<polyline points="170,390 200,470 190,530" fill="none" stroke="#383838" stroke-width="14" stroke-linejoin="round" stroke-linecap="round" />
<polygon points="330,380 420,330 500,340 512,420 490,480 420,540 360,545 318,480" fill="#3a3a3a" />
<path d="M839.9,241.3 Q839.2,255.0 833.4,266.8 Q827.6,278.5 821.1,289.3 Q814.6,300.2 804.7,310.0 Q794.9,319.8 780.6,326.1 Q766.4,332.4 749.7,333.8 Q733.0,335.2 717.7,329.4 Q702.4,323.7 693.3,312.4 Q684.2,301.0 679.0,289.6 Q673.8,278.1 668.5,266.6 Q663.2,255.0 662.7,241.7 Q662.1,228.3 670.2,216.6 Q678.4,204.9 691.4,197.0 Q704.3,189.1 719.4,185.2 Q734.4,181.4 749.8,182.5 Q765.1,183.5 779.5,187.6 Q793.9,191.7 808.0,198.2 Q822.0,204.6 831.3,216.1 Q840.5,227.5 839.9,241.3Z" fill="#474747" />
<path d="M680.8,30.2 Q679.7,40.0 674.0,47.6 Q668.3,55.2 660.9,59.8 Q653.6,64.4 647.8,68.7 Q642.0,73.0 635.3,77.4 Q628.5,81.7 620.1,81.2 Q611.7,80.7 604.0,78.1 Q596.4,75.4 586.0,73.8 Q575.6,72.3 566.7,65.9 Q557.8,59.6 560.3,49.8 Q562.7,40.0 569.0,32.9 Q575.2,25.9 577.6,18.4 Q580.0,10.9 586.5,5.3 Q593.1,-0.4 602.9,2.2 Q612.8,4.7 619.5,7.0 Q626.2,9.4 635.6,6.0 Q644.9,2.7 657.2,3.3 Q669.5,4.0 675.8,12.3 Q682.0,20.5 680.8,30.2Z" fill="#424242" />
<path d="M160.6,18.4 Q159.2,25.0 155.4,30.2 Q151.5,35.3 146.9,39.1 Q142.2,42.8 138.5,47.2 Q134.8,51.7 129.4,58.1 Q123.9,64.5 114.6,66.4 Q105.2,68.4 98.6,62.2 Q92.0,56.0 89.7,49.5 Q87.3,43.0 81.1,39.7 Q74.8,36.4 68.4,30.7 Q62.0,25.0 65.3,18.4 Q68.5,11.8 76.6,8.5 Q84.6,5.2 90.4,2.4 Q96.2,-0.3 102.0,-3.6 Q107.8,-6.9 115.3,-8.4 Q122.9,-9.9 131.4,-9.2 Q139.8,-8.5 147.5,-4.8 Q155.1,-1.2 158.5,5.3 Q161.9,11.7 160.6,18.4Z" fill="#444" />
<path d="M378.8,232.4 Q378.0,240.2 373.9,247.0 Q369.7,253.8 364.6,257.9 Q359.5,262.0 354.7,265.4 Q349.8,268.8 344.4,272.0 Q339.0,275.1 333.5,274.9 Q328.0,274.6 325.2,268.9 Q322.4,263.2 322.9,255.4 Q323.3,247.6 323.3,241.2 Q323.3,234.9 322.6,227.3 Q321.8,219.8 324.9,211.6 Q328.0,203.4 334.0,200.0 Q340.1,196.7 345.1,195.4 Q350.1,194.2 355.4,190.4 Q360.6,186.6 366.3,186.0 Q372.0,185.3 374.6,191.4 Q377.1,197.5 377.4,204.6 Q377.7,211.7 378.6,218.2 Q379.5,224.6 378.8,232.4Z" fill="#4a4a4a" />
<polygon points="0,370 60,380 70,470 0,480" fill="#4a4a4a" />
<path d="M660.4,594.6 Q661.8,600.0 660.3,605.3 Q658.7,610.7 653.4,615.4 Q648.2,620.2 638.3,622.4 Q628.5,624.7 619.0,625.9 Q609.6,627.1 599.3,629.2 Q589.0,631.3 578.2,629.7 Q567.4,628.2 563.3,622.7 Q559.2,617.1 555.6,612.9 Q552.1,608.7 543.6,604.4 Q535.1,600.0 534.4,594.0 Q533.7,587.9 543.6,584.2 Q553.5,580.5 562.8,578.1 Q572.1,575.8 580.8,573.1 Q589.6,570.4 599.9,570.7 Q610.3,570.9 619.0,573.5 Q627.7,576.0 636.3,578.6 Q644.9,581.2 651.9,585.2 Q658.9,589.3 660.4,594.6Z" fill="#4a4a4a" />
<ellipse cx="850" cy="355" rx="40" ry="30" fill="#8e8e8e" opacity="0.6"/>
<circle cx="580" cy="262" r="15" fill="#f4f4f4"/>
<circle cx="415" cy="360" r="8" fill="#f4f4f4"/>
<circle cx="325" cy="400" r="9" fill="#f4f4f4"/>
<circle cx="395" cy="482" r="12" fill="#f4f4f4"/>
<circle cx="350" cy="505" r="8" fill="#f4f4f4"/>
<circle cx="370" cy="300" r="6" fill="#f4f4f4"/>
<circle cx="265" cy="165" r="7" fill="#f4f4f4"/>
<circle cx="48" cy="405" r="6" fill="#f4f4f4"/>
<path d="M72,232 L95,228 L92,258 Z" fill="#fff"/>
<text x="722" y="275" font-size="30" font-weight="bold" fill="#fff">PB</text>
<text x="830" y="368" font-size="30" font-weight="bold" fill="#eee">LD</text>
<text x="48" y="545" font-size="62" font-weight="bold" fill="#fff">:5μm</text>
<line x1="75" y1="585" x2="175" y2="585" stroke="#fff" stroke-width="10"/>
</g></g></g>
<g clip-path="url(#cl_c_t)"><g filter="url(#soft)">
<g transform="translate(701,544) scale(0.21734,0.21746)">
<filter id="nz7" x="0" y="0" width="934" height="607" filterUnits="userSpaceOnUse" primitiveUnits="userSpaceOnUse" color-interpolation-filters="sRGB"><feTurbulence type="fractalNoise" baseFrequency="0.06" numOctaves="3" seed="17"/><feColorMatrix type="matrix" values="0.42 0 0 0 0.127  0.42 0 0 0 0.127  0.42 0 0 0 0.127  0 0 0 0 1"/></filter>
<rect x="0" y="0" width="934" height="607" filter="url(#nz7)" opacity="1.0"/>
<rect x="0" y="0" width="300" height="607" fill="#383838" opacity="0.35" filter="url(#blur2)"/>
<rect x="560" y="0" width="374" height="607" fill="#8a8a8a" opacity="0.2" filter="url(#blur2)"/>
<polyline points="560,130 600,250 570,400 530,607" fill="none" stroke="#727272" stroke-width="22" stroke-linejoin="round" stroke-linecap="round" filter="url(#blur1)" opacity="0.8"/>
<polyline points="600,380 700,430 820,500 934,560" fill="none" stroke="#767676" stroke-width="14" stroke-linejoin="round" stroke-linecap="round" filter="url(#blur1)"/>
<polyline points="620,420 750,480 870,560" fill="none" stroke="#707070" stroke-width="10" stroke-linejoin="round" stroke-linecap="round" />
<polyline points="640,330 760,380 900,430" fill="none" stroke="#6e6e6e" stroke-width="8" stroke-linejoin="round" stroke-linecap="round" />
<polyline points="160,120 200,170 180,300 230,430" fill="none" stroke="#666" stroke-width="14" stroke-linejoin="round" stroke-linecap="round" filter="url(#blur1)"/>
<path d="M730,130 Q800,100 850,160 Q880,210 820,240 Q760,250 720,190 Z" fill="none" stroke="#8c8c8c" stroke-width="28"/>
<path d="M760,160 L800,150 L820,190 L780,200 Z" fill="#444"/>
<path d="M318.6,258.7 Q319.5,270.0 317.6,280.9 Q315.8,291.8 313.1,303.4 Q310.4,315.0 303.0,323.8 Q295.6,332.7 285.1,333.5 Q274.6,334.3 265.4,331.7 Q256.2,329.0 247.5,326.2 Q238.9,323.5 231.4,317.1 Q223.9,310.7 219.7,301.0 Q215.5,291.3 213.0,280.7 Q210.6,270.0 210.7,258.4 Q210.9,246.7 215.6,236.2 Q220.4,225.7 228.2,218.2 Q236.0,210.7 245.6,207.1 Q255.1,203.5 264.7,205.8 Q274.2,208.1 282.0,213.7 Q289.8,219.2 297.4,224.7 Q305.1,230.3 311.3,238.8 Q317.6,247.4 318.6,258.7Z" fill="#343434" filter="url(#blur1)"/>
<circle cx="275" cy="285" r="33" fill="#6e6e6e"/>
<path d="M696.9,267.1 Q700.1,275.0 699.2,283.8 Q698.4,292.6 692.1,298.8 Q685.7,305.0 677.7,307.0 Q669.6,309.0 663.0,310.1 Q656.4,311.1 649.8,312.1 Q643.3,313.2 635.9,312.7 Q628.5,312.2 619.9,309.9 Q611.2,307.5 603.8,301.0 Q596.4,294.5 596.8,284.8 Q597.3,275.0 604.6,268.1 Q611.9,261.1 617.3,256.6 Q622.7,252.1 626.0,245.7 Q629.3,239.2 635.6,234.2 Q641.9,229.2 649.9,229.7 Q657.9,230.2 664.9,233.7 Q671.8,237.2 677.8,241.9 Q683.8,246.6 688.7,252.9 Q693.6,259.1 696.9,267.1Z" fill="#343434" filter="url(#blur1)"/>
<circle cx="660" cy="290" r="22" fill="#6e6e6e"/>
<path d="M782.2,424.2 Q788.3,430.0 788.0,437.7 Q787.7,445.4 780.3,450.0 Q772.8,454.5 766.8,458.2 Q760.7,461.9 754.7,467.6 Q748.6,473.4 739.9,473.9 Q731.2,474.5 724.8,468.9 Q718.4,463.3 713.4,458.4 Q708.4,453.6 703.0,448.6 Q697.5,443.7 696.9,436.9 Q696.2,430.0 699.3,423.9 Q702.5,417.9 704.8,411.6 Q707.0,405.4 711.1,398.6 Q715.2,391.8 723.1,388.1 Q731.0,384.5 739.8,385.5 Q748.6,386.4 755.2,391.4 Q761.8,396.4 764.9,402.8 Q768.0,409.1 772.0,413.7 Q776.0,418.3 782.2,424.2Z" fill="#343434" filter="url(#blur1)"/>
<circle cx="740" cy="435" r="12" fill="#6e6e6e"/>
<path d="M671.4,512.9 Q673.6,520.0 671.4,527.1 Q669.1,534.2 663.3,538.7 Q657.6,543.1 652.2,546.2 Q646.8,549.2 641.7,553.4 Q636.6,557.6 629.6,560.1 Q622.5,562.6 615.6,559.8 Q608.7,556.9 604.3,551.1 Q600.0,545.2 596.2,539.4 Q592.4,533.7 589.3,526.8 Q586.3,520.0 587.8,512.6 Q589.3,505.2 595.3,500.5 Q601.2,495.8 607.1,493.3 Q613.1,490.7 618.4,487.3 Q623.6,484.0 630.4,481.6 Q637.2,479.3 644.2,481.2 Q651.2,483.2 656.4,488.4 Q661.5,493.6 665.4,499.6 Q669.3,505.7 671.4,512.9Z" fill="#343434" filter="url(#blur1)"/>
<circle cx="630" cy="525" r="18" fill="#6e6e6e"/>
<path d="M547.0,91.0 Q549.3,100.0 545.9,108.6 Q542.4,117.1 536.2,122.5 Q529.9,127.9 525.6,134.3 Q521.2,140.7 514.9,147.4 Q508.6,154.1 500.1,153.6 Q491.6,153.2 485.0,147.4 Q478.4,141.6 473.4,135.5 Q468.4,129.5 464.7,122.6 Q461.0,115.8 458.5,107.9 Q456.0,100.0 454.1,90.3 Q452.1,80.6 455.5,71.1 Q458.8,61.6 468.2,59.3 Q477.6,56.9 485.7,58.8 Q493.7,60.6 500.3,58.7 Q506.9,56.7 515.0,56.1 Q523.2,55.4 529.7,60.8 Q536.1,66.3 540.4,74.1 Q544.7,81.9 547.0,91.0Z" fill="#343434" filter="url(#blur1)"/>
<circle cx="500" cy="105" r="10" fill="#6e6e6e"/>
<path d="M102.4,331.9 Q105.2,340.0 103.1,348.4 Q101.1,356.8 94.7,361.8 Q88.3,366.8 82.6,369.9 Q76.9,373.0 72.0,378.8 Q67.0,384.6 59.6,387.4 Q52.1,390.2 45.9,385.0 Q39.6,379.7 35.6,373.2 Q31.6,366.8 26.7,361.2 Q21.9,355.6 20.5,347.8 Q19.1,340.0 22.7,333.1 Q26.3,326.2 28.7,319.4 Q31.0,312.6 34.0,303.8 Q36.9,295.0 44.5,292.0 Q52.0,289.0 59.2,293.9 Q66.5,298.8 71.5,303.3 Q76.6,307.7 82.5,310.5 Q88.3,313.2 93.9,318.5 Q99.5,323.8 102.4,331.9Z" fill="#343434" filter="url(#blur1)"/>
<circle cx="60" cy="345" r="8" fill="#6e6e6e"/>
<path d="M494.8,536.5 Q495.9,540.0 494.3,543.3 Q492.6,546.6 490.6,549.5 Q488.5,552.4 485.9,555.4 Q483.3,558.5 479.0,559.7 Q474.6,560.9 470.3,559.6 Q466.0,558.3 462.2,557.2 Q458.4,556.1 453.9,555.0 Q449.5,553.8 447.0,550.6 Q444.5,547.4 445.4,543.7 Q446.4,540.0 447.7,537.0 Q449.1,533.9 450.1,530.6 Q451.2,527.4 453.9,524.4 Q456.7,521.5 461.0,520.2 Q465.3,518.9 469.9,519.4 Q474.4,519.9 478.2,521.7 Q481.9,523.5 485.0,525.7 Q488.0,527.9 490.9,530.5 Q493.8,533.1 494.8,536.5Z" fill="#343434" filter="url(#blur1)"/>
<circle cx="470" cy="545" r="7" fill="#6e6e6e"/>
<path d="M456.8,382.9 Q464.6,390.0 466.2,400.5 Q467.7,411.0 457.1,415.8 Q446.5,420.6 436.7,419.9 Q426.9,419.2 421.9,424.3 Q417.0,429.4 409.2,434.1 Q401.4,438.8 394.8,433.3 Q388.1,427.9 385.1,420.7 Q382.1,413.4 376.6,408.8 Q371.1,404.2 365.8,397.1 Q360.5,390.0 360.7,381.1 Q361.0,372.1 365.3,364.2 Q369.7,356.2 377.6,351.9 Q385.5,347.5 394.2,348.6 Q402.9,349.7 409.7,351.5 Q416.5,353.3 423.1,354.6 Q429.7,355.9 434.8,360.4 Q439.9,364.9 444.5,370.4 Q449.1,375.8 456.8,382.9Z" fill="#383838" filter="url(#blur1)"/>
<path d="M742.7,354.2 Q747.3,360.0 743.7,366.1 Q740.0,372.1 731.6,375.4 Q723.3,378.6 715.7,379.8 Q708.1,380.9 702.4,383.1 Q696.7,385.3 689.3,387.8 Q682.0,390.4 674.2,388.8 Q666.5,387.1 662.3,382.5 Q658.1,377.9 653.7,373.9 Q649.4,369.9 644.3,364.9 Q639.2,360.0 640.7,354.2 Q642.2,348.4 648.9,344.6 Q655.6,340.8 661.7,337.5 Q667.7,334.2 674.8,331.8 Q681.9,329.3 689.5,331.2 Q697.1,333.1 702.1,336.7 Q707.0,340.4 713.4,341.8 Q719.8,343.3 729.0,345.8 Q738.1,348.3 742.7,354.2Z" fill="#383838" filter="url(#blur1)"/>
<path d="M834.3,433.4 Q836.7,440.0 836.9,447.7 Q837.1,455.4 832.1,460.7 Q827.1,466.0 821.1,468.0 Q815.1,469.9 810.2,472.3 Q805.3,474.7 799.7,476.5 Q794.1,478.4 788.1,476.8 Q782.2,475.3 777.3,470.8 Q772.5,466.4 769.2,460.3 Q765.8,454.2 764.1,447.1 Q762.4,440.0 762.8,432.4 Q763.3,424.7 767.5,418.8 Q771.7,412.9 778.3,411.5 Q784.9,410.2 790.1,409.9 Q795.3,409.5 800.5,406.1 Q805.8,402.6 812.8,401.6 Q819.9,400.7 824.4,406.5 Q828.8,412.3 830.4,419.5 Q831.9,426.7 834.3,433.4Z" fill="#383838" filter="url(#blur1)"/>
<path d="M178.1,405.2 Q177.3,410.0 178.8,415.2 Q180.3,420.3 180.9,427.8 Q181.5,435.3 178.4,441.1 Q175.3,447.0 170.2,448.8 Q165.1,450.7 160.2,449.4 Q155.2,448.1 151.7,443.4 Q148.2,438.7 147.0,432.7 Q145.8,426.7 143.9,422.9 Q142.1,419.1 137.8,414.6 Q133.6,410.0 132.2,402.6 Q130.9,395.2 135.1,390.5 Q139.4,385.8 144.4,385.0 Q149.3,384.2 152.7,381.6 Q156.1,379.1 160.5,375.2 Q164.9,371.3 170.1,372.0 Q175.4,372.6 178.1,379.1 Q180.7,385.6 179.9,393.0 Q179.0,400.3 178.1,405.2Z" fill="#383838" filter="url(#blur1)"/>
<path d="M285.1,486.3 Q292.9,490.0 297.9,497.2 Q303.0,504.5 296.4,509.8 Q289.8,515.0 279.6,515.2 Q269.5,515.3 262.7,515.2 Q255.9,515.2 250.0,515.2 Q244.0,515.3 239.1,513.0 Q234.1,510.6 229.3,508.3 Q224.6,506.0 217.3,503.5 Q209.9,500.9 205.1,495.5 Q200.3,490.0 203.0,484.0 Q205.8,477.9 212.2,474.1 Q218.7,470.3 224.9,467.9 Q231.1,465.4 237.2,463.4 Q243.3,461.3 250.2,460.4 Q257.2,459.5 263.3,462.1 Q269.4,464.7 271.4,470.0 Q273.3,475.3 275.3,478.9 Q277.2,482.6 285.1,486.3Z" fill="#383838" filter="url(#blur1)"/>
<path d="M915.0,286.2 Q915.1,290.0 914.3,293.6 Q913.5,297.1 911.9,300.7 Q910.3,304.2 908.3,308.9 Q906.3,313.6 901.5,317.5 Q896.7,321.5 890.2,320.5 Q883.7,319.6 879.5,315.4 Q875.4,311.1 872.6,307.6 Q869.8,304.1 867.3,300.9 Q864.8,297.6 864.0,293.8 Q863.1,290.0 863.3,286.0 Q863.4,281.9 864.9,277.7 Q866.3,273.5 870.4,270.5 Q874.5,267.6 879.6,266.3 Q884.7,265.0 890.2,263.9 Q895.8,262.8 901.6,263.7 Q907.5,264.7 910.8,268.9 Q914.1,273.2 914.5,277.8 Q915.0,282.4 915.0,286.2Z" fill="#383838" filter="url(#blur1)"/>
<path d="M55.7,181.8 Q57.5,190.0 55.4,198.1 Q53.4,206.2 48.2,210.9 Q43.0,215.7 37.1,215.8 Q31.2,215.9 27.4,216.7 Q23.6,217.4 19.3,222.5 Q15.0,227.6 8.6,229.4 Q2.2,231.1 -1.7,224.9 Q-5.7,218.7 -6.3,210.9 Q-7.0,203.1 -8.1,196.5 Q-9.2,190.0 -9.9,182.6 Q-10.6,175.1 -8.2,168.2 Q-5.7,161.2 -0.8,157.4 Q4.2,153.6 9.7,153.9 Q15.3,154.2 19.6,157.0 Q24.0,159.8 27.9,161.2 Q31.9,162.6 37.5,163.4 Q43.1,164.2 48.5,168.9 Q53.9,173.5 55.7,181.8Z" fill="#383838" filter="url(#blur1)"/>
<path d="M373.2,225.0 Q373.3,230.0 370.2,234.1 Q367.2,238.2 363.3,240.9 Q359.4,243.6 356.0,245.9 Q352.6,248.1 348.8,250.9 Q345.0,253.6 339.6,255.5 Q334.2,257.4 328.4,256.3 Q322.6,255.2 319.1,251.1 Q315.7,247.0 315.0,242.4 Q314.3,237.8 313.8,233.9 Q313.3,230.0 312.5,225.7 Q311.7,221.4 313.1,216.8 Q314.5,212.2 319.3,209.6 Q324.1,207.0 329.7,207.3 Q335.2,207.5 339.8,208.3 Q344.4,209.2 349.3,209.4 Q354.1,209.6 359.7,211.0 Q365.3,212.3 369.3,216.1 Q373.2,219.9 373.2,225.0Z" fill="#383838" filter="url(#blur1)"/>
<path d="M925.7,555.5 Q926.5,560.0 925.6,564.5 Q924.7,569.0 922.1,572.7 Q919.5,576.4 917.4,581.4 Q915.3,586.5 910.9,591.8 Q906.6,597.2 900.2,596.0 Q893.8,594.9 890.0,589.4 Q886.2,583.8 882.5,580.8 Q878.7,577.8 873.9,574.6 Q869.0,571.3 869.3,565.6 Q869.6,560.0 873.7,556.0 Q877.8,551.9 879.6,548.1 Q881.4,544.4 883.1,539.0 Q884.8,533.7 889.5,530.2 Q894.1,526.6 900.1,526.0 Q906.1,525.4 911.7,527.6 Q917.4,529.9 920.4,535.1 Q923.5,540.3 924.2,545.6 Q925.0,550.9 925.7,555.5Z" fill="#383838" filter="url(#blur1)"/>
<path d="M129.4,75.9 Q131.5,80.0 130.8,84.6 Q130.0,89.1 127.6,93.4 Q125.3,97.7 121.0,101.0 Q116.8,104.3 111.0,104.2 Q105.1,104.2 100.5,101.8 Q95.9,99.3 91.9,98.3 Q88.0,97.4 82.1,97.0 Q76.3,96.6 71.5,93.3 Q66.7,90.1 66.6,85.1 Q66.5,80.0 69.4,75.8 Q72.4,71.6 75.5,68.3 Q78.7,65.1 82.0,61.9 Q85.3,58.8 89.9,56.4 Q94.5,54.1 100.0,54.3 Q105.4,54.5 109.7,57.2 Q114.0,59.9 117.2,62.8 Q120.4,65.8 123.8,68.7 Q127.3,71.7 129.4,75.9Z" fill="#383838" filter="url(#blur1)"/>
<path d="M67.7,474.8 Q66.8,480.0 66.1,484.6 Q65.5,489.3 64.8,494.8 Q64.2,500.3 60.9,505.4 Q57.6,510.5 51.8,512.3 Q46.0,514.0 40.4,511.6 Q34.8,509.2 31.4,505.1 Q27.9,500.9 25.2,497.8 Q22.5,494.7 18.1,492.1 Q13.7,489.6 9.4,484.8 Q5.1,480.0 5.2,473.7 Q5.2,467.3 9.9,463.0 Q14.6,458.6 20.3,457.3 Q26.1,455.9 30.9,455.5 Q35.6,455.1 40.2,454.2 Q44.7,453.4 50.1,453.2 Q55.6,453.0 60.5,455.8 Q65.4,458.7 67.1,464.1 Q68.7,469.5 67.7,474.8Z" fill="#383838" filter="url(#blur1)"/>
<circle cx="17.1" cy="336.6" r="3.6" fill="#3c3c3c"/>
<circle cx="212.5" cy="319.0" r="2.0" fill="#3c3c3c"/>
<circle cx="33.8" cy="584.2" r="4.7" fill="#3c3c3c"/>
<circle cx="64.8" cy="398.1" r="3.5" fill="#3c3c3c"/>
<circle cx="502.9" cy="510.2" r="3.9" fill="#3c3c3c"/>
<circle cx="878.8" cy="413.8" r="4.7" fill="#3c3c3c"/>
<circle cx="108.7" cy="499.1" r="3.0" fill="#3c3c3c"/>
<circle cx="860.0" cy="480.4" r="4.9" fill="#3c3c3c"/>
<circle cx="705.4" cy="237.2" r="3.6" fill="#3c3c3c"/>
<circle cx="730.9" cy="35.2" r="3.6" fill="#3c3c3c"/>
<circle cx="530.6" cy="435.8" r="3.0" fill="#3c3c3c"/>
<circle cx="566.1" cy="446.8" r="3.1" fill="#3c3c3c"/>
<circle cx="636.7" cy="548.4" r="3.1" fill="#3c3c3c"/>
<circle cx="491.4" cy="293.7" r="4.5" fill="#3c3c3c"/>
<circle cx="252.1" cy="173.7" r="3.2" fill="#3c3c3c"/>
<circle cx="609.3" cy="93.8" r="4.9" fill="#3c3c3c"/>
<circle cx="469.8" cy="443.4" r="3.2" fill="#3c3c3c"/>
<circle cx="25.5" cy="234.0" r="3.7" fill="#3c3c3c"/>
<circle cx="84.4" cy="594.9" r="3.8" fill="#3c3c3c"/>
<circle cx="428.8" cy="17.5" r="2.7" fill="#3c3c3c"/>
<circle cx="315.0" cy="394.3" r="2.5" fill="#3c3c3c"/>
<circle cx="453.0" cy="164.3" r="3.7" fill="#3c3c3c"/>
<circle cx="642.7" cy="314.4" r="4.3" fill="#3c3c3c"/>
<circle cx="581.6" cy="50.8" r="4.0" fill="#3c3c3c"/>
<circle cx="451.9" cy="460.8" r="4.8" fill="#3c3c3c"/>
<circle cx="328.4" cy="516.0" r="2.7" fill="#3c3c3c"/>
<circle cx="607.2" cy="3.3" r="4.5" fill="#3c3c3c"/>
<circle cx="416.6" cy="276.0" r="3.5" fill="#3c3c3c"/>
<circle cx="347.8" cy="139.6" r="4.1" fill="#3c3c3c"/>
<circle cx="585.7" cy="33.1" r="2.8" fill="#3c3c3c"/>
<circle cx="870.2" cy="171.7" r="2.9" fill="#3c3c3c"/>
<circle cx="539.9" cy="226.2" r="4.8" fill="#3c3c3c"/>
<circle cx="917.8" cy="78.4" r="2.7" fill="#3c3c3c"/>
<circle cx="159.7" cy="270.0" r="2.9" fill="#3c3c3c"/>
<circle cx="629.9" cy="537.5" r="2.2" fill="#3c3c3c"/>
<circle cx="24.4" cy="68.1" r="2.9" fill="#3c3c3c"/>
<circle cx="125.0" cy="262.1" r="3.1" fill="#3c3c3c"/>
<circle cx="679.3" cy="587.0" r="4.9" fill="#3c3c3c"/>
<circle cx="392.8" cy="390.4" r="2.4" fill="#3c3c3c"/>
<circle cx="570.2" cy="536.3" r="4.7" fill="#3c3c3c"/>
<circle cx="130.9" cy="100.8" r="4.7" fill="#3c3c3c"/>
<circle cx="651.3" cy="462.8" r="2.2" fill="#3c3c3c"/>
<circle cx="577.7" cy="13.9" r="4.2" fill="#3c3c3c"/>
<circle cx="742.2" cy="195.5" r="2.0" fill="#3c3c3c"/>
<circle cx="684.6" cy="606.0" r="3.9" fill="#3c3c3c"/>
<circle cx="341.9" cy="199.7" r="4.4" fill="#3c3c3c"/>
<circle cx="904.7" cy="221.6" r="2.7" fill="#3c3c3c"/>
<circle cx="930.7" cy="259.5" r="3.3" fill="#3c3c3c"/>
<circle cx="290.3" cy="440.0" r="4.9" fill="#3c3c3c"/>
<circle cx="438.2" cy="519.0" r="3.2" fill="#3c3c3c"/>
<circle cx="394.2" cy="486.9" r="4.9" fill="#3c3c3c"/>
<circle cx="705.3" cy="427.8" r="4.5" fill="#3c3c3c"/>
<circle cx="858.5" cy="578.7" r="3.6" fill="#3c3c3c"/>
<circle cx="362.2" cy="4.3" r="3.6" fill="#3c3c3c"/>
<circle cx="331.8" cy="0.2" r="5.0" fill="#3c3c3c"/>
<circle cx="287.2" cy="565.7" r="2.0" fill="#3c3c3c"/>
<circle cx="336.1" cy="475.7" r="4.0" fill="#3c3c3c"/>
<circle cx="628.5" cy="296.3" r="2.3" fill="#3c3c3c"/>
<circle cx="776.4" cy="462.0" r="3.4" fill="#3c3c3c"/>
<circle cx="524.9" cy="488.0" r="3.5" fill="#3c3c3c"/>
<circle cx="444.2" cy="294.1" r="4.2" fill="#3c3c3c"/>
<circle cx="687.0" cy="203.2" r="4.3" fill="#3c3c3c"/>
<circle cx="350.8" cy="408.9" r="3.1" fill="#3c3c3c"/>
<circle cx="839.9" cy="570.7" r="4.3" fill="#3c3c3c"/>
<circle cx="356.0" cy="213.2" r="3.3" fill="#3c3c3c"/>
<circle cx="564.8" cy="20.5" r="3.6" fill="#3c3c3c"/>
<circle cx="867.2" cy="39.0" r="4.7" fill="#3c3c3c"/>
<circle cx="534.4" cy="605.6" r="4.2" fill="#3c3c3c"/>
<circle cx="671.4" cy="457.1" r="3.3" fill="#3c3c3c"/>
<circle cx="110.1" cy="518.8" r="4.6" fill="#3c3c3c"/>
<circle cx="673.7" cy="132.1" r="3.5" fill="#3c3c3c"/>
<circle cx="480.5" cy="221.0" r="3.5" fill="#3c3c3c"/>
<circle cx="427.3" cy="595.2" r="3.9" fill="#3c3c3c"/>
<circle cx="911.9" cy="551.4" r="2.5" fill="#3c3c3c"/>
<circle cx="720.4" cy="231.3" r="3.8" fill="#3c3c3c"/>
<circle cx="525.9" cy="449.0" r="2.9" fill="#3c3c3c"/>
<circle cx="633.2" cy="224.4" r="4.3" fill="#3c3c3c"/>
<circle cx="461.0" cy="390.5" r="5.0" fill="#3c3c3c"/>
<circle cx="261.8" cy="2.9" r="4.7" fill="#3c3c3c"/>
<circle cx="490.2" cy="392.2" r="4.5" fill="#3c3c3c"/>
<circle cx="831.7" cy="234.3" r="5.0" fill="#3c3c3c"/>
<circle cx="364.7" cy="441.1" r="4.5" fill="#3c3c3c"/>
<circle cx="338.8" cy="254.9" r="3.1" fill="#3c3c3c"/>
<circle cx="319.5" cy="250.1" r="4.5" fill="#3c3c3c"/>
<circle cx="56.6" cy="600.5" r="4.4" fill="#3c3c3c"/>
<circle cx="522.5" cy="389.8" r="2.9" fill="#3c3c3c"/>
<circle cx="714.2" cy="530.6" r="3.1" fill="#3c3c3c"/>
<circle cx="466.3" cy="132.9" r="2.8" fill="#3c3c3c"/>
<circle cx="795.8" cy="389.8" r="3.3" fill="#3c3c3c"/>
<circle cx="598.0" cy="112.4" r="2.0" fill="#3c3c3c"/>
<circle cx="333.6" cy="349.2" r="2.6" fill="#3c3c3c"/>
<circle cx="506.0" cy="197.3" r="2.8" fill="#3c3c3c"/>
<circle cx="691.2" cy="219.0" r="4.2" fill="#3c3c3c"/>
<circle cx="700.0" cy="228.0" r="2.1" fill="#3c3c3c"/>
<circle cx="787.2" cy="334.8" r="3.7" fill="#3c3c3c"/>
<circle cx="640.2" cy="333.0" r="4.7" fill="#3c3c3c"/>
<circle cx="8.2" cy="587.9" r="3.8" fill="#3c3c3c"/>
<circle cx="380.4" cy="550.7" r="4.7" fill="#3c3c3c"/>
<circle cx="557.0" cy="5.8" r="3.9" fill="#3c3c3c"/>
<circle cx="385.0" cy="348.3" r="4.5" fill="#3c3c3c"/>
<circle cx="123.1" cy="512.6" r="2.9" fill="#3c3c3c"/>
<circle cx="234.7" cy="22.7" r="2.3" fill="#3c3c3c"/>
<circle cx="250.1" cy="321.1" r="4.8" fill="#3c3c3c"/>
<circle cx="160.6" cy="175.4" r="3.1" fill="#3c3c3c"/>
<circle cx="597.8" cy="214.8" r="4.0" fill="#3c3c3c"/>
<circle cx="140.4" cy="26.6" r="3.7" fill="#3c3c3c"/>
<circle cx="676.0" cy="81.3" r="2.1" fill="#3c3c3c"/>
<circle cx="624.6" cy="39.8" r="4.8" fill="#3c3c3c"/>
<circle cx="645.0" cy="97.4" r="3.2" fill="#3c3c3c"/>
<circle cx="52.0" cy="53.2" r="3.1" fill="#3c3c3c"/>
<circle cx="819.7" cy="552.1" r="4.3" fill="#3c3c3c"/>
<circle cx="595.4" cy="354.6" r="3.5" fill="#3c3c3c"/>
<circle cx="612.7" cy="301.5" r="3.2" fill="#3c3c3c"/>
<circle cx="781.6" cy="182.7" r="3.2" fill="#3c3c3c"/>
<circle cx="634.4" cy="585.1" r="3.0" fill="#3c3c3c"/>
<circle cx="404.6" cy="244.0" r="2.6" fill="#3c3c3c"/>
<circle cx="331.4" cy="479.3" r="2.6" fill="#3c3c3c"/>
<circle cx="446.0" cy="172.4" r="3.7" fill="#3c3c3c"/>
<circle cx="722.2" cy="70.1" r="3.5" fill="#3c3c3c"/>
<circle cx="175.1" cy="392.4" r="4.0" fill="#3c3c3c"/>
<circle cx="206.6" cy="140.0" r="2.9" fill="#3c3c3c"/>
<circle cx="306.7" cy="541.9" r="4.6" fill="#3c3c3c"/>
<circle cx="739.2" cy="239.1" r="3.4" fill="#3c3c3c"/>
<circle cx="187.9" cy="279.4" r="4.9" fill="#3c3c3c"/>
<circle cx="85.3" cy="239.4" r="2.6" fill="#3c3c3c"/>
<circle cx="789.2" cy="183.0" r="3.5" fill="#3c3c3c"/>
<circle cx="48.6" cy="419.2" r="3.5" fill="#3c3c3c"/>
<circle cx="748.0" cy="437.9" r="4.2" fill="#3c3c3c"/>
<circle cx="245.4" cy="152.3" r="3.8" fill="#3c3c3c"/>
<circle cx="46.0" cy="568.7" r="4.2" fill="#3c3c3c"/>
<circle cx="460.9" cy="219.3" r="2.2" fill="#3c3c3c"/>
<circle cx="517.8" cy="469.3" r="2.4" fill="#3c3c3c"/>
<circle cx="92.5" cy="416.2" r="3.4" fill="#3c3c3c"/>
<circle cx="739.4" cy="249.8" r="4.9" fill="#3c3c3c"/>
<circle cx="815.0" cy="195.1" r="3.6" fill="#3c3c3c"/>
<circle cx="548.1" cy="273.4" r="4.5" fill="#3c3c3c"/>
<circle cx="658.7" cy="496.9" r="2.8" fill="#3c3c3c"/>
<circle cx="471.5" cy="329.9" r="3.8" fill="#3c3c3c"/>
<circle cx="15.0" cy="493.0" r="3.3" fill="#3c3c3c"/>
<circle cx="148.5" cy="518.9" r="3.7" fill="#3c3c3c"/>
<circle cx="691.5" cy="449.1" r="3.9" fill="#3c3c3c"/>
<circle cx="853.8" cy="33.9" r="3.0" fill="#3c3c3c"/>
<circle cx="153.0" cy="386.2" r="2.7" fill="#3c3c3c"/>
<circle cx="26.4" cy="82.7" r="2.5" fill="#3c3c3c"/>
<circle cx="504.6" cy="276.4" r="3.4" fill="#3c3c3c"/>
<circle cx="11.4" cy="320.6" r="2.8" fill="#3c3c3c"/>
<circle cx="85.4" cy="34.4" r="2.5" fill="#3c3c3c"/>
<circle cx="374.4" cy="101.2" r="3.4" fill="#3c3c3c"/>
<circle cx="152.8" cy="446.2" r="4.6" fill="#3c3c3c"/>
<circle cx="302.3" cy="43.6" r="4.9" fill="#3c3c3c"/>
<circle cx="78.6" cy="394.5" r="4.3" fill="#3c3c3c"/>
<circle cx="451.1" cy="540.9" r="2.4" fill="#3c3c3c"/>
<circle cx="672.9" cy="550.6" r="4.7" fill="#3c3c3c"/>
<circle cx="793.0" cy="264.9" r="3.5" fill="#3c3c3c"/>
<circle cx="792.7" cy="230.5" r="2.8" fill="#3c3c3c"/>
<circle cx="29.3" cy="123.9" r="2.4" fill="#3c3c3c"/>
<circle cx="868.0" cy="187.6" r="3.1" fill="#3c3c3c"/>
<circle cx="910.2" cy="419.4" r="3.3" fill="#3c3c3c"/>
<circle cx="98.5" cy="221.7" r="2.9" fill="#3c3c3c"/>
<circle cx="885.9" cy="255.4" r="4.9" fill="#3c3c3c"/>
<circle cx="252.3" cy="28.8" r="4.7" fill="#3c3c3c"/>
<circle cx="70.1" cy="478.4" r="3.8" fill="#3c3c3c"/>
<circle cx="265.1" cy="506.3" r="3.3" fill="#3c3c3c"/>
<circle cx="918.6" cy="338.7" r="4.8" fill="#3c3c3c"/>
<circle cx="869.1" cy="228.3" r="4.1" fill="#3c3c3c"/>
<circle cx="680.0" cy="397.6" r="2.1" fill="#3c3c3c"/>
<circle cx="642.7" cy="462.4" r="2.6" fill="#3c3c3c"/>
<circle cx="88.9" cy="40.9" r="3.6" fill="#3c3c3c"/>
<circle cx="99.2" cy="514.6" r="3.2" fill="#3c3c3c"/>
<circle cx="929.8" cy="445.5" r="3.3" fill="#3c3c3c"/>
<circle cx="170.5" cy="258.9" r="3.8" fill="#3c3c3c"/>
<circle cx="804.6" cy="541.4" r="3.0" fill="#3c3c3c"/>
<circle cx="21.9" cy="403.5" r="4.1" fill="#3c3c3c"/>
<circle cx="604.6" cy="487.5" r="4.4" fill="#3c3c3c"/>
<circle cx="584.2" cy="498.7" r="2.4" fill="#3c3c3c"/>
<circle cx="883.6" cy="404.5" r="2.3" fill="#3c3c3c"/>
<circle cx="157.3" cy="389.3" r="2.9" fill="#3c3c3c"/>
<circle cx="875.3" cy="169.3" r="3.5" fill="#3c3c3c"/>
<circle cx="470.4" cy="570.6" r="2.9" fill="#3c3c3c"/>
<circle cx="833.2" cy="439.1" r="3.7" fill="#3c3c3c"/>
<circle cx="883.7" cy="536.4" r="4.2" fill="#3c3c3c"/>
<circle cx="509.6" cy="26.6" r="2.7" fill="#3c3c3c"/>
<circle cx="607.8" cy="71.0" r="3.9" fill="#3c3c3c"/>
<circle cx="324.1" cy="235.2" r="4.5" fill="#3c3c3c"/>
<circle cx="785.2" cy="453.8" r="3.3" fill="#3c3c3c"/>
<circle cx="500.7" cy="598.2" r="4.8" fill="#3c3c3c"/>
<circle cx="567.5" cy="47.9" r="4.7" fill="#3c3c3c"/>
<circle cx="42.6" cy="71.1" r="4.0" fill="#3c3c3c"/>
<circle cx="183.4" cy="457.4" r="4.1" fill="#3c3c3c"/>
<circle cx="154.4" cy="551.4" r="5.0" fill="#3c3c3c"/>
<circle cx="613.5" cy="596.2" r="4.4" fill="#3c3c3c"/>
<circle cx="441.9" cy="500.4" r="4.8" fill="#3c3c3c"/>
<circle cx="650.1" cy="50.8" r="3.1" fill="#3c3c3c"/>
<circle cx="657.5" cy="222.1" r="2.5" fill="#3c3c3c"/>
<circle cx="426.1" cy="85.6" r="3.4" fill="#3c3c3c"/>
<circle cx="92.5" cy="441.1" r="2.6" fill="#3c3c3c"/>
<circle cx="874.0" cy="65.1" r="3.9" fill="#3c3c3c"/>
<circle cx="601.0" cy="120.7" r="3.9" fill="#3c3c3c"/>
<circle cx="512.9" cy="373.7" r="2.6" fill="#3c3c3c"/>
<circle cx="445.3" cy="507.4" r="3.9" fill="#3c3c3c"/>
<circle cx="227.6" cy="202.8" r="4.6" fill="#3c3c3c"/>
<circle cx="49.6" cy="290.2" r="3.5" fill="#3c3c3c"/>
<circle cx="401.7" cy="1.6" r="2.3" fill="#3c3c3c"/>
<circle cx="786.5" cy="276.2" r="2.9" fill="#3c3c3c"/>
<circle cx="421.7" cy="31.8" r="2.2" fill="#3c3c3c"/>
<circle cx="774.1" cy="461.1" r="2.6" fill="#3c3c3c"/>
<circle cx="296.5" cy="46.5" r="3.0" fill="#3c3c3c"/>
<circle cx="486.7" cy="456.9" r="3.5" fill="#3c3c3c"/>
<circle cx="791.8" cy="605.9" r="3.7" fill="#3c3c3c"/>
<circle cx="40.5" cy="81.6" r="4.0" fill="#3c3c3c"/>
<circle cx="121.7" cy="545.8" r="2.2" fill="#3c3c3c"/>
<circle cx="51.7" cy="604.5" r="3.2" fill="#3c3c3c"/>
<circle cx="518.5" cy="361.9" r="2.4" fill="#3c3c3c"/>
<circle cx="313.4" cy="223.9" r="4.2" fill="#3c3c3c"/>
<circle cx="730.6" cy="421.7" r="2.5" fill="#3c3c3c"/>
<circle cx="431.0" cy="555.9" r="2.5" fill="#3c3c3c"/>
<circle cx="325.9" cy="373.8" r="5.0" fill="#3c3c3c"/>
<circle cx="23.7" cy="419.5" r="3.4" fill="#3c3c3c"/>
<circle cx="494.0" cy="510.1" r="2.3" fill="#3c3c3c"/>
<circle cx="558.8" cy="192.4" r="4.3" fill="#3c3c3c"/>
<path d="M70,95 L85,125" stroke="#ddd" stroke-width="8"/>
<rect x="150" y="148" width="410" height="302" fill="none" stroke="#fff" stroke-width="9" stroke-dasharray="28,14"/>
<text x="20" y="79" font-size="69" font-weight="normal" fill="#fff" stroke="#fff" stroke-width="3.5"><tspan font-style="italic">CIDEC</tspan>-OE7</text>
<text x="58" y="532" font-size="64" font-weight="bold" fill="#fff">10μm</text>
<line x1="95" y1="577" x2="195" y2="577" stroke="#fff" stroke-width="10"/>
</g></g></g>
<g clip-path="url(#cl_c_b)"><g filter="url(#soft)">
<g transform="translate(701,682) scale(0.21734,0.21746)">
<filter id="nz8" x="0" y="0" width="934" height="607" filterUnits="userSpaceOnUse" primitiveUnits="userSpaceOnUse" color-interpolation-filters="sRGB"><feTurbulence type="fractalNoise" baseFrequency="0.05" numOctaves="4" seed="18"/><feColorMatrix type="matrix" values="0.8 0 0 0 0.078  0.8 0 0 0 0.078  0.8 0 0 0 0.078  0 0 0 0 1"/></filter>
<rect x="0" y="0" width="934" height="607" filter="url(#nz8)" opacity="1.0"/>
<circle cx="667.3" cy="252.4" r="2.6" fill="#484848"/>
<circle cx="714.2" cy="425.4" r="4.3" fill="#484848"/>
<circle cx="696.5" cy="576.0" r="3.0" fill="#484848"/>
<circle cx="644.1" cy="489.7" r="3.1" fill="#484848"/>
<circle cx="843.5" cy="190.4" r="5.8" fill="#484848"/>
<circle cx="543.9" cy="590.5" r="5.5" fill="#484848"/>
<circle cx="730.3" cy="225.0" r="3.8" fill="#484848"/>
<circle cx="548.4" cy="488.7" r="3.7" fill="#484848"/>
<circle cx="839.6" cy="131.6" r="4.1" fill="#484848"/>
<circle cx="135.5" cy="103.7" r="3.2" fill="#484848"/>
<circle cx="44.4" cy="345.9" r="4.5" fill="#484848"/>
<circle cx="369.6" cy="484.2" r="4.2" fill="#484848"/>
<circle cx="638.2" cy="51.8" r="3.3" fill="#484848"/>
<circle cx="19.8" cy="97.0" r="5.4" fill="#484848"/>
<circle cx="126.6" cy="361.8" r="3.5" fill="#484848"/>
<circle cx="628.2" cy="529.0" r="5.3" fill="#484848"/>
<circle cx="901.2" cy="586.3" r="3.6" fill="#484848"/>
<circle cx="922.8" cy="462.9" r="3.1" fill="#484848"/>
<circle cx="306.6" cy="317.8" r="5.4" fill="#484848"/>
<circle cx="92.6" cy="540.9" r="4.7" fill="#484848"/>
<circle cx="553.9" cy="247.0" r="3.5" fill="#484848"/>
<circle cx="379.1" cy="434.4" r="3.8" fill="#484848"/>
<circle cx="666.6" cy="531.9" r="2.3" fill="#484848"/>
<circle cx="17.6" cy="571.3" r="2.8" fill="#484848"/>
<circle cx="760.4" cy="245.7" r="2.9" fill="#484848"/>
<circle cx="11.4" cy="260.2" r="4.4" fill="#484848"/>
<circle cx="50.8" cy="6.9" r="3.1" fill="#484848"/>
<circle cx="822.9" cy="455.3" r="3.0" fill="#484848"/>
<circle cx="376.8" cy="252.8" r="4.8" fill="#484848"/>
<circle cx="266.1" cy="215.6" r="4.0" fill="#484848"/>
<circle cx="221.5" cy="260.5" r="5.0" fill="#484848"/>
<circle cx="471.3" cy="33.9" r="3.4" fill="#484848"/>
<circle cx="532.6" cy="140.6" r="3.6" fill="#484848"/>
<circle cx="522.6" cy="221.2" r="2.7" fill="#484848"/>
<circle cx="817.2" cy="39.8" r="5.6" fill="#484848"/>
<circle cx="88.7" cy="336.3" r="4.2" fill="#484848"/>
<circle cx="382.5" cy="379.9" r="5.5" fill="#484848"/>
<circle cx="298.0" cy="36.5" r="2.8" fill="#484848"/>
<circle cx="820.4" cy="363.5" r="5.0" fill="#484848"/>
<circle cx="363.7" cy="196.6" r="4.8" fill="#484848"/>
<circle cx="530.5" cy="554.4" r="2.6" fill="#484848"/>
<circle cx="320.6" cy="419.6" r="5.6" fill="#484848"/>
<circle cx="435.9" cy="478.1" r="2.4" fill="#484848"/>
<circle cx="597.4" cy="199.8" r="4.8" fill="#484848"/>
<circle cx="277.7" cy="113.4" r="3.1" fill="#484848"/>
<circle cx="675.8" cy="432.4" r="5.7" fill="#484848"/>
<circle cx="386.5" cy="39.7" r="5.2" fill="#484848"/>
<circle cx="239.5" cy="435.8" r="4.0" fill="#484848"/>
<circle cx="414.8" cy="18.6" r="2.9" fill="#484848"/>
<circle cx="698.8" cy="279.1" r="5.5" fill="#484848"/>
<circle cx="753.7" cy="324.0" r="5.9" fill="#484848"/>
<circle cx="2.3" cy="243.3" r="4.1" fill="#484848"/>
<circle cx="50.3" cy="528.7" r="2.6" fill="#484848"/>
<circle cx="542.0" cy="164.6" r="3.5" fill="#484848"/>
<circle cx="434.7" cy="175.7" r="2.7" fill="#484848"/>
<circle cx="623.1" cy="380.1" r="2.3" fill="#484848"/>
<circle cx="908.8" cy="64.6" r="2.9" fill="#484848"/>
<circle cx="262.8" cy="221.2" r="4.0" fill="#484848"/>
<circle cx="843.5" cy="61.4" r="4.3" fill="#484848"/>
<circle cx="583.0" cy="156.3" r="3.4" fill="#484848"/>
<circle cx="415.5" cy="538.4" r="5.1" fill="#484848"/>
<circle cx="448.1" cy="41.9" r="3.4" fill="#484848"/>
<circle cx="762.8" cy="263.6" r="3.6" fill="#484848"/>
<circle cx="596.7" cy="24.6" r="4.6" fill="#484848"/>
<circle cx="640.3" cy="68.4" r="3.7" fill="#484848"/>
<circle cx="799.5" cy="159.2" r="4.1" fill="#484848"/>
<circle cx="322.9" cy="335.5" r="3.6" fill="#484848"/>
<circle cx="321.5" cy="561.3" r="4.8" fill="#484848"/>
<circle cx="932.8" cy="203.2" r="3.9" fill="#484848"/>
<circle cx="341.4" cy="526.2" r="3.5" fill="#484848"/>
<circle cx="635.2" cy="107.4" r="4.2" fill="#484848"/>
<circle cx="251.9" cy="554.6" r="3.5" fill="#484848"/>
<circle cx="889.9" cy="344.0" r="3.4" fill="#484848"/>
<circle cx="514.6" cy="565.1" r="4.8" fill="#484848"/>
<circle cx="769.9" cy="343.8" r="4.5" fill="#484848"/>
<circle cx="130.7" cy="504.9" r="4.6" fill="#484848"/>
<circle cx="605.6" cy="184.5" r="5.1" fill="#484848"/>
<circle cx="492.4" cy="194.5" r="6.0" fill="#484848"/>
<circle cx="721.4" cy="412.1" r="5.4" fill="#484848"/>
<circle cx="650.2" cy="233.5" r="5.8" fill="#484848"/>
<circle cx="846.0" cy="407.5" r="3.7" fill="#484848"/>
<circle cx="467.6" cy="27.7" r="5.6" fill="#484848"/>
<circle cx="776.0" cy="361.0" r="3.9" fill="#484848"/>
<circle cx="750.6" cy="12.9" r="3.6" fill="#484848"/>
<circle cx="234.1" cy="369.0" r="3.4" fill="#484848"/>
<circle cx="567.0" cy="544.7" r="3.6" fill="#484848"/>
<circle cx="107.4" cy="7.9" r="5.3" fill="#484848"/>
<circle cx="437.5" cy="268.0" r="2.1" fill="#484848"/>
<circle cx="96.3" cy="0.4" r="5.6" fill="#484848"/>
<circle cx="44.3" cy="195.3" r="3.9" fill="#484848"/>
<circle cx="535.5" cy="134.9" r="4.6" fill="#484848"/>
<circle cx="597.1" cy="597.8" r="2.4" fill="#484848"/>
<circle cx="276.4" cy="62.4" r="3.2" fill="#484848"/>
<circle cx="199.2" cy="18.4" r="5.2" fill="#484848"/>
<circle cx="257.2" cy="452.1" r="5.3" fill="#484848"/>
<circle cx="743.7" cy="15.2" r="4.3" fill="#484848"/>
<circle cx="795.0" cy="383.8" r="4.4" fill="#484848"/>
<circle cx="397.4" cy="499.3" r="4.1" fill="#484848"/>
<circle cx="328.6" cy="301.0" r="3.9" fill="#484848"/>
<circle cx="174.8" cy="408.3" r="5.3" fill="#484848"/>
<circle cx="610.6" cy="6.3" r="3.6" fill="#484848"/>
<circle cx="715.7" cy="79.6" r="4.0" fill="#484848"/>
<circle cx="638.2" cy="324.3" r="3.3" fill="#484848"/>
<circle cx="15.9" cy="427.4" r="2.7" fill="#484848"/>
<circle cx="561.6" cy="318.3" r="4.9" fill="#484848"/>
<circle cx="104.6" cy="591.1" r="5.0" fill="#484848"/>
<circle cx="815.1" cy="112.0" r="4.9" fill="#484848"/>
<circle cx="353.5" cy="425.0" r="4.8" fill="#484848"/>
<circle cx="381.8" cy="575.2" r="3.8" fill="#484848"/>
<circle cx="436.2" cy="434.1" r="2.6" fill="#484848"/>
<circle cx="836.7" cy="201.6" r="5.5" fill="#484848"/>
<circle cx="135.4" cy="75.2" r="4.4" fill="#484848"/>
<circle cx="224.8" cy="267.0" r="2.8" fill="#484848"/>
<circle cx="676.4" cy="447.6" r="4.7" fill="#484848"/>
<circle cx="125.4" cy="28.6" r="4.3" fill="#484848"/>
<circle cx="76.1" cy="434.7" r="4.2" fill="#484848"/>
<circle cx="870.8" cy="496.6" r="4.6" fill="#484848"/>
<circle cx="772.8" cy="308.1" r="3.2" fill="#484848"/>
<circle cx="57.3" cy="427.0" r="4.7" fill="#484848"/>
<circle cx="590.7" cy="310.7" r="3.8" fill="#484848"/>
<circle cx="858.5" cy="228.5" r="2.6" fill="#484848"/>
<circle cx="888.5" cy="462.2" r="5.6" fill="#484848"/>
<circle cx="920.5" cy="265.0" r="2.6" fill="#484848"/>
<circle cx="460.2" cy="297.5" r="3.5" fill="#484848"/>
<circle cx="734.3" cy="151.8" r="5.9" fill="#484848"/>
<circle cx="198.2" cy="172.3" r="5.3" fill="#484848"/>
<circle cx="218.5" cy="440.0" r="3.1" fill="#484848"/>
<circle cx="382.1" cy="285.1" r="3.0" fill="#484848"/>
<circle cx="768.9" cy="571.1" r="5.7" fill="#484848"/>
<circle cx="148.6" cy="15.6" r="3.8" fill="#484848"/>
<circle cx="691.4" cy="332.1" r="5.8" fill="#484848"/>
<circle cx="922.4" cy="414.4" r="3.0" fill="#484848"/>
<circle cx="375.1" cy="39.6" r="3.6" fill="#484848"/>
<circle cx="701.6" cy="192.0" r="2.7" fill="#484848"/>
<circle cx="503.2" cy="543.9" r="4.6" fill="#484848"/>
<circle cx="102.8" cy="262.0" r="2.9" fill="#484848"/>
<circle cx="758.4" cy="253.9" r="3.8" fill="#484848"/>
<circle cx="819.7" cy="180.2" r="3.8" fill="#484848"/>
<circle cx="915.7" cy="186.1" r="4.2" fill="#484848"/>
<circle cx="605.6" cy="203.3" r="4.5" fill="#484848"/>
<circle cx="393.6" cy="504.5" r="4.2" fill="#484848"/>
<circle cx="678.7" cy="347.9" r="4.8" fill="#484848"/>
<circle cx="364.2" cy="89.7" r="3.5" fill="#484848"/>
<circle cx="304.0" cy="8.7" r="5.1" fill="#484848"/>
<circle cx="490.1" cy="291.4" r="4.8" fill="#484848"/>
<circle cx="62.1" cy="76.3" r="4.9" fill="#484848"/>
<circle cx="38.0" cy="527.5" r="4.0" fill="#484848"/>
<circle cx="903.2" cy="521.5" r="3.6" fill="#484848"/>
<circle cx="321.0" cy="263.4" r="5.1" fill="#484848"/>
<circle cx="431.3" cy="437.1" r="6.0" fill="#484848"/>
<circle cx="699.4" cy="311.7" r="5.0" fill="#484848"/>
<circle cx="461.4" cy="352.6" r="3.7" fill="#484848"/>
<circle cx="873.6" cy="599.2" r="4.3" fill="#484848"/>
<circle cx="521.7" cy="62.6" r="4.3" fill="#484848"/>
<circle cx="867.9" cy="147.1" r="5.1" fill="#484848"/>
<circle cx="237.9" cy="433.2" r="3.1" fill="#484848"/>
<circle cx="556.2" cy="470.5" r="2.1" fill="#484848"/>
<circle cx="784.7" cy="317.8" r="3.0" fill="#484848"/>
<circle cx="287.0" cy="336.6" r="5.0" fill="#484848"/>
<circle cx="166.3" cy="42.6" r="2.9" fill="#484848"/>
<circle cx="592.5" cy="244.7" r="5.1" fill="#484848"/>
<circle cx="679.1" cy="223.2" r="4.4" fill="#484848"/>
<circle cx="136.2" cy="369.9" r="4.6" fill="#484848"/>
<circle cx="220.9" cy="404.5" r="2.6" fill="#484848"/>
<circle cx="907.7" cy="332.5" r="5.7" fill="#484848"/>
<circle cx="624.5" cy="130.3" r="4.9" fill="#484848"/>
<circle cx="574.0" cy="229.7" r="4.8" fill="#484848"/>
<circle cx="710.0" cy="412.6" r="2.9" fill="#484848"/>
<circle cx="901.8" cy="552.1" r="3.7" fill="#484848"/>
<circle cx="865.6" cy="603.1" r="3.4" fill="#484848"/>
<circle cx="178.6" cy="148.1" r="4.0" fill="#484848"/>
<circle cx="134.9" cy="144.0" r="4.9" fill="#484848"/>
<circle cx="17.4" cy="371.5" r="3.6" fill="#484848"/>
<circle cx="663.2" cy="157.1" r="3.9" fill="#484848"/>
<circle cx="198.9" cy="9.6" r="5.5" fill="#484848"/>
<circle cx="342.3" cy="179.2" r="5.7" fill="#484848"/>
<circle cx="345.7" cy="328.4" r="2.6" fill="#484848"/>
<circle cx="384.6" cy="531.3" r="5.3" fill="#484848"/>
<circle cx="764.0" cy="555.2" r="2.9" fill="#484848"/>
<circle cx="49.0" cy="79.0" r="4.6" fill="#484848"/>
<circle cx="509.6" cy="224.1" r="4.8" fill="#484848"/>
<circle cx="205.4" cy="369.0" r="3.7" fill="#484848"/>
<circle cx="130.2" cy="470.8" r="2.7" fill="#484848"/>
<circle cx="747.4" cy="462.0" r="3.7" fill="#484848"/>
<circle cx="423.5" cy="124.5" r="2.6" fill="#484848"/>
<circle cx="650.3" cy="225.1" r="4.3" fill="#484848"/>
<circle cx="343.8" cy="161.6" r="2.7" fill="#484848"/>
<circle cx="712.1" cy="262.8" r="2.6" fill="#484848"/>
<circle cx="815.6" cy="93.5" r="2.9" fill="#484848"/>
<circle cx="146.8" cy="339.7" r="5.1" fill="#484848"/>
<circle cx="29.0" cy="561.4" r="4.8" fill="#484848"/>
<circle cx="776.2" cy="256.1" r="3.7" fill="#484848"/>
<circle cx="87.7" cy="159.3" r="5.5" fill="#484848"/>
<circle cx="266.2" cy="546.8" r="5.3" fill="#484848"/>
<circle cx="859.9" cy="85.3" r="3.7" fill="#484848"/>
<circle cx="778.6" cy="189.0" r="3.0" fill="#484848"/>
<circle cx="19.2" cy="323.8" r="4.2" fill="#484848"/>
<circle cx="197.7" cy="157.2" r="4.5" fill="#484848"/>
<circle cx="161.4" cy="477.1" r="5.5" fill="#484848"/>
<circle cx="392.4" cy="79.1" r="4.3" fill="#484848"/>
<circle cx="275.8" cy="63.7" r="4.8" fill="#484848"/>
<circle cx="522.4" cy="164.7" r="3.0" fill="#484848"/>
<circle cx="676.1" cy="556.5" r="3.4" fill="#484848"/>
<circle cx="546.8" cy="134.0" r="3.9" fill="#484848"/>
<circle cx="542.1" cy="185.2" r="4.4" fill="#484848"/>
<circle cx="506.2" cy="26.4" r="2.5" fill="#484848"/>
<circle cx="386.9" cy="89.7" r="4.2" fill="#484848"/>
<circle cx="554.0" cy="379.5" r="5.5" fill="#484848"/>
<circle cx="568.1" cy="468.3" r="2.5" fill="#484848"/>
<circle cx="815.3" cy="564.3" r="4.4" fill="#484848"/>
<circle cx="773.0" cy="333.9" r="3.7" fill="#484848"/>
<circle cx="149.8" cy="291.7" r="4.9" fill="#484848"/>
<circle cx="741.9" cy="542.5" r="4.1" fill="#484848"/>
<circle cx="882.6" cy="225.8" r="2.1" fill="#484848"/>
<circle cx="398.0" cy="328.3" r="5.1" fill="#484848"/>
<circle cx="218.0" cy="15.3" r="4.9" fill="#484848"/>
<circle cx="178.6" cy="517.0" r="4.3" fill="#484848"/>
<circle cx="126.9" cy="316.2" r="5.1" fill="#484848"/>
<circle cx="209.0" cy="580.1" r="2.2" fill="#484848"/>
<circle cx="138.7" cy="360.9" r="4.7" fill="#484848"/>
<circle cx="562.5" cy="560.5" r="2.8" fill="#484848"/>
<circle cx="43.0" cy="326.2" r="3.4" fill="#484848"/>
<circle cx="370.1" cy="240.1" r="5.5" fill="#484848"/>
<circle cx="266.4" cy="420.1" r="4.3" fill="#484848"/>
<circle cx="265.4" cy="553.6" r="3.0" fill="#484848"/>
<circle cx="280.8" cy="116.9" r="4.8" fill="#484848"/>
<circle cx="647.4" cy="221.6" r="2.5" fill="#484848"/>
<circle cx="556.2" cy="204.8" r="4.2" fill="#484848"/>
<circle cx="612.3" cy="0.8" r="2.2" fill="#484848"/>
<circle cx="764.9" cy="526.8" r="2.3" fill="#484848"/>
<circle cx="208.3" cy="258.8" r="5.3" fill="#484848"/>
<circle cx="288.6" cy="580.6" r="2.4" fill="#484848"/>
<circle cx="845.6" cy="34.6" r="4.4" fill="#484848"/>
<circle cx="907.6" cy="438.1" r="5.7" fill="#484848"/>
<circle cx="328.2" cy="579.8" r="5.6" fill="#484848"/>
<circle cx="256.3" cy="468.4" r="5.7" fill="#484848"/>
<circle cx="199.6" cy="237.7" r="5.1" fill="#484848"/>
<circle cx="535.7" cy="557.1" r="3.7" fill="#484848"/>
<circle cx="418.5" cy="101.6" r="3.1" fill="#484848"/>
<circle cx="817.1" cy="158.6" r="5.6" fill="#484848"/>
<circle cx="749.9" cy="346.2" r="3.2" fill="#484848"/>
<circle cx="1.4" cy="71.6" r="5.3" fill="#484848"/>
<circle cx="895.3" cy="584.2" r="3.1" fill="#484848"/>
<circle cx="874.9" cy="267.3" r="3.5" fill="#484848"/>
<circle cx="848.8" cy="497.5" r="4.7" fill="#484848"/>
<circle cx="267.2" cy="65.0" r="2.7" fill="#484848"/>
<circle cx="245.9" cy="116.5" r="4.3" fill="#484848"/>
<circle cx="293.8" cy="130.8" r="5.5" fill="#484848"/>
<circle cx="344.2" cy="1.9" r="2.0" fill="#484848"/>
<circle cx="515.2" cy="18.0" r="4.2" fill="#484848"/>
<circle cx="23.9" cy="284.9" r="4.5" fill="#484848"/>
<circle cx="504.3" cy="131.2" r="5.4" fill="#484848"/>
<circle cx="908.3" cy="494.0" r="5.7" fill="#484848"/>
<circle cx="907.5" cy="223.2" r="4.2" fill="#484848"/>
<circle cx="386.5" cy="477.4" r="2.7" fill="#484848"/>
<circle cx="211.5" cy="273.8" r="4.2" fill="#484848"/>
<circle cx="925.5" cy="203.9" r="2.0" fill="#484848"/>
<circle cx="362.3" cy="532.2" r="2.4" fill="#484848"/>
<circle cx="484.4" cy="364.0" r="5.4" fill="#484848"/>
<circle cx="305.6" cy="368.6" r="5.8" fill="#484848"/>
<circle cx="908.2" cy="342.9" r="3.4" fill="#484848"/>
<circle cx="607.3" cy="443.3" r="4.7" fill="#484848"/>
<circle cx="630.6" cy="233.5" r="4.9" fill="#484848"/>
<circle cx="328.5" cy="141.2" r="2.4" fill="#484848"/>
<circle cx="516.8" cy="103.3" r="3.1" fill="#484848"/>
<circle cx="277.9" cy="225.7" r="3.7" fill="#484848"/>
<circle cx="910.4" cy="319.5" r="4.2" fill="#484848"/>
<circle cx="374.1" cy="332.4" r="5.3" fill="#484848"/>
<circle cx="488.2" cy="311.0" r="3.4" fill="#484848"/>
<circle cx="173.0" cy="129.3" r="2.4" fill="#484848"/>
<circle cx="265.7" cy="24.6" r="3.7" fill="#484848"/>
<circle cx="535.2" cy="69.6" r="5.0" fill="#484848"/>
<circle cx="421.9" cy="378.6" r="3.7" fill="#484848"/>
<circle cx="742.0" cy="412.6" r="2.5" fill="#484848"/>
<circle cx="512.6" cy="160.7" r="5.0" fill="#484848"/>
<circle cx="346.1" cy="136.0" r="2.1" fill="#484848"/>
<circle cx="921.0" cy="72.3" r="3.0" fill="#484848"/>
<circle cx="869.4" cy="30.9" r="3.6" fill="#484848"/>
<circle cx="404.3" cy="412.9" r="5.1" fill="#484848"/>
<circle cx="910.2" cy="193.4" r="2.3" fill="#484848"/>
<circle cx="201.2" cy="3.0" r="3.1" fill="#484848"/>
<circle cx="579.3" cy="542.8" r="2.4" fill="#484848"/>
<circle cx="250.4" cy="539.8" r="4.3" fill="#484848"/>
<circle cx="373.2" cy="43.7" r="2.2" fill="#484848"/>
<circle cx="203.0" cy="374.1" r="2.2" fill="#484848"/>
<circle cx="469.5" cy="496.4" r="2.0" fill="#484848"/>
<circle cx="268.5" cy="251.0" r="4.4" fill="#484848"/>
<circle cx="687.2" cy="411.9" r="3.7" fill="#484848"/>
<circle cx="315.7" cy="380.2" r="3.8" fill="#484848"/>
<circle cx="867.8" cy="321.2" r="4.3" fill="#484848"/>
<circle cx="622.0" cy="292.8" r="4.0" fill="#484848"/>
<circle cx="619.8" cy="364.0" r="6.0" fill="#484848"/>
<circle cx="285.1" cy="300.1" r="5.9" fill="#484848"/>
<circle cx="760.8" cy="336.3" r="3.2" fill="#484848"/>
<circle cx="166.8" cy="252.5" r="3.7" fill="#484848"/>
<circle cx="403.8" cy="155.4" r="3.9" fill="#484848"/>
<circle cx="535.9" cy="61.9" r="4.6" fill="#484848"/>
<circle cx="663.2" cy="118.6" r="3.0" fill="#484848"/>
<circle cx="35.7" cy="286.3" r="4.7" fill="#484848"/>
<circle cx="384.6" cy="357.5" r="4.4" fill="#484848"/>
<circle cx="41.4" cy="32.6" r="4.0" fill="#484848"/>
<circle cx="863.6" cy="428.6" r="3.8" fill="#484848"/>
<circle cx="242.5" cy="80.1" r="4.6" fill="#484848"/>
<circle cx="714.1" cy="238.4" r="2.3" fill="#484848"/>
<circle cx="258.8" cy="429.3" r="5.1" fill="#484848"/>
<circle cx="373.9" cy="538.5" r="3.6" fill="#484848"/>
<circle cx="22.0" cy="124.2" r="5.6" fill="#484848"/>
<circle cx="659.0" cy="52.6" r="3.1" fill="#484848"/>
<circle cx="368.7" cy="292.1" r="2.1" fill="#484848"/>
<circle cx="861.0" cy="322.4" r="3.1" fill="#484848"/>
<circle cx="29.4" cy="346.7" r="5.7" fill="#484848"/>
<circle cx="671.2" cy="521.3" r="5.5" fill="#484848"/>
<circle cx="621.2" cy="34.7" r="3.2" fill="#484848"/>
<circle cx="543.4" cy="252.6" r="2.9" fill="#484848"/>
<circle cx="63.2" cy="525.4" r="4.7" fill="#484848"/>
<circle cx="279.1" cy="285.3" r="5.5" fill="#484848"/>
<circle cx="134.6" cy="381.8" r="2.9" fill="#484848"/>
<circle cx="845.1" cy="485.9" r="5.8" fill="#484848"/>
<circle cx="357.6" cy="308.1" r="3.3" fill="#484848"/>
<circle cx="328.1" cy="578.7" r="5.9" fill="#484848"/>
<circle cx="928.6" cy="551.3" r="4.0" fill="#484848"/>
<circle cx="616.9" cy="551.1" r="3.7" fill="#484848"/>
<circle cx="858.2" cy="483.9" r="3.1" fill="#484848"/>
<circle cx="335.8" cy="419.1" r="2.7" fill="#484848"/>
<circle cx="239.1" cy="117.6" r="2.4" fill="#484848"/>
<circle cx="848.4" cy="605.5" r="5.3" fill="#484848"/>
<circle cx="470.7" cy="452.9" r="4.7" fill="#484848"/>
<circle cx="412.2" cy="315.9" r="2.5" fill="#484848"/>
<circle cx="226.0" cy="208.7" r="3.4" fill="#484848"/>
<circle cx="615.7" cy="146.6" r="3.0" fill="#484848"/>
<circle cx="816.8" cy="474.7" r="5.7" fill="#484848"/>
<circle cx="727.6" cy="118.4" r="4.0" fill="#484848"/>
<circle cx="778.9" cy="489.4" r="2.9" fill="#484848"/>
<circle cx="450.6" cy="357.6" r="2.0" fill="#484848"/>
<circle cx="227.5" cy="450.1" r="4.7" fill="#484848"/>
<circle cx="417.6" cy="346.6" r="4.1" fill="#484848"/>
<circle cx="323.0" cy="51.7" r="5.0" fill="#484848"/>
<circle cx="721.6" cy="264.0" r="5.1" fill="#484848"/>
<circle cx="772.9" cy="419.8" r="5.2" fill="#484848"/>
<circle cx="902.6" cy="24.2" r="5.8" fill="#484848"/>
<circle cx="422.4" cy="472.1" r="4.9" fill="#484848"/>
<circle cx="92.0" cy="356.0" r="2.4" fill="#484848"/>
<circle cx="683.4" cy="205.6" r="3.5" fill="#484848"/>
<circle cx="254.9" cy="491.5" r="4.6" fill="#484848"/>
<circle cx="278.8" cy="449.8" r="2.7" fill="#484848"/>
<circle cx="749.1" cy="366.9" r="5.1" fill="#484848"/>
<circle cx="575.5" cy="598.2" r="4.8" fill="#484848"/>
<circle cx="433.3" cy="358.5" r="4.3" fill="#484848"/>
<circle cx="266.6" cy="185.9" r="5.2" fill="#484848"/>
<circle cx="764.0" cy="585.9" r="4.7" fill="#484848"/>
<circle cx="471.5" cy="239.7" r="4.8" fill="#484848"/>
<circle cx="606.2" cy="572.6" r="5.0" fill="#484848"/>
<circle cx="358.5" cy="169.0" r="2.2" fill="#484848"/>
<circle cx="728.9" cy="259.7" r="3.6" fill="#484848"/>
<circle cx="49.4" cy="300.6" r="5.6" fill="#484848"/>
<circle cx="259.0" cy="451.2" r="5.0" fill="#484848"/>
<circle cx="616.6" cy="361.7" r="3.0" fill="#484848"/>
<circle cx="630.0" cy="354.8" r="5.9" fill="#484848"/>
<circle cx="481.2" cy="215.2" r="5.6" fill="#484848"/>
<circle cx="583.3" cy="207.2" r="4.6" fill="#484848"/>
<circle cx="142.4" cy="114.5" r="5.5" fill="#484848"/>
<circle cx="432.7" cy="486.8" r="2.9" fill="#484848"/>
<circle cx="439.7" cy="144.0" r="5.2" fill="#484848"/>
<circle cx="557.8" cy="238.8" r="3.5" fill="#484848"/>
<circle cx="197.3" cy="127.8" r="4.8" fill="#484848"/>
<circle cx="291.6" cy="63.4" r="3.5" fill="#484848"/>
<circle cx="423.0" cy="599.8" r="3.5" fill="#484848"/>
<circle cx="376.6" cy="590.0" r="4.9" fill="#484848"/>
<circle cx="428.5" cy="241.6" r="2.9" fill="#484848"/>
<circle cx="142.5" cy="286.7" r="4.6" fill="#484848"/>
<circle cx="98.9" cy="289.2" r="2.7" fill="#484848"/>
<circle cx="562.0" cy="209.1" r="4.7" fill="#484848"/>
<circle cx="731.2" cy="245.6" r="3.5" fill="#484848"/>
<circle cx="73.6" cy="128.6" r="4.5" fill="#484848"/>
<circle cx="753.6" cy="84.1" r="5.9" fill="#484848"/>
<circle cx="853.9" cy="222.0" r="4.2" fill="#484848"/>
<circle cx="628.2" cy="199.8" r="3.5" fill="#484848"/>
<circle cx="674.1" cy="294.1" r="3.7" fill="#484848"/>
<circle cx="525.6" cy="70.6" r="3.9" fill="#484848"/>
<circle cx="275.0" cy="101.5" r="4.1" fill="#484848"/>
<circle cx="655.9" cy="319.2" r="4.0" fill="#484848"/>
<circle cx="625.6" cy="255.9" r="5.9" fill="#484848"/>
<circle cx="199.9" cy="5.0" r="4.3" fill="#484848"/>
<circle cx="649.4" cy="232.2" r="3.6" fill="#484848"/>
<circle cx="320.2" cy="147.5" r="5.2" fill="#484848"/>
<circle cx="806.3" cy="169.4" r="4.3" fill="#484848"/>
<circle cx="429.3" cy="79.8" r="4.9" fill="#484848"/>
<circle cx="496.7" cy="601.3" r="5.6" fill="#484848"/>
<circle cx="843.8" cy="158.9" r="2.4" fill="#484848"/>
<circle cx="756.6" cy="65.7" r="4.7" fill="#484848"/>
<circle cx="164.0" cy="428.0" r="2.2" fill="#484848"/>
<circle cx="81.8" cy="526.8" r="4.1" fill="#484848"/>
<circle cx="420.8" cy="590.1" r="5.1" fill="#484848"/>
<circle cx="210.8" cy="428.5" r="3.5" fill="#484848"/>
<circle cx="433.3" cy="190.0" r="2.9" fill="#484848"/>
<circle cx="282.7" cy="165.6" r="2.8" fill="#484848"/>
<circle cx="816.2" cy="230.0" r="4.2" fill="#484848"/>
<circle cx="757.7" cy="411.7" r="2.6" fill="#484848"/>
<circle cx="890.0" cy="565.6" r="5.4" fill="#484848"/>
<circle cx="307.8" cy="504.0" r="4.6" fill="#484848"/>
<circle cx="29.2" cy="229.2" r="4.8" fill="#484848"/>
<circle cx="508.4" cy="575.3" r="5.2" fill="#484848"/>
<circle cx="781.1" cy="595.0" r="3.4" fill="#484848"/>
<circle cx="847.9" cy="1.5" r="5.2" fill="#484848"/>
<circle cx="82.1" cy="303.3" r="3.8" fill="#484848"/>
<circle cx="67.1" cy="386.4" r="5.2" fill="#484848"/>
<circle cx="208.8" cy="148.9" r="5.1" fill="#484848"/>
<circle cx="493.7" cy="11.2" r="3.2" fill="#484848"/>
<circle cx="881.4" cy="167.5" r="3.2" fill="#484848"/>
<circle cx="421.3" cy="538.1" r="5.2" fill="#484848"/>
<circle cx="359.6" cy="404.3" r="2.1" fill="#484848"/>
<circle cx="60.6" cy="225.8" r="4.5" fill="#484848"/>
<circle cx="131.3" cy="26.0" r="5.4" fill="#484848"/>
<circle cx="173.7" cy="33.2" r="2.3" fill="#484848"/>
<circle cx="73.8" cy="173.5" r="4.3" fill="#484848"/>
<circle cx="613.1" cy="173.5" r="4.1" fill="#484848"/>
<circle cx="310.5" cy="352.0" r="2.4" fill="#484848"/>
<circle cx="582.9" cy="0.2" r="5.7" fill="#484848"/>
<circle cx="195.5" cy="336.5" r="2.8" fill="#484848"/>
<circle cx="415.2" cy="160.6" r="4.6" fill="#484848"/>
<circle cx="727.9" cy="512.6" r="5.9" fill="#484848"/>
<circle cx="425.3" cy="333.5" r="3.4" fill="#484848"/>
<circle cx="269.2" cy="308.4" r="5.9" fill="#484848"/>
<circle cx="52.0" cy="453.6" r="3.3" fill="#484848"/>
<circle cx="558.2" cy="161.2" r="4.9" fill="#484848"/>
<circle cx="463.4" cy="188.2" r="3.8" fill="#484848"/>
<circle cx="4.3" cy="59.5" r="5.6" fill="#484848"/>
<circle cx="76.9" cy="241.3" r="4.7" fill="#484848"/>
<circle cx="33.9" cy="565.2" r="2.8" fill="#484848"/>
<circle cx="898.8" cy="263.2" r="4.3" fill="#484848"/>
<circle cx="563.9" cy="54.0" r="4.0" fill="#484848"/>
<circle cx="700.0" cy="479.2" r="4.9" fill="#484848"/>
<circle cx="635.5" cy="77.7" r="3.6" fill="#484848"/>
<circle cx="475.6" cy="24.7" r="5.1" fill="#484848"/>
<circle cx="95.4" cy="342.5" r="3.1" fill="#484848"/>
<circle cx="152.2" cy="578.2" r="4.5" fill="#484848"/>
<circle cx="684.3" cy="368.1" r="4.3" fill="#484848"/>
<circle cx="815.0" cy="38.4" r="3.5" fill="#484848"/>
<circle cx="204.5" cy="362.1" r="3.6" fill="#484848"/>
<circle cx="860.0" cy="141.5" r="3.1" fill="#484848"/>
<circle cx="856.8" cy="437.6" r="3.7" fill="#484848"/>
<circle cx="348.8" cy="445.5" r="2.6" fill="#484848"/>
<circle cx="674.2" cy="137.6" r="5.2" fill="#484848"/>
<circle cx="69.0" cy="554.9" r="5.4" fill="#484848"/>
<circle cx="22.8" cy="97.0" r="5.7" fill="#484848"/>
<circle cx="765.0" cy="177.2" r="5.2" fill="#484848"/>
<circle cx="541.7" cy="149.9" r="4.8" fill="#484848"/>
<circle cx="387.4" cy="86.2" r="5.4" fill="#484848"/>
<circle cx="670.1" cy="148.0" r="3.7" fill="#484848"/>
<circle cx="637.7" cy="225.3" r="3.0" fill="#484848"/>
<circle cx="491.7" cy="577.0" r="2.3" fill="#b0b0b0"/>
<circle cx="235.2" cy="293.2" r="5.0" fill="#b0b0b0"/>
<circle cx="927.1" cy="5.1" r="3.9" fill="#b0b0b0"/>
<circle cx="129.1" cy="125.6" r="2.4" fill="#b0b0b0"/>
<circle cx="466.8" cy="603.1" r="4.9" fill="#b0b0b0"/>
<circle cx="343.0" cy="545.2" r="4.1" fill="#b0b0b0"/>
<circle cx="69.4" cy="546.9" r="2.8" fill="#b0b0b0"/>
<circle cx="914.0" cy="80.2" r="4.7" fill="#b0b0b0"/>
<circle cx="478.9" cy="312.8" r="2.5" fill="#b0b0b0"/>
<circle cx="456.1" cy="461.0" r="3.7" fill="#b0b0b0"/>
<circle cx="915.6" cy="324.4" r="4.7" fill="#b0b0b0"/>
<circle cx="124.8" cy="447.2" r="3.8" fill="#b0b0b0"/>
<circle cx="824.6" cy="203.9" r="3.4" fill="#b0b0b0"/>
<circle cx="759.2" cy="155.2" r="3.1" fill="#b0b0b0"/>
<circle cx="790.6" cy="393.6" r="3.5" fill="#b0b0b0"/>
<circle cx="14.6" cy="463.6" r="3.2" fill="#b0b0b0"/>
<circle cx="222.0" cy="234.3" r="2.4" fill="#b0b0b0"/>
<circle cx="785.3" cy="484.0" r="4.9" fill="#b0b0b0"/>
<circle cx="629.6" cy="97.8" r="3.3" fill="#b0b0b0"/>
<circle cx="929.9" cy="0.6" r="3.0" fill="#b0b0b0"/>
<circle cx="139.3" cy="103.6" r="2.8" fill="#b0b0b0"/>
<circle cx="578.2" cy="40.9" r="4.6" fill="#b0b0b0"/>
<circle cx="401.8" cy="105.1" r="2.3" fill="#b0b0b0"/>
<circle cx="490.1" cy="212.0" r="3.5" fill="#b0b0b0"/>
<circle cx="100.8" cy="215.6" r="3.5" fill="#b0b0b0"/>
<circle cx="78.7" cy="304.4" r="4.5" fill="#b0b0b0"/>
<circle cx="550.9" cy="78.4" r="3.9" fill="#b0b0b0"/>
<circle cx="77.3" cy="86.2" r="2.0" fill="#b0b0b0"/>
<circle cx="495.4" cy="107.8" r="2.8" fill="#b0b0b0"/>
<circle cx="112.6" cy="543.3" r="2.4" fill="#b0b0b0"/>
<circle cx="629.9" cy="489.4" r="3.3" fill="#b0b0b0"/>
<circle cx="544.1" cy="202.3" r="4.5" fill="#b0b0b0"/>
<circle cx="640.4" cy="47.3" r="4.1" fill="#b0b0b0"/>
<circle cx="131.4" cy="292.0" r="2.6" fill="#b0b0b0"/>
<circle cx="452.4" cy="397.7" r="4.2" fill="#b0b0b0"/>
<circle cx="303.9" cy="33.2" r="3.4" fill="#b0b0b0"/>
<circle cx="854.1" cy="335.1" r="3.9" fill="#b0b0b0"/>
<circle cx="715.1" cy="387.3" r="4.8" fill="#b0b0b0"/>
<circle cx="891.6" cy="448.3" r="4.4" fill="#b0b0b0"/>
<circle cx="132.4" cy="160.6" r="4.1" fill="#b0b0b0"/>
<circle cx="542.1" cy="523.3" r="4.3" fill="#b0b0b0"/>
<circle cx="309.5" cy="104.0" r="4.0" fill="#b0b0b0"/>
<circle cx="103.6" cy="300.4" r="2.8" fill="#b0b0b0"/>
<circle cx="374.7" cy="397.0" r="3.9" fill="#b0b0b0"/>
<circle cx="576.7" cy="36.7" r="4.7" fill="#b0b0b0"/>
<circle cx="658.3" cy="550.6" r="3.8" fill="#b0b0b0"/>
<circle cx="603.8" cy="539.2" r="4.2" fill="#b0b0b0"/>
<circle cx="592.7" cy="24.3" r="2.1" fill="#b0b0b0"/>
<circle cx="669.5" cy="514.1" r="3.2" fill="#b0b0b0"/>
<circle cx="196.7" cy="267.9" r="4.5" fill="#b0b0b0"/>
<circle cx="705.6" cy="79.2" r="2.6" fill="#b0b0b0"/>
<circle cx="194.1" cy="452.5" r="2.8" fill="#b0b0b0"/>
<circle cx="830.0" cy="249.9" r="2.6" fill="#b0b0b0"/>
<circle cx="388.0" cy="84.9" r="4.6" fill="#b0b0b0"/>
<circle cx="21.6" cy="252.9" r="3.1" fill="#b0b0b0"/>
<circle cx="35.9" cy="134.7" r="5.0" fill="#b0b0b0"/>
<circle cx="802.3" cy="255.4" r="4.6" fill="#b0b0b0"/>
<circle cx="848.3" cy="520.5" r="4.2" fill="#b0b0b0"/>
<circle cx="529.7" cy="310.5" r="4.1" fill="#b0b0b0"/>
<circle cx="561.8" cy="590.7" r="2.5" fill="#b0b0b0"/>
<circle cx="839.2" cy="458.3" r="3.3" fill="#b0b0b0"/>
<circle cx="792.1" cy="173.8" r="3.2" fill="#b0b0b0"/>
<circle cx="538.7" cy="588.7" r="2.7" fill="#b0b0b0"/>
<circle cx="791.5" cy="399.0" r="4.8" fill="#b0b0b0"/>
<circle cx="280.2" cy="402.8" r="4.7" fill="#b0b0b0"/>
<circle cx="825.7" cy="423.9" r="4.5" fill="#b0b0b0"/>
<circle cx="592.2" cy="335.4" r="2.6" fill="#b0b0b0"/>
<circle cx="484.2" cy="593.0" r="4.8" fill="#b0b0b0"/>
<circle cx="39.3" cy="184.3" r="2.7" fill="#b0b0b0"/>
<circle cx="786.6" cy="110.5" r="4.3" fill="#b0b0b0"/>
<circle cx="183.3" cy="206.3" r="4.9" fill="#b0b0b0"/>
<circle cx="117.1" cy="353.1" r="2.8" fill="#b0b0b0"/>
<circle cx="706.0" cy="40.7" r="4.0" fill="#b0b0b0"/>
<circle cx="240.5" cy="581.1" r="3.0" fill="#b0b0b0"/>
<circle cx="625.1" cy="17.4" r="4.8" fill="#b0b0b0"/>
<circle cx="591.8" cy="554.9" r="4.2" fill="#b0b0b0"/>
<circle cx="56.3" cy="451.4" r="3.1" fill="#b0b0b0"/>
<circle cx="187.5" cy="540.6" r="4.0" fill="#b0b0b0"/>
<circle cx="326.1" cy="43.6" r="3.9" fill="#b0b0b0"/>
<circle cx="55.6" cy="145.2" r="2.1" fill="#b0b0b0"/>
<circle cx="160.8" cy="453.8" r="2.8" fill="#b0b0b0"/>
<circle cx="921.1" cy="169.5" r="4.4" fill="#b0b0b0"/>
<circle cx="687.4" cy="390.6" r="3.8" fill="#b0b0b0"/>
<circle cx="130.7" cy="503.0" r="4.8" fill="#b0b0b0"/>
<circle cx="496.0" cy="113.6" r="2.3" fill="#b0b0b0"/>
<circle cx="239.1" cy="590.0" r="3.0" fill="#b0b0b0"/>
<circle cx="261.9" cy="318.9" r="2.1" fill="#b0b0b0"/>
<circle cx="737.5" cy="473.2" r="2.9" fill="#b0b0b0"/>
<circle cx="27.8" cy="546.2" r="4.4" fill="#b0b0b0"/>
<circle cx="713.5" cy="127.8" r="4.9" fill="#b0b0b0"/>
<circle cx="598.6" cy="19.3" r="4.9" fill="#b0b0b0"/>
<circle cx="652.2" cy="111.7" r="4.7" fill="#b0b0b0"/>
<circle cx="557.7" cy="386.4" r="2.1" fill="#b0b0b0"/>
<circle cx="199.4" cy="480.9" r="2.0" fill="#b0b0b0"/>
<circle cx="181.0" cy="42.2" r="3.7" fill="#b0b0b0"/>
<circle cx="128.7" cy="476.1" r="3.4" fill="#b0b0b0"/>
<circle cx="730.7" cy="554.4" r="4.9" fill="#b0b0b0"/>
<circle cx="179.1" cy="221.2" r="4.4" fill="#b0b0b0"/>
<circle cx="310.5" cy="569.4" r="3.0" fill="#b0b0b0"/>
<circle cx="585.4" cy="155.4" r="4.2" fill="#b0b0b0"/>
<circle cx="264.7" cy="256.2" r="4.2" fill="#b0b0b0"/>
<circle cx="773.5" cy="85.1" r="2.5" fill="#b0b0b0"/>
<circle cx="198.0" cy="465.7" r="4.0" fill="#b0b0b0"/>
<circle cx="669.8" cy="490.2" r="2.7" fill="#b0b0b0"/>
<circle cx="463.8" cy="3.0" r="3.1" fill="#b0b0b0"/>
<circle cx="561.2" cy="158.0" r="4.4" fill="#b0b0b0"/>
<circle cx="198.3" cy="268.3" r="4.1" fill="#b0b0b0"/>
<circle cx="207.1" cy="402.8" r="3.2" fill="#b0b0b0"/>
<circle cx="45.2" cy="64.0" r="4.0" fill="#b0b0b0"/>
<circle cx="768.2" cy="412.6" r="4.6" fill="#b0b0b0"/>
<circle cx="621.7" cy="472.6" r="4.5" fill="#b0b0b0"/>
<circle cx="556.1" cy="322.6" r="2.5" fill="#b0b0b0"/>
<circle cx="220.6" cy="52.1" r="2.3" fill="#b0b0b0"/>
<circle cx="365.9" cy="177.4" r="3.7" fill="#b0b0b0"/>
<circle cx="773.6" cy="163.2" r="4.7" fill="#b0b0b0"/>
<circle cx="779.0" cy="116.6" r="3.8" fill="#b0b0b0"/>
<circle cx="184.4" cy="39.3" r="2.7" fill="#b0b0b0"/>
<circle cx="190.7" cy="4.6" r="2.1" fill="#b0b0b0"/>
<circle cx="754.0" cy="525.2" r="4.6" fill="#b0b0b0"/>
<circle cx="68.6" cy="14.3" r="4.6" fill="#b0b0b0"/>
<circle cx="349.9" cy="209.6" r="4.1" fill="#b0b0b0"/>
<circle cx="495.7" cy="199.9" r="2.5" fill="#b0b0b0"/>
<circle cx="107.3" cy="432.3" r="4.7" fill="#b0b0b0"/>
<circle cx="35.8" cy="135.5" r="3.6" fill="#b0b0b0"/>
<circle cx="248.9" cy="296.9" r="3.5" fill="#b0b0b0"/>
<circle cx="246.4" cy="71.1" r="3.3" fill="#b0b0b0"/>
<circle cx="757.5" cy="84.0" r="3.6" fill="#b0b0b0"/>
<circle cx="757.1" cy="346.3" r="3.0" fill="#b0b0b0"/>
<circle cx="867.0" cy="474.3" r="5.0" fill="#b0b0b0"/>
<circle cx="280.0" cy="293.7" r="3.4" fill="#b0b0b0"/>
<circle cx="785.0" cy="376.2" r="3.7" fill="#b0b0b0"/>
<circle cx="480.7" cy="540.8" r="3.1" fill="#b0b0b0"/>
<circle cx="122.6" cy="107.0" r="2.7" fill="#b0b0b0"/>
<circle cx="89.4" cy="592.8" r="3.7" fill="#b0b0b0"/>
<circle cx="745.2" cy="275.7" r="3.6" fill="#b0b0b0"/>
<circle cx="210.4" cy="540.7" r="3.3" fill="#b0b0b0"/>
<circle cx="379.1" cy="450.6" r="4.6" fill="#b0b0b0"/>
<circle cx="931.7" cy="292.1" r="3.3" fill="#b0b0b0"/>
<circle cx="771.5" cy="257.9" r="2.6" fill="#b0b0b0"/>
<circle cx="446.4" cy="185.7" r="2.8" fill="#b0b0b0"/>
<circle cx="721.6" cy="211.9" r="3.9" fill="#b0b0b0"/>
<circle cx="282.9" cy="69.3" r="4.3" fill="#b0b0b0"/>
<circle cx="723.7" cy="427.9" r="3.8" fill="#b0b0b0"/>
<circle cx="162.8" cy="304.4" r="4.5" fill="#b0b0b0"/>
<circle cx="732.5" cy="358.7" r="3.9" fill="#b0b0b0"/>
<circle cx="159.3" cy="33.5" r="4.5" fill="#b0b0b0"/>
<circle cx="17.1" cy="153.9" r="3.2" fill="#b0b0b0"/>
<circle cx="654.0" cy="423.0" r="4.6" fill="#b0b0b0"/>
<circle cx="868.5" cy="164.8" r="2.7" fill="#b0b0b0"/>
<circle cx="114.1" cy="200.3" r="2.3" fill="#b0b0b0"/>
<circle cx="897.7" cy="349.0" r="3.5" fill="#b0b0b0"/>
<circle cx="53.7" cy="553.6" r="2.7" fill="#b0b0b0"/>
<circle cx="718.9" cy="124.3" r="2.8" fill="#b0b0b0"/>
<circle cx="128.1" cy="324.7" r="2.9" fill="#b0b0b0"/>
<circle cx="533.8" cy="434.0" r="2.7" fill="#b0b0b0"/>
<circle cx="122.9" cy="312.8" r="3.2" fill="#b0b0b0"/>
<circle cx="417.3" cy="223.6" r="2.5" fill="#b0b0b0"/>
<circle cx="114.6" cy="441.4" r="3.9" fill="#b0b0b0"/>
<circle cx="642.4" cy="387.6" r="3.5" fill="#b0b0b0"/>
<circle cx="183.6" cy="554.8" r="3.6" fill="#b0b0b0"/>
<circle cx="427.8" cy="158.6" r="3.1" fill="#b0b0b0"/>
<circle cx="916.2" cy="246.6" r="4.4" fill="#b0b0b0"/>
<circle cx="116.1" cy="363.7" r="2.8" fill="#b0b0b0"/>
<circle cx="218.7" cy="184.3" r="3.2" fill="#b0b0b0"/>
<circle cx="601.2" cy="247.3" r="4.6" fill="#b0b0b0"/>
<circle cx="144.8" cy="519.2" r="3.3" fill="#b0b0b0"/>
<circle cx="740.2" cy="239.6" r="2.8" fill="#b0b0b0"/>
<circle cx="835.5" cy="386.4" r="4.2" fill="#b0b0b0"/>
<circle cx="488.0" cy="431.3" r="4.9" fill="#b0b0b0"/>
<circle cx="691.8" cy="588.1" r="3.0" fill="#b0b0b0"/>
<circle cx="278.2" cy="536.2" r="4.5" fill="#b0b0b0"/>
<circle cx="830.0" cy="264.3" r="3.2" fill="#b0b0b0"/>
<circle cx="884.8" cy="123.0" r="2.5" fill="#b0b0b0"/>
<circle cx="160.6" cy="183.7" r="3.3" fill="#b0b0b0"/>
<circle cx="357.8" cy="279.3" r="2.1" fill="#b0b0b0"/>
<circle cx="319.4" cy="308.4" r="2.2" fill="#b0b0b0"/>
<circle cx="449.7" cy="549.4" r="4.0" fill="#b0b0b0"/>
<circle cx="883.6" cy="522.0" r="3.5" fill="#b0b0b0"/>
<circle cx="19.7" cy="36.1" r="3.7" fill="#b0b0b0"/>
<circle cx="787.0" cy="201.3" r="2.4" fill="#b0b0b0"/>
<circle cx="708.9" cy="327.2" r="3.4" fill="#b0b0b0"/>
<circle cx="119.3" cy="336.2" r="3.7" fill="#b0b0b0"/>
<circle cx="663.6" cy="547.6" r="2.2" fill="#b0b0b0"/>
<circle cx="776.2" cy="195.1" r="3.2" fill="#b0b0b0"/>
<circle cx="321.3" cy="490.2" r="3.3" fill="#b0b0b0"/>
<circle cx="66.7" cy="287.8" r="2.4" fill="#b0b0b0"/>
<circle cx="14.8" cy="30.9" r="3.1" fill="#b0b0b0"/>
<circle cx="420.9" cy="0.4" r="2.4" fill="#b0b0b0"/>
<circle cx="842.3" cy="330.1" r="4.9" fill="#b0b0b0"/>
<circle cx="506.6" cy="579.2" r="4.1" fill="#b0b0b0"/>
<circle cx="361.7" cy="30.5" r="2.4" fill="#b0b0b0"/>
<circle cx="740.0" cy="401.9" r="2.9" fill="#b0b0b0"/>
<circle cx="152.5" cy="388.5" r="4.8" fill="#b0b0b0"/>
<circle cx="232.0" cy="605.1" r="3.6" fill="#b0b0b0"/>
<circle cx="194.4" cy="110.7" r="4.1" fill="#b0b0b0"/>
<circle cx="866.8" cy="123.4" r="2.7" fill="#b0b0b0"/>
<circle cx="133.6" cy="126.5" r="2.7" fill="#b0b0b0"/>
<circle cx="389.9" cy="144.3" r="4.0" fill="#b0b0b0"/>
<circle cx="224.0" cy="161.7" r="3.3" fill="#b0b0b0"/>
<circle cx="158.1" cy="31.0" r="2.3" fill="#b0b0b0"/>
<circle cx="4.5" cy="409.1" r="2.1" fill="#b0b0b0"/>
<circle cx="447.9" cy="539.7" r="3.8" fill="#b0b0b0"/>
<circle cx="286.0" cy="244.1" r="3.3" fill="#b0b0b0"/>
<circle cx="299.8" cy="32.6" r="2.5" fill="#b0b0b0"/>
<circle cx="133.7" cy="126.2" r="3.0" fill="#b0b0b0"/>
<circle cx="95.9" cy="373.7" r="2.6" fill="#b0b0b0"/>
<circle cx="476.7" cy="420.8" r="3.5" fill="#b0b0b0"/>
<circle cx="692.2" cy="473.5" r="3.3" fill="#b0b0b0"/>
<circle cx="198.3" cy="25.8" r="4.1" fill="#b0b0b0"/>
<circle cx="343.4" cy="176.5" r="2.3" fill="#b0b0b0"/>
<circle cx="168.1" cy="541.2" r="3.4" fill="#b0b0b0"/>
<circle cx="791.3" cy="512.5" r="2.7" fill="#b0b0b0"/>
<circle cx="211.1" cy="538.2" r="2.7" fill="#b0b0b0"/>
<circle cx="558.9" cy="568.5" r="3.4" fill="#b0b0b0"/>
<circle cx="396.7" cy="581.2" r="4.6" fill="#b0b0b0"/>
<circle cx="865.8" cy="429.2" r="2.7" fill="#b0b0b0"/>
<circle cx="44.9" cy="13.1" r="4.8" fill="#b0b0b0"/>
<circle cx="507.0" cy="536.1" r="4.9" fill="#b0b0b0"/>
<circle cx="221.6" cy="588.9" r="2.8" fill="#b0b0b0"/>
<circle cx="167.3" cy="165.2" r="5.0" fill="#b0b0b0"/>
<circle cx="877.7" cy="213.9" r="3.4" fill="#b0b0b0"/>
<circle cx="769.3" cy="488.0" r="4.7" fill="#b0b0b0"/>
<circle cx="338.4" cy="141.0" r="3.5" fill="#b0b0b0"/>
<circle cx="872.4" cy="372.2" r="4.6" fill="#b0b0b0"/>
<circle cx="183.3" cy="307.9" r="4.8" fill="#b0b0b0"/>
<circle cx="533.1" cy="481.8" r="4.4" fill="#b0b0b0"/>
<circle cx="413.5" cy="418.4" r="4.1" fill="#b0b0b0"/>
<circle cx="410.5" cy="315.7" r="4.4" fill="#b0b0b0"/>
<circle cx="823.4" cy="598.9" r="3.1" fill="#b0b0b0"/>
<circle cx="631.5" cy="334.3" r="4.6" fill="#b0b0b0"/>
<circle cx="224.5" cy="283.4" r="2.8" fill="#b0b0b0"/>
<circle cx="750.2" cy="431.2" r="2.0" fill="#b0b0b0"/>
<circle cx="101.3" cy="86.0" r="3.8" fill="#b0b0b0"/>
<circle cx="724.0" cy="208.8" r="2.2" fill="#b0b0b0"/>
<circle cx="546.8" cy="372.9" r="3.3" fill="#b0b0b0"/>
<circle cx="252.9" cy="210.5" r="2.7" fill="#b0b0b0"/>
<circle cx="759.2" cy="231.6" r="4.1" fill="#b0b0b0"/>
<circle cx="512.9" cy="139.1" r="2.8" fill="#b0b0b0"/>
<circle cx="626.2" cy="523.9" r="4.8" fill="#b0b0b0"/>
<circle cx="143.8" cy="157.3" r="2.3" fill="#b0b0b0"/>
<circle cx="176.7" cy="234.6" r="4.2" fill="#b0b0b0"/>
<circle cx="855.6" cy="358.6" r="2.4" fill="#b0b0b0"/>
<circle cx="351.6" cy="87.2" r="2.8" fill="#b0b0b0"/>
<circle cx="536.6" cy="304.5" r="2.5" fill="#b0b0b0"/>
<circle cx="257.9" cy="543.9" r="3.9" fill="#b0b0b0"/>
<circle cx="561.8" cy="195.5" r="2.9" fill="#b0b0b0"/>
<circle cx="711.2" cy="9.1" r="4.0" fill="#b0b0b0"/>
<circle cx="893.1" cy="385.6" r="2.1" fill="#b0b0b0"/>
<circle cx="31.6" cy="476.5" r="2.6" fill="#b0b0b0"/>
<circle cx="394.2" cy="395.4" r="4.0" fill="#b0b0b0"/>
<path d="M60,130 Q150,75 300,50 Q450,45 600,130 Q700,180 760,230 Q795,350 800,480 Q795,570 760,607" fill="none" stroke="#949494" stroke-width="16"/>
<path d="M60,130 Q75,250 50,380 Q35,420 20,440" fill="none" stroke="#8a8a8a" stroke-width="14"/>
<path d="M40,400 Q140,430 200,480 Q250,530 280,600" fill="none" stroke="#8a8a8a" stroke-width="10"/>
<path d="M549.9,207.1 Q549.2,220.0 548.3,232.4 Q547.5,244.9 543.7,258.3 Q539.9,271.8 527.3,280.1 Q514.8,288.4 499.3,288.6 Q483.7,288.7 470.1,288.4 Q456.4,288.0 442.0,286.4 Q427.5,284.9 417.0,276.0 Q406.4,267.1 400.2,255.8 Q394.0,244.4 385.1,232.2 Q376.3,220.0 374.4,204.4 Q372.6,188.7 387.4,179.3 Q402.2,169.8 419.4,169.3 Q436.5,168.8 447.3,164.8 Q458.2,160.7 471.5,153.2 Q484.8,145.8 501.3,146.4 Q517.8,147.0 529.7,156.9 Q541.7,166.9 546.1,180.5 Q550.5,194.1 549.9,207.1Z" fill="#585858" filter="url(#blur2)" opacity="0.5"/>
<path d="M681.7,290.3 Q686.0,300.0 686.5,311.3 Q687.1,322.7 682.8,334.1 Q678.4,345.5 669.1,354.7 Q659.7,363.9 646.5,366.8 Q633.2,369.8 620.7,366.2 Q608.1,362.7 598.1,357.0 Q588.0,351.4 579.6,344.7 Q571.1,338.1 565.3,329.3 Q559.4,320.5 556.0,310.2 Q552.6,300.0 551.9,288.4 Q551.1,276.7 556.4,265.7 Q561.8,254.6 572.5,247.7 Q583.2,240.8 595.3,237.1 Q607.4,233.5 620.1,233.1 Q632.8,232.7 643.8,238.3 Q654.8,244.0 661.4,253.3 Q667.9,262.7 672.7,271.6 Q677.4,280.6 681.7,290.3Z" fill="#5c5c5c" filter="url(#blur2)" opacity="0.4"/>
<polygon points="230,140 320,130 335,200 372,260 360,320 300,362 220,350 170,320 160,230 200,170" fill="#2d2d2d" />
<circle cx="295" cy="290" r="58" fill="#7a7a7a"/>
<polygon points="520,420 620,420 668,480 650,552 560,578 455,568 470,480" fill="#2f2f2f" />
<path d="M591.4,465.3 Q593.8,470.0 593.7,475.9 Q593.7,481.7 590.5,485.7 Q587.3,489.7 584.0,492.6 Q580.8,495.4 577.5,499.4 Q574.3,503.4 569.9,504.0 Q565.5,504.5 562.5,499.7 Q559.5,494.8 558.1,490.0 Q556.7,485.2 554.9,481.8 Q553.1,478.4 552.0,474.2 Q550.8,470.0 550.4,465.1 Q550.1,460.1 549.9,453.4 Q549.7,446.7 552.4,440.7 Q555.1,434.7 560.3,435.1 Q565.5,435.5 569.4,440.0 Q573.3,444.5 575.8,447.4 Q578.3,450.3 581.0,452.4 Q583.6,454.4 586.3,457.5 Q589.0,460.6 591.4,465.3Z" fill="#6a6a6a" />
<path d="M643.6,497.4 Q647.5,500.0 647.6,503.6 Q647.8,507.3 644.7,510.2 Q641.6,513.1 637.2,514.5 Q632.8,515.9 628.3,515.6 Q623.8,515.3 620.1,515.0 Q616.4,514.6 612.0,515.1 Q607.5,515.5 603.0,514.3 Q598.4,513.1 596.8,509.8 Q595.2,506.5 595.4,503.2 Q595.7,500.0 596.2,497.0 Q596.8,493.9 599.3,491.5 Q601.8,489.0 605.1,487.2 Q608.3,485.4 611.8,483.0 Q615.2,480.5 620.2,479.6 Q625.2,478.7 628.7,481.7 Q632.2,484.8 633.1,488.2 Q634.0,491.5 636.9,493.2 Q639.7,494.8 643.6,497.4Z" fill="#6a6a6a" />
<path d="M577.9,525.8 Q578.6,530.0 575.8,533.2 Q573.1,536.4 570.1,537.1 Q567.0,537.9 566.4,540.5 Q565.7,543.2 564.4,548.1 Q563.0,553.0 559.9,553.8 Q556.8,554.5 554.5,551.2 Q552.3,547.9 550.5,545.2 Q548.8,542.5 547.2,539.8 Q545.5,537.0 545.6,533.5 Q545.7,530.0 546.6,526.9 Q547.4,523.9 547.8,520.4 Q548.2,516.8 550.0,513.9 Q551.8,511.0 554.6,510.9 Q557.5,510.8 559.9,511.9 Q562.2,513.0 564.6,513.6 Q566.9,514.1 569.5,515.2 Q572.2,516.3 574.7,519.0 Q577.3,521.6 577.9,525.8Z" fill="#6a6a6a" />
<path d="M644.5,11.5 Q649.8,20.0 645.3,28.7 Q640.9,37.3 630.8,43.6 Q620.6,49.9 611.3,56.3 Q602.0,62.8 588.8,67.6 Q575.7,72.4 560.4,71.1 Q545.1,69.7 532.1,65.7 Q519.1,61.6 506.9,57.0 Q494.6,52.3 487.6,44.6 Q480.6,37.0 480.3,28.5 Q479.9,20.0 479.4,11.3 Q478.9,2.6 483.4,-6.5 Q487.9,-15.6 502.2,-19.9 Q516.6,-24.3 531.5,-24.6 Q546.5,-24.9 560.4,-26.2 Q574.2,-27.5 589.0,-26.1 Q603.8,-24.6 614.1,-18.2 Q624.5,-11.8 631.9,-4.4 Q639.3,3.0 644.5,11.5Z" fill="#3a3a3a" />
<ellipse cx="560" cy="12" rx="32" ry="18" fill="#7a7a7a" />
<path d="M141.2,15.3 Q139.7,20.0 141.0,24.6 Q142.2,29.2 141.1,34.7 Q139.9,40.1 132.7,43.3 Q125.5,46.5 117.2,48.4 Q108.9,50.3 99.4,52.2 Q89.9,54.2 80.6,52.1 Q71.2,50.0 66.9,44.4 Q62.7,38.8 60.1,34.0 Q57.5,29.3 55.4,24.6 Q53.3,20.0 56.4,15.6 Q59.5,11.1 63.6,7.4 Q67.7,3.7 70.8,-1.7 Q73.9,-7.2 81.7,-11.4 Q89.5,-15.7 99.7,-14.7 Q109.9,-13.7 118.1,-10.5 Q126.4,-7.4 133.0,-3.7 Q139.6,0.1 141.2,5.4 Q142.8,10.7 141.2,15.3Z" fill="#333" />
<polygon points="0,440 50,450 80,520 60,607 0,607" fill="#3a3a3a" />
<circle cx="770" cy="215" r="36" fill="#9a9a9a"/>
<circle cx="505" cy="185" r="9" fill="none" stroke="#aaa" stroke-width="4"/><circle cx="655" cy="292" r="10" fill="none" stroke="#999" stroke-width="4"/>
<text x="222" y="228" font-size="30" font-weight="bold" fill="#fff">PB</text>
<text x="268" y="303" font-size="30" font-weight="bold" fill="#fff">LD</text>
<text x="238" y="478" font-size="28" font-weight="bold" fill="#eee">LD</text>
<text x="72" y="545" font-size="64" font-weight="bold" fill="#fff">5μm</text>
<line x1="95" y1="582" x2="195" y2="582" stroke="#fff" stroke-width="10"/>
</g></g></g>
</svg>
</body></html>
